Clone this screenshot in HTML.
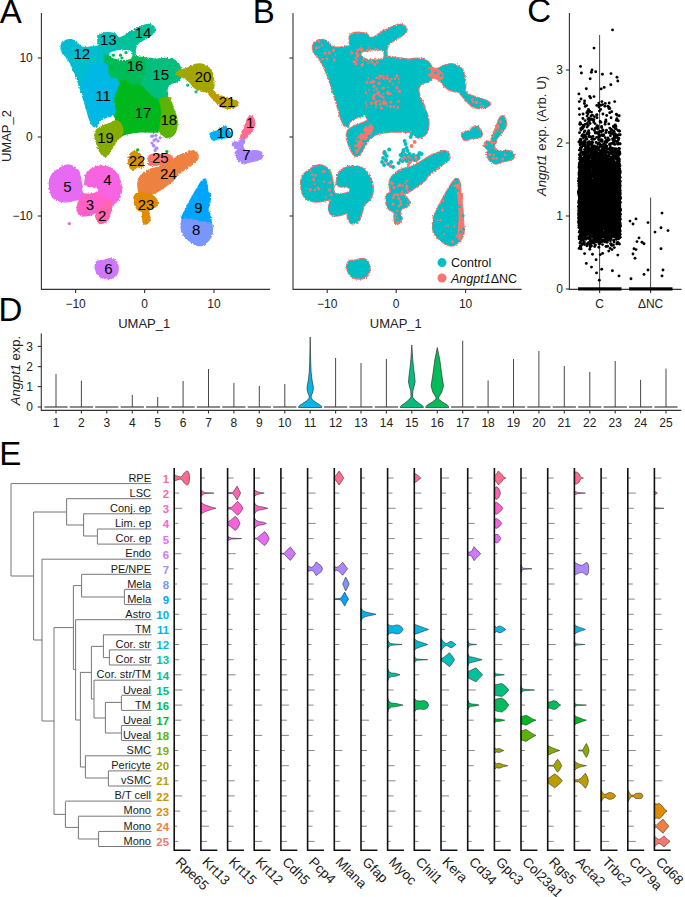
<!DOCTYPE html>
<html><head><meta charset="utf-8"><style>
html,body{margin:0;padding:0;background:#fff;}
svg{display:block;}
text{font-family:"Liberation Sans", sans-serif;}
</style></head><body>
<svg width="685" height="897" viewBox="0 0 685 897">
<rect width="685" height="897" fill="#fff"/>
<text x="-0.3" y="22.7" font-size="33" fill="#000">A</text>
<text x="252.8" y="22.7" font-size="33" fill="#000">B</text>
<text x="527.2" y="22.3" font-size="33" fill="#000">C</text>
<text x="-1.5" y="320.7" font-size="33" fill="#000">D</text>
<text x="-0.7" y="464.9" font-size="33" fill="#000">E</text>
<defs><filter id="rough" x="-5%" y="-5%" width="110%" height="110%"><feTurbulence type="fractalNoise" baseFrequency="0.6" numOctaves="2" seed="3" result="n"/><feDisplacementMap in="SourceGraphic" in2="n" scale="2.8" xChannelSelector="R" yChannelSelector="G"/></filter></defs>
<g filter="url(#rough)">
<path d="M61.2,45.5 C61.8,43.6 63.6,41.8 65.3,40.8 C67.0,39.9 69.6,39.6 71.5,39.8 C73.3,40.1 75.0,41.4 76.6,42.5 C78.1,43.6 79.0,45.7 80.7,46.6 C82.4,47.4 84.6,47.6 86.8,47.6 C89.0,47.6 91.7,46.8 93.9,46.6 C96.2,46.3 98.0,45.8 100.1,46.2 C102.1,46.5 104.7,47.0 106.2,48.6 C107.7,50.2 108.8,52.7 109.3,55.8 C109.8,58.8 111.0,64.6 109.3,67.0 C107.6,69.4 102.1,69.0 99.0,70.1 C96.0,71.1 92.9,70.2 90.9,73.1 C88.8,76.0 87.1,82.0 86.8,87.4 C86.4,92.9 88.0,100.0 88.8,105.8 C89.7,111.6 90.6,118.7 91.9,122.2 C93.2,125.7 96.4,126.1 96.6,126.7 C96.8,127.3 94.5,127.0 93.3,125.9 C92.2,124.8 90.9,122.8 89.9,120.1 C88.8,117.5 87.8,113.3 86.8,109.9 C85.8,106.5 84.7,103.1 83.7,99.7 C82.7,96.3 81.7,92.7 80.7,89.5 C79.6,86.3 78.7,83.4 77.6,80.3 C76.5,77.2 75.3,74.0 74.1,71.1 C72.9,68.2 71.7,65.3 70.4,62.9 C69.1,60.5 67.7,58.6 66.3,56.8 C65.0,55.0 63.1,54.2 62.3,52.3 C61.4,50.4 60.7,47.5 61.2,45.5Z" fill="#00BDD0" stroke="#00BDD0" stroke-width="1.4" stroke-linejoin="round"/>
<path d="M98.0,36.3 C98.5,34.8 99.2,33.9 101.1,33.3 C103.0,32.7 106.9,32.5 109.3,32.7 C111.7,32.8 113.9,33.4 115.4,34.3 C116.9,35.3 117.6,37.4 118.5,38.4 C119.3,39.4 119.7,39.8 120.5,40.4 C121.4,41.1 123.6,41.1 123.6,42.5 C123.6,43.8 121.5,47.2 120.5,48.6 C119.5,50.0 119.0,50.5 117.4,51.1 C115.9,51.7 112.8,51.8 111.3,52.3 C109.8,52.7 109.3,53.1 108.2,53.7 C107.2,54.3 106.1,55.9 105.2,55.8 C104.3,55.6 103.7,53.9 102.7,52.7 C101.8,51.5 100.2,50.3 99.5,48.6 C98.7,46.9 98.3,44.5 98.0,42.5 C97.8,40.4 97.5,37.9 98.0,36.3Z" fill="#00C0B8" stroke="#00C0B8" stroke-width="1.4" stroke-linejoin="round"/>
<path d="M117.4,39.4 C118.5,37.9 121.2,37.7 123.6,36.3 C126.0,35.0 129.0,32.8 131.7,31.2 C134.5,29.7 137.2,28.3 139.9,27.2 C142.6,26.0 145.9,24.7 148.1,24.5 C150.3,24.3 152.0,25.2 153.2,26.1 C154.4,27.1 155.4,28.9 155.3,30.2 C155.1,31.6 154.1,32.8 152.2,34.3 C150.3,35.8 146.4,37.9 144.0,39.4 C141.6,40.9 139.3,42.0 137.9,43.5 C136.5,45.0 135.9,46.6 135.4,48.6 C134.9,50.7 135.4,54.2 134.8,55.8 C134.2,57.3 132.8,58.7 131.7,57.8 C130.7,57.0 130.4,52.2 128.7,50.7 C127.0,49.1 123.4,49.5 121.5,48.6 C119.7,47.8 118.1,47.1 117.4,45.5 C116.8,44.0 116.4,40.9 117.4,39.4Z" fill="#00C19C" stroke="#00C19C" stroke-width="1.4" stroke-linejoin="round"/>
<path d="M104.8,55.2 C105.9,54.1 108.9,56.0 111.3,56.8 C113.8,57.6 116.4,59.6 119.5,60.1 C122.6,60.5 127.0,60.2 129.7,59.6 C132.4,59.1 133.8,57.2 135.8,56.8 C137.9,56.4 139.9,57.1 142.0,57.4 C144.0,57.7 146.2,57.8 148.1,58.4 C150.0,59.0 152.5,59.1 153.2,60.9 C153.9,62.6 153.0,66.3 152.2,69.0 C151.3,71.8 149.6,74.8 148.1,77.2 C146.6,79.6 145.0,81.9 143.0,83.4 C140.9,84.8 138.4,85.4 135.8,85.8 C133.3,86.2 130.4,86.1 127.7,85.8 C124.9,85.5 122.2,84.8 119.5,83.8 C116.8,82.7 113.4,81.8 111.3,79.7 C109.3,77.6 108.3,73.9 107.2,71.1 C106.1,68.3 105.2,65.6 104.8,62.9 C104.4,60.3 103.7,56.2 104.8,55.2Z" fill="#00BC59" stroke="#00BC59" stroke-width="1.4" stroke-linejoin="round"/>
<path d="M147.7,58.4 C149.3,57.5 153.5,59.4 156.3,59.4 C159.1,59.4 161.7,58.4 164.4,58.4 C167.2,58.4 170.3,58.6 172.6,59.4 C174.9,60.3 176.9,61.6 178.3,63.5 C179.8,65.5 180.8,68.7 181.2,71.1 C181.6,73.4 181.5,75.9 180.8,77.6 C180.0,79.4 178.4,80.7 176.7,81.7 C175.0,82.7 172.2,82.5 170.6,83.8 C168.9,85.1 167.3,87.3 166.9,89.5 C166.5,91.6 168.3,94.5 167.9,96.6 C167.6,98.8 166.5,100.9 164.9,102.2 C163.3,103.4 160.4,104.5 158.3,104.2 C156.2,103.9 154.3,101.5 152.2,100.1 C150.1,98.8 147.7,97.7 145.6,96.0 C143.6,94.3 140.6,92.3 139.9,89.9 C139.2,87.4 140.6,84.1 141.6,81.3 C142.5,78.5 144.8,75.9 145.6,73.1 C146.5,70.4 146.5,67.4 146.9,65.0 C147.2,62.5 146.1,59.3 147.7,58.4Z" fill="#00BF7D" stroke="#00BF7D" stroke-width="1.4" stroke-linejoin="round"/>
<path d="M115.0,82.9 C116.4,81.5 120.8,80.6 123.6,80.9 C126.4,81.2 129.0,84.3 131.7,85.0 C134.5,85.7 137.5,84.0 139.9,85.0 C142.3,86.0 144.0,89.1 146.1,91.1 C148.1,93.2 149.8,95.6 152.2,97.3 C154.6,99.0 158.2,99.9 160.4,101.3 C162.5,102.8 164.3,103.4 164.9,105.8 C165.4,108.3 164.3,112.6 163.8,116.1 C163.3,119.5 162.6,123.7 161.8,126.3 C160.9,128.9 161.0,130.9 158.7,131.8 C156.4,132.7 151.2,131.8 148.1,131.8 C145.0,131.8 142.6,131.6 139.9,131.8 C137.2,132.0 134.5,132.3 131.7,132.8 C129.0,133.3 126.0,134.0 123.6,134.9 C121.2,135.7 118.9,138.9 117.4,138.1 C116.0,137.4 115.1,133.0 115.0,130.4 C114.9,127.7 117.2,124.9 117.0,122.2 C116.8,119.5 114.0,116.7 113.8,114.0 C113.6,111.3 115.9,108.6 115.8,105.8 C115.7,103.1 113.1,100.4 112.9,97.7 C112.8,94.9 114.7,91.9 115.0,89.5 C115.3,87.0 113.6,84.4 115.0,82.9Z" fill="#00B81F" stroke="#00B81F" stroke-width="1.4" stroke-linejoin="round"/>
<path d="M160.0,100.3 C160.7,97.9 164.7,97.0 166.5,97.3 C168.3,97.5 169.9,100.0 171.0,101.7 C172.1,103.5 172.2,105.5 173.0,107.9 C173.9,110.3 175.4,113.3 176.1,116.1 C176.8,118.8 177.3,121.4 177.1,124.2 C177.0,127.0 176.2,130.7 175.1,132.8 C174.0,134.9 172.4,136.2 170.6,136.9 C168.7,137.6 165.8,137.9 164.0,136.9 C162.3,135.9 160.5,133.2 160.0,130.8 C159.4,128.3 160.6,125.3 161.0,122.2 C161.3,119.1 162.2,115.6 162.0,112.0 C161.8,108.3 159.2,102.8 160.0,100.3Z" fill="#5BB300" stroke="#5BB300" stroke-width="1.4" stroke-linejoin="round"/>
<path d="M96.6,130.0 C98.0,128.4 100.7,127.1 103.1,125.9 C105.6,124.7 109.1,123.7 111.3,122.8 C113.5,121.9 114.8,120.5 116.4,120.8 C118.0,121.0 119.8,122.5 120.9,124.2 C122.0,126.0 123.1,129.3 123.0,131.4 C122.8,133.5 121.1,135.1 119.9,136.9 C118.7,138.7 117.2,140.0 115.8,142.0 C114.4,144.0 113.1,146.6 111.7,148.8 C110.4,150.9 109.0,153.7 107.6,154.9 C106.3,156.1 104.9,156.6 103.5,155.9 C102.2,155.2 100.7,153.0 99.5,150.8 C98.3,148.6 97.1,145.2 96.4,142.6 C95.6,140.1 94.9,137.6 95.0,135.5 C95.0,133.4 95.2,131.6 96.6,130.0Z" fill="#85AD00" stroke="#85AD00" stroke-width="1.4" stroke-linejoin="round"/>
<path d="M90.9,66.0 C92.7,64.8 96.4,64.1 99.0,63.9 C101.7,63.8 105.4,63.4 106.8,65.0 C108.3,66.5 107.2,71.0 107.8,73.1 C108.5,75.3 109.5,76.9 110.9,77.8 C112.3,78.8 115.1,78.0 116.4,78.9 C117.8,79.7 119.0,81.2 119.1,82.9 C119.2,84.7 117.9,87.0 117.0,89.1 C116.2,91.2 114.8,93.5 114.2,95.6 C113.6,97.7 113.2,99.7 113.4,101.7 C113.5,103.8 114.9,105.8 115.0,107.9 C115.1,110.0 115.8,112.8 114.2,114.4 C112.5,116.1 107.9,116.4 105.2,117.7 C102.5,119.0 99.5,120.7 98.0,122.2 C96.6,123.7 97.4,126.3 96.6,126.7 C95.8,127.1 94.3,126.1 93.3,124.6 C92.3,123.2 91.4,120.9 90.5,118.1 C89.5,115.3 88.6,111.3 87.6,107.9 C86.6,104.5 85.2,101.1 84.3,97.7 C83.4,94.3 82.3,90.5 82.3,87.4 C82.3,84.4 83.4,82.0 84.3,79.3 C85.3,76.5 86.7,73.3 87.8,71.1 C88.9,68.9 89.0,67.2 90.9,66.0Z" fill="#00B8E5" stroke="#00B8E5" stroke-width="1.4" stroke-linejoin="round"/>
<path d="M176.0,74.3 C176.0,73.3 178.3,71.1 180.1,70.1 C181.9,69.1 184.6,69.3 186.8,68.4 C189.1,67.6 191.0,65.8 193.5,65.1 C196.0,64.4 199.4,63.8 201.9,64.2 C204.4,64.7 206.9,66.3 208.6,67.6 C210.2,68.8 211.1,69.7 211.9,71.8 C212.7,73.9 213.3,77.3 213.6,80.1 C213.9,82.9 213.9,86.5 213.6,88.5 C213.3,90.4 213.0,91.3 211.9,91.8 C210.8,92.4 209.1,92.1 206.9,91.8 C204.7,91.6 200.8,91.0 198.5,90.2 C196.3,89.3 194.9,88.1 193.5,86.8 C192.1,85.6 191.6,84.0 190.2,82.6 C188.8,81.2 186.8,79.6 185.2,78.5 C183.5,77.3 181.7,76.6 180.1,76.0 C178.6,75.3 176.0,75.3 176.0,74.3Z" fill="#A3A500" stroke="#A3A500" stroke-width="1.4" stroke-linejoin="round"/>
<path d="M211.1,90.2 C212.7,90.4 215.7,93.8 218.6,95.2 C221.5,96.6 225.8,97.6 228.6,98.5 C231.4,99.5 233.6,100.2 235.3,101.0 C237.0,101.9 238.7,102.6 238.7,103.5 C238.7,104.5 237.0,106.1 235.3,106.9 C233.6,107.7 231.1,108.7 228.6,108.6 C226.1,108.4 222.5,107.3 220.3,106.1 C218.0,104.8 217.2,103.1 215.3,101.0 C213.3,98.9 209.3,95.3 208.6,93.5 C207.9,91.7 209.4,89.9 211.1,90.2Z" fill="#BB9D00" stroke="#BB9D00" stroke-width="1.4" stroke-linejoin="round"/>
<path d="M210.2,133.6 C210.7,132.7 212.2,132.5 213.6,132.0 C215.0,131.4 217.2,131.1 218.6,130.3 C220.0,129.5 220.8,127.7 221.9,127.0 C223.1,126.3 224.3,125.8 225.3,126.1 C226.3,126.4 227.0,127.4 227.8,128.6 C228.6,129.9 230.2,132.3 230.3,133.6 C230.4,135.0 230.6,136.2 228.6,137.0 C226.7,137.8 221.1,138.1 218.6,138.7 C216.1,139.2 214.8,140.5 213.6,140.3 C212.3,140.2 211.6,138.9 211.1,137.8 C210.5,136.7 209.8,134.6 210.2,133.6Z" fill="#00B0F6" stroke="#00B0F6" stroke-width="1.4" stroke-linejoin="round"/>
<path d="M240.9,139.1 C240.5,138.2 241.0,135.4 241.5,133.6 C242.0,131.9 243.3,130.3 244.0,128.7 C244.7,127.1 245.2,125.4 245.8,123.8 C246.4,122.2 247.0,120.2 247.7,118.9 C248.4,117.6 249.3,116.5 250.1,116.2 C250.9,115.9 251.8,116.1 252.6,117.1 C253.4,118.0 254.6,120.2 254.8,122.0 C255.0,123.7 254.5,125.7 253.8,127.5 C253.1,129.2 251.9,131.0 250.7,132.4 C249.6,133.8 248.2,134.9 247.1,136.1 C245.9,137.3 245.0,139.0 244.0,139.5 C243.0,140.0 241.3,140.1 240.9,139.1Z" fill="#FF6C90" stroke="#FF6C90" stroke-width="1.4" stroke-linejoin="round"/>
<path d="M232.3,144.7 C232.4,143.8 233.8,142.3 234.8,142.0 C235.8,141.6 237.5,142.7 238.5,142.5 C239.4,142.2 239.4,140.9 240.3,140.4 C241.2,139.9 243.3,139.3 244.0,139.5 C244.7,139.7 244.8,140.7 244.6,141.6 C244.4,142.5 243.0,143.5 242.8,144.7 C242.6,145.8 242.6,147.2 243.4,148.3 C244.2,149.5 245.9,151.0 247.7,151.4 C249.4,151.8 251.8,150.8 253.8,150.8 C255.8,150.8 258.5,150.7 259.9,151.4 C261.4,152.1 262.2,153.9 262.4,155.1 C262.6,156.3 262.2,157.9 261.2,158.8 C260.1,159.7 258.1,160.1 256.3,160.6 C254.4,161.1 252.2,161.3 250.1,161.8 C248.1,162.4 245.7,163.7 244.0,163.7 C242.2,163.7 240.9,162.8 239.7,161.8 C238.5,160.9 237.3,159.6 236.6,158.2 C235.9,156.7 235.3,154.7 235.4,153.3 C235.5,151.8 237.4,150.6 237.2,149.6 C237.0,148.5 235.0,147.9 234.2,147.1 C233.4,146.3 232.2,145.5 232.3,144.7Z" fill="#AC88FF" stroke="#AC88FF" stroke-width="1.4" stroke-linejoin="round"/>
<path d="M129.3,155.9 C129.8,154.4 130.7,153.2 131.8,152.5 C132.9,151.8 134.6,151.4 136.0,151.7 C137.3,152.0 139.2,153.1 140.1,154.2 C141.1,155.3 141.2,156.9 141.8,158.4 C142.4,159.9 143.5,161.9 143.5,163.4 C143.5,164.9 142.8,167.0 141.8,167.6 C140.8,168.1 139.0,166.5 137.6,166.8 C136.2,167.0 134.7,169.1 133.4,169.3 C132.2,169.4 130.9,168.8 130.1,167.6 C129.3,166.3 128.6,163.7 128.4,161.7 C128.3,159.8 128.7,157.4 129.3,155.9Z" fill="#CF9400" stroke="#CF9400" stroke-width="1.4" stroke-linejoin="round"/>
<path d="M148.5,157.6 C148.8,156.4 148.8,155.6 150.2,155.1 C151.6,154.5 154.1,154.4 156.9,154.2 C159.6,154.1 164.4,153.8 166.9,154.2 C169.4,154.6 170.8,155.5 171.9,156.7 C173.0,158.0 173.9,160.3 173.6,161.7 C173.3,163.1 171.9,164.7 170.2,165.1 C168.6,165.5 165.8,164.2 163.5,164.2 C161.3,164.2 159.2,164.9 156.9,165.1 C154.5,165.2 150.7,165.6 149.3,165.1 C147.9,164.5 148.6,163.0 148.5,161.7 C148.4,160.5 148.2,158.7 148.5,157.6Z" fill="#F8766D" stroke="#F8766D" stroke-width="1.4" stroke-linejoin="round"/>
<path d="M138.5,179.3 C139.3,176.5 141.5,175.1 143.5,173.4 C145.4,171.8 147.9,170.2 150.2,169.3 C152.4,168.3 154.6,168.3 156.9,167.6 C159.1,166.9 161.0,166.3 163.5,165.1 C166.1,163.8 169.4,161.6 171.9,160.1 C174.4,158.5 176.1,157.1 178.6,155.9 C181.1,154.6 184.4,153.4 187.0,152.5 C189.5,151.7 191.8,150.5 193.6,150.9 C195.5,151.3 197.3,153.5 197.8,155.1 C198.4,156.6 198.2,158.4 197.0,160.1 C195.7,161.7 192.5,163.4 190.3,165.1 C188.1,166.8 185.8,168.4 183.6,170.1 C181.4,171.8 178.6,173.4 176.9,175.1 C175.3,176.8 175.3,178.5 173.6,180.1 C171.9,181.8 169.7,183.2 166.9,185.2 C164.1,187.1 159.9,190.2 156.9,191.8 C153.8,193.5 151.0,194.3 148.5,195.2 C146.0,196.0 143.5,197.7 141.8,196.9 C140.1,196.0 139.0,193.1 138.5,190.2 C137.9,187.2 137.6,182.1 138.5,179.3Z" fill="#ED8141" stroke="#ED8141" stroke-width="1.4" stroke-linejoin="round"/>
<path d="M134.3,196.0 C135.0,194.8 136.9,193.1 138.5,192.7 C140.0,192.3 141.5,193.2 143.5,193.5 C145.4,193.8 148.2,193.7 150.2,194.3 C152.1,195.0 153.9,196.3 155.2,197.7 C156.4,199.1 157.7,201.2 157.7,202.7 C157.7,204.2 156.4,205.9 155.2,206.9 C153.9,207.9 151.3,207.4 150.2,208.6 C149.1,209.7 148.5,211.9 148.5,213.6 C148.5,215.3 150.4,216.9 150.2,218.6 C149.9,220.3 147.9,222.9 146.8,223.6 C145.7,224.3 144.2,223.9 143.5,222.8 C142.8,221.7 142.8,218.7 142.6,216.9 C142.5,215.1 143.3,213.0 142.6,211.9 C141.9,210.8 139.7,211.3 138.5,210.2 C137.2,209.1 135.8,206.9 135.1,205.2 C134.4,203.5 134.4,201.7 134.3,200.2 C134.1,198.7 133.6,197.3 134.3,196.0Z" fill="#E08B00" stroke="#E08B00" stroke-width="1.4" stroke-linejoin="round"/>
<path d="M181.9,218.6 C181.1,216.6 183.9,213.3 185.3,210.2 C186.7,207.2 188.4,203.8 190.3,200.2 C192.3,196.6 195.0,191.7 197.0,188.5 C198.9,185.3 200.6,182.5 202.0,181.0 C203.4,179.4 204.5,178.6 205.4,179.3 C206.2,180.0 206.6,183.1 207.0,185.2 C207.4,187.2 207.3,190.2 207.9,191.8 C208.4,193.5 210.1,193.2 210.4,195.2 C210.6,197.1 209.9,201.3 209.5,203.5 C209.1,205.8 207.9,206.9 207.9,208.6 C207.9,210.2 209.0,211.3 209.5,213.6 C210.1,215.8 211.0,219.7 211.2,221.9 C211.4,224.2 212.5,226.7 210.7,227.0 C208.9,227.2 203.7,224.4 200.3,223.6 C196.9,222.8 193.4,222.8 190.3,221.9 C187.2,221.1 182.8,220.5 181.9,218.6Z" fill="#00A5FF" stroke="#00A5FF" stroke-width="1.4" stroke-linejoin="round"/>
<path d="M181.1,227.0 C181.0,224.7 180.7,221.5 182.3,220.3 C183.8,219.0 187.3,219.2 190.3,219.4 C193.3,219.7 196.9,221.2 200.3,221.9 C203.7,222.6 208.8,221.7 210.7,223.6 C212.7,225.6 212.4,230.9 212.0,233.6 C211.7,236.4 210.4,238.4 208.7,240.3 C207.0,242.3 204.2,244.7 202.0,245.4 C199.8,246.0 197.5,245.4 195.3,244.5 C193.1,243.7 190.7,242.1 188.6,240.3 C186.5,238.5 184.0,235.9 182.8,233.6 C181.5,231.4 181.2,229.2 181.1,227.0Z" fill="#7997FF" stroke="#7997FF" stroke-width="1.4" stroke-linejoin="round"/>
<path d="M49.2,183.4 C49.2,180.1 50.2,177.5 51.7,175.1 C53.2,172.7 55.9,170.9 58.4,169.2 C60.9,167.6 64.2,165.5 66.8,165.1 C69.3,164.6 71.4,165.6 73.4,166.7 C75.5,167.8 77.6,169.6 78.8,171.7 C80.0,173.8 80.1,177.0 80.6,179.3 C81.1,181.5 81.3,183.3 81.8,185.1 C82.3,186.9 83.0,188.7 83.5,190.1 C84.0,191.6 85.1,192.5 84.8,193.8 C84.5,195.2 83.7,197.0 81.8,198.2 C79.9,199.3 76.2,199.9 73.4,200.5 C70.7,201.1 67.9,201.9 65.1,201.8 C62.3,201.8 59.0,201.3 56.7,200.2 C54.5,199.1 53.0,197.9 51.7,195.2 C50.5,192.4 49.2,186.8 49.2,183.4Z" fill="#E76BF3" stroke="#E76BF3" stroke-width="1.4" stroke-linejoin="round"/>
<path d="M84.8,183.4 C85.4,181.1 84.8,176.1 86.5,173.4 C88.2,170.7 92.3,168.5 95.2,167.2 C98.0,166.0 100.7,165.8 103.5,166.1 C106.4,166.3 109.8,167.2 112.2,168.9 C114.7,170.6 116.6,173.4 118.1,176.4 C119.6,179.4 121.1,183.3 121.4,186.8 C121.7,190.2 121.1,194.4 119.9,197.2 C118.8,199.9 116.0,201.7 114.4,203.2 C112.8,204.7 111.5,206.2 110.2,206.0 C109.0,205.8 108.1,203.2 106.9,201.8 C105.6,200.4 104.2,199.0 102.7,197.7 C101.2,196.3 99.8,194.6 97.7,193.8 C95.6,193.0 92.4,193.0 90.2,192.6 C87.9,192.3 85.5,192.6 84.3,191.8 C83.1,191.0 83.1,189.0 83.1,187.6 C83.2,186.2 84.3,185.8 84.8,183.4Z" fill="#F763E0" stroke="#F763E0" stroke-width="1.4" stroke-linejoin="round"/>
<path d="M77.6,205.2 C77.9,203.2 78.5,201.7 79.3,200.2 C80.1,198.6 81.5,197.2 82.6,196.0 C83.8,194.8 84.7,193.7 86.0,193.1 C87.2,192.6 88.4,192.5 90.2,192.6 C92.0,192.8 94.8,193.3 96.9,193.8 C98.9,194.4 101.0,194.9 102.7,196.0 C104.4,197.0 105.9,198.6 106.9,200.2 C107.9,201.7 109.1,203.7 108.6,205.2 C108.0,206.7 105.5,208.2 103.5,209.4 C101.6,210.5 98.8,211.0 96.9,211.9 C94.9,212.7 93.5,213.8 91.8,214.4 C90.2,215.0 88.5,215.4 86.8,215.6 C85.2,215.7 83.3,216.1 81.8,215.6 C80.3,215.0 78.3,213.9 77.6,212.2 C76.9,210.5 77.3,207.2 77.6,205.2Z" fill="#FF61C9" stroke="#FF61C9" stroke-width="1.4" stroke-linejoin="round"/>
<path d="M96.0,214.4 C96.4,212.8 97.0,211.2 98.5,209.4 C100.1,207.6 103.3,205.0 105.2,203.5 C107.2,202.0 109.1,199.9 110.2,200.2 C111.3,200.4 111.9,203.0 111.9,205.2 C111.9,207.4 110.9,211.0 110.2,213.5 C109.5,216.1 108.7,218.7 107.7,220.2 C106.8,221.8 105.8,222.2 104.4,222.7 C103.0,223.2 100.7,223.9 99.4,223.2 C98.1,222.6 97.1,220.4 96.5,218.9 C96.0,217.4 95.7,216.0 96.0,214.4Z" fill="#FF65AE" stroke="#FF65AE" stroke-width="1.4" stroke-linejoin="round"/>
<path d="M95.2,265.4 C95.3,263.4 96.3,262.0 97.7,261.2 C99.1,260.4 101.5,260.8 103.5,260.4 C105.6,259.9 108.3,258.7 110.2,258.7 C112.2,258.7 114.0,259.3 115.3,260.4 C116.5,261.5 117.3,263.4 117.8,265.4 C118.2,267.3 118.3,270.1 117.8,272.1 C117.2,274.0 116.2,276.0 114.4,277.1 C112.6,278.2 109.1,278.8 106.9,278.8 C104.7,278.8 102.7,278.1 101.0,277.1 C99.4,276.1 97.8,274.9 96.9,272.9 C95.9,271.0 95.0,267.3 95.2,265.4Z" fill="#CF78FF" stroke="#CF78FF" stroke-width="1.4" stroke-linejoin="round"/>
<path d="M109.7,53.1 C110.3,52.0 113.1,51.2 115.4,50.7 C117.7,50.1 121.0,50.0 123.6,50.0 C126.1,50.1 129.3,50.1 130.7,51.1 C132.2,52.0 132.6,54.4 132.4,55.8 C132.1,57.1 131.4,58.6 129.3,59.2 C127.2,59.9 122.4,59.9 119.5,59.6 C116.6,59.4 113.4,58.7 111.7,57.6 C110.1,56.5 109.1,54.3 109.7,53.1Z" fill="#fff"/>
<path d="M82.8,186.5 C83.1,185.6 83.4,185.0 84.3,185.1 C85.3,185.2 86.7,186.8 88.5,187.1 C90.3,187.5 93.6,186.7 95.2,187.1 C96.8,187.6 98.3,188.9 98.2,189.8 C98.1,190.7 96.0,192.2 94.3,192.8 C92.7,193.4 90.3,193.4 88.5,193.5 C86.7,193.5 84.8,193.7 83.8,193.1 C82.8,192.6 82.5,191.2 82.3,190.1 C82.1,189.0 82.5,187.3 82.8,186.5Z" fill="#fff"/>
</g>
<circle cx="151.7" cy="136.2" r="1.6" fill="#AC88FF"/>
<circle cx="155.9" cy="135.3" r="1.6" fill="#AC88FF"/>
<circle cx="160.1" cy="137.8" r="1.6" fill="#AC88FF"/>
<circle cx="154.2" cy="140.3" r="1.6" fill="#AC88FF"/>
<circle cx="153.4" cy="145.4" r="1.6" fill="#AC88FF"/>
<circle cx="155.9" cy="148.7" r="1.6" fill="#AC88FF"/>
<circle cx="155.1" cy="150.4" r="1.6" fill="#AC88FF"/>
<circle cx="69.3" cy="223.6" r="1.6" fill="#FF61C9"/>
<circle cx="113.4" cy="55.2" r="1.6" fill="#00BC59"/>
<circle cx="120.5" cy="55.2" r="1.6" fill="#00BC59"/>
<circle cx="121.9" cy="58.0" r="1.6" fill="#00BC59"/>
<circle cx="126.0" cy="52.7" r="1.6" fill="#00BC59"/>
<circle cx="187.7" cy="85.2" r="1.6" fill="#00C19C"/>
<circle cx="196.0" cy="91.8" r="1.6" fill="#00C19C"/>
<circle cx="170.0" cy="98.5" r="1.6" fill="#BB9D00"/>
<circle cx="137.6" cy="149.8" r="1.6" fill="#00B81F"/>
<circle cx="166.9" cy="151.5" r="1.6" fill="#00B81F"/>
<circle cx="112.0" cy="68.0" r="1.6" fill="#00B81F"/>
<circle cx="128.0" cy="72.0" r="1.6" fill="#00B81F"/>
<circle cx="153.0" cy="136.0" r="1.6" fill="#AC88FF"/>
<circle cx="156.0" cy="139.0" r="1.6" fill="#AC88FF"/>
<circle cx="158.0" cy="141.0" r="1.6" fill="#AC88FF"/>
<circle cx="154.0" cy="146.0" r="1.6" fill="#AC88FF"/>
<circle cx="157.0" cy="148.0" r="1.6" fill="#AC88FF"/>
<circle cx="152.0" cy="143.0" r="1.6" fill="#AC88FF"/>
<text x="108.3" y="45.1" font-size="15" text-anchor="middle" fill="#000">13</text>
<text x="143.0" y="38.1" font-size="15" text-anchor="middle" fill="#000">14</text>
<text x="81.8" y="59.4" font-size="15" text-anchor="middle" fill="#000">12</text>
<text x="135.0" y="70.8" font-size="15" text-anchor="middle" fill="#000">16</text>
<text x="160.7" y="80.2" font-size="15" text-anchor="middle" fill="#000">15</text>
<text x="203.0" y="82.3" font-size="15" text-anchor="middle" fill="#000">20</text>
<text x="103.0" y="101.4" font-size="15" text-anchor="middle" fill="#000">11</text>
<text x="227.0" y="107.4" font-size="15" text-anchor="middle" fill="#000">21</text>
<text x="143.0" y="118.4" font-size="15" text-anchor="middle" fill="#000">17</text>
<text x="168.8" y="124.8" font-size="15" text-anchor="middle" fill="#000">18</text>
<text x="105.5" y="143.2" font-size="15" text-anchor="middle" fill="#000">19</text>
<text x="224.9" y="138.3" font-size="15" text-anchor="middle" fill="#000">10</text>
<text x="250.2" y="128.0" font-size="15" text-anchor="middle" fill="#000">1</text>
<text x="246.5" y="159.9" font-size="15" text-anchor="middle" fill="#000">7</text>
<text x="137.0" y="166.1" font-size="15" text-anchor="middle" fill="#000">22</text>
<text x="160.3" y="162.8" font-size="15" text-anchor="middle" fill="#000">25</text>
<text x="168.4" y="179.2" font-size="15" text-anchor="middle" fill="#000">24</text>
<text x="67.5" y="192.2" font-size="15" text-anchor="middle" fill="#000">5</text>
<text x="107.5" y="185.4" font-size="15" text-anchor="middle" fill="#000">4</text>
<text x="90.0" y="209.8" font-size="15" text-anchor="middle" fill="#000">3</text>
<text x="102.2" y="220.9" font-size="15" text-anchor="middle" fill="#000">2</text>
<text x="146.0" y="209.8" font-size="15" text-anchor="middle" fill="#000">23</text>
<text x="198.3" y="213.1" font-size="15" text-anchor="middle" fill="#000">9</text>
<text x="196.2" y="235.2" font-size="15" text-anchor="middle" fill="#000">8</text>
<text x="108.3" y="274.0" font-size="15" text-anchor="middle" fill="#000">6</text>
<g transform="translate(251.6,0)">
<g filter="url(#rough)">
<path d="M61.2,45.5 C61.8,43.6 63.6,41.8 65.3,40.8 C67.0,39.9 69.6,39.6 71.5,39.8 C73.3,40.1 75.0,41.4 76.6,42.5 C78.1,43.6 79.0,45.7 80.7,46.6 C82.4,47.4 84.6,47.6 86.8,47.6 C89.0,47.6 91.7,46.8 93.9,46.6 C96.2,46.3 98.0,45.8 100.1,46.2 C102.1,46.5 104.7,47.0 106.2,48.6 C107.7,50.2 108.8,52.7 109.3,55.8 C109.8,58.8 111.0,64.6 109.3,67.0 C107.6,69.4 102.1,69.0 99.0,70.1 C96.0,71.1 92.9,70.2 90.9,73.1 C88.8,76.0 87.1,82.0 86.8,87.4 C86.4,92.9 88.0,100.0 88.8,105.8 C89.7,111.6 90.6,118.7 91.9,122.2 C93.2,125.7 96.4,126.1 96.6,126.7 C96.8,127.3 94.5,127.0 93.3,125.9 C92.2,124.8 90.9,122.8 89.9,120.1 C88.8,117.5 87.8,113.3 86.8,109.9 C85.8,106.5 84.7,103.1 83.7,99.7 C82.7,96.3 81.7,92.7 80.7,89.5 C79.6,86.3 78.7,83.4 77.6,80.3 C76.5,77.2 75.3,74.0 74.1,71.1 C72.9,68.2 71.7,65.3 70.4,62.9 C69.1,60.5 67.7,58.6 66.3,56.8 C65.0,55.0 63.1,54.2 62.3,52.3 C61.4,50.4 60.7,47.5 61.2,45.5Z" fill="#00BFC4" stroke="#F8766D" stroke-width="2"/>
<path d="M98.0,36.3 C98.5,34.8 99.2,33.9 101.1,33.3 C103.0,32.7 106.9,32.5 109.3,32.7 C111.7,32.8 113.9,33.4 115.4,34.3 C116.9,35.3 117.6,37.4 118.5,38.4 C119.3,39.4 119.7,39.8 120.5,40.4 C121.4,41.1 123.6,41.1 123.6,42.5 C123.6,43.8 121.5,47.2 120.5,48.6 C119.5,50.0 119.0,50.5 117.4,51.1 C115.9,51.7 112.8,51.8 111.3,52.3 C109.8,52.7 109.3,53.1 108.2,53.7 C107.2,54.3 106.1,55.9 105.2,55.8 C104.3,55.6 103.7,53.9 102.7,52.7 C101.8,51.5 100.2,50.3 99.5,48.6 C98.7,46.9 98.3,44.5 98.0,42.5 C97.8,40.4 97.5,37.9 98.0,36.3Z" fill="#00BFC4" stroke="#F8766D" stroke-width="2"/>
<path d="M117.4,39.4 C118.5,37.9 121.2,37.7 123.6,36.3 C126.0,35.0 129.0,32.8 131.7,31.2 C134.5,29.7 137.2,28.3 139.9,27.2 C142.6,26.0 145.9,24.7 148.1,24.5 C150.3,24.3 152.0,25.2 153.2,26.1 C154.4,27.1 155.4,28.9 155.3,30.2 C155.1,31.6 154.1,32.8 152.2,34.3 C150.3,35.8 146.4,37.9 144.0,39.4 C141.6,40.9 139.3,42.0 137.9,43.5 C136.5,45.0 135.9,46.6 135.4,48.6 C134.9,50.7 135.4,54.2 134.8,55.8 C134.2,57.3 132.8,58.7 131.7,57.8 C130.7,57.0 130.4,52.2 128.7,50.7 C127.0,49.1 123.4,49.5 121.5,48.6 C119.7,47.8 118.1,47.1 117.4,45.5 C116.8,44.0 116.4,40.9 117.4,39.4Z" fill="#00BFC4" stroke="#F8766D" stroke-width="2"/>
<path d="M104.8,55.2 C105.9,54.1 108.9,56.0 111.3,56.8 C113.8,57.6 116.4,59.6 119.5,60.1 C122.6,60.5 127.0,60.2 129.7,59.6 C132.4,59.1 133.8,57.2 135.8,56.8 C137.9,56.4 139.9,57.1 142.0,57.4 C144.0,57.7 146.2,57.8 148.1,58.4 C150.0,59.0 152.5,59.1 153.2,60.9 C153.9,62.6 153.0,66.3 152.2,69.0 C151.3,71.8 149.6,74.8 148.1,77.2 C146.6,79.6 145.0,81.9 143.0,83.4 C140.9,84.8 138.4,85.4 135.8,85.8 C133.3,86.2 130.4,86.1 127.7,85.8 C124.9,85.5 122.2,84.8 119.5,83.8 C116.8,82.7 113.4,81.8 111.3,79.7 C109.3,77.6 108.3,73.9 107.2,71.1 C106.1,68.3 105.2,65.6 104.8,62.9 C104.4,60.3 103.7,56.2 104.8,55.2Z" fill="#00BFC4" stroke="#F8766D" stroke-width="2"/>
<path d="M147.7,58.4 C149.3,57.5 153.5,59.4 156.3,59.4 C159.1,59.4 161.7,58.4 164.4,58.4 C167.2,58.4 170.3,58.6 172.6,59.4 C174.9,60.3 176.9,61.6 178.3,63.5 C179.8,65.5 180.8,68.7 181.2,71.1 C181.6,73.4 181.5,75.9 180.8,77.6 C180.0,79.4 178.4,80.7 176.7,81.7 C175.0,82.7 172.2,82.5 170.6,83.8 C168.9,85.1 167.3,87.3 166.9,89.5 C166.5,91.6 168.3,94.5 167.9,96.6 C167.6,98.8 166.5,100.9 164.9,102.2 C163.3,103.4 160.4,104.5 158.3,104.2 C156.2,103.9 154.3,101.5 152.2,100.1 C150.1,98.8 147.7,97.7 145.6,96.0 C143.6,94.3 140.6,92.3 139.9,89.9 C139.2,87.4 140.6,84.1 141.6,81.3 C142.5,78.5 144.8,75.9 145.6,73.1 C146.5,70.4 146.5,67.4 146.9,65.0 C147.2,62.5 146.1,59.3 147.7,58.4Z" fill="#00BFC4" stroke="#F8766D" stroke-width="2"/>
<path d="M115.0,82.9 C116.4,81.5 120.8,80.6 123.6,80.9 C126.4,81.2 129.0,84.3 131.7,85.0 C134.5,85.7 137.5,84.0 139.9,85.0 C142.3,86.0 144.0,89.1 146.1,91.1 C148.1,93.2 149.8,95.6 152.2,97.3 C154.6,99.0 158.2,99.9 160.4,101.3 C162.5,102.8 164.3,103.4 164.9,105.8 C165.4,108.3 164.3,112.6 163.8,116.1 C163.3,119.5 162.6,123.7 161.8,126.3 C160.9,128.9 161.0,130.9 158.7,131.8 C156.4,132.7 151.2,131.8 148.1,131.8 C145.0,131.8 142.6,131.6 139.9,131.8 C137.2,132.0 134.5,132.3 131.7,132.8 C129.0,133.3 126.0,134.0 123.6,134.9 C121.2,135.7 118.9,138.9 117.4,138.1 C116.0,137.4 115.1,133.0 115.0,130.4 C114.9,127.7 117.2,124.9 117.0,122.2 C116.8,119.5 114.0,116.7 113.8,114.0 C113.6,111.3 115.9,108.6 115.8,105.8 C115.7,103.1 113.1,100.4 112.9,97.7 C112.8,94.9 114.7,91.9 115.0,89.5 C115.3,87.0 113.6,84.4 115.0,82.9Z" fill="#00BFC4" stroke="#F8766D" stroke-width="2"/>
<path d="M160.0,100.3 C160.7,97.9 164.7,97.0 166.5,97.3 C168.3,97.5 169.9,100.0 171.0,101.7 C172.1,103.5 172.2,105.5 173.0,107.9 C173.9,110.3 175.4,113.3 176.1,116.1 C176.8,118.8 177.3,121.4 177.1,124.2 C177.0,127.0 176.2,130.7 175.1,132.8 C174.0,134.9 172.4,136.2 170.6,136.9 C168.7,137.6 165.8,137.9 164.0,136.9 C162.3,135.9 160.5,133.2 160.0,130.8 C159.4,128.3 160.6,125.3 161.0,122.2 C161.3,119.1 162.2,115.6 162.0,112.0 C161.8,108.3 159.2,102.8 160.0,100.3Z" fill="#00BFC4" stroke="#F8766D" stroke-width="2"/>
<path d="M96.6,130.0 C98.0,128.4 100.7,127.1 103.1,125.9 C105.6,124.7 109.1,123.7 111.3,122.8 C113.5,121.9 114.8,120.5 116.4,120.8 C118.0,121.0 119.8,122.5 120.9,124.2 C122.0,126.0 123.1,129.3 123.0,131.4 C122.8,133.5 121.1,135.1 119.9,136.9 C118.7,138.7 117.2,140.0 115.8,142.0 C114.4,144.0 113.1,146.6 111.7,148.8 C110.4,150.9 109.0,153.7 107.6,154.9 C106.3,156.1 104.9,156.6 103.5,155.9 C102.2,155.2 100.7,153.0 99.5,150.8 C98.3,148.6 97.1,145.2 96.4,142.6 C95.6,140.1 94.9,137.6 95.0,135.5 C95.0,133.4 95.2,131.6 96.6,130.0Z" fill="#00BFC4" stroke="#F8766D" stroke-width="2"/>
<path d="M90.9,66.0 C92.7,64.8 96.4,64.1 99.0,63.9 C101.7,63.8 105.4,63.4 106.8,65.0 C108.3,66.5 107.2,71.0 107.8,73.1 C108.5,75.3 109.5,76.9 110.9,77.8 C112.3,78.8 115.1,78.0 116.4,78.9 C117.8,79.7 119.0,81.2 119.1,82.9 C119.2,84.7 117.9,87.0 117.0,89.1 C116.2,91.2 114.8,93.5 114.2,95.6 C113.6,97.7 113.2,99.7 113.4,101.7 C113.5,103.8 114.9,105.8 115.0,107.9 C115.1,110.0 115.8,112.8 114.2,114.4 C112.5,116.1 107.9,116.4 105.2,117.7 C102.5,119.0 99.5,120.7 98.0,122.2 C96.6,123.7 97.4,126.3 96.6,126.7 C95.8,127.1 94.3,126.1 93.3,124.6 C92.3,123.2 91.4,120.9 90.5,118.1 C89.5,115.3 88.6,111.3 87.6,107.9 C86.6,104.5 85.2,101.1 84.3,97.7 C83.4,94.3 82.3,90.5 82.3,87.4 C82.3,84.4 83.4,82.0 84.3,79.3 C85.3,76.5 86.7,73.3 87.8,71.1 C88.9,68.9 89.0,67.2 90.9,66.0Z" fill="#00BFC4" stroke="#F8766D" stroke-width="2"/>
<path d="M176.0,74.3 C176.0,73.3 178.3,71.1 180.1,70.1 C181.9,69.1 184.6,69.3 186.8,68.4 C189.1,67.6 191.0,65.8 193.5,65.1 C196.0,64.4 199.4,63.8 201.9,64.2 C204.4,64.7 206.9,66.3 208.6,67.6 C210.2,68.8 211.1,69.7 211.9,71.8 C212.7,73.9 213.3,77.3 213.6,80.1 C213.9,82.9 213.9,86.5 213.6,88.5 C213.3,90.4 213.0,91.3 211.9,91.8 C210.8,92.4 209.1,92.1 206.9,91.8 C204.7,91.6 200.8,91.0 198.5,90.2 C196.3,89.3 194.9,88.1 193.5,86.8 C192.1,85.6 191.6,84.0 190.2,82.6 C188.8,81.2 186.8,79.6 185.2,78.5 C183.5,77.3 181.7,76.6 180.1,76.0 C178.6,75.3 176.0,75.3 176.0,74.3Z" fill="#00BFC4" stroke="#F8766D" stroke-width="2"/>
<path d="M211.1,90.2 C212.7,90.4 215.7,93.8 218.6,95.2 C221.5,96.6 225.8,97.6 228.6,98.5 C231.4,99.5 233.6,100.2 235.3,101.0 C237.0,101.9 238.7,102.6 238.7,103.5 C238.7,104.5 237.0,106.1 235.3,106.9 C233.6,107.7 231.1,108.7 228.6,108.6 C226.1,108.4 222.5,107.3 220.3,106.1 C218.0,104.8 217.2,103.1 215.3,101.0 C213.3,98.9 209.3,95.3 208.6,93.5 C207.9,91.7 209.4,89.9 211.1,90.2Z" fill="#00BFC4" stroke="#F8766D" stroke-width="2"/>
<path d="M210.2,133.6 C210.7,132.7 212.2,132.5 213.6,132.0 C215.0,131.4 217.2,131.1 218.6,130.3 C220.0,129.5 220.8,127.7 221.9,127.0 C223.1,126.3 224.3,125.8 225.3,126.1 C226.3,126.4 227.0,127.4 227.8,128.6 C228.6,129.9 230.2,132.3 230.3,133.6 C230.4,135.0 230.6,136.2 228.6,137.0 C226.7,137.8 221.1,138.1 218.6,138.7 C216.1,139.2 214.8,140.5 213.6,140.3 C212.3,140.2 211.6,138.9 211.1,137.8 C210.5,136.7 209.8,134.6 210.2,133.6Z" fill="#00BFC4" stroke="#F8766D" stroke-width="2"/>
<path d="M240.9,139.1 C240.5,138.2 241.0,135.4 241.5,133.6 C242.0,131.9 243.3,130.3 244.0,128.7 C244.7,127.1 245.2,125.4 245.8,123.8 C246.4,122.2 247.0,120.2 247.7,118.9 C248.4,117.6 249.3,116.5 250.1,116.2 C250.9,115.9 251.8,116.1 252.6,117.1 C253.4,118.0 254.6,120.2 254.8,122.0 C255.0,123.7 254.5,125.7 253.8,127.5 C253.1,129.2 251.9,131.0 250.7,132.4 C249.6,133.8 248.2,134.9 247.1,136.1 C245.9,137.3 245.0,139.0 244.0,139.5 C243.0,140.0 241.3,140.1 240.9,139.1Z" fill="#00BFC4" stroke="#F8766D" stroke-width="2"/>
<path d="M232.3,144.7 C232.4,143.8 233.8,142.3 234.8,142.0 C235.8,141.6 237.5,142.7 238.5,142.5 C239.4,142.2 239.4,140.9 240.3,140.4 C241.2,139.9 243.3,139.3 244.0,139.5 C244.7,139.7 244.8,140.7 244.6,141.6 C244.4,142.5 243.0,143.5 242.8,144.7 C242.6,145.8 242.6,147.2 243.4,148.3 C244.2,149.5 245.9,151.0 247.7,151.4 C249.4,151.8 251.8,150.8 253.8,150.8 C255.8,150.8 258.5,150.7 259.9,151.4 C261.4,152.1 262.2,153.9 262.4,155.1 C262.6,156.3 262.2,157.9 261.2,158.8 C260.1,159.7 258.1,160.1 256.3,160.6 C254.4,161.1 252.2,161.3 250.1,161.8 C248.1,162.4 245.7,163.7 244.0,163.7 C242.2,163.7 240.9,162.8 239.7,161.8 C238.5,160.9 237.3,159.6 236.6,158.2 C235.9,156.7 235.3,154.7 235.4,153.3 C235.5,151.8 237.4,150.6 237.2,149.6 C237.0,148.5 235.0,147.9 234.2,147.1 C233.4,146.3 232.2,145.5 232.3,144.7Z" fill="#00BFC4" stroke="#F8766D" stroke-width="2"/>
<path d="M138.5,179.3 C139.3,176.5 141.5,175.1 143.5,173.4 C145.4,171.8 147.9,170.2 150.2,169.3 C152.4,168.3 154.6,168.3 156.9,167.6 C159.1,166.9 161.0,166.3 163.5,165.1 C166.1,163.8 169.4,161.6 171.9,160.1 C174.4,158.5 176.1,157.1 178.6,155.9 C181.1,154.6 184.4,153.4 187.0,152.5 C189.5,151.7 191.8,150.5 193.6,150.9 C195.5,151.3 197.3,153.5 197.8,155.1 C198.4,156.6 198.2,158.4 197.0,160.1 C195.7,161.7 192.5,163.4 190.3,165.1 C188.1,166.8 185.8,168.4 183.6,170.1 C181.4,171.8 178.6,173.4 176.9,175.1 C175.3,176.8 175.3,178.5 173.6,180.1 C171.9,181.8 169.7,183.2 166.9,185.2 C164.1,187.1 159.9,190.2 156.9,191.8 C153.8,193.5 151.0,194.3 148.5,195.2 C146.0,196.0 143.5,197.7 141.8,196.9 C140.1,196.0 139.0,193.1 138.5,190.2 C137.9,187.2 137.6,182.1 138.5,179.3Z" fill="#00BFC4" stroke="#F8766D" stroke-width="2"/>
<path d="M134.3,196.0 C135.0,194.8 136.9,193.1 138.5,192.7 C140.0,192.3 141.5,193.2 143.5,193.5 C145.4,193.8 148.2,193.7 150.2,194.3 C152.1,195.0 153.9,196.3 155.2,197.7 C156.4,199.1 157.7,201.2 157.7,202.7 C157.7,204.2 156.4,205.9 155.2,206.9 C153.9,207.9 151.3,207.4 150.2,208.6 C149.1,209.7 148.5,211.9 148.5,213.6 C148.5,215.3 150.4,216.9 150.2,218.6 C149.9,220.3 147.9,222.9 146.8,223.6 C145.7,224.3 144.2,223.9 143.5,222.8 C142.8,221.7 142.8,218.7 142.6,216.9 C142.5,215.1 143.3,213.0 142.6,211.9 C141.9,210.8 139.7,211.3 138.5,210.2 C137.2,209.1 135.8,206.9 135.1,205.2 C134.4,203.5 134.4,201.7 134.3,200.2 C134.1,198.7 133.6,197.3 134.3,196.0Z" fill="#00BFC4" stroke="#F8766D" stroke-width="2"/>
<path d="M181.9,218.6 C181.1,216.6 183.9,213.3 185.3,210.2 C186.7,207.2 188.4,203.8 190.3,200.2 C192.3,196.6 195.0,191.7 197.0,188.5 C198.9,185.3 200.6,182.5 202.0,181.0 C203.4,179.4 204.5,178.6 205.4,179.3 C206.2,180.0 206.6,183.1 207.0,185.2 C207.4,187.2 207.3,190.2 207.9,191.8 C208.4,193.5 210.1,193.2 210.4,195.2 C210.6,197.1 209.9,201.3 209.5,203.5 C209.1,205.8 207.9,206.9 207.9,208.6 C207.9,210.2 209.0,211.3 209.5,213.6 C210.1,215.8 211.0,219.7 211.2,221.9 C211.4,224.2 212.5,226.7 210.7,227.0 C208.9,227.2 203.7,224.4 200.3,223.6 C196.9,222.8 193.4,222.8 190.3,221.9 C187.2,221.1 182.8,220.5 181.9,218.6Z" fill="#00BFC4" stroke="#F8766D" stroke-width="2"/>
<path d="M181.1,227.0 C181.0,224.7 180.7,221.5 182.3,220.3 C183.8,219.0 187.3,219.2 190.3,219.4 C193.3,219.7 196.9,221.2 200.3,221.9 C203.7,222.6 208.8,221.7 210.7,223.6 C212.7,225.6 212.4,230.9 212.0,233.6 C211.7,236.4 210.4,238.4 208.7,240.3 C207.0,242.3 204.2,244.7 202.0,245.4 C199.8,246.0 197.5,245.4 195.3,244.5 C193.1,243.7 190.7,242.1 188.6,240.3 C186.5,238.5 184.0,235.9 182.8,233.6 C181.5,231.4 181.2,229.2 181.1,227.0Z" fill="#00BFC4" stroke="#F8766D" stroke-width="2"/>
<path d="M49.2,183.4 C49.2,180.1 50.2,177.5 51.7,175.1 C53.2,172.7 55.9,170.9 58.4,169.2 C60.9,167.6 64.2,165.5 66.8,165.1 C69.3,164.6 71.4,165.6 73.4,166.7 C75.5,167.8 77.6,169.6 78.8,171.7 C80.0,173.8 80.1,177.0 80.6,179.3 C81.1,181.5 81.3,183.3 81.8,185.1 C82.3,186.9 83.0,188.7 83.5,190.1 C84.0,191.6 85.1,192.5 84.8,193.8 C84.5,195.2 83.7,197.0 81.8,198.2 C79.9,199.3 76.2,199.9 73.4,200.5 C70.7,201.1 67.9,201.9 65.1,201.8 C62.3,201.8 59.0,201.3 56.7,200.2 C54.5,199.1 53.0,197.9 51.7,195.2 C50.5,192.4 49.2,186.8 49.2,183.4Z" fill="#00BFC4" stroke="#F8766D" stroke-width="2"/>
<path d="M84.8,183.4 C85.4,181.1 84.8,176.1 86.5,173.4 C88.2,170.7 92.3,168.5 95.2,167.2 C98.0,166.0 100.7,165.8 103.5,166.1 C106.4,166.3 109.8,167.2 112.2,168.9 C114.7,170.6 116.6,173.4 118.1,176.4 C119.6,179.4 121.1,183.3 121.4,186.8 C121.7,190.2 121.1,194.4 119.9,197.2 C118.8,199.9 116.0,201.7 114.4,203.2 C112.8,204.7 111.5,206.2 110.2,206.0 C109.0,205.8 108.1,203.2 106.9,201.8 C105.6,200.4 104.2,199.0 102.7,197.7 C101.2,196.3 99.8,194.6 97.7,193.8 C95.6,193.0 92.4,193.0 90.2,192.6 C87.9,192.3 85.5,192.6 84.3,191.8 C83.1,191.0 83.1,189.0 83.1,187.6 C83.2,186.2 84.3,185.8 84.8,183.4Z" fill="#00BFC4" stroke="#F8766D" stroke-width="2"/>
<path d="M77.6,205.2 C77.9,203.2 78.5,201.7 79.3,200.2 C80.1,198.6 81.5,197.2 82.6,196.0 C83.8,194.8 84.7,193.7 86.0,193.1 C87.2,192.6 88.4,192.5 90.2,192.6 C92.0,192.8 94.8,193.3 96.9,193.8 C98.9,194.4 101.0,194.9 102.7,196.0 C104.4,197.0 105.9,198.6 106.9,200.2 C107.9,201.7 109.1,203.7 108.6,205.2 C108.0,206.7 105.5,208.2 103.5,209.4 C101.6,210.5 98.8,211.0 96.9,211.9 C94.9,212.7 93.5,213.8 91.8,214.4 C90.2,215.0 88.5,215.4 86.8,215.6 C85.2,215.7 83.3,216.1 81.8,215.6 C80.3,215.0 78.3,213.9 77.6,212.2 C76.9,210.5 77.3,207.2 77.6,205.2Z" fill="#00BFC4" stroke="#F8766D" stroke-width="2"/>
<path d="M96.0,214.4 C96.4,212.8 97.0,211.2 98.5,209.4 C100.1,207.6 103.3,205.0 105.2,203.5 C107.2,202.0 109.1,199.9 110.2,200.2 C111.3,200.4 111.9,203.0 111.9,205.2 C111.9,207.4 110.9,211.0 110.2,213.5 C109.5,216.1 108.7,218.7 107.7,220.2 C106.8,221.8 105.8,222.2 104.4,222.7 C103.0,223.2 100.7,223.9 99.4,223.2 C98.1,222.6 97.1,220.4 96.5,218.9 C96.0,217.4 95.7,216.0 96.0,214.4Z" fill="#00BFC4" stroke="#F8766D" stroke-width="2"/>
<path d="M95.2,265.4 C95.3,263.4 96.3,262.0 97.7,261.2 C99.1,260.4 101.5,260.8 103.5,260.4 C105.6,259.9 108.3,258.7 110.2,258.7 C112.2,258.7 114.0,259.3 115.3,260.4 C116.5,261.5 117.3,263.4 117.8,265.4 C118.2,267.3 118.3,270.1 117.8,272.1 C117.2,274.0 116.2,276.0 114.4,277.1 C112.6,278.2 109.1,278.8 106.9,278.8 C104.7,278.8 102.7,278.1 101.0,277.1 C99.4,276.1 97.8,274.9 96.9,272.9 C95.9,271.0 95.0,267.3 95.2,265.4Z" fill="#00BFC4" stroke="#F8766D" stroke-width="2"/>
<path d="M61.2,45.5 C61.8,43.6 63.6,41.8 65.3,40.8 C67.0,39.9 69.6,39.6 71.5,39.8 C73.3,40.1 75.0,41.4 76.6,42.5 C78.1,43.6 79.0,45.7 80.7,46.6 C82.4,47.4 84.6,47.6 86.8,47.6 C89.0,47.6 91.7,46.8 93.9,46.6 C96.2,46.3 98.0,45.8 100.1,46.2 C102.1,46.5 104.7,47.0 106.2,48.6 C107.7,50.2 108.8,52.7 109.3,55.8 C109.8,58.8 111.0,64.6 109.3,67.0 C107.6,69.4 102.1,69.0 99.0,70.1 C96.0,71.1 92.9,70.2 90.9,73.1 C88.8,76.0 87.1,82.0 86.8,87.4 C86.4,92.9 88.0,100.0 88.8,105.8 C89.7,111.6 90.6,118.7 91.9,122.2 C93.2,125.7 96.4,126.1 96.6,126.7 C96.8,127.3 94.5,127.0 93.3,125.9 C92.2,124.8 90.9,122.8 89.9,120.1 C88.8,117.5 87.8,113.3 86.8,109.9 C85.8,106.5 84.7,103.1 83.7,99.7 C82.7,96.3 81.7,92.7 80.7,89.5 C79.6,86.3 78.7,83.4 77.6,80.3 C76.5,77.2 75.3,74.0 74.1,71.1 C72.9,68.2 71.7,65.3 70.4,62.9 C69.1,60.5 67.7,58.6 66.3,56.8 C65.0,55.0 63.1,54.2 62.3,52.3 C61.4,50.4 60.7,47.5 61.2,45.5Z" fill="#00BFC4"/>
<path d="M98.0,36.3 C98.5,34.8 99.2,33.9 101.1,33.3 C103.0,32.7 106.9,32.5 109.3,32.7 C111.7,32.8 113.9,33.4 115.4,34.3 C116.9,35.3 117.6,37.4 118.5,38.4 C119.3,39.4 119.7,39.8 120.5,40.4 C121.4,41.1 123.6,41.1 123.6,42.5 C123.6,43.8 121.5,47.2 120.5,48.6 C119.5,50.0 119.0,50.5 117.4,51.1 C115.9,51.7 112.8,51.8 111.3,52.3 C109.8,52.7 109.3,53.1 108.2,53.7 C107.2,54.3 106.1,55.9 105.2,55.8 C104.3,55.6 103.7,53.9 102.7,52.7 C101.8,51.5 100.2,50.3 99.5,48.6 C98.7,46.9 98.3,44.5 98.0,42.5 C97.8,40.4 97.5,37.9 98.0,36.3Z" fill="#00BFC4"/>
<path d="M117.4,39.4 C118.5,37.9 121.2,37.7 123.6,36.3 C126.0,35.0 129.0,32.8 131.7,31.2 C134.5,29.7 137.2,28.3 139.9,27.2 C142.6,26.0 145.9,24.7 148.1,24.5 C150.3,24.3 152.0,25.2 153.2,26.1 C154.4,27.1 155.4,28.9 155.3,30.2 C155.1,31.6 154.1,32.8 152.2,34.3 C150.3,35.8 146.4,37.9 144.0,39.4 C141.6,40.9 139.3,42.0 137.9,43.5 C136.5,45.0 135.9,46.6 135.4,48.6 C134.9,50.7 135.4,54.2 134.8,55.8 C134.2,57.3 132.8,58.7 131.7,57.8 C130.7,57.0 130.4,52.2 128.7,50.7 C127.0,49.1 123.4,49.5 121.5,48.6 C119.7,47.8 118.1,47.1 117.4,45.5 C116.8,44.0 116.4,40.9 117.4,39.4Z" fill="#00BFC4"/>
<path d="M104.8,55.2 C105.9,54.1 108.9,56.0 111.3,56.8 C113.8,57.6 116.4,59.6 119.5,60.1 C122.6,60.5 127.0,60.2 129.7,59.6 C132.4,59.1 133.8,57.2 135.8,56.8 C137.9,56.4 139.9,57.1 142.0,57.4 C144.0,57.7 146.2,57.8 148.1,58.4 C150.0,59.0 152.5,59.1 153.2,60.9 C153.9,62.6 153.0,66.3 152.2,69.0 C151.3,71.8 149.6,74.8 148.1,77.2 C146.6,79.6 145.0,81.9 143.0,83.4 C140.9,84.8 138.4,85.4 135.8,85.8 C133.3,86.2 130.4,86.1 127.7,85.8 C124.9,85.5 122.2,84.8 119.5,83.8 C116.8,82.7 113.4,81.8 111.3,79.7 C109.3,77.6 108.3,73.9 107.2,71.1 C106.1,68.3 105.2,65.6 104.8,62.9 C104.4,60.3 103.7,56.2 104.8,55.2Z" fill="#00BFC4"/>
<path d="M147.7,58.4 C149.3,57.5 153.5,59.4 156.3,59.4 C159.1,59.4 161.7,58.4 164.4,58.4 C167.2,58.4 170.3,58.6 172.6,59.4 C174.9,60.3 176.9,61.6 178.3,63.5 C179.8,65.5 180.8,68.7 181.2,71.1 C181.6,73.4 181.5,75.9 180.8,77.6 C180.0,79.4 178.4,80.7 176.7,81.7 C175.0,82.7 172.2,82.5 170.6,83.8 C168.9,85.1 167.3,87.3 166.9,89.5 C166.5,91.6 168.3,94.5 167.9,96.6 C167.6,98.8 166.5,100.9 164.9,102.2 C163.3,103.4 160.4,104.5 158.3,104.2 C156.2,103.9 154.3,101.5 152.2,100.1 C150.1,98.8 147.7,97.7 145.6,96.0 C143.6,94.3 140.6,92.3 139.9,89.9 C139.2,87.4 140.6,84.1 141.6,81.3 C142.5,78.5 144.8,75.9 145.6,73.1 C146.5,70.4 146.5,67.4 146.9,65.0 C147.2,62.5 146.1,59.3 147.7,58.4Z" fill="#00BFC4"/>
<path d="M115.0,82.9 C116.4,81.5 120.8,80.6 123.6,80.9 C126.4,81.2 129.0,84.3 131.7,85.0 C134.5,85.7 137.5,84.0 139.9,85.0 C142.3,86.0 144.0,89.1 146.1,91.1 C148.1,93.2 149.8,95.6 152.2,97.3 C154.6,99.0 158.2,99.9 160.4,101.3 C162.5,102.8 164.3,103.4 164.9,105.8 C165.4,108.3 164.3,112.6 163.8,116.1 C163.3,119.5 162.6,123.7 161.8,126.3 C160.9,128.9 161.0,130.9 158.7,131.8 C156.4,132.7 151.2,131.8 148.1,131.8 C145.0,131.8 142.6,131.6 139.9,131.8 C137.2,132.0 134.5,132.3 131.7,132.8 C129.0,133.3 126.0,134.0 123.6,134.9 C121.2,135.7 118.9,138.9 117.4,138.1 C116.0,137.4 115.1,133.0 115.0,130.4 C114.9,127.7 117.2,124.9 117.0,122.2 C116.8,119.5 114.0,116.7 113.8,114.0 C113.6,111.3 115.9,108.6 115.8,105.8 C115.7,103.1 113.1,100.4 112.9,97.7 C112.8,94.9 114.7,91.9 115.0,89.5 C115.3,87.0 113.6,84.4 115.0,82.9Z" fill="#00BFC4"/>
<path d="M160.0,100.3 C160.7,97.9 164.7,97.0 166.5,97.3 C168.3,97.5 169.9,100.0 171.0,101.7 C172.1,103.5 172.2,105.5 173.0,107.9 C173.9,110.3 175.4,113.3 176.1,116.1 C176.8,118.8 177.3,121.4 177.1,124.2 C177.0,127.0 176.2,130.7 175.1,132.8 C174.0,134.9 172.4,136.2 170.6,136.9 C168.7,137.6 165.8,137.9 164.0,136.9 C162.3,135.9 160.5,133.2 160.0,130.8 C159.4,128.3 160.6,125.3 161.0,122.2 C161.3,119.1 162.2,115.6 162.0,112.0 C161.8,108.3 159.2,102.8 160.0,100.3Z" fill="#00BFC4"/>
<path d="M96.6,130.0 C98.0,128.4 100.7,127.1 103.1,125.9 C105.6,124.7 109.1,123.7 111.3,122.8 C113.5,121.9 114.8,120.5 116.4,120.8 C118.0,121.0 119.8,122.5 120.9,124.2 C122.0,126.0 123.1,129.3 123.0,131.4 C122.8,133.5 121.1,135.1 119.9,136.9 C118.7,138.7 117.2,140.0 115.8,142.0 C114.4,144.0 113.1,146.6 111.7,148.8 C110.4,150.9 109.0,153.7 107.6,154.9 C106.3,156.1 104.9,156.6 103.5,155.9 C102.2,155.2 100.7,153.0 99.5,150.8 C98.3,148.6 97.1,145.2 96.4,142.6 C95.6,140.1 94.9,137.6 95.0,135.5 C95.0,133.4 95.2,131.6 96.6,130.0Z" fill="#00BFC4"/>
<path d="M90.9,66.0 C92.7,64.8 96.4,64.1 99.0,63.9 C101.7,63.8 105.4,63.4 106.8,65.0 C108.3,66.5 107.2,71.0 107.8,73.1 C108.5,75.3 109.5,76.9 110.9,77.8 C112.3,78.8 115.1,78.0 116.4,78.9 C117.8,79.7 119.0,81.2 119.1,82.9 C119.2,84.7 117.9,87.0 117.0,89.1 C116.2,91.2 114.8,93.5 114.2,95.6 C113.6,97.7 113.2,99.7 113.4,101.7 C113.5,103.8 114.9,105.8 115.0,107.9 C115.1,110.0 115.8,112.8 114.2,114.4 C112.5,116.1 107.9,116.4 105.2,117.7 C102.5,119.0 99.5,120.7 98.0,122.2 C96.6,123.7 97.4,126.3 96.6,126.7 C95.8,127.1 94.3,126.1 93.3,124.6 C92.3,123.2 91.4,120.9 90.5,118.1 C89.5,115.3 88.6,111.3 87.6,107.9 C86.6,104.5 85.2,101.1 84.3,97.7 C83.4,94.3 82.3,90.5 82.3,87.4 C82.3,84.4 83.4,82.0 84.3,79.3 C85.3,76.5 86.7,73.3 87.8,71.1 C88.9,68.9 89.0,67.2 90.9,66.0Z" fill="#00BFC4"/>
<path d="M176.0,74.3 C176.0,73.3 178.3,71.1 180.1,70.1 C181.9,69.1 184.6,69.3 186.8,68.4 C189.1,67.6 191.0,65.8 193.5,65.1 C196.0,64.4 199.4,63.8 201.9,64.2 C204.4,64.7 206.9,66.3 208.6,67.6 C210.2,68.8 211.1,69.7 211.9,71.8 C212.7,73.9 213.3,77.3 213.6,80.1 C213.9,82.9 213.9,86.5 213.6,88.5 C213.3,90.4 213.0,91.3 211.9,91.8 C210.8,92.4 209.1,92.1 206.9,91.8 C204.7,91.6 200.8,91.0 198.5,90.2 C196.3,89.3 194.9,88.1 193.5,86.8 C192.1,85.6 191.6,84.0 190.2,82.6 C188.8,81.2 186.8,79.6 185.2,78.5 C183.5,77.3 181.7,76.6 180.1,76.0 C178.6,75.3 176.0,75.3 176.0,74.3Z" fill="#00BFC4"/>
<path d="M211.1,90.2 C212.7,90.4 215.7,93.8 218.6,95.2 C221.5,96.6 225.8,97.6 228.6,98.5 C231.4,99.5 233.6,100.2 235.3,101.0 C237.0,101.9 238.7,102.6 238.7,103.5 C238.7,104.5 237.0,106.1 235.3,106.9 C233.6,107.7 231.1,108.7 228.6,108.6 C226.1,108.4 222.5,107.3 220.3,106.1 C218.0,104.8 217.2,103.1 215.3,101.0 C213.3,98.9 209.3,95.3 208.6,93.5 C207.9,91.7 209.4,89.9 211.1,90.2Z" fill="#00BFC4"/>
<path d="M210.2,133.6 C210.7,132.7 212.2,132.5 213.6,132.0 C215.0,131.4 217.2,131.1 218.6,130.3 C220.0,129.5 220.8,127.7 221.9,127.0 C223.1,126.3 224.3,125.8 225.3,126.1 C226.3,126.4 227.0,127.4 227.8,128.6 C228.6,129.9 230.2,132.3 230.3,133.6 C230.4,135.0 230.6,136.2 228.6,137.0 C226.7,137.8 221.1,138.1 218.6,138.7 C216.1,139.2 214.8,140.5 213.6,140.3 C212.3,140.2 211.6,138.9 211.1,137.8 C210.5,136.7 209.8,134.6 210.2,133.6Z" fill="#00BFC4"/>
<path d="M240.9,139.1 C240.5,138.2 241.0,135.4 241.5,133.6 C242.0,131.9 243.3,130.3 244.0,128.7 C244.7,127.1 245.2,125.4 245.8,123.8 C246.4,122.2 247.0,120.2 247.7,118.9 C248.4,117.6 249.3,116.5 250.1,116.2 C250.9,115.9 251.8,116.1 252.6,117.1 C253.4,118.0 254.6,120.2 254.8,122.0 C255.0,123.7 254.5,125.7 253.8,127.5 C253.1,129.2 251.9,131.0 250.7,132.4 C249.6,133.8 248.2,134.9 247.1,136.1 C245.9,137.3 245.0,139.0 244.0,139.5 C243.0,140.0 241.3,140.1 240.9,139.1Z" fill="#00BFC4"/>
<path d="M232.3,144.7 C232.4,143.8 233.8,142.3 234.8,142.0 C235.8,141.6 237.5,142.7 238.5,142.5 C239.4,142.2 239.4,140.9 240.3,140.4 C241.2,139.9 243.3,139.3 244.0,139.5 C244.7,139.7 244.8,140.7 244.6,141.6 C244.4,142.5 243.0,143.5 242.8,144.7 C242.6,145.8 242.6,147.2 243.4,148.3 C244.2,149.5 245.9,151.0 247.7,151.4 C249.4,151.8 251.8,150.8 253.8,150.8 C255.8,150.8 258.5,150.7 259.9,151.4 C261.4,152.1 262.2,153.9 262.4,155.1 C262.6,156.3 262.2,157.9 261.2,158.8 C260.1,159.7 258.1,160.1 256.3,160.6 C254.4,161.1 252.2,161.3 250.1,161.8 C248.1,162.4 245.7,163.7 244.0,163.7 C242.2,163.7 240.9,162.8 239.7,161.8 C238.5,160.9 237.3,159.6 236.6,158.2 C235.9,156.7 235.3,154.7 235.4,153.3 C235.5,151.8 237.4,150.6 237.2,149.6 C237.0,148.5 235.0,147.9 234.2,147.1 C233.4,146.3 232.2,145.5 232.3,144.7Z" fill="#00BFC4"/>
<path d="M138.5,179.3 C139.3,176.5 141.5,175.1 143.5,173.4 C145.4,171.8 147.9,170.2 150.2,169.3 C152.4,168.3 154.6,168.3 156.9,167.6 C159.1,166.9 161.0,166.3 163.5,165.1 C166.1,163.8 169.4,161.6 171.9,160.1 C174.4,158.5 176.1,157.1 178.6,155.9 C181.1,154.6 184.4,153.4 187.0,152.5 C189.5,151.7 191.8,150.5 193.6,150.9 C195.5,151.3 197.3,153.5 197.8,155.1 C198.4,156.6 198.2,158.4 197.0,160.1 C195.7,161.7 192.5,163.4 190.3,165.1 C188.1,166.8 185.8,168.4 183.6,170.1 C181.4,171.8 178.6,173.4 176.9,175.1 C175.3,176.8 175.3,178.5 173.6,180.1 C171.9,181.8 169.7,183.2 166.9,185.2 C164.1,187.1 159.9,190.2 156.9,191.8 C153.8,193.5 151.0,194.3 148.5,195.2 C146.0,196.0 143.5,197.7 141.8,196.9 C140.1,196.0 139.0,193.1 138.5,190.2 C137.9,187.2 137.6,182.1 138.5,179.3Z" fill="#00BFC4"/>
<path d="M134.3,196.0 C135.0,194.8 136.9,193.1 138.5,192.7 C140.0,192.3 141.5,193.2 143.5,193.5 C145.4,193.8 148.2,193.7 150.2,194.3 C152.1,195.0 153.9,196.3 155.2,197.7 C156.4,199.1 157.7,201.2 157.7,202.7 C157.7,204.2 156.4,205.9 155.2,206.9 C153.9,207.9 151.3,207.4 150.2,208.6 C149.1,209.7 148.5,211.9 148.5,213.6 C148.5,215.3 150.4,216.9 150.2,218.6 C149.9,220.3 147.9,222.9 146.8,223.6 C145.7,224.3 144.2,223.9 143.5,222.8 C142.8,221.7 142.8,218.7 142.6,216.9 C142.5,215.1 143.3,213.0 142.6,211.9 C141.9,210.8 139.7,211.3 138.5,210.2 C137.2,209.1 135.8,206.9 135.1,205.2 C134.4,203.5 134.4,201.7 134.3,200.2 C134.1,198.7 133.6,197.3 134.3,196.0Z" fill="#00BFC4"/>
<path d="M181.9,218.6 C181.1,216.6 183.9,213.3 185.3,210.2 C186.7,207.2 188.4,203.8 190.3,200.2 C192.3,196.6 195.0,191.7 197.0,188.5 C198.9,185.3 200.6,182.5 202.0,181.0 C203.4,179.4 204.5,178.6 205.4,179.3 C206.2,180.0 206.6,183.1 207.0,185.2 C207.4,187.2 207.3,190.2 207.9,191.8 C208.4,193.5 210.1,193.2 210.4,195.2 C210.6,197.1 209.9,201.3 209.5,203.5 C209.1,205.8 207.9,206.9 207.9,208.6 C207.9,210.2 209.0,211.3 209.5,213.6 C210.1,215.8 211.0,219.7 211.2,221.9 C211.4,224.2 212.5,226.7 210.7,227.0 C208.9,227.2 203.7,224.4 200.3,223.6 C196.9,222.8 193.4,222.8 190.3,221.9 C187.2,221.1 182.8,220.5 181.9,218.6Z" fill="#00BFC4"/>
<path d="M181.1,227.0 C181.0,224.7 180.7,221.5 182.3,220.3 C183.8,219.0 187.3,219.2 190.3,219.4 C193.3,219.7 196.9,221.2 200.3,221.9 C203.7,222.6 208.8,221.7 210.7,223.6 C212.7,225.6 212.4,230.9 212.0,233.6 C211.7,236.4 210.4,238.4 208.7,240.3 C207.0,242.3 204.2,244.7 202.0,245.4 C199.8,246.0 197.5,245.4 195.3,244.5 C193.1,243.7 190.7,242.1 188.6,240.3 C186.5,238.5 184.0,235.9 182.8,233.6 C181.5,231.4 181.2,229.2 181.1,227.0Z" fill="#00BFC4"/>
<path d="M49.2,183.4 C49.2,180.1 50.2,177.5 51.7,175.1 C53.2,172.7 55.9,170.9 58.4,169.2 C60.9,167.6 64.2,165.5 66.8,165.1 C69.3,164.6 71.4,165.6 73.4,166.7 C75.5,167.8 77.6,169.6 78.8,171.7 C80.0,173.8 80.1,177.0 80.6,179.3 C81.1,181.5 81.3,183.3 81.8,185.1 C82.3,186.9 83.0,188.7 83.5,190.1 C84.0,191.6 85.1,192.5 84.8,193.8 C84.5,195.2 83.7,197.0 81.8,198.2 C79.9,199.3 76.2,199.9 73.4,200.5 C70.7,201.1 67.9,201.9 65.1,201.8 C62.3,201.8 59.0,201.3 56.7,200.2 C54.5,199.1 53.0,197.9 51.7,195.2 C50.5,192.4 49.2,186.8 49.2,183.4Z" fill="#00BFC4"/>
<path d="M84.8,183.4 C85.4,181.1 84.8,176.1 86.5,173.4 C88.2,170.7 92.3,168.5 95.2,167.2 C98.0,166.0 100.7,165.8 103.5,166.1 C106.4,166.3 109.8,167.2 112.2,168.9 C114.7,170.6 116.6,173.4 118.1,176.4 C119.6,179.4 121.1,183.3 121.4,186.8 C121.7,190.2 121.1,194.4 119.9,197.2 C118.8,199.9 116.0,201.7 114.4,203.2 C112.8,204.7 111.5,206.2 110.2,206.0 C109.0,205.8 108.1,203.2 106.9,201.8 C105.6,200.4 104.2,199.0 102.7,197.7 C101.2,196.3 99.8,194.6 97.7,193.8 C95.6,193.0 92.4,193.0 90.2,192.6 C87.9,192.3 85.5,192.6 84.3,191.8 C83.1,191.0 83.1,189.0 83.1,187.6 C83.2,186.2 84.3,185.8 84.8,183.4Z" fill="#00BFC4"/>
<path d="M77.6,205.2 C77.9,203.2 78.5,201.7 79.3,200.2 C80.1,198.6 81.5,197.2 82.6,196.0 C83.8,194.8 84.7,193.7 86.0,193.1 C87.2,192.6 88.4,192.5 90.2,192.6 C92.0,192.8 94.8,193.3 96.9,193.8 C98.9,194.4 101.0,194.9 102.7,196.0 C104.4,197.0 105.9,198.6 106.9,200.2 C107.9,201.7 109.1,203.7 108.6,205.2 C108.0,206.7 105.5,208.2 103.5,209.4 C101.6,210.5 98.8,211.0 96.9,211.9 C94.9,212.7 93.5,213.8 91.8,214.4 C90.2,215.0 88.5,215.4 86.8,215.6 C85.2,215.7 83.3,216.1 81.8,215.6 C80.3,215.0 78.3,213.9 77.6,212.2 C76.9,210.5 77.3,207.2 77.6,205.2Z" fill="#00BFC4"/>
<path d="M96.0,214.4 C96.4,212.8 97.0,211.2 98.5,209.4 C100.1,207.6 103.3,205.0 105.2,203.5 C107.2,202.0 109.1,199.9 110.2,200.2 C111.3,200.4 111.9,203.0 111.9,205.2 C111.9,207.4 110.9,211.0 110.2,213.5 C109.5,216.1 108.7,218.7 107.7,220.2 C106.8,221.8 105.8,222.2 104.4,222.7 C103.0,223.2 100.7,223.9 99.4,223.2 C98.1,222.6 97.1,220.4 96.5,218.9 C96.0,217.4 95.7,216.0 96.0,214.4Z" fill="#00BFC4"/>
<path d="M95.2,265.4 C95.3,263.4 96.3,262.0 97.7,261.2 C99.1,260.4 101.5,260.8 103.5,260.4 C105.6,259.9 108.3,258.7 110.2,258.7 C112.2,258.7 114.0,259.3 115.3,260.4 C116.5,261.5 117.3,263.4 117.8,265.4 C118.2,267.3 118.3,270.1 117.8,272.1 C117.2,274.0 116.2,276.0 114.4,277.1 C112.6,278.2 109.1,278.8 106.9,278.8 C104.7,278.8 102.7,278.1 101.0,277.1 C99.4,276.1 97.8,274.9 96.9,272.9 C95.9,271.0 95.0,267.3 95.2,265.4Z" fill="#00BFC4"/>
<path d="M109.7,53.1 C110.3,52.0 113.1,51.2 115.4,50.7 C117.7,50.1 121.0,50.0 123.6,50.0 C126.1,50.1 129.3,50.1 130.7,51.1 C132.2,52.0 132.6,54.4 132.4,55.8 C132.1,57.1 131.4,58.6 129.3,59.2 C127.2,59.9 122.4,59.9 119.5,59.6 C116.6,59.4 113.4,58.7 111.7,57.6 C110.1,56.5 109.1,54.3 109.7,53.1Z" fill="#fff" stroke="#F8766D" stroke-width="1"/>
<path d="M82.8,186.5 C83.1,185.6 83.4,185.0 84.3,185.1 C85.3,185.2 86.7,186.8 88.5,187.1 C90.3,187.5 93.6,186.7 95.2,187.1 C96.8,187.6 98.3,188.9 98.2,189.8 C98.1,190.7 96.0,192.2 94.3,192.8 C92.7,193.4 90.3,193.4 88.5,193.5 C86.7,193.5 84.8,193.7 83.8,193.1 C82.8,192.6 82.5,191.2 82.3,190.1 C82.1,189.0 82.5,187.3 82.8,186.5Z" fill="#fff" stroke="#F8766D" stroke-width="1"/>
</g>
<circle cx="132.5" cy="153.0" r="2" fill="#F8766D"/>
<circle cx="134.0" cy="161.0" r="2" fill="#F8766D"/>
<circle cx="139.0" cy="166.0" r="2" fill="#F8766D"/>
<circle cx="152.0" cy="152.0" r="2" fill="#F8766D"/>
<circle cx="155.0" cy="158.0" r="2" fill="#F8766D"/>
<circle cx="160.0" cy="146.0" r="2" fill="#F8766D"/>
<circle cx="163.0" cy="142.0" r="2" fill="#F8766D"/>
<circle cx="165.0" cy="160.0" r="2" fill="#F8766D"/>
<circle cx="158.0" cy="162.0" r="2" fill="#F8766D"/>
<circle cx="137.5" cy="149.5" r="2" fill="#00BFC4"/>
<circle cx="133.5" cy="154.0" r="2" fill="#00BFC4"/>
<circle cx="131.5" cy="158.0" r="2" fill="#00BFC4"/>
<circle cx="130.5" cy="162.0" r="2" fill="#00BFC4"/>
<circle cx="132.5" cy="165.0" r="2" fill="#00BFC4"/>
<circle cx="136.5" cy="164.0" r="2" fill="#00BFC4"/>
<circle cx="139.5" cy="162.0" r="2" fill="#00BFC4"/>
<circle cx="141.5" cy="167.0" r="2" fill="#00BFC4"/>
<circle cx="134.5" cy="160.0" r="2" fill="#00BFC4"/>
<circle cx="133.0" cy="152.0" r="2" fill="#00BFC4"/>
<circle cx="135.0" cy="156.0" r="2" fill="#00BFC4"/>
<circle cx="150.0" cy="156.0" r="2" fill="#00BFC4"/>
<circle cx="154.0" cy="155.0" r="2" fill="#00BFC4"/>
<circle cx="158.0" cy="154.0" r="2" fill="#00BFC4"/>
<circle cx="162.0" cy="155.0" r="2" fill="#00BFC4"/>
<circle cx="166.0" cy="156.0" r="2" fill="#00BFC4"/>
<circle cx="153.0" cy="159.0" r="2" fill="#00BFC4"/>
<circle cx="157.0" cy="158.0" r="2" fill="#00BFC4"/>
<circle cx="161.0" cy="158.5" r="2" fill="#00BFC4"/>
<circle cx="165.0" cy="159.0" r="2" fill="#00BFC4"/>
<circle cx="151.0" cy="153.0" r="2" fill="#00BFC4"/>
<circle cx="168.0" cy="153.0" r="2" fill="#00BFC4"/>
<circle cx="149.0" cy="155.0" r="2" fill="#00BFC4"/>
<circle cx="152.0" cy="157.0" r="2" fill="#00BFC4"/>
<circle cx="156.0" cy="156.0" r="2" fill="#00BFC4"/>
<circle cx="160.0" cy="156.0" r="2" fill="#00BFC4"/>
<circle cx="164.0" cy="157.0" r="2" fill="#00BFC4"/>
<circle cx="167.0" cy="155.0" r="2" fill="#00BFC4"/>
<circle cx="170.0" cy="154.0" r="2" fill="#00BFC4"/>
<circle cx="155.0" cy="161.0" r="2" fill="#00BFC4"/>
<circle cx="159.0" cy="160.0" r="2" fill="#00BFC4"/>
<circle cx="163.0" cy="160.0" r="2" fill="#00BFC4"/>
<circle cx="167.0" cy="158.0" r="2" fill="#00BFC4"/>
<circle cx="151.0" cy="161.0" r="2" fill="#00BFC4"/>
<circle cx="153.0" cy="141.0" r="2" fill="#00BFC4"/>
<circle cx="154.0" cy="144.0" r="2" fill="#00BFC4"/>
<circle cx="155.0" cy="148.0" r="2" fill="#00BFC4"/>
<circle cx="152.0" cy="150.0" r="2" fill="#00BFC4"/>
<circle cx="156.0" cy="151.0" r="2" fill="#00BFC4"/>
<circle cx="159.0" cy="137.0" r="2" fill="#00BFC4"/>
<circle cx="160.0" cy="134.0" r="2" fill="#00BFC4"/>
<circle cx="149.0" cy="160.0" r="2" fill="#00BFC4"/>
<circle cx="147.0" cy="163.0" r="2" fill="#00BFC4"/>
<path d="M116.0,124.0 C118.0,123.2 121.3,125.5 122.0,127.0 C122.7,128.5 121.5,130.5 120.0,133.0 C118.5,135.5 115.0,139.2 113.0,142.0 C111.0,144.8 109.3,148.0 108.0,150.0 C106.7,152.0 105.8,154.2 105.0,154.0 C104.2,153.8 103.2,151.3 103.0,149.0 C102.8,146.7 102.8,142.8 104.0,140.0 C105.2,137.2 108.0,134.7 110.0,132.0 C112.0,129.3 114.0,124.8 116.0,124.0Z" fill="#F8766D"/>
<circle cx="111.6" cy="140.8" r="1.5" fill="#00BFC4"/>
<circle cx="112.6" cy="141.6" r="1.5" fill="#00BFC4"/>
<circle cx="106.5" cy="139.4" r="1.5" fill="#00BFC4"/>
<circle cx="104.7" cy="148.3" r="1.5" fill="#00BFC4"/>
<circle cx="116.2" cy="125.3" r="1.5" fill="#00BFC4"/>
<circle cx="111.7" cy="132.3" r="1.5" fill="#00BFC4"/>
<circle cx="117.6" cy="136.0" r="1.5" fill="#00BFC4"/>
<circle cx="104.4" cy="142.9" r="1.5" fill="#00BFC4"/>
<path d="M174.0,70.0 C174.5,68.5 178.0,67.2 180.0,67.0 C182.0,66.8 184.0,67.8 186.0,69.0 C188.0,70.2 191.3,72.2 192.0,74.0 C192.7,75.8 191.5,79.2 190.0,80.0 C188.5,80.8 185.2,79.7 183.0,79.0 C180.8,78.3 178.5,77.5 177.0,76.0 C175.5,74.5 173.5,71.5 174.0,70.0Z" fill="#F8766D"/>
<circle cx="175.6" cy="71.3" r="1.5" fill="#00BFC4"/>
<circle cx="176.1" cy="70.2" r="1.5" fill="#00BFC4"/>
<circle cx="184.1" cy="72.8" r="1.5" fill="#00BFC4"/>
<circle cx="176.1" cy="72.5" r="1.5" fill="#00BFC4"/>
<circle cx="177.8" cy="70.5" r="1.5" fill="#00BFC4"/>
<circle cx="177.8" cy="72.1" r="1.5" fill="#00BFC4"/>
<circle cx="189.4" cy="75.3" r="1.5" fill="#00BFC4"/>
<circle cx="177.8" cy="70.4" r="1.5" fill="#00BFC4"/>
<path d="M206.0,179.0 C206.7,178.0 208.3,179.3 209.0,182.0 C209.7,184.7 209.5,190.3 210.0,195.0 C210.5,199.7 211.6,204.5 212.0,210.0 C212.4,215.5 213.0,223.0 212.5,228.0 C212.0,233.0 210.1,238.7 209.0,240.0 C207.9,241.3 206.3,240.2 206.0,236.0 C205.7,231.8 207.0,221.0 207.0,215.0 C207.0,209.0 206.3,204.5 206.0,200.0 C205.7,195.5 205.0,191.5 205.0,188.0 C205.0,184.5 205.3,180.0 206.0,179.0Z" fill="#F8766D"/>
<circle cx="207.2" cy="183.5" r="1.5" fill="#00BFC4"/>
<circle cx="207.8" cy="206.6" r="1.5" fill="#00BFC4"/>
<circle cx="209.3" cy="231.9" r="1.5" fill="#00BFC4"/>
<circle cx="206.4" cy="188.4" r="1.5" fill="#00BFC4"/>
<circle cx="211.8" cy="228.9" r="1.5" fill="#00BFC4"/>
<circle cx="206.9" cy="190.6" r="1.5" fill="#00BFC4"/>
<circle cx="211.6" cy="215.8" r="1.5" fill="#00BFC4"/>
<circle cx="208.2" cy="185.3" r="1.5" fill="#00BFC4"/>
<path d="M201.0,183.0 C201.2,181.2 202.9,179.2 204.0,178.5 C205.1,177.8 206.8,177.8 207.5,179.0 C208.2,180.2 208.8,183.8 208.5,186.0 C208.2,188.2 207.0,191.5 206.0,192.0 C205.0,192.5 203.3,190.5 202.5,189.0 C201.7,187.5 200.8,184.8 201.0,183.0Z" fill="#F8766D"/>
<circle cx="202.8" cy="188.0" r="1.5" fill="#00BFC4"/>
<circle cx="205.5" cy="182.5" r="1.5" fill="#00BFC4"/>
<circle cx="202.3" cy="188.2" r="1.5" fill="#00BFC4"/>
<circle cx="205.2" cy="190.0" r="1.5" fill="#00BFC4"/>
<circle cx="205.6" cy="182.3" r="1.5" fill="#00BFC4"/>
<circle cx="204.3" cy="179.3" r="1.5" fill="#00BFC4"/>
<circle cx="202.3" cy="183.5" r="1.5" fill="#00BFC4"/>
<circle cx="205.3" cy="180.3" r="1.5" fill="#00BFC4"/>
<path d="M241.0,139.0 C240.9,137.5 241.8,133.5 242.5,131.0 C243.2,128.5 244.6,124.7 245.5,124.0 C246.4,123.3 248.0,125.2 248.0,127.0 C248.0,128.8 246.3,132.8 245.5,135.0 C244.7,137.2 243.8,139.3 243.0,140.0 C242.2,140.7 241.1,140.5 241.0,139.0Z" fill="#F8766D"/>
<circle cx="243.5" cy="138.3" r="1.5" fill="#00BFC4"/>
<circle cx="245.8" cy="133.4" r="1.5" fill="#00BFC4"/>
<circle cx="241.1" cy="138.6" r="1.5" fill="#00BFC4"/>
<circle cx="244.4" cy="135.7" r="1.5" fill="#00BFC4"/>
<circle cx="243.5" cy="135.0" r="1.5" fill="#00BFC4"/>
<circle cx="243.9" cy="136.6" r="1.5" fill="#00BFC4"/>
<circle cx="245.4" cy="130.1" r="1.5" fill="#00BFC4"/>
<circle cx="245.1" cy="133.7" r="1.5" fill="#00BFC4"/>
<path d="M232.0,144.0 C232.1,142.5 234.2,140.8 235.5,140.5 C236.8,140.2 239.3,140.8 240.0,142.0 C240.7,143.2 240.3,146.8 239.5,148.0 C238.7,149.2 236.2,150.2 235.0,149.5 C233.8,148.8 231.9,145.5 232.0,144.0Z" fill="#F8766D"/>
<circle cx="237.8" cy="144.0" r="1.5" fill="#00BFC4"/>
<circle cx="237.9" cy="145.7" r="1.5" fill="#00BFC4"/>
<circle cx="235.5" cy="148.0" r="1.5" fill="#00BFC4"/>
<circle cx="235.8" cy="142.6" r="1.5" fill="#00BFC4"/>
<circle cx="237.6" cy="145.0" r="1.5" fill="#00BFC4"/>
<circle cx="236.9" cy="148.8" r="1.5" fill="#00BFC4"/>
<circle cx="234.4" cy="146.6" r="1.5" fill="#00BFC4"/>
<circle cx="239.2" cy="146.4" r="1.5" fill="#00BFC4"/>
<circle cx="128.8" cy="104.4" r="1.3" fill="#F8766D"/>
<circle cx="127.4" cy="83.3" r="1.6" fill="#F8766D"/>
<circle cx="128.4" cy="101.6" r="1.0" fill="#F8766D"/>
<circle cx="145.5" cy="87.7" r="1.6" fill="#F8766D"/>
<circle cx="147.0" cy="81.9" r="1.0" fill="#F8766D"/>
<circle cx="130.9" cy="102.6" r="1.0" fill="#F8766D"/>
<circle cx="139.0" cy="106.4" r="1.3" fill="#F8766D"/>
<circle cx="143.2" cy="78.7" r="1.3" fill="#F8766D"/>
<circle cx="122.5" cy="82.1" r="1.3" fill="#F8766D"/>
<circle cx="126.5" cy="92.2" r="1.6" fill="#F8766D"/>
<circle cx="124.0" cy="102.7" r="1.6" fill="#F8766D"/>
<circle cx="129.2" cy="77.5" r="1.0" fill="#F8766D"/>
<circle cx="122.6" cy="95.0" r="1.6" fill="#F8766D"/>
<circle cx="138.9" cy="93.8" r="1.3" fill="#F8766D"/>
<circle cx="136.7" cy="93.6" r="1.6" fill="#F8766D"/>
<circle cx="117.2" cy="90.0" r="1.0" fill="#F8766D"/>
<circle cx="141.2" cy="83.8" r="1.0" fill="#F8766D"/>
<circle cx="142.3" cy="107.5" r="1.0" fill="#F8766D"/>
<circle cx="129.0" cy="95.8" r="1.6" fill="#F8766D"/>
<circle cx="136.3" cy="87.2" r="1.0" fill="#F8766D"/>
<circle cx="138.0" cy="81.6" r="1.3" fill="#F8766D"/>
<circle cx="121.7" cy="98.6" r="1.3" fill="#F8766D"/>
<circle cx="132.3" cy="76.2" r="1.0" fill="#F8766D"/>
<circle cx="122.3" cy="86.4" r="1.6" fill="#F8766D"/>
<circle cx="148.0" cy="91.5" r="1.0" fill="#F8766D"/>
<circle cx="127.0" cy="101.1" r="1.0" fill="#F8766D"/>
<circle cx="139.5" cy="79.3" r="1.3" fill="#F8766D"/>
<circle cx="119.5" cy="104.3" r="1.0" fill="#F8766D"/>
<circle cx="126.3" cy="93.8" r="1.6" fill="#F8766D"/>
<circle cx="142.3" cy="106.2" r="1.3" fill="#F8766D"/>
<circle cx="124.4" cy="107.4" r="1.0" fill="#F8766D"/>
<circle cx="139.4" cy="102.0" r="1.6" fill="#F8766D"/>
<circle cx="147.1" cy="79.1" r="1.0" fill="#F8766D"/>
<circle cx="146.2" cy="107.4" r="1.3" fill="#F8766D"/>
<circle cx="132.4" cy="101.1" r="1.3" fill="#F8766D"/>
<circle cx="122.0" cy="98.7" r="1.0" fill="#F8766D"/>
<circle cx="125.2" cy="77.7" r="1.3" fill="#F8766D"/>
<circle cx="125.0" cy="88.9" r="1.3" fill="#F8766D"/>
<circle cx="130.5" cy="75.9" r="1.0" fill="#F8766D"/>
<circle cx="128.3" cy="76.2" r="1.6" fill="#F8766D"/>
<circle cx="124.7" cy="101.0" r="1.0" fill="#F8766D"/>
<circle cx="129.9" cy="108.0" r="1.6" fill="#F8766D"/>
<circle cx="131.7" cy="97.4" r="1.3" fill="#F8766D"/>
<circle cx="147.9" cy="91.3" r="1.6" fill="#F8766D"/>
<circle cx="115.3" cy="82.3" r="1.6" fill="#F8766D"/>
<circle cx="133.2" cy="102.4" r="1.6" fill="#F8766D"/>
<circle cx="136.3" cy="92.3" r="1.6" fill="#F8766D"/>
<circle cx="121.7" cy="97.2" r="1.6" fill="#F8766D"/>
<circle cx="119.9" cy="103.1" r="1.6" fill="#F8766D"/>
<circle cx="131.9" cy="93.9" r="1.0" fill="#F8766D"/>
<circle cx="127.6" cy="78.8" r="1.0" fill="#F8766D"/>
<circle cx="135.0" cy="75.9" r="1.0" fill="#F8766D"/>
<circle cx="131.6" cy="88.2" r="1.6" fill="#F8766D"/>
<circle cx="116.6" cy="78.1" r="1.0" fill="#F8766D"/>
<circle cx="114.5" cy="92.8" r="1.3" fill="#F8766D"/>
<circle cx="147.0" cy="101.4" r="1.3" fill="#F8766D"/>
<circle cx="122.2" cy="90.6" r="1.0" fill="#F8766D"/>
<circle cx="124.9" cy="104.7" r="1.3" fill="#F8766D"/>
<circle cx="131.9" cy="78.6" r="1.3" fill="#F8766D"/>
<circle cx="135.5" cy="105.5" r="1.0" fill="#F8766D"/>
<circle cx="138.7" cy="107.3" r="1.0" fill="#F8766D"/>
<circle cx="119.4" cy="82.5" r="1.6" fill="#F8766D"/>
<circle cx="122.8" cy="98.9" r="1.0" fill="#F8766D"/>
<circle cx="135.6" cy="78.5" r="1.6" fill="#F8766D"/>
<circle cx="134.1" cy="103.1" r="1.6" fill="#F8766D"/>
<circle cx="121.5" cy="81.5" r="1.6" fill="#F8766D"/>
<circle cx="145.4" cy="75.8" r="1.6" fill="#F8766D"/>
<circle cx="127.7" cy="92.5" r="1.0" fill="#F8766D"/>
<circle cx="132.5" cy="103.5" r="1.6" fill="#F8766D"/>
<circle cx="136.3" cy="92.5" r="1.6" fill="#F8766D"/>
<circle cx="116.7" cy="63.3" r="1.0" fill="#F8766D"/>
<circle cx="110.3" cy="50.4" r="1.6" fill="#F8766D"/>
<circle cx="109.6" cy="64.5" r="1.0" fill="#F8766D"/>
<circle cx="104.3" cy="63.9" r="1.0" fill="#F8766D"/>
<circle cx="104.3" cy="62.8" r="1.3" fill="#F8766D"/>
<circle cx="115.0" cy="60.4" r="1.0" fill="#F8766D"/>
<circle cx="111.7" cy="60.0" r="1.0" fill="#F8766D"/>
<circle cx="104.3" cy="57.8" r="1.3" fill="#F8766D"/>
<circle cx="123.9" cy="65.4" r="1.0" fill="#F8766D"/>
<circle cx="110.2" cy="66.0" r="1.0" fill="#F8766D"/>
<circle cx="102.6" cy="61.5" r="1.6" fill="#F8766D"/>
<circle cx="105.5" cy="50.5" r="1.0" fill="#F8766D"/>
<circle cx="106.1" cy="50.0" r="1.3" fill="#F8766D"/>
<circle cx="124.2" cy="48.8" r="1.0" fill="#F8766D"/>
<circle cx="105.2" cy="59.9" r="1.0" fill="#F8766D"/>
<circle cx="112.3" cy="58.4" r="1.0" fill="#F8766D"/>
<circle cx="117.2" cy="47.8" r="1.0" fill="#F8766D"/>
<circle cx="106.4" cy="55.6" r="1.6" fill="#F8766D"/>
<circle cx="110.9" cy="64.5" r="1.6" fill="#F8766D"/>
<circle cx="106.0" cy="56.7" r="1.0" fill="#F8766D"/>
<circle cx="109.8" cy="48.6" r="1.6" fill="#F8766D"/>
<circle cx="123.0" cy="64.3" r="1.3" fill="#F8766D"/>
<circle cx="115.7" cy="50.6" r="1.6" fill="#F8766D"/>
<circle cx="125.6" cy="62.3" r="1.3" fill="#F8766D"/>
<circle cx="108.7" cy="49.2" r="1.6" fill="#F8766D"/>
<circle cx="120.7" cy="62.5" r="1.3" fill="#F8766D"/>
<circle cx="105.2" cy="53.3" r="1.6" fill="#F8766D"/>
<circle cx="118.7" cy="61.6" r="1.0" fill="#F8766D"/>
<circle cx="111.7" cy="60.7" r="1.0" fill="#F8766D"/>
<circle cx="104.4" cy="63.9" r="1.6" fill="#F8766D"/>
<circle cx="70.9" cy="59.2" r="1.3" fill="#F8766D"/>
<circle cx="73.5" cy="53.2" r="1.6" fill="#F8766D"/>
<circle cx="67.3" cy="41.5" r="1.6" fill="#F8766D"/>
<circle cx="100.0" cy="52.8" r="1.6" fill="#F8766D"/>
<circle cx="64.8" cy="47.9" r="1.6" fill="#F8766D"/>
<circle cx="67.8" cy="47.5" r="1.0" fill="#F8766D"/>
<circle cx="70.3" cy="45.5" r="1.3" fill="#F8766D"/>
<circle cx="82.0" cy="50.2" r="1.6" fill="#F8766D"/>
<circle cx="82.7" cy="59.9" r="1.6" fill="#F8766D"/>
<circle cx="77.8" cy="52.9" r="1.6" fill="#F8766D"/>
<circle cx="83.9" cy="55.2" r="1.0" fill="#F8766D"/>
<circle cx="75.5" cy="58.8" r="1.3" fill="#F8766D"/>
<circle cx="64.2" cy="175.1" r="1.3" fill="#F8766D"/>
<circle cx="66.3" cy="187.9" r="1.3" fill="#F8766D"/>
<circle cx="78.4" cy="182.6" r="1.6" fill="#F8766D"/>
<circle cx="62.0" cy="179.4" r="1.6" fill="#F8766D"/>
<circle cx="58.6" cy="189.7" r="1.6" fill="#F8766D"/>
<circle cx="77.9" cy="189.9" r="1.6" fill="#F8766D"/>
<circle cx="58.9" cy="170.4" r="1.0" fill="#F8766D"/>
<circle cx="67.6" cy="189.0" r="1.3" fill="#F8766D"/>
<circle cx="72.6" cy="181.7" r="1.3" fill="#F8766D"/>
<circle cx="72.5" cy="171.5" r="1.6" fill="#F8766D"/>
<circle cx="78.3" cy="172.2" r="1.0" fill="#F8766D"/>
<circle cx="62.9" cy="184.3" r="1.0" fill="#F8766D"/>
<circle cx="74.3" cy="197.3" r="1.0" fill="#F8766D"/>
<circle cx="79.4" cy="194.5" r="1.6" fill="#F8766D"/>
<circle cx="71.2" cy="171.5" r="1.3" fill="#F8766D"/>
<circle cx="63.7" cy="176.1" r="1.0" fill="#F8766D"/>
<circle cx="60.7" cy="174.6" r="1.3" fill="#F8766D"/>
<circle cx="63.3" cy="190.0" r="1.3" fill="#F8766D"/>
<circle cx="150.4" cy="192.1" r="1.6" fill="#F8766D"/>
<circle cx="146.1" cy="195.1" r="1.6" fill="#F8766D"/>
<circle cx="155.6" cy="181.0" r="1.3" fill="#F8766D"/>
<circle cx="153.6" cy="183.2" r="1.0" fill="#F8766D"/>
<circle cx="148.1" cy="184.8" r="1.6" fill="#F8766D"/>
<circle cx="151.0" cy="185.9" r="1.3" fill="#F8766D"/>
<circle cx="150.6" cy="194.0" r="1.6" fill="#F8766D"/>
<circle cx="150.2" cy="191.9" r="1.0" fill="#F8766D"/>
<circle cx="140.6" cy="183.5" r="1.6" fill="#F8766D"/>
<circle cx="142.5" cy="187.4" r="1.6" fill="#F8766D"/>
<circle cx="142.7" cy="194.6" r="1.6" fill="#F8766D"/>
<circle cx="139.9" cy="183.2" r="1.3" fill="#F8766D"/>
<circle cx="147.6" cy="185.8" r="1.3" fill="#F8766D"/>
<circle cx="144.2" cy="194.4" r="1.0" fill="#F8766D"/>
<circle cx="155.3" cy="187.8" r="1.6" fill="#F8766D"/>
<circle cx="146.7" cy="194.4" r="1.3" fill="#F8766D"/>
<circle cx="155.4" cy="186.1" r="1.6" fill="#F8766D"/>
<circle cx="156.1" cy="191.1" r="1.3" fill="#F8766D"/>
<circle cx="149.2" cy="194.4" r="1.0" fill="#F8766D"/>
<circle cx="146.3" cy="186.1" r="1.0" fill="#F8766D"/>
<circle cx="149.2" cy="204.7" r="1.6" fill="#F8766D"/>
<circle cx="146.0" cy="218.3" r="1.0" fill="#F8766D"/>
<circle cx="146.2" cy="222.3" r="1.6" fill="#F8766D"/>
<circle cx="141.6" cy="204.1" r="1.6" fill="#F8766D"/>
<circle cx="155.3" cy="204.8" r="1.0" fill="#F8766D"/>
<circle cx="144.4" cy="214.7" r="1.3" fill="#F8766D"/>
<circle cx="147.3" cy="198.5" r="1.6" fill="#F8766D"/>
<circle cx="145.6" cy="210.9" r="1.3" fill="#F8766D"/>
<circle cx="149.2" cy="201.6" r="1.6" fill="#F8766D"/>
<circle cx="147.2" cy="206.0" r="1.3" fill="#F8766D"/>
<circle cx="147.4" cy="206.7" r="1.0" fill="#F8766D"/>
<circle cx="143.5" cy="217.8" r="1.3" fill="#F8766D"/>
<circle cx="156.2" cy="201.6" r="1.0" fill="#F8766D"/>
<circle cx="141.7" cy="197.5" r="1.6" fill="#F8766D"/>
<circle cx="150.5" cy="159.8" r="1.0" fill="#F8766D"/>
<circle cx="164.9" cy="159.7" r="1.0" fill="#F8766D"/>
<circle cx="164.2" cy="157.3" r="1.6" fill="#F8766D"/>
<circle cx="156.8" cy="156.9" r="1.3" fill="#F8766D"/>
<circle cx="156.8" cy="164.5" r="1.6" fill="#F8766D"/>
<circle cx="152.7" cy="157.3" r="1.6" fill="#F8766D"/>
<circle cx="151.4" cy="159.3" r="1.0" fill="#F8766D"/>
<circle cx="158.2" cy="162.4" r="1.6" fill="#F8766D"/>
<circle cx="159.3" cy="158.1" r="1.0" fill="#F8766D"/>
<circle cx="160.5" cy="160.7" r="1.0" fill="#F8766D"/>
<circle cx="242.1" cy="135.7" r="1.0" fill="#F8766D"/>
<circle cx="244.7" cy="129.5" r="1.0" fill="#F8766D"/>
<circle cx="243.3" cy="148.7" r="1.3" fill="#F8766D"/>
<circle cx="243.0" cy="142.5" r="1.0" fill="#F8766D"/>
<circle cx="240.6" cy="142.7" r="1.6" fill="#F8766D"/>
<circle cx="250.2" cy="131.1" r="1.6" fill="#F8766D"/>
<circle cx="241.7" cy="158.1" r="1.6" fill="#F8766D"/>
<circle cx="245.1" cy="158.2" r="1.3" fill="#F8766D"/>
<circle cx="251.2" cy="159.0" r="1.6" fill="#F8766D"/>
<circle cx="253.4" cy="154.7" r="1.3" fill="#F8766D"/>
<circle cx="242.1" cy="154.7" r="1.3" fill="#F8766D"/>
<circle cx="238.2" cy="154.5" r="1.6" fill="#F8766D"/>
<circle cx="254.0" cy="124.3" r="1.0" fill="#F8766D"/>
<circle cx="249.2" cy="122.1" r="1.3" fill="#F8766D"/>
<circle cx="248.6" cy="121.5" r="1.6" fill="#F8766D"/>
<circle cx="229.4" cy="106.6" r="1.3" fill="#F8766D"/>
<circle cx="220.3" cy="99.9" r="1.0" fill="#F8766D"/>
<circle cx="228.7" cy="103.3" r="1.0" fill="#F8766D"/>
<circle cx="225.1" cy="102.1" r="1.6" fill="#F8766D"/>
<circle cx="224.9" cy="102.7" r="1.6" fill="#F8766D"/>
<circle cx="221.1" cy="98.7" r="1.0" fill="#F8766D"/>
<circle cx="221.7" cy="101.9" r="1.3" fill="#F8766D"/>
<circle cx="231.9" cy="105.8" r="1.0" fill="#F8766D"/>
<circle cx="193.9" cy="226.3" r="1.0" fill="#F8766D"/>
<circle cx="205.4" cy="236.2" r="1.6" fill="#F8766D"/>
<circle cx="189.0" cy="219.9" r="1.3" fill="#F8766D"/>
<circle cx="201.2" cy="241.7" r="1.6" fill="#F8766D"/>
<circle cx="191.6" cy="200.9" r="1.3" fill="#F8766D"/>
<circle cx="190.9" cy="209.9" r="1.6" fill="#F8766D"/>
<circle cx="192.6" cy="234.2" r="1.0" fill="#F8766D"/>
<circle cx="186.0" cy="220.3" r="1.0" fill="#F8766D"/>
<circle cx="202.7" cy="226.2" r="1.0" fill="#F8766D"/>
<circle cx="196.4" cy="225.9" r="1.0" fill="#F8766D"/>
</g>
<circle cx="442" cy="262.6" r="4.5" fill="#00BFC4"/>
<circle cx="442" cy="278" r="4.5" fill="#F8766D"/>
<text x="451" y="267" font-size="12.5" fill="#111">Control</text>
<text x="451" y="282.5" font-size="12.5" fill="#111"><tspan font-style="italic">Angpt1</tspan>ΔNC</text>
<g stroke="#333" stroke-width="1.1" fill="none">
<path d="M41.4,13 V289.4 H270.0"/>
<path d="M37.8,58.0 H41.4"/>
<path d="M37.8,137.0 H41.4"/>
<path d="M37.8,216.0 H41.4"/>
<path d="M75.6,289.4 V293"/>
<path d="M144.6,289.4 V293"/>
<path d="M214.0,289.4 V293"/>
</g>
<text x="32.8" y="62.3" font-size="12" text-anchor="end" fill="#222">10</text>
<text x="32.8" y="141.3" font-size="12" text-anchor="end" fill="#222">0</text>
<text x="32.8" y="220.3" font-size="12" text-anchor="end" fill="#222">−10</text>
<text x="75.6" y="307.6" font-size="12" text-anchor="middle" fill="#222">−10</text>
<text x="144.6" y="307.6" font-size="12" text-anchor="middle" fill="#222">0</text>
<text x="214.0" y="307.6" font-size="12" text-anchor="middle" fill="#222">10</text>
<text x="144.2" y="328" font-size="13" text-anchor="middle" fill="#222">UMAP_1</text>
<g stroke="#333" stroke-width="1.1" fill="none">
<path d="M293.0,13 V289.4 H521.6"/>
<path d="M289.4,58.0 H293.0"/>
<path d="M289.4,137.0 H293.0"/>
<path d="M289.4,216.0 H293.0"/>
<path d="M327.2,289.4 V293"/>
<path d="M396.2,289.4 V293"/>
<path d="M465.6,289.4 V293"/>
</g>
<text x="327.2" y="307.6" font-size="12" text-anchor="middle" fill="#222">−10</text>
<text x="396.2" y="307.6" font-size="12" text-anchor="middle" fill="#222">0</text>
<text x="465.6" y="307.6" font-size="12" text-anchor="middle" fill="#222">10</text>
<text x="395.8" y="328" font-size="13" text-anchor="middle" fill="#222">UMAP_1</text>
<text transform="translate(11,136) rotate(-90)" font-size="13" text-anchor="middle" fill="#222">UMAP_2</text>
<g stroke="#333" stroke-width="1.1" fill="none">
<path d="M569.4,13 V289.4 H681.6"/>
<path d="M565.8,289.0 H569.4"/>
<path d="M565.8,216.0 H569.4"/>
<path d="M565.8,143.0 H569.4"/>
<path d="M565.8,70.0 H569.4"/>
<path d="M599.6,289.4 V293"/>
<path d="M650.6,289.4 V293"/>
</g>
<text x="563" y="293.3" font-size="12" text-anchor="end" fill="#222">0</text>
<text x="563" y="220.3" font-size="12" text-anchor="end" fill="#222">1</text>
<text x="563" y="147.3" font-size="12" text-anchor="end" fill="#222">2</text>
<text x="563" y="74.3" font-size="12" text-anchor="end" fill="#222">3</text>
<text x="599.6" y="307.6" font-size="12" text-anchor="middle" fill="#222">C</text>
<text x="650.6" y="307.6" font-size="12" text-anchor="middle" fill="#222">ΔNC</text>
<text transform="translate(546,136) rotate(-90)" font-size="13.2" text-anchor="middle" fill="#222"><tspan font-style="italic">Angpt1</tspan> exp. (Arb. U)</text>
<path d="M599.6,35 V289 M650.6,197.6 V289" stroke="#333" stroke-width="0.9"/>
<g fill="#000">
<circle cx="605.8" cy="204.3" r="1.45"/><circle cx="581.8" cy="184.0" r="1.45"/><circle cx="581.2" cy="218.9" r="1.45"/><circle cx="599.9" cy="203.3" r="1.45"/><circle cx="581.7" cy="167.4" r="1.45"/><circle cx="582.6" cy="191.5" r="1.45"/><circle cx="583.9" cy="231.9" r="1.45"/><circle cx="588.1" cy="173.4" r="1.45"/><circle cx="602.7" cy="232.4" r="1.45"/><circle cx="595.3" cy="233.2" r="1.45"/><circle cx="614.4" cy="189.9" r="1.45"/><circle cx="590.8" cy="199.2" r="1.45"/><circle cx="591.6" cy="189.8" r="1.45"/><circle cx="612.7" cy="187.4" r="1.45"/><circle cx="605.3" cy="182.7" r="1.45"/><circle cx="594.3" cy="161.8" r="1.45"/><circle cx="581.3" cy="206.4" r="1.45"/><circle cx="587.3" cy="200.7" r="1.45"/><circle cx="591.8" cy="208.7" r="1.45"/><circle cx="603.1" cy="219.4" r="1.45"/><circle cx="611.8" cy="216.5" r="1.45"/><circle cx="607.8" cy="191.6" r="1.45"/><circle cx="600.6" cy="196.8" r="1.45"/><circle cx="615.1" cy="157.9" r="1.45"/><circle cx="619.5" cy="200.7" r="1.45"/><circle cx="583.7" cy="216.6" r="1.45"/><circle cx="585.1" cy="228.6" r="1.45"/><circle cx="599.1" cy="174.3" r="1.45"/><circle cx="610.5" cy="152.8" r="1.45"/><circle cx="602.6" cy="188.3" r="1.45"/><circle cx="607.7" cy="180.9" r="1.45"/><circle cx="603.5" cy="212.4" r="1.45"/><circle cx="613.7" cy="219.6" r="1.45"/><circle cx="618.0" cy="210.6" r="1.45"/><circle cx="581.3" cy="228.5" r="1.45"/><circle cx="607.9" cy="191.7" r="1.45"/><circle cx="612.9" cy="235.6" r="1.45"/><circle cx="590.6" cy="244.1" r="1.45"/><circle cx="579.7" cy="222.5" r="1.45"/><circle cx="598.0" cy="169.4" r="1.45"/><circle cx="581.2" cy="191.6" r="1.45"/><circle cx="610.7" cy="186.3" r="1.45"/><circle cx="595.0" cy="183.8" r="1.45"/><circle cx="615.0" cy="183.0" r="1.45"/><circle cx="601.6" cy="170.1" r="1.45"/><circle cx="615.5" cy="183.5" r="1.45"/><circle cx="590.4" cy="173.8" r="1.45"/><circle cx="596.0" cy="234.2" r="1.45"/><circle cx="618.5" cy="226.0" r="1.45"/><circle cx="585.1" cy="146.2" r="1.45"/><circle cx="588.5" cy="189.4" r="1.45"/><circle cx="598.9" cy="179.9" r="1.45"/><circle cx="579.0" cy="213.4" r="1.45"/><circle cx="596.2" cy="208.0" r="1.45"/><circle cx="618.4" cy="217.9" r="1.45"/><circle cx="607.5" cy="170.4" r="1.45"/><circle cx="606.9" cy="227.2" r="1.45"/><circle cx="581.0" cy="201.4" r="1.45"/><circle cx="615.1" cy="154.2" r="1.45"/><circle cx="611.9" cy="220.8" r="1.45"/><circle cx="583.1" cy="216.0" r="1.45"/><circle cx="605.1" cy="180.4" r="1.45"/><circle cx="587.5" cy="188.8" r="1.45"/><circle cx="585.5" cy="194.3" r="1.45"/><circle cx="578.8" cy="202.4" r="1.45"/><circle cx="585.1" cy="190.7" r="1.45"/><circle cx="579.9" cy="176.3" r="1.45"/><circle cx="615.1" cy="182.4" r="1.45"/><circle cx="589.3" cy="208.3" r="1.45"/><circle cx="593.2" cy="207.0" r="1.45"/><circle cx="614.0" cy="206.2" r="1.45"/><circle cx="620.0" cy="187.7" r="1.45"/><circle cx="582.4" cy="222.6" r="1.45"/><circle cx="583.0" cy="191.6" r="1.45"/><circle cx="613.2" cy="208.4" r="1.45"/><circle cx="585.5" cy="179.7" r="1.45"/><circle cx="600.7" cy="109.4" r="1.45"/><circle cx="584.9" cy="188.5" r="1.45"/><circle cx="600.7" cy="203.6" r="1.45"/><circle cx="619.4" cy="199.6" r="1.45"/><circle cx="589.6" cy="168.4" r="1.45"/><circle cx="594.0" cy="223.4" r="1.45"/><circle cx="600.9" cy="173.4" r="1.45"/><circle cx="611.1" cy="150.9" r="1.45"/><circle cx="612.5" cy="206.3" r="1.45"/><circle cx="619.7" cy="180.7" r="1.45"/><circle cx="612.8" cy="165.6" r="1.45"/><circle cx="609.5" cy="228.3" r="1.45"/><circle cx="593.6" cy="193.4" r="1.45"/><circle cx="580.0" cy="161.9" r="1.45"/><circle cx="589.6" cy="175.3" r="1.45"/><circle cx="607.5" cy="194.4" r="1.45"/><circle cx="617.7" cy="167.0" r="1.45"/><circle cx="619.8" cy="205.2" r="1.45"/><circle cx="587.9" cy="171.5" r="1.45"/><circle cx="588.2" cy="204.6" r="1.45"/><circle cx="604.7" cy="192.2" r="1.45"/><circle cx="616.2" cy="180.2" r="1.45"/><circle cx="605.9" cy="180.9" r="1.45"/><circle cx="612.0" cy="219.5" r="1.45"/><circle cx="616.6" cy="159.3" r="1.45"/><circle cx="611.3" cy="176.9" r="1.45"/><circle cx="586.2" cy="198.0" r="1.45"/><circle cx="611.5" cy="222.9" r="1.45"/><circle cx="619.1" cy="218.1" r="1.45"/><circle cx="595.2" cy="148.2" r="1.45"/><circle cx="608.9" cy="236.6" r="1.45"/><circle cx="585.9" cy="154.1" r="1.45"/><circle cx="616.4" cy="187.3" r="1.45"/><circle cx="612.3" cy="187.0" r="1.45"/><circle cx="619.5" cy="164.0" r="1.45"/><circle cx="606.1" cy="151.0" r="1.45"/><circle cx="584.2" cy="215.1" r="1.45"/><circle cx="579.4" cy="168.0" r="1.45"/><circle cx="600.7" cy="153.5" r="1.45"/><circle cx="617.5" cy="204.5" r="1.45"/><circle cx="613.1" cy="234.9" r="1.45"/><circle cx="587.6" cy="174.6" r="1.45"/><circle cx="588.8" cy="198.3" r="1.45"/><circle cx="603.1" cy="174.2" r="1.45"/><circle cx="584.2" cy="199.6" r="1.45"/><circle cx="616.6" cy="167.3" r="1.45"/><circle cx="603.0" cy="213.6" r="1.45"/><circle cx="616.3" cy="172.6" r="1.45"/><circle cx="599.6" cy="236.5" r="1.45"/><circle cx="600.9" cy="166.3" r="1.45"/><circle cx="597.1" cy="202.8" r="1.45"/><circle cx="586.4" cy="198.8" r="1.45"/><circle cx="586.0" cy="138.8" r="1.45"/><circle cx="598.4" cy="196.9" r="1.45"/><circle cx="592.3" cy="202.9" r="1.45"/><circle cx="600.3" cy="225.1" r="1.45"/><circle cx="583.2" cy="231.6" r="1.45"/><circle cx="602.1" cy="212.1" r="1.45"/><circle cx="610.8" cy="197.8" r="1.45"/><circle cx="599.9" cy="175.0" r="1.45"/><circle cx="616.7" cy="230.3" r="1.45"/><circle cx="597.2" cy="212.9" r="1.45"/><circle cx="600.1" cy="218.3" r="1.45"/><circle cx="607.5" cy="215.7" r="1.45"/><circle cx="598.6" cy="223.6" r="1.45"/><circle cx="617.9" cy="188.3" r="1.45"/><circle cx="617.9" cy="213.0" r="1.45"/><circle cx="589.6" cy="236.2" r="1.45"/><circle cx="613.7" cy="240.3" r="1.45"/><circle cx="584.5" cy="217.8" r="1.45"/><circle cx="581.8" cy="175.8" r="1.45"/><circle cx="588.8" cy="176.9" r="1.45"/><circle cx="611.3" cy="156.9" r="1.45"/><circle cx="616.0" cy="179.6" r="1.45"/><circle cx="606.2" cy="172.1" r="1.45"/><circle cx="584.7" cy="157.8" r="1.45"/><circle cx="587.9" cy="132.4" r="1.45"/><circle cx="618.3" cy="233.4" r="1.45"/><circle cx="619.9" cy="218.8" r="1.45"/><circle cx="613.3" cy="178.7" r="1.45"/><circle cx="600.2" cy="182.6" r="1.45"/><circle cx="592.9" cy="171.9" r="1.45"/><circle cx="608.8" cy="190.3" r="1.45"/><circle cx="579.6" cy="174.4" r="1.45"/><circle cx="579.6" cy="220.6" r="1.45"/><circle cx="592.6" cy="206.7" r="1.45"/><circle cx="581.5" cy="217.4" r="1.45"/><circle cx="619.7" cy="217.1" r="1.45"/><circle cx="583.1" cy="180.3" r="1.45"/><circle cx="589.8" cy="245.0" r="1.45"/><circle cx="590.0" cy="143.2" r="1.45"/><circle cx="584.2" cy="186.5" r="1.45"/><circle cx="612.8" cy="236.2" r="1.45"/><circle cx="589.5" cy="167.5" r="1.45"/><circle cx="602.5" cy="157.2" r="1.45"/><circle cx="607.9" cy="138.0" r="1.45"/><circle cx="607.4" cy="190.3" r="1.45"/><circle cx="596.5" cy="193.2" r="1.45"/><circle cx="605.1" cy="124.3" r="1.45"/><circle cx="612.1" cy="167.4" r="1.45"/><circle cx="581.6" cy="142.5" r="1.45"/><circle cx="614.6" cy="169.0" r="1.45"/><circle cx="601.8" cy="217.7" r="1.45"/><circle cx="617.3" cy="191.1" r="1.45"/><circle cx="600.7" cy="199.5" r="1.45"/><circle cx="588.7" cy="183.7" r="1.45"/><circle cx="580.9" cy="185.6" r="1.45"/><circle cx="587.2" cy="187.9" r="1.45"/><circle cx="610.3" cy="205.9" r="1.45"/><circle cx="590.8" cy="175.5" r="1.45"/><circle cx="593.2" cy="212.7" r="1.45"/><circle cx="579.6" cy="198.0" r="1.45"/><circle cx="609.2" cy="198.0" r="1.45"/><circle cx="601.7" cy="193.4" r="1.45"/><circle cx="617.6" cy="186.6" r="1.45"/><circle cx="583.2" cy="166.8" r="1.45"/><circle cx="599.3" cy="185.9" r="1.45"/><circle cx="613.4" cy="219.6" r="1.45"/><circle cx="607.3" cy="218.9" r="1.45"/><circle cx="619.6" cy="177.1" r="1.45"/><circle cx="608.1" cy="221.0" r="1.45"/><circle cx="605.2" cy="147.5" r="1.45"/><circle cx="581.1" cy="215.5" r="1.45"/><circle cx="584.2" cy="183.8" r="1.45"/><circle cx="589.4" cy="151.2" r="1.45"/><circle cx="585.6" cy="178.1" r="1.45"/><circle cx="614.9" cy="144.4" r="1.45"/><circle cx="606.6" cy="169.6" r="1.45"/><circle cx="591.0" cy="201.7" r="1.45"/><circle cx="597.9" cy="177.4" r="1.45"/><circle cx="589.7" cy="181.5" r="1.45"/><circle cx="618.7" cy="171.7" r="1.45"/><circle cx="588.9" cy="160.3" r="1.45"/><circle cx="618.9" cy="203.4" r="1.45"/><circle cx="578.8" cy="206.4" r="1.45"/><circle cx="594.6" cy="172.8" r="1.45"/><circle cx="587.1" cy="223.4" r="1.45"/><circle cx="599.7" cy="193.1" r="1.45"/><circle cx="582.5" cy="175.7" r="1.45"/><circle cx="595.4" cy="197.4" r="1.45"/><circle cx="591.4" cy="192.6" r="1.45"/><circle cx="588.5" cy="196.6" r="1.45"/><circle cx="609.9" cy="221.3" r="1.45"/><circle cx="606.1" cy="212.7" r="1.45"/><circle cx="595.0" cy="208.5" r="1.45"/><circle cx="592.3" cy="237.2" r="1.45"/><circle cx="608.9" cy="182.4" r="1.45"/><circle cx="605.5" cy="199.4" r="1.45"/><circle cx="615.8" cy="137.2" r="1.45"/><circle cx="604.8" cy="183.9" r="1.45"/><circle cx="584.6" cy="202.6" r="1.45"/><circle cx="600.5" cy="234.3" r="1.45"/><circle cx="612.2" cy="235.5" r="1.45"/><circle cx="613.1" cy="199.4" r="1.45"/><circle cx="607.1" cy="234.4" r="1.45"/><circle cx="607.6" cy="221.5" r="1.45"/><circle cx="584.3" cy="197.2" r="1.45"/><circle cx="593.8" cy="191.5" r="1.45"/><circle cx="602.0" cy="150.5" r="1.45"/><circle cx="604.9" cy="163.0" r="1.45"/><circle cx="599.1" cy="221.4" r="1.45"/><circle cx="578.9" cy="221.7" r="1.45"/><circle cx="599.7" cy="184.6" r="1.45"/><circle cx="601.0" cy="230.7" r="1.45"/><circle cx="609.4" cy="203.0" r="1.45"/><circle cx="589.3" cy="205.6" r="1.45"/><circle cx="609.1" cy="178.3" r="1.45"/><circle cx="587.3" cy="188.6" r="1.45"/><circle cx="599.3" cy="202.4" r="1.45"/><circle cx="594.7" cy="246.5" r="1.45"/><circle cx="610.6" cy="229.3" r="1.45"/><circle cx="604.4" cy="192.8" r="1.45"/><circle cx="584.9" cy="204.2" r="1.45"/><circle cx="589.3" cy="205.7" r="1.45"/><circle cx="602.4" cy="199.0" r="1.45"/><circle cx="579.3" cy="217.3" r="1.45"/><circle cx="606.7" cy="177.3" r="1.45"/><circle cx="607.5" cy="190.2" r="1.45"/><circle cx="600.2" cy="207.1" r="1.45"/><circle cx="598.1" cy="215.1" r="1.45"/><circle cx="615.9" cy="209.7" r="1.45"/><circle cx="587.1" cy="195.3" r="1.45"/><circle cx="579.5" cy="114.6" r="1.45"/><circle cx="597.8" cy="205.9" r="1.45"/><circle cx="597.5" cy="164.7" r="1.45"/><circle cx="589.9" cy="242.2" r="1.45"/><circle cx="587.5" cy="181.3" r="1.45"/><circle cx="602.9" cy="114.0" r="1.45"/><circle cx="618.3" cy="176.3" r="1.45"/><circle cx="584.3" cy="170.4" r="1.45"/><circle cx="615.6" cy="184.1" r="1.45"/><circle cx="608.0" cy="221.7" r="1.45"/><circle cx="599.0" cy="191.5" r="1.45"/><circle cx="579.8" cy="124.3" r="1.45"/><circle cx="597.5" cy="163.0" r="1.45"/><circle cx="591.3" cy="197.4" r="1.45"/><circle cx="591.9" cy="181.9" r="1.45"/><circle cx="613.7" cy="178.0" r="1.45"/><circle cx="613.6" cy="143.9" r="1.45"/><circle cx="583.8" cy="197.6" r="1.45"/><circle cx="616.2" cy="153.8" r="1.45"/><circle cx="590.8" cy="214.3" r="1.45"/><circle cx="620.2" cy="214.1" r="1.45"/><circle cx="603.3" cy="177.8" r="1.45"/><circle cx="590.2" cy="213.8" r="1.45"/><circle cx="580.8" cy="174.8" r="1.45"/><circle cx="590.7" cy="149.7" r="1.45"/><circle cx="617.6" cy="164.1" r="1.45"/><circle cx="600.0" cy="198.0" r="1.45"/><circle cx="586.7" cy="175.6" r="1.45"/><circle cx="615.5" cy="233.3" r="1.45"/><circle cx="612.5" cy="139.0" r="1.45"/><circle cx="617.8" cy="229.3" r="1.45"/><circle cx="601.6" cy="231.2" r="1.45"/><circle cx="609.2" cy="199.6" r="1.45"/><circle cx="597.5" cy="205.7" r="1.45"/><circle cx="590.7" cy="197.4" r="1.45"/><circle cx="580.8" cy="228.2" r="1.45"/><circle cx="598.4" cy="185.3" r="1.45"/><circle cx="593.1" cy="203.8" r="1.45"/><circle cx="619.3" cy="209.6" r="1.45"/><circle cx="589.6" cy="148.0" r="1.45"/><circle cx="601.9" cy="209.3" r="1.45"/><circle cx="595.2" cy="214.3" r="1.45"/><circle cx="587.4" cy="190.2" r="1.45"/><circle cx="616.4" cy="183.9" r="1.45"/><circle cx="616.4" cy="214.3" r="1.45"/><circle cx="620.2" cy="197.7" r="1.45"/><circle cx="586.8" cy="210.4" r="1.45"/><circle cx="582.6" cy="193.6" r="1.45"/><circle cx="588.7" cy="203.9" r="1.45"/><circle cx="589.5" cy="188.2" r="1.45"/><circle cx="609.9" cy="235.5" r="1.45"/><circle cx="595.9" cy="218.0" r="1.45"/><circle cx="594.4" cy="221.1" r="1.45"/><circle cx="592.8" cy="180.6" r="1.45"/><circle cx="619.0" cy="176.9" r="1.45"/><circle cx="584.0" cy="189.9" r="1.45"/><circle cx="614.6" cy="227.7" r="1.45"/><circle cx="587.8" cy="198.8" r="1.45"/><circle cx="595.4" cy="200.5" r="1.45"/><circle cx="597.3" cy="176.8" r="1.45"/><circle cx="615.0" cy="135.8" r="1.45"/><circle cx="579.7" cy="211.1" r="1.45"/><circle cx="616.0" cy="149.0" r="1.45"/><circle cx="598.4" cy="189.6" r="1.45"/><circle cx="595.0" cy="198.4" r="1.45"/><circle cx="617.3" cy="198.3" r="1.45"/><circle cx="619.1" cy="172.0" r="1.45"/><circle cx="589.1" cy="233.3" r="1.45"/><circle cx="600.5" cy="185.9" r="1.45"/><circle cx="607.1" cy="188.2" r="1.45"/><circle cx="605.7" cy="150.8" r="1.45"/><circle cx="610.5" cy="211.6" r="1.45"/><circle cx="580.4" cy="224.4" r="1.45"/><circle cx="611.3" cy="189.1" r="1.45"/><circle cx="605.6" cy="191.6" r="1.45"/><circle cx="591.4" cy="119.0" r="1.45"/><circle cx="605.2" cy="183.5" r="1.45"/><circle cx="607.8" cy="182.9" r="1.45"/><circle cx="600.6" cy="190.3" r="1.45"/><circle cx="603.0" cy="191.5" r="1.45"/><circle cx="603.7" cy="210.9" r="1.45"/><circle cx="579.2" cy="185.5" r="1.45"/><circle cx="618.6" cy="206.6" r="1.45"/><circle cx="605.5" cy="166.8" r="1.45"/><circle cx="588.5" cy="173.7" r="1.45"/><circle cx="589.1" cy="215.4" r="1.45"/><circle cx="591.6" cy="150.0" r="1.45"/><circle cx="579.7" cy="207.3" r="1.45"/><circle cx="596.2" cy="229.2" r="1.45"/><circle cx="589.5" cy="197.6" r="1.45"/><circle cx="588.2" cy="222.7" r="1.45"/><circle cx="580.2" cy="236.7" r="1.45"/><circle cx="607.1" cy="211.0" r="1.45"/><circle cx="587.0" cy="172.3" r="1.45"/><circle cx="599.8" cy="185.0" r="1.45"/><circle cx="587.3" cy="230.4" r="1.45"/><circle cx="612.8" cy="173.6" r="1.45"/><circle cx="588.4" cy="202.1" r="1.45"/><circle cx="591.0" cy="190.0" r="1.45"/><circle cx="618.3" cy="144.1" r="1.45"/><circle cx="588.1" cy="213.0" r="1.45"/><circle cx="596.1" cy="197.6" r="1.45"/><circle cx="584.9" cy="224.7" r="1.45"/><circle cx="595.1" cy="238.5" r="1.45"/><circle cx="584.7" cy="180.7" r="1.45"/><circle cx="581.0" cy="99.0" r="1.45"/><circle cx="616.1" cy="171.0" r="1.45"/><circle cx="615.5" cy="188.1" r="1.45"/><circle cx="617.5" cy="207.1" r="1.45"/><circle cx="592.5" cy="254.3" r="1.45"/><circle cx="609.8" cy="171.2" r="1.45"/><circle cx="580.1" cy="122.7" r="1.45"/><circle cx="594.3" cy="209.9" r="1.45"/><circle cx="592.6" cy="217.1" r="1.45"/><circle cx="590.4" cy="197.1" r="1.45"/><circle cx="593.4" cy="196.3" r="1.45"/><circle cx="618.8" cy="184.5" r="1.45"/><circle cx="587.4" cy="201.6" r="1.45"/><circle cx="612.9" cy="223.1" r="1.45"/><circle cx="596.7" cy="152.3" r="1.45"/><circle cx="594.3" cy="166.0" r="1.45"/><circle cx="617.0" cy="188.8" r="1.45"/><circle cx="616.0" cy="189.1" r="1.45"/><circle cx="580.1" cy="172.2" r="1.45"/><circle cx="610.6" cy="230.0" r="1.45"/><circle cx="580.5" cy="169.6" r="1.45"/><circle cx="617.0" cy="188.6" r="1.45"/><circle cx="589.5" cy="196.0" r="1.45"/><circle cx="592.9" cy="199.0" r="1.45"/><circle cx="590.1" cy="239.0" r="1.45"/><circle cx="589.7" cy="156.7" r="1.45"/><circle cx="608.5" cy="206.9" r="1.45"/><circle cx="579.0" cy="206.0" r="1.45"/><circle cx="610.2" cy="177.3" r="1.45"/><circle cx="617.9" cy="160.7" r="1.45"/><circle cx="579.8" cy="214.4" r="1.45"/><circle cx="618.5" cy="195.1" r="1.45"/><circle cx="618.4" cy="164.2" r="1.45"/><circle cx="596.6" cy="211.6" r="1.45"/><circle cx="599.3" cy="184.4" r="1.45"/><circle cx="612.1" cy="182.2" r="1.45"/><circle cx="609.4" cy="204.8" r="1.45"/><circle cx="604.0" cy="176.5" r="1.45"/><circle cx="592.4" cy="230.0" r="1.45"/><circle cx="611.3" cy="207.7" r="1.45"/><circle cx="582.1" cy="173.3" r="1.45"/><circle cx="589.1" cy="183.1" r="1.45"/><circle cx="581.5" cy="147.4" r="1.45"/><circle cx="592.3" cy="160.3" r="1.45"/><circle cx="619.5" cy="191.0" r="1.45"/><circle cx="589.8" cy="120.2" r="1.45"/><circle cx="582.3" cy="236.8" r="1.45"/><circle cx="608.3" cy="169.8" r="1.45"/><circle cx="597.3" cy="179.3" r="1.45"/><circle cx="604.5" cy="195.4" r="1.45"/><circle cx="606.8" cy="167.5" r="1.45"/><circle cx="606.4" cy="198.7" r="1.45"/><circle cx="583.8" cy="236.1" r="1.45"/><circle cx="602.3" cy="185.8" r="1.45"/><circle cx="594.3" cy="214.3" r="1.45"/><circle cx="589.1" cy="199.3" r="1.45"/><circle cx="589.0" cy="213.5" r="1.45"/><circle cx="602.8" cy="162.2" r="1.45"/><circle cx="592.3" cy="142.4" r="1.45"/><circle cx="599.9" cy="243.6" r="1.45"/><circle cx="588.4" cy="134.2" r="1.45"/><circle cx="619.9" cy="183.7" r="1.45"/><circle cx="583.0" cy="226.8" r="1.45"/><circle cx="613.7" cy="234.4" r="1.45"/><circle cx="616.7" cy="190.3" r="1.45"/><circle cx="583.7" cy="175.0" r="1.45"/><circle cx="586.7" cy="192.5" r="1.45"/><circle cx="617.4" cy="158.0" r="1.45"/><circle cx="594.2" cy="203.6" r="1.45"/><circle cx="589.6" cy="177.5" r="1.45"/><circle cx="611.1" cy="216.6" r="1.45"/><circle cx="603.5" cy="185.9" r="1.45"/><circle cx="604.5" cy="202.0" r="1.45"/><circle cx="584.7" cy="193.0" r="1.45"/><circle cx="587.3" cy="170.7" r="1.45"/><circle cx="605.8" cy="199.1" r="1.45"/><circle cx="587.2" cy="156.2" r="1.45"/><circle cx="607.0" cy="172.4" r="1.45"/><circle cx="586.5" cy="196.4" r="1.45"/><circle cx="611.8" cy="204.3" r="1.45"/><circle cx="601.5" cy="180.7" r="1.45"/><circle cx="595.2" cy="186.5" r="1.45"/><circle cx="601.6" cy="193.4" r="1.45"/><circle cx="585.6" cy="204.9" r="1.45"/><circle cx="607.7" cy="206.2" r="1.45"/><circle cx="591.6" cy="214.0" r="1.45"/><circle cx="618.4" cy="186.2" r="1.45"/><circle cx="593.6" cy="209.8" r="1.45"/><circle cx="596.1" cy="161.9" r="1.45"/><circle cx="593.9" cy="119.7" r="1.45"/><circle cx="587.0" cy="244.3" r="1.45"/><circle cx="579.0" cy="200.4" r="1.45"/><circle cx="616.2" cy="213.6" r="1.45"/><circle cx="595.7" cy="231.6" r="1.45"/><circle cx="615.4" cy="173.5" r="1.45"/><circle cx="579.4" cy="211.6" r="1.45"/><circle cx="601.7" cy="194.3" r="1.45"/><circle cx="582.5" cy="227.4" r="1.45"/><circle cx="604.6" cy="232.4" r="1.45"/><circle cx="584.9" cy="216.6" r="1.45"/><circle cx="590.6" cy="173.3" r="1.45"/><circle cx="583.3" cy="240.7" r="1.45"/><circle cx="599.2" cy="205.4" r="1.45"/><circle cx="587.0" cy="172.6" r="1.45"/><circle cx="584.1" cy="243.3" r="1.45"/><circle cx="598.8" cy="103.1" r="1.45"/><circle cx="581.0" cy="219.4" r="1.45"/><circle cx="616.3" cy="172.4" r="1.45"/><circle cx="604.5" cy="208.7" r="1.45"/><circle cx="611.4" cy="191.0" r="1.45"/><circle cx="588.0" cy="210.5" r="1.45"/><circle cx="613.2" cy="230.8" r="1.45"/><circle cx="586.4" cy="165.5" r="1.45"/><circle cx="600.3" cy="192.8" r="1.45"/><circle cx="594.7" cy="169.0" r="1.45"/><circle cx="608.9" cy="183.2" r="1.45"/><circle cx="616.0" cy="183.6" r="1.45"/><circle cx="610.2" cy="160.2" r="1.45"/><circle cx="580.4" cy="189.3" r="1.45"/><circle cx="603.7" cy="191.1" r="1.45"/><circle cx="601.6" cy="208.3" r="1.45"/><circle cx="596.2" cy="212.0" r="1.45"/><circle cx="603.0" cy="212.4" r="1.45"/><circle cx="597.3" cy="226.0" r="1.45"/><circle cx="597.0" cy="179.6" r="1.45"/><circle cx="599.1" cy="155.4" r="1.45"/><circle cx="588.6" cy="192.7" r="1.45"/><circle cx="597.8" cy="194.2" r="1.45"/><circle cx="586.3" cy="233.0" r="1.45"/><circle cx="584.1" cy="209.2" r="1.45"/><circle cx="596.7" cy="196.0" r="1.45"/><circle cx="600.0" cy="171.8" r="1.45"/><circle cx="580.5" cy="181.7" r="1.45"/><circle cx="609.2" cy="204.7" r="1.45"/><circle cx="611.1" cy="205.7" r="1.45"/><circle cx="599.7" cy="206.1" r="1.45"/><circle cx="594.5" cy="198.6" r="1.45"/><circle cx="614.4" cy="183.9" r="1.45"/><circle cx="620.1" cy="202.1" r="1.45"/><circle cx="586.8" cy="203.1" r="1.45"/><circle cx="619.5" cy="234.4" r="1.45"/><circle cx="616.8" cy="243.9" r="1.45"/><circle cx="585.7" cy="194.7" r="1.45"/><circle cx="581.5" cy="182.8" r="1.45"/><circle cx="593.4" cy="240.5" r="1.45"/><circle cx="616.0" cy="197.5" r="1.45"/><circle cx="590.2" cy="211.8" r="1.45"/><circle cx="599.6" cy="192.2" r="1.45"/><circle cx="617.0" cy="210.1" r="1.45"/><circle cx="599.8" cy="192.7" r="1.45"/><circle cx="592.0" cy="176.6" r="1.45"/><circle cx="585.5" cy="180.9" r="1.45"/><circle cx="617.7" cy="194.3" r="1.45"/><circle cx="585.8" cy="218.5" r="1.45"/><circle cx="611.4" cy="235.9" r="1.45"/><circle cx="605.2" cy="171.2" r="1.45"/><circle cx="593.7" cy="174.8" r="1.45"/><circle cx="602.9" cy="172.3" r="1.45"/><circle cx="615.4" cy="218.5" r="1.45"/><circle cx="604.9" cy="106.2" r="1.45"/><circle cx="595.2" cy="133.1" r="1.45"/><circle cx="619.9" cy="191.9" r="1.45"/><circle cx="602.8" cy="215.3" r="1.45"/><circle cx="597.2" cy="221.9" r="1.45"/><circle cx="586.1" cy="157.8" r="1.45"/><circle cx="612.8" cy="198.4" r="1.45"/><circle cx="589.3" cy="205.7" r="1.45"/><circle cx="603.1" cy="234.7" r="1.45"/><circle cx="606.3" cy="240.0" r="1.45"/><circle cx="580.2" cy="198.6" r="1.45"/><circle cx="585.0" cy="196.6" r="1.45"/><circle cx="600.1" cy="216.2" r="1.45"/><circle cx="616.0" cy="214.4" r="1.45"/><circle cx="605.9" cy="184.8" r="1.45"/><circle cx="579.7" cy="183.5" r="1.45"/><circle cx="583.2" cy="170.8" r="1.45"/><circle cx="593.6" cy="197.6" r="1.45"/><circle cx="603.2" cy="192.4" r="1.45"/><circle cx="587.3" cy="157.9" r="1.45"/><circle cx="584.4" cy="216.5" r="1.45"/><circle cx="617.7" cy="216.2" r="1.45"/><circle cx="582.8" cy="197.5" r="1.45"/><circle cx="605.3" cy="182.3" r="1.45"/><circle cx="595.5" cy="161.5" r="1.45"/><circle cx="589.8" cy="225.1" r="1.45"/><circle cx="602.1" cy="153.0" r="1.45"/><circle cx="593.3" cy="195.4" r="1.45"/><circle cx="617.7" cy="213.4" r="1.45"/><circle cx="609.2" cy="217.5" r="1.45"/><circle cx="580.6" cy="197.5" r="1.45"/><circle cx="600.9" cy="122.3" r="1.45"/><circle cx="581.2" cy="212.4" r="1.45"/><circle cx="611.1" cy="187.0" r="1.45"/><circle cx="617.8" cy="159.5" r="1.45"/><circle cx="584.7" cy="195.5" r="1.45"/><circle cx="599.8" cy="186.5" r="1.45"/><circle cx="605.4" cy="158.1" r="1.45"/><circle cx="591.6" cy="191.7" r="1.45"/><circle cx="591.3" cy="211.5" r="1.45"/><circle cx="611.3" cy="129.7" r="1.45"/><circle cx="608.5" cy="180.5" r="1.45"/><circle cx="609.7" cy="133.0" r="1.45"/><circle cx="598.1" cy="196.1" r="1.45"/><circle cx="588.2" cy="199.5" r="1.45"/><circle cx="583.2" cy="222.1" r="1.45"/><circle cx="592.7" cy="197.2" r="1.45"/><circle cx="609.9" cy="190.6" r="1.45"/><circle cx="608.3" cy="213.2" r="1.45"/><circle cx="589.8" cy="234.3" r="1.45"/><circle cx="611.5" cy="220.4" r="1.45"/><circle cx="600.5" cy="206.6" r="1.45"/><circle cx="618.9" cy="201.5" r="1.45"/><circle cx="587.8" cy="153.4" r="1.45"/><circle cx="589.6" cy="194.7" r="1.45"/><circle cx="588.6" cy="201.0" r="1.45"/><circle cx="609.8" cy="200.4" r="1.45"/><circle cx="592.4" cy="242.6" r="1.45"/><circle cx="588.7" cy="179.8" r="1.45"/><circle cx="616.5" cy="212.3" r="1.45"/><circle cx="606.4" cy="221.1" r="1.45"/><circle cx="619.4" cy="222.6" r="1.45"/><circle cx="607.8" cy="235.2" r="1.45"/><circle cx="614.4" cy="188.3" r="1.45"/><circle cx="602.5" cy="228.9" r="1.45"/><circle cx="591.6" cy="180.9" r="1.45"/><circle cx="582.0" cy="189.2" r="1.45"/><circle cx="616.6" cy="156.0" r="1.45"/><circle cx="583.2" cy="194.3" r="1.45"/><circle cx="617.4" cy="193.2" r="1.45"/><circle cx="580.0" cy="205.6" r="1.45"/><circle cx="580.5" cy="185.6" r="1.45"/><circle cx="607.7" cy="209.9" r="1.45"/><circle cx="609.4" cy="226.3" r="1.45"/><circle cx="593.9" cy="160.9" r="1.45"/><circle cx="612.7" cy="183.3" r="1.45"/><circle cx="581.5" cy="172.2" r="1.45"/><circle cx="614.8" cy="235.7" r="1.45"/><circle cx="583.2" cy="126.9" r="1.45"/><circle cx="587.3" cy="224.6" r="1.45"/><circle cx="614.0" cy="192.7" r="1.45"/><circle cx="612.5" cy="193.6" r="1.45"/><circle cx="605.0" cy="224.8" r="1.45"/><circle cx="590.7" cy="227.4" r="1.45"/><circle cx="610.2" cy="188.2" r="1.45"/><circle cx="587.3" cy="191.0" r="1.45"/><circle cx="579.7" cy="208.6" r="1.45"/><circle cx="589.5" cy="170.2" r="1.45"/><circle cx="594.1" cy="205.9" r="1.45"/><circle cx="592.1" cy="148.5" r="1.45"/><circle cx="614.1" cy="163.4" r="1.45"/><circle cx="604.5" cy="204.6" r="1.45"/><circle cx="596.9" cy="168.2" r="1.45"/><circle cx="610.9" cy="192.8" r="1.45"/><circle cx="601.1" cy="218.1" r="1.45"/><circle cx="587.8" cy="158.8" r="1.45"/><circle cx="612.8" cy="190.5" r="1.45"/><circle cx="585.9" cy="206.1" r="1.45"/><circle cx="610.4" cy="179.2" r="1.45"/><circle cx="619.4" cy="197.9" r="1.45"/><circle cx="599.2" cy="163.1" r="1.45"/><circle cx="611.9" cy="197.2" r="1.45"/><circle cx="593.2" cy="185.3" r="1.45"/><circle cx="613.3" cy="166.2" r="1.45"/><circle cx="590.6" cy="202.0" r="1.45"/><circle cx="587.7" cy="111.1" r="1.45"/><circle cx="583.4" cy="206.9" r="1.45"/><circle cx="605.2" cy="222.4" r="1.45"/><circle cx="607.7" cy="149.1" r="1.45"/><circle cx="611.5" cy="173.4" r="1.45"/><circle cx="595.5" cy="213.2" r="1.45"/><circle cx="595.2" cy="213.7" r="1.45"/><circle cx="615.7" cy="189.3" r="1.45"/><circle cx="579.8" cy="204.7" r="1.45"/><circle cx="616.2" cy="192.5" r="1.45"/><circle cx="599.6" cy="176.7" r="1.45"/><circle cx="588.5" cy="229.3" r="1.45"/><circle cx="597.9" cy="153.3" r="1.45"/><circle cx="610.0" cy="231.6" r="1.45"/><circle cx="605.6" cy="206.1" r="1.45"/><circle cx="585.2" cy="210.3" r="1.45"/><circle cx="613.8" cy="177.6" r="1.45"/><circle cx="585.8" cy="217.6" r="1.45"/><circle cx="597.0" cy="227.6" r="1.45"/><circle cx="584.0" cy="193.0" r="1.45"/><circle cx="598.0" cy="225.8" r="1.45"/><circle cx="586.8" cy="182.8" r="1.45"/><circle cx="591.3" cy="209.6" r="1.45"/><circle cx="585.2" cy="211.2" r="1.45"/><circle cx="585.3" cy="234.7" r="1.45"/><circle cx="600.5" cy="197.7" r="1.45"/><circle cx="585.5" cy="172.3" r="1.45"/><circle cx="619.3" cy="205.5" r="1.45"/><circle cx="609.0" cy="182.3" r="1.45"/><circle cx="583.0" cy="127.3" r="1.45"/><circle cx="594.7" cy="149.4" r="1.45"/><circle cx="609.2" cy="139.7" r="1.45"/><circle cx="596.8" cy="202.5" r="1.45"/><circle cx="583.2" cy="185.2" r="1.45"/><circle cx="587.4" cy="156.4" r="1.45"/><circle cx="595.4" cy="203.0" r="1.45"/><circle cx="611.6" cy="193.6" r="1.45"/><circle cx="605.0" cy="207.9" r="1.45"/><circle cx="598.0" cy="222.2" r="1.45"/><circle cx="595.6" cy="173.4" r="1.45"/><circle cx="609.5" cy="166.7" r="1.45"/><circle cx="602.6" cy="172.4" r="1.45"/><circle cx="609.9" cy="211.7" r="1.45"/><circle cx="608.8" cy="212.8" r="1.45"/><circle cx="615.3" cy="188.9" r="1.45"/><circle cx="614.2" cy="191.9" r="1.45"/><circle cx="607.0" cy="229.8" r="1.45"/><circle cx="591.8" cy="214.1" r="1.45"/><circle cx="604.9" cy="217.4" r="1.45"/><circle cx="611.3" cy="173.5" r="1.45"/><circle cx="608.4" cy="181.3" r="1.45"/><circle cx="596.4" cy="210.4" r="1.45"/><circle cx="597.7" cy="211.1" r="1.45"/><circle cx="606.8" cy="215.1" r="1.45"/><circle cx="617.4" cy="214.4" r="1.45"/><circle cx="611.1" cy="181.5" r="1.45"/><circle cx="594.9" cy="157.0" r="1.45"/><circle cx="580.4" cy="246.4" r="1.45"/><circle cx="601.3" cy="193.5" r="1.45"/><circle cx="617.8" cy="171.1" r="1.45"/><circle cx="600.3" cy="151.4" r="1.45"/><circle cx="601.3" cy="166.9" r="1.45"/><circle cx="608.6" cy="176.0" r="1.45"/><circle cx="613.2" cy="227.9" r="1.45"/><circle cx="600.5" cy="200.8" r="1.45"/><circle cx="587.5" cy="237.8" r="1.45"/><circle cx="607.2" cy="158.2" r="1.45"/><circle cx="583.9" cy="226.2" r="1.45"/><circle cx="619.7" cy="166.6" r="1.45"/><circle cx="590.2" cy="203.2" r="1.45"/><circle cx="595.4" cy="190.9" r="1.45"/><circle cx="596.3" cy="167.4" r="1.45"/><circle cx="607.8" cy="195.8" r="1.45"/><circle cx="588.1" cy="209.2" r="1.45"/><circle cx="609.6" cy="180.5" r="1.45"/><circle cx="587.9" cy="163.9" r="1.45"/><circle cx="612.1" cy="208.8" r="1.45"/><circle cx="584.2" cy="210.7" r="1.45"/><circle cx="611.0" cy="186.3" r="1.45"/><circle cx="598.3" cy="183.8" r="1.45"/><circle cx="602.1" cy="226.1" r="1.45"/><circle cx="593.5" cy="187.6" r="1.45"/><circle cx="605.3" cy="103.4" r="1.45"/><circle cx="598.2" cy="176.1" r="1.45"/><circle cx="591.0" cy="232.0" r="1.45"/><circle cx="613.4" cy="209.8" r="1.45"/><circle cx="593.5" cy="201.9" r="1.45"/><circle cx="594.4" cy="185.3" r="1.45"/><circle cx="589.3" cy="212.9" r="1.45"/><circle cx="578.9" cy="211.5" r="1.45"/><circle cx="608.8" cy="190.4" r="1.45"/><circle cx="591.3" cy="201.7" r="1.45"/><circle cx="598.7" cy="177.2" r="1.45"/><circle cx="606.2" cy="225.5" r="1.45"/><circle cx="593.8" cy="180.8" r="1.45"/><circle cx="581.2" cy="139.7" r="1.45"/><circle cx="613.2" cy="217.3" r="1.45"/><circle cx="584.6" cy="152.4" r="1.45"/><circle cx="613.3" cy="219.8" r="1.45"/><circle cx="579.3" cy="201.0" r="1.45"/><circle cx="618.3" cy="201.3" r="1.45"/><circle cx="583.0" cy="208.2" r="1.45"/><circle cx="584.7" cy="212.7" r="1.45"/><circle cx="593.2" cy="193.4" r="1.45"/><circle cx="585.1" cy="141.7" r="1.45"/><circle cx="585.8" cy="152.1" r="1.45"/><circle cx="615.8" cy="220.3" r="1.45"/><circle cx="606.5" cy="226.8" r="1.45"/><circle cx="615.9" cy="222.1" r="1.45"/><circle cx="587.0" cy="185.7" r="1.45"/><circle cx="607.6" cy="234.9" r="1.45"/><circle cx="597.0" cy="231.1" r="1.45"/><circle cx="615.4" cy="205.8" r="1.45"/><circle cx="588.5" cy="215.0" r="1.45"/><circle cx="584.6" cy="204.6" r="1.45"/><circle cx="598.2" cy="206.5" r="1.45"/><circle cx="584.8" cy="197.7" r="1.45"/><circle cx="601.2" cy="223.5" r="1.45"/><circle cx="614.6" cy="196.4" r="1.45"/><circle cx="598.2" cy="133.5" r="1.45"/><circle cx="602.1" cy="196.0" r="1.45"/><circle cx="594.4" cy="219.7" r="1.45"/><circle cx="596.2" cy="231.7" r="1.45"/><circle cx="605.2" cy="187.7" r="1.45"/><circle cx="605.2" cy="200.5" r="1.45"/><circle cx="607.1" cy="156.3" r="1.45"/><circle cx="617.5" cy="191.6" r="1.45"/><circle cx="600.0" cy="227.0" r="1.45"/><circle cx="598.9" cy="107.1" r="1.45"/><circle cx="608.6" cy="192.5" r="1.45"/><circle cx="604.7" cy="202.0" r="1.45"/><circle cx="594.0" cy="221.2" r="1.45"/><circle cx="598.5" cy="143.0" r="1.45"/><circle cx="587.5" cy="232.4" r="1.45"/><circle cx="596.9" cy="204.8" r="1.45"/><circle cx="613.1" cy="222.6" r="1.45"/><circle cx="591.0" cy="181.5" r="1.45"/><circle cx="599.7" cy="185.0" r="1.45"/><circle cx="590.1" cy="218.3" r="1.45"/><circle cx="606.0" cy="246.5" r="1.45"/><circle cx="611.7" cy="200.8" r="1.45"/><circle cx="591.2" cy="208.2" r="1.45"/><circle cx="603.1" cy="176.4" r="1.45"/><circle cx="580.5" cy="223.3" r="1.45"/><circle cx="608.8" cy="226.0" r="1.45"/><circle cx="580.9" cy="170.5" r="1.45"/><circle cx="591.3" cy="216.8" r="1.45"/><circle cx="617.0" cy="179.9" r="1.45"/><circle cx="604.1" cy="197.4" r="1.45"/><circle cx="616.6" cy="219.5" r="1.45"/><circle cx="604.2" cy="228.9" r="1.45"/><circle cx="607.7" cy="221.1" r="1.45"/><circle cx="603.5" cy="219.1" r="1.45"/><circle cx="606.5" cy="205.1" r="1.45"/><circle cx="597.8" cy="212.7" r="1.45"/><circle cx="586.3" cy="197.1" r="1.45"/><circle cx="580.3" cy="209.0" r="1.45"/><circle cx="606.0" cy="188.9" r="1.45"/><circle cx="594.1" cy="239.7" r="1.45"/><circle cx="602.1" cy="176.0" r="1.45"/><circle cx="589.5" cy="230.5" r="1.45"/><circle cx="592.0" cy="206.2" r="1.45"/><circle cx="596.7" cy="168.9" r="1.45"/><circle cx="581.1" cy="228.7" r="1.45"/><circle cx="602.4" cy="234.2" r="1.45"/><circle cx="612.4" cy="184.7" r="1.45"/><circle cx="602.7" cy="194.8" r="1.45"/><circle cx="579.4" cy="170.4" r="1.45"/><circle cx="594.9" cy="210.6" r="1.45"/><circle cx="619.5" cy="236.7" r="1.45"/><circle cx="598.5" cy="225.6" r="1.45"/><circle cx="605.5" cy="207.6" r="1.45"/><circle cx="587.6" cy="191.6" r="1.45"/><circle cx="579.0" cy="195.4" r="1.45"/><circle cx="607.2" cy="194.3" r="1.45"/><circle cx="582.5" cy="135.0" r="1.45"/><circle cx="614.9" cy="138.3" r="1.45"/><circle cx="608.7" cy="194.6" r="1.45"/><circle cx="588.9" cy="194.5" r="1.45"/><circle cx="580.9" cy="199.7" r="1.45"/><circle cx="610.9" cy="213.0" r="1.45"/><circle cx="609.1" cy="208.7" r="1.45"/><circle cx="582.3" cy="235.8" r="1.45"/><circle cx="597.9" cy="221.9" r="1.45"/><circle cx="617.5" cy="222.8" r="1.45"/><circle cx="608.6" cy="199.7" r="1.45"/><circle cx="579.3" cy="101.6" r="1.45"/><circle cx="612.7" cy="152.7" r="1.45"/><circle cx="582.1" cy="194.6" r="1.45"/><circle cx="585.7" cy="212.2" r="1.45"/><circle cx="614.5" cy="150.6" r="1.45"/><circle cx="594.1" cy="206.5" r="1.45"/><circle cx="602.7" cy="197.3" r="1.45"/><circle cx="584.8" cy="227.4" r="1.45"/><circle cx="611.9" cy="182.5" r="1.45"/><circle cx="604.9" cy="219.1" r="1.45"/><circle cx="596.1" cy="165.6" r="1.45"/><circle cx="618.0" cy="226.2" r="1.45"/><circle cx="611.4" cy="163.3" r="1.45"/><circle cx="581.3" cy="215.5" r="1.45"/><circle cx="619.2" cy="206.3" r="1.45"/><circle cx="592.6" cy="210.9" r="1.45"/><circle cx="603.9" cy="234.0" r="1.45"/><circle cx="603.7" cy="135.5" r="1.45"/><circle cx="591.6" cy="204.6" r="1.45"/><circle cx="594.4" cy="235.4" r="1.45"/><circle cx="607.2" cy="171.7" r="1.45"/><circle cx="612.3" cy="232.6" r="1.45"/><circle cx="590.6" cy="225.3" r="1.45"/><circle cx="596.3" cy="175.8" r="1.45"/><circle cx="603.1" cy="197.8" r="1.45"/><circle cx="580.6" cy="173.9" r="1.45"/><circle cx="613.4" cy="235.8" r="1.45"/><circle cx="602.5" cy="176.5" r="1.45"/><circle cx="590.2" cy="235.0" r="1.45"/><circle cx="607.2" cy="166.0" r="1.45"/><circle cx="616.7" cy="228.6" r="1.45"/><circle cx="601.8" cy="204.0" r="1.45"/><circle cx="611.9" cy="188.8" r="1.45"/><circle cx="617.5" cy="184.1" r="1.45"/><circle cx="588.5" cy="147.2" r="1.45"/><circle cx="598.1" cy="223.6" r="1.45"/><circle cx="587.4" cy="219.0" r="1.45"/><circle cx="611.7" cy="199.3" r="1.45"/><circle cx="597.9" cy="143.9" r="1.45"/><circle cx="610.8" cy="148.8" r="1.45"/><circle cx="588.5" cy="170.3" r="1.45"/><circle cx="615.5" cy="235.1" r="1.45"/><circle cx="600.5" cy="220.7" r="1.45"/><circle cx="586.6" cy="226.1" r="1.45"/><circle cx="586.8" cy="192.9" r="1.45"/><circle cx="593.9" cy="179.7" r="1.45"/><circle cx="602.2" cy="154.0" r="1.45"/><circle cx="585.0" cy="220.0" r="1.45"/><circle cx="580.7" cy="178.5" r="1.45"/><circle cx="583.2" cy="169.7" r="1.45"/><circle cx="605.1" cy="198.5" r="1.45"/><circle cx="603.6" cy="194.5" r="1.45"/><circle cx="593.1" cy="211.4" r="1.45"/><circle cx="580.2" cy="203.0" r="1.45"/><circle cx="619.9" cy="198.7" r="1.45"/><circle cx="602.3" cy="176.2" r="1.45"/><circle cx="589.7" cy="217.5" r="1.45"/><circle cx="618.1" cy="193.0" r="1.45"/><circle cx="610.6" cy="220.9" r="1.45"/><circle cx="589.3" cy="166.0" r="1.45"/><circle cx="580.4" cy="241.7" r="1.45"/><circle cx="582.3" cy="193.0" r="1.45"/><circle cx="580.9" cy="181.3" r="1.45"/><circle cx="597.8" cy="235.5" r="1.45"/><circle cx="618.1" cy="214.5" r="1.45"/><circle cx="603.6" cy="189.9" r="1.45"/><circle cx="595.3" cy="202.9" r="1.45"/><circle cx="589.5" cy="136.5" r="1.45"/><circle cx="602.2" cy="141.3" r="1.45"/><circle cx="606.6" cy="230.7" r="1.45"/><circle cx="595.1" cy="236.1" r="1.45"/><circle cx="618.9" cy="211.2" r="1.45"/><circle cx="620.0" cy="193.1" r="1.45"/><circle cx="589.4" cy="196.8" r="1.45"/><circle cx="593.4" cy="190.7" r="1.45"/><circle cx="613.5" cy="139.5" r="1.45"/><circle cx="580.8" cy="224.8" r="1.45"/><circle cx="605.6" cy="188.5" r="1.45"/><circle cx="619.7" cy="229.8" r="1.45"/><circle cx="610.1" cy="183.6" r="1.45"/><circle cx="617.8" cy="193.0" r="1.45"/><circle cx="603.3" cy="207.1" r="1.45"/><circle cx="610.3" cy="215.4" r="1.45"/><circle cx="589.5" cy="178.4" r="1.45"/><circle cx="584.0" cy="183.1" r="1.45"/><circle cx="588.7" cy="212.2" r="1.45"/><circle cx="584.7" cy="196.2" r="1.45"/><circle cx="608.6" cy="199.8" r="1.45"/><circle cx="586.9" cy="201.6" r="1.45"/><circle cx="588.0" cy="119.0" r="1.45"/><circle cx="617.6" cy="183.9" r="1.45"/><circle cx="584.6" cy="154.3" r="1.45"/><circle cx="597.4" cy="230.2" r="1.45"/><circle cx="613.8" cy="134.8" r="1.45"/><circle cx="604.9" cy="157.5" r="1.45"/><circle cx="613.0" cy="217.7" r="1.45"/><circle cx="598.6" cy="190.9" r="1.45"/><circle cx="588.0" cy="207.3" r="1.45"/><circle cx="581.2" cy="207.7" r="1.45"/><circle cx="584.8" cy="205.1" r="1.45"/><circle cx="614.9" cy="224.7" r="1.45"/><circle cx="585.3" cy="200.7" r="1.45"/><circle cx="590.1" cy="167.8" r="1.45"/><circle cx="585.8" cy="184.9" r="1.45"/><circle cx="599.2" cy="215.5" r="1.45"/><circle cx="583.5" cy="218.2" r="1.45"/><circle cx="619.4" cy="131.2" r="1.45"/><circle cx="606.5" cy="130.2" r="1.45"/><circle cx="587.6" cy="177.0" r="1.45"/><circle cx="589.5" cy="216.6" r="1.45"/><circle cx="587.2" cy="195.0" r="1.45"/><circle cx="620.2" cy="237.3" r="1.45"/><circle cx="617.2" cy="115.2" r="1.45"/><circle cx="616.0" cy="179.1" r="1.45"/><circle cx="581.2" cy="185.1" r="1.45"/><circle cx="619.4" cy="201.1" r="1.45"/><circle cx="579.5" cy="216.8" r="1.45"/><circle cx="584.6" cy="189.5" r="1.45"/><circle cx="578.9" cy="217.4" r="1.45"/><circle cx="586.5" cy="181.3" r="1.45"/><circle cx="596.9" cy="221.5" r="1.45"/><circle cx="602.5" cy="181.5" r="1.45"/><circle cx="584.5" cy="207.0" r="1.45"/><circle cx="608.3" cy="177.4" r="1.45"/><circle cx="587.0" cy="148.5" r="1.45"/><circle cx="604.1" cy="187.9" r="1.45"/><circle cx="599.4" cy="192.7" r="1.45"/><circle cx="604.2" cy="200.6" r="1.45"/><circle cx="608.2" cy="179.2" r="1.45"/><circle cx="587.2" cy="184.4" r="1.45"/><circle cx="581.5" cy="224.4" r="1.45"/><circle cx="608.7" cy="200.8" r="1.45"/><circle cx="581.1" cy="220.6" r="1.45"/><circle cx="613.7" cy="189.1" r="1.45"/><circle cx="614.7" cy="217.1" r="1.45"/><circle cx="616.6" cy="202.4" r="1.45"/><circle cx="598.6" cy="197.8" r="1.45"/><circle cx="586.5" cy="183.0" r="1.45"/><circle cx="613.3" cy="211.4" r="1.45"/><circle cx="594.2" cy="207.7" r="1.45"/><circle cx="603.5" cy="186.0" r="1.45"/><circle cx="597.3" cy="161.3" r="1.45"/><circle cx="600.2" cy="197.1" r="1.45"/><circle cx="612.7" cy="163.5" r="1.45"/><circle cx="614.7" cy="165.6" r="1.45"/><circle cx="594.6" cy="213.8" r="1.45"/><circle cx="610.0" cy="153.6" r="1.45"/><circle cx="618.4" cy="134.9" r="1.45"/><circle cx="599.3" cy="176.4" r="1.45"/><circle cx="601.1" cy="224.5" r="1.45"/><circle cx="579.7" cy="200.6" r="1.45"/><circle cx="586.4" cy="178.4" r="1.45"/><circle cx="583.1" cy="201.6" r="1.45"/><circle cx="580.0" cy="198.2" r="1.45"/><circle cx="582.8" cy="136.6" r="1.45"/><circle cx="579.5" cy="203.2" r="1.45"/><circle cx="603.7" cy="212.6" r="1.45"/><circle cx="608.0" cy="221.8" r="1.45"/><circle cx="583.1" cy="211.3" r="1.45"/><circle cx="580.7" cy="165.8" r="1.45"/><circle cx="583.9" cy="223.3" r="1.45"/><circle cx="590.4" cy="223.6" r="1.45"/><circle cx="583.9" cy="196.8" r="1.45"/><circle cx="603.4" cy="208.8" r="1.45"/><circle cx="614.5" cy="190.0" r="1.45"/><circle cx="609.8" cy="175.7" r="1.45"/><circle cx="585.6" cy="167.2" r="1.45"/><circle cx="594.9" cy="165.8" r="1.45"/><circle cx="596.3" cy="238.4" r="1.45"/><circle cx="595.2" cy="179.8" r="1.45"/><circle cx="617.9" cy="220.9" r="1.45"/><circle cx="588.8" cy="194.1" r="1.45"/><circle cx="592.7" cy="218.2" r="1.45"/><circle cx="612.2" cy="245.0" r="1.45"/><circle cx="616.7" cy="164.9" r="1.45"/><circle cx="581.0" cy="176.1" r="1.45"/><circle cx="600.3" cy="233.7" r="1.45"/><circle cx="589.1" cy="118.1" r="1.45"/><circle cx="596.3" cy="212.3" r="1.45"/><circle cx="600.8" cy="213.0" r="1.45"/><circle cx="581.7" cy="214.3" r="1.45"/><circle cx="579.7" cy="221.8" r="1.45"/><circle cx="584.6" cy="184.8" r="1.45"/><circle cx="617.7" cy="142.6" r="1.45"/><circle cx="605.1" cy="206.0" r="1.45"/><circle cx="615.5" cy="176.6" r="1.45"/><circle cx="580.2" cy="236.1" r="1.45"/><circle cx="607.0" cy="209.8" r="1.45"/><circle cx="590.1" cy="212.3" r="1.45"/><circle cx="604.6" cy="239.8" r="1.45"/><circle cx="589.2" cy="212.0" r="1.45"/><circle cx="618.3" cy="221.4" r="1.45"/><circle cx="590.7" cy="201.4" r="1.45"/><circle cx="583.8" cy="209.8" r="1.45"/><circle cx="603.5" cy="156.0" r="1.45"/><circle cx="589.9" cy="163.3" r="1.45"/><circle cx="598.2" cy="206.0" r="1.45"/><circle cx="583.9" cy="211.1" r="1.45"/><circle cx="584.3" cy="201.0" r="1.45"/><circle cx="590.8" cy="204.8" r="1.45"/><circle cx="588.9" cy="169.2" r="1.45"/><circle cx="613.6" cy="166.2" r="1.45"/><circle cx="604.1" cy="179.6" r="1.45"/><circle cx="587.1" cy="226.0" r="1.45"/><circle cx="608.3" cy="212.5" r="1.45"/><circle cx="604.2" cy="224.4" r="1.45"/><circle cx="598.3" cy="189.9" r="1.45"/><circle cx="588.0" cy="204.8" r="1.45"/><circle cx="600.1" cy="178.6" r="1.45"/><circle cx="579.3" cy="220.0" r="1.45"/><circle cx="593.4" cy="172.3" r="1.45"/><circle cx="601.9" cy="185.0" r="1.45"/><circle cx="599.2" cy="211.3" r="1.45"/><circle cx="591.1" cy="213.0" r="1.45"/><circle cx="610.8" cy="84.7" r="1.45"/><circle cx="615.0" cy="192.7" r="1.45"/><circle cx="597.1" cy="189.7" r="1.45"/><circle cx="597.1" cy="171.4" r="1.45"/><circle cx="609.3" cy="187.9" r="1.45"/><circle cx="618.6" cy="182.8" r="1.45"/><circle cx="609.5" cy="185.7" r="1.45"/><circle cx="593.4" cy="184.0" r="1.45"/><circle cx="606.8" cy="176.8" r="1.45"/><circle cx="612.9" cy="228.4" r="1.45"/><circle cx="600.3" cy="225.8" r="1.45"/><circle cx="610.3" cy="201.0" r="1.45"/><circle cx="598.5" cy="231.6" r="1.45"/><circle cx="616.8" cy="188.9" r="1.45"/><circle cx="584.1" cy="229.8" r="1.45"/><circle cx="610.6" cy="196.4" r="1.45"/><circle cx="603.1" cy="199.7" r="1.45"/><circle cx="602.5" cy="244.6" r="1.45"/><circle cx="596.1" cy="197.2" r="1.45"/><circle cx="604.0" cy="186.5" r="1.45"/><circle cx="594.6" cy="236.8" r="1.45"/><circle cx="608.8" cy="221.3" r="1.45"/><circle cx="591.0" cy="189.3" r="1.45"/><circle cx="594.8" cy="220.0" r="1.45"/><circle cx="592.2" cy="175.0" r="1.45"/><circle cx="599.5" cy="185.8" r="1.45"/><circle cx="597.2" cy="235.5" r="1.45"/><circle cx="584.8" cy="188.9" r="1.45"/><circle cx="602.7" cy="175.8" r="1.45"/><circle cx="617.0" cy="207.1" r="1.45"/><circle cx="592.2" cy="203.2" r="1.45"/><circle cx="618.6" cy="166.7" r="1.45"/><circle cx="587.3" cy="230.7" r="1.45"/><circle cx="579.2" cy="236.6" r="1.45"/><circle cx="580.8" cy="169.3" r="1.45"/><circle cx="617.0" cy="221.7" r="1.45"/><circle cx="610.9" cy="209.1" r="1.45"/><circle cx="600.3" cy="254.6" r="1.45"/><circle cx="600.3" cy="217.4" r="1.45"/><circle cx="593.6" cy="207.5" r="1.45"/><circle cx="603.5" cy="218.5" r="1.45"/><circle cx="606.9" cy="228.3" r="1.45"/><circle cx="600.6" cy="131.7" r="1.45"/><circle cx="595.4" cy="175.6" r="1.45"/><circle cx="602.1" cy="182.5" r="1.45"/><circle cx="618.8" cy="234.7" r="1.45"/><circle cx="599.0" cy="218.8" r="1.45"/><circle cx="620.1" cy="225.8" r="1.45"/><circle cx="593.0" cy="184.0" r="1.45"/><circle cx="585.9" cy="234.2" r="1.45"/><circle cx="592.0" cy="206.4" r="1.45"/><circle cx="600.1" cy="136.2" r="1.45"/><circle cx="583.4" cy="204.3" r="1.45"/><circle cx="612.9" cy="161.5" r="1.45"/><circle cx="619.9" cy="219.1" r="1.45"/><circle cx="585.3" cy="175.3" r="1.45"/><circle cx="590.8" cy="213.7" r="1.45"/><circle cx="586.6" cy="223.7" r="1.45"/><circle cx="586.4" cy="200.2" r="1.45"/><circle cx="593.5" cy="218.9" r="1.45"/><circle cx="620.0" cy="220.1" r="1.45"/><circle cx="595.9" cy="202.8" r="1.45"/><circle cx="611.5" cy="203.5" r="1.45"/><circle cx="579.0" cy="210.7" r="1.45"/><circle cx="591.4" cy="153.0" r="1.45"/><circle cx="606.5" cy="177.5" r="1.45"/><circle cx="587.0" cy="222.4" r="1.45"/><circle cx="589.8" cy="225.2" r="1.45"/><circle cx="605.6" cy="197.6" r="1.45"/><circle cx="602.6" cy="253.4" r="1.45"/><circle cx="595.9" cy="213.6" r="1.45"/><circle cx="610.3" cy="186.6" r="1.45"/><circle cx="583.2" cy="187.1" r="1.45"/><circle cx="600.5" cy="184.5" r="1.45"/><circle cx="613.0" cy="188.4" r="1.45"/><circle cx="581.4" cy="227.1" r="1.45"/><circle cx="579.3" cy="223.7" r="1.45"/><circle cx="608.5" cy="195.1" r="1.45"/><circle cx="593.5" cy="217.8" r="1.45"/><circle cx="582.9" cy="187.8" r="1.45"/><circle cx="616.3" cy="178.7" r="1.45"/><circle cx="597.5" cy="216.4" r="1.45"/><circle cx="594.8" cy="209.0" r="1.45"/><circle cx="603.0" cy="130.6" r="1.45"/><circle cx="618.6" cy="178.1" r="1.45"/><circle cx="589.1" cy="225.7" r="1.45"/><circle cx="580.6" cy="183.9" r="1.45"/><circle cx="591.9" cy="139.2" r="1.45"/><circle cx="616.1" cy="216.8" r="1.45"/><circle cx="603.8" cy="188.9" r="1.45"/><circle cx="618.6" cy="215.9" r="1.45"/><circle cx="588.9" cy="243.1" r="1.45"/><circle cx="595.0" cy="196.3" r="1.45"/><circle cx="591.6" cy="201.5" r="1.45"/><circle cx="615.1" cy="214.1" r="1.45"/><circle cx="588.9" cy="233.5" r="1.45"/><circle cx="586.0" cy="193.5" r="1.45"/><circle cx="619.1" cy="207.8" r="1.45"/><circle cx="590.9" cy="184.4" r="1.45"/><circle cx="601.0" cy="209.0" r="1.45"/><circle cx="594.8" cy="202.7" r="1.45"/><circle cx="583.9" cy="205.4" r="1.45"/><circle cx="613.1" cy="192.5" r="1.45"/><circle cx="586.7" cy="208.7" r="1.45"/><circle cx="590.6" cy="181.3" r="1.45"/><circle cx="606.4" cy="197.5" r="1.45"/><circle cx="593.0" cy="191.0" r="1.45"/><circle cx="582.6" cy="172.9" r="1.45"/><circle cx="590.0" cy="158.1" r="1.45"/><circle cx="597.2" cy="191.0" r="1.45"/><circle cx="613.5" cy="208.8" r="1.45"/><circle cx="593.4" cy="192.8" r="1.45"/><circle cx="608.8" cy="211.1" r="1.45"/><circle cx="587.4" cy="234.1" r="1.45"/><circle cx="618.3" cy="140.0" r="1.45"/><circle cx="597.6" cy="214.6" r="1.45"/><circle cx="584.2" cy="198.6" r="1.45"/><circle cx="616.1" cy="203.2" r="1.45"/><circle cx="603.2" cy="215.2" r="1.45"/><circle cx="604.0" cy="210.1" r="1.45"/><circle cx="587.6" cy="182.8" r="1.45"/><circle cx="600.1" cy="188.5" r="1.45"/><circle cx="601.3" cy="206.9" r="1.45"/><circle cx="594.8" cy="203.5" r="1.45"/><circle cx="606.1" cy="142.4" r="1.45"/><circle cx="595.0" cy="216.0" r="1.45"/><circle cx="582.4" cy="206.7" r="1.45"/><circle cx="592.1" cy="173.2" r="1.45"/><circle cx="606.3" cy="140.5" r="1.45"/><circle cx="593.8" cy="168.8" r="1.45"/><circle cx="599.6" cy="174.8" r="1.45"/><circle cx="591.7" cy="200.7" r="1.45"/><circle cx="588.2" cy="188.6" r="1.45"/><circle cx="590.5" cy="164.7" r="1.45"/><circle cx="595.5" cy="164.1" r="1.45"/><circle cx="615.4" cy="152.4" r="1.45"/><circle cx="614.5" cy="219.0" r="1.45"/><circle cx="580.0" cy="183.1" r="1.45"/><circle cx="607.0" cy="181.6" r="1.45"/><circle cx="595.9" cy="209.5" r="1.45"/><circle cx="606.2" cy="216.2" r="1.45"/><circle cx="613.9" cy="203.9" r="1.45"/><circle cx="593.4" cy="214.6" r="1.45"/><circle cx="583.6" cy="208.5" r="1.45"/><circle cx="616.7" cy="209.0" r="1.45"/><circle cx="580.5" cy="202.0" r="1.45"/><circle cx="580.5" cy="230.4" r="1.45"/><circle cx="591.4" cy="188.7" r="1.45"/><circle cx="594.6" cy="182.4" r="1.45"/><circle cx="605.3" cy="174.0" r="1.45"/><circle cx="586.3" cy="192.5" r="1.45"/><circle cx="608.5" cy="178.6" r="1.45"/><circle cx="589.4" cy="222.1" r="1.45"/><circle cx="593.3" cy="227.4" r="1.45"/><circle cx="578.8" cy="181.3" r="1.45"/><circle cx="590.7" cy="172.8" r="1.45"/><circle cx="580.6" cy="229.1" r="1.45"/><circle cx="580.8" cy="174.2" r="1.45"/><circle cx="588.9" cy="221.9" r="1.45"/><circle cx="587.5" cy="156.0" r="1.45"/><circle cx="616.8" cy="163.9" r="1.45"/><circle cx="607.6" cy="198.1" r="1.45"/><circle cx="595.1" cy="208.2" r="1.45"/><circle cx="590.5" cy="198.8" r="1.45"/><circle cx="582.5" cy="235.2" r="1.45"/><circle cx="617.4" cy="168.9" r="1.45"/><circle cx="607.5" cy="206.5" r="1.45"/><circle cx="604.9" cy="201.4" r="1.45"/><circle cx="597.6" cy="235.2" r="1.45"/><circle cx="596.6" cy="152.1" r="1.45"/><circle cx="600.0" cy="183.8" r="1.45"/><circle cx="610.4" cy="185.2" r="1.45"/><circle cx="580.6" cy="203.7" r="1.45"/><circle cx="589.6" cy="210.6" r="1.45"/><circle cx="601.5" cy="233.0" r="1.45"/><circle cx="601.4" cy="154.4" r="1.45"/><circle cx="589.2" cy="204.7" r="1.45"/><circle cx="595.9" cy="172.7" r="1.45"/><circle cx="587.2" cy="188.9" r="1.45"/><circle cx="608.1" cy="203.0" r="1.45"/><circle cx="606.6" cy="184.3" r="1.45"/><circle cx="600.2" cy="196.6" r="1.45"/><circle cx="597.3" cy="177.0" r="1.45"/><circle cx="591.2" cy="173.4" r="1.45"/><circle cx="615.5" cy="206.9" r="1.45"/><circle cx="592.6" cy="174.9" r="1.45"/><circle cx="612.6" cy="168.6" r="1.45"/><circle cx="585.8" cy="231.1" r="1.45"/><circle cx="606.5" cy="210.0" r="1.45"/><circle cx="610.6" cy="218.4" r="1.45"/><circle cx="613.3" cy="213.1" r="1.45"/><circle cx="593.8" cy="180.7" r="1.45"/><circle cx="587.4" cy="183.1" r="1.45"/><circle cx="587.0" cy="176.6" r="1.45"/><circle cx="607.9" cy="190.1" r="1.45"/><circle cx="592.3" cy="209.1" r="1.45"/><circle cx="598.2" cy="193.9" r="1.45"/><circle cx="581.8" cy="207.6" r="1.45"/><circle cx="579.2" cy="185.5" r="1.45"/><circle cx="582.3" cy="144.0" r="1.45"/><circle cx="608.6" cy="200.1" r="1.45"/><circle cx="583.3" cy="158.9" r="1.45"/><circle cx="599.1" cy="202.0" r="1.45"/><circle cx="601.3" cy="212.0" r="1.45"/><circle cx="579.1" cy="191.2" r="1.45"/><circle cx="604.9" cy="159.6" r="1.45"/><circle cx="617.6" cy="214.2" r="1.45"/><circle cx="589.0" cy="208.5" r="1.45"/><circle cx="584.6" cy="212.6" r="1.45"/><circle cx="613.6" cy="142.6" r="1.45"/><circle cx="591.1" cy="190.1" r="1.45"/><circle cx="613.9" cy="182.6" r="1.45"/><circle cx="617.3" cy="157.7" r="1.45"/><circle cx="613.3" cy="173.3" r="1.45"/><circle cx="609.6" cy="149.5" r="1.45"/><circle cx="613.1" cy="205.3" r="1.45"/><circle cx="592.1" cy="182.4" r="1.45"/><circle cx="594.1" cy="217.5" r="1.45"/><circle cx="613.3" cy="171.0" r="1.45"/><circle cx="602.3" cy="197.5" r="1.45"/><circle cx="604.9" cy="190.4" r="1.45"/><circle cx="616.4" cy="179.5" r="1.45"/><circle cx="618.0" cy="227.8" r="1.45"/><circle cx="585.3" cy="223.6" r="1.45"/><circle cx="591.2" cy="197.0" r="1.45"/><circle cx="607.4" cy="206.7" r="1.45"/><circle cx="585.6" cy="203.0" r="1.45"/><circle cx="582.5" cy="243.6" r="1.45"/><circle cx="580.5" cy="171.2" r="1.45"/><circle cx="608.8" cy="212.2" r="1.45"/><circle cx="578.9" cy="191.7" r="1.45"/><circle cx="611.5" cy="166.5" r="1.45"/><circle cx="596.5" cy="231.8" r="1.45"/><circle cx="600.2" cy="205.5" r="1.45"/><circle cx="596.3" cy="152.9" r="1.45"/><circle cx="606.4" cy="211.4" r="1.45"/><circle cx="613.1" cy="171.6" r="1.45"/><circle cx="591.1" cy="184.6" r="1.45"/><circle cx="597.2" cy="206.3" r="1.45"/><circle cx="586.9" cy="217.4" r="1.45"/><circle cx="582.3" cy="206.7" r="1.45"/><circle cx="619.1" cy="209.8" r="1.45"/><circle cx="616.5" cy="168.8" r="1.45"/><circle cx="618.7" cy="138.6" r="1.45"/><circle cx="604.5" cy="237.4" r="1.45"/><circle cx="606.9" cy="194.6" r="1.45"/><circle cx="604.1" cy="206.0" r="1.45"/><circle cx="618.3" cy="207.2" r="1.45"/><circle cx="598.8" cy="160.1" r="1.45"/><circle cx="593.1" cy="210.1" r="1.45"/><circle cx="615.5" cy="213.7" r="1.45"/><circle cx="607.0" cy="180.3" r="1.45"/><circle cx="597.4" cy="195.1" r="1.45"/><circle cx="594.2" cy="159.4" r="1.45"/><circle cx="602.9" cy="176.8" r="1.45"/><circle cx="602.2" cy="221.5" r="1.45"/><circle cx="595.2" cy="180.9" r="1.45"/><circle cx="615.7" cy="185.1" r="1.45"/><circle cx="601.5" cy="186.8" r="1.45"/><circle cx="589.3" cy="149.9" r="1.45"/><circle cx="582.7" cy="158.4" r="1.45"/><circle cx="599.1" cy="215.2" r="1.45"/><circle cx="601.8" cy="201.7" r="1.45"/><circle cx="583.5" cy="193.0" r="1.45"/><circle cx="600.1" cy="158.5" r="1.45"/><circle cx="595.7" cy="206.5" r="1.45"/><circle cx="581.8" cy="203.4" r="1.45"/><circle cx="601.6" cy="234.9" r="1.45"/><circle cx="608.5" cy="177.1" r="1.45"/><circle cx="619.9" cy="197.5" r="1.45"/><circle cx="608.7" cy="209.8" r="1.45"/><circle cx="595.1" cy="150.2" r="1.45"/><circle cx="585.9" cy="164.3" r="1.45"/><circle cx="611.0" cy="160.0" r="1.45"/><circle cx="584.5" cy="205.8" r="1.45"/><circle cx="588.6" cy="196.6" r="1.45"/><circle cx="594.3" cy="206.3" r="1.45"/><circle cx="587.6" cy="156.7" r="1.45"/><circle cx="591.2" cy="194.7" r="1.45"/><circle cx="615.7" cy="204.9" r="1.45"/><circle cx="604.6" cy="220.6" r="1.45"/><circle cx="616.9" cy="172.2" r="1.45"/><circle cx="614.9" cy="218.8" r="1.45"/><circle cx="593.0" cy="174.7" r="1.45"/><circle cx="610.5" cy="152.9" r="1.45"/><circle cx="583.9" cy="216.1" r="1.45"/><circle cx="594.3" cy="232.4" r="1.45"/><circle cx="608.8" cy="202.9" r="1.45"/><circle cx="580.6" cy="242.9" r="1.45"/><circle cx="601.6" cy="206.9" r="1.45"/><circle cx="612.1" cy="204.9" r="1.45"/><circle cx="606.8" cy="141.4" r="1.45"/><circle cx="589.4" cy="151.2" r="1.45"/><circle cx="613.6" cy="187.8" r="1.45"/><circle cx="602.9" cy="168.0" r="1.45"/><circle cx="583.4" cy="194.0" r="1.45"/><circle cx="612.0" cy="194.5" r="1.45"/><circle cx="590.8" cy="184.3" r="1.45"/><circle cx="607.3" cy="162.9" r="1.45"/><circle cx="615.1" cy="207.9" r="1.45"/><circle cx="601.1" cy="187.8" r="1.45"/><circle cx="618.2" cy="213.7" r="1.45"/><circle cx="579.4" cy="232.3" r="1.45"/><circle cx="599.6" cy="205.7" r="1.45"/><circle cx="615.0" cy="185.0" r="1.45"/><circle cx="586.4" cy="195.9" r="1.45"/><circle cx="612.8" cy="204.3" r="1.45"/><circle cx="598.5" cy="208.3" r="1.45"/><circle cx="585.4" cy="218.3" r="1.45"/><circle cx="615.0" cy="182.5" r="1.45"/><circle cx="604.2" cy="216.8" r="1.45"/><circle cx="587.8" cy="175.4" r="1.45"/><circle cx="615.9" cy="187.0" r="1.45"/><circle cx="585.8" cy="204.3" r="1.45"/><circle cx="593.8" cy="202.0" r="1.45"/><circle cx="594.9" cy="225.5" r="1.45"/><circle cx="593.5" cy="191.1" r="1.45"/><circle cx="592.7" cy="157.6" r="1.45"/><circle cx="579.7" cy="196.8" r="1.45"/><circle cx="580.7" cy="247.9" r="1.45"/><circle cx="584.9" cy="177.1" r="1.45"/><circle cx="590.1" cy="207.2" r="1.45"/><circle cx="599.6" cy="214.3" r="1.45"/><circle cx="600.7" cy="200.5" r="1.45"/><circle cx="618.5" cy="158.3" r="1.45"/><circle cx="602.1" cy="191.1" r="1.45"/><circle cx="610.8" cy="198.4" r="1.45"/><circle cx="605.1" cy="161.7" r="1.45"/><circle cx="605.1" cy="224.7" r="1.45"/><circle cx="611.8" cy="210.6" r="1.45"/><circle cx="615.0" cy="180.9" r="1.45"/><circle cx="591.4" cy="154.3" r="1.45"/><circle cx="610.5" cy="211.4" r="1.45"/><circle cx="605.2" cy="200.0" r="1.45"/><circle cx="593.3" cy="223.8" r="1.45"/><circle cx="581.3" cy="219.7" r="1.45"/><circle cx="592.8" cy="205.8" r="1.45"/><circle cx="598.8" cy="226.2" r="1.45"/><circle cx="594.0" cy="96.6" r="1.45"/><circle cx="593.3" cy="197.3" r="1.45"/><circle cx="584.4" cy="177.4" r="1.45"/><circle cx="597.6" cy="128.8" r="1.45"/><circle cx="597.3" cy="195.7" r="1.45"/><circle cx="585.8" cy="215.7" r="1.45"/><circle cx="581.6" cy="206.6" r="1.45"/><circle cx="609.0" cy="204.7" r="1.45"/><circle cx="601.7" cy="174.7" r="1.45"/><circle cx="617.0" cy="173.8" r="1.45"/><circle cx="603.0" cy="206.5" r="1.45"/><circle cx="602.9" cy="182.9" r="1.45"/><circle cx="619.8" cy="190.0" r="1.45"/><circle cx="596.6" cy="221.7" r="1.45"/><circle cx="614.8" cy="156.2" r="1.45"/><circle cx="616.1" cy="167.0" r="1.45"/><circle cx="590.2" cy="185.1" r="1.45"/><circle cx="585.6" cy="198.3" r="1.45"/><circle cx="589.9" cy="192.4" r="1.45"/><circle cx="595.4" cy="203.0" r="1.45"/><circle cx="587.1" cy="213.7" r="1.45"/><circle cx="605.7" cy="230.8" r="1.45"/><circle cx="587.0" cy="224.1" r="1.45"/><circle cx="603.7" cy="204.4" r="1.45"/><circle cx="582.1" cy="244.5" r="1.45"/><circle cx="593.0" cy="176.9" r="1.45"/><circle cx="584.5" cy="235.6" r="1.45"/><circle cx="615.1" cy="185.2" r="1.45"/><circle cx="605.4" cy="163.5" r="1.45"/><circle cx="592.4" cy="181.1" r="1.45"/><circle cx="609.9" cy="205.9" r="1.45"/><circle cx="607.0" cy="212.2" r="1.45"/><circle cx="592.8" cy="216.7" r="1.45"/><circle cx="580.7" cy="169.7" r="1.45"/><circle cx="604.8" cy="188.2" r="1.45"/><circle cx="603.6" cy="211.9" r="1.45"/><circle cx="589.5" cy="168.4" r="1.45"/><circle cx="617.2" cy="202.0" r="1.45"/><circle cx="602.2" cy="197.1" r="1.45"/><circle cx="604.3" cy="189.0" r="1.45"/><circle cx="608.9" cy="198.7" r="1.45"/><circle cx="585.3" cy="203.3" r="1.45"/><circle cx="584.7" cy="187.6" r="1.45"/><circle cx="612.6" cy="196.8" r="1.45"/><circle cx="596.4" cy="208.4" r="1.45"/><circle cx="601.8" cy="225.7" r="1.45"/><circle cx="606.1" cy="205.8" r="1.45"/><circle cx="609.6" cy="214.6" r="1.45"/><circle cx="589.5" cy="210.7" r="1.45"/><circle cx="611.0" cy="207.8" r="1.45"/><circle cx="591.6" cy="231.7" r="1.45"/><circle cx="597.6" cy="187.5" r="1.45"/><circle cx="590.3" cy="246.6" r="1.45"/><circle cx="584.3" cy="241.9" r="1.45"/><circle cx="579.2" cy="206.5" r="1.45"/><circle cx="610.9" cy="228.3" r="1.45"/><circle cx="593.8" cy="192.2" r="1.45"/><circle cx="610.2" cy="177.8" r="1.45"/><circle cx="582.5" cy="199.2" r="1.45"/><circle cx="581.3" cy="183.5" r="1.45"/><circle cx="599.6" cy="195.6" r="1.45"/><circle cx="617.8" cy="212.0" r="1.45"/><circle cx="594.0" cy="203.4" r="1.45"/><circle cx="609.4" cy="188.1" r="1.45"/><circle cx="617.0" cy="184.2" r="1.45"/><circle cx="611.1" cy="194.7" r="1.45"/><circle cx="588.9" cy="192.6" r="1.45"/><circle cx="605.2" cy="162.8" r="1.45"/><circle cx="593.1" cy="201.3" r="1.45"/><circle cx="592.2" cy="188.8" r="1.45"/><circle cx="616.3" cy="221.3" r="1.45"/><circle cx="581.5" cy="159.3" r="1.45"/><circle cx="605.6" cy="168.0" r="1.45"/><circle cx="581.3" cy="231.4" r="1.45"/><circle cx="602.2" cy="163.3" r="1.45"/><circle cx="618.0" cy="235.5" r="1.45"/><circle cx="604.8" cy="161.6" r="1.45"/><circle cx="589.7" cy="194.8" r="1.45"/><circle cx="596.8" cy="176.7" r="1.45"/><circle cx="610.3" cy="196.0" r="1.45"/><circle cx="605.5" cy="179.3" r="1.45"/><circle cx="587.8" cy="219.6" r="1.45"/><circle cx="602.4" cy="74.3" r="1.45"/><circle cx="614.9" cy="165.1" r="1.45"/><circle cx="589.9" cy="144.2" r="1.45"/><circle cx="590.5" cy="197.6" r="1.45"/><circle cx="592.6" cy="235.0" r="1.45"/><circle cx="585.5" cy="238.4" r="1.45"/><circle cx="607.1" cy="193.0" r="1.45"/><circle cx="602.8" cy="218.3" r="1.45"/><circle cx="615.4" cy="212.8" r="1.45"/><circle cx="593.8" cy="183.8" r="1.45"/><circle cx="611.2" cy="129.4" r="1.45"/><circle cx="614.7" cy="186.8" r="1.45"/><circle cx="620.1" cy="209.5" r="1.45"/><circle cx="583.4" cy="199.7" r="1.45"/><circle cx="619.2" cy="192.5" r="1.45"/><circle cx="585.1" cy="120.6" r="1.45"/><circle cx="609.3" cy="194.7" r="1.45"/><circle cx="607.1" cy="184.4" r="1.45"/><circle cx="582.5" cy="188.7" r="1.45"/><circle cx="608.5" cy="223.9" r="1.45"/><circle cx="615.4" cy="134.4" r="1.45"/><circle cx="588.5" cy="191.3" r="1.45"/><circle cx="611.7" cy="198.9" r="1.45"/><circle cx="599.7" cy="200.6" r="1.45"/><circle cx="588.4" cy="204.4" r="1.45"/><circle cx="579.6" cy="208.3" r="1.45"/><circle cx="619.9" cy="192.8" r="1.45"/><circle cx="583.8" cy="217.0" r="1.45"/><circle cx="599.0" cy="135.1" r="1.45"/><circle cx="586.2" cy="178.5" r="1.45"/><circle cx="607.2" cy="175.3" r="1.45"/><circle cx="599.6" cy="169.3" r="1.45"/><circle cx="583.5" cy="157.7" r="1.45"/><circle cx="616.9" cy="214.4" r="1.45"/><circle cx="593.3" cy="170.9" r="1.45"/><circle cx="615.5" cy="182.3" r="1.45"/><circle cx="609.2" cy="103.0" r="1.45"/><circle cx="589.8" cy="200.3" r="1.45"/><circle cx="581.7" cy="180.8" r="1.45"/><circle cx="595.7" cy="163.5" r="1.45"/><circle cx="601.9" cy="189.5" r="1.45"/><circle cx="607.4" cy="200.4" r="1.45"/><circle cx="605.9" cy="195.2" r="1.45"/><circle cx="607.4" cy="224.2" r="1.45"/><circle cx="619.6" cy="206.4" r="1.45"/><circle cx="595.4" cy="164.6" r="1.45"/><circle cx="592.0" cy="222.7" r="1.45"/><circle cx="594.9" cy="241.9" r="1.45"/><circle cx="594.8" cy="157.8" r="1.45"/><circle cx="620.2" cy="209.2" r="1.45"/><circle cx="579.0" cy="190.1" r="1.45"/><circle cx="589.4" cy="233.7" r="1.45"/><circle cx="604.2" cy="228.1" r="1.45"/><circle cx="587.0" cy="210.6" r="1.45"/><circle cx="583.6" cy="183.8" r="1.45"/><circle cx="616.5" cy="169.8" r="1.45"/><circle cx="580.9" cy="228.6" r="1.45"/><circle cx="605.6" cy="205.5" r="1.45"/><circle cx="601.6" cy="216.9" r="1.45"/><circle cx="578.8" cy="221.6" r="1.45"/><circle cx="609.8" cy="108.6" r="1.45"/><circle cx="603.4" cy="177.6" r="1.45"/><circle cx="620.1" cy="219.3" r="1.45"/><circle cx="609.6" cy="194.5" r="1.45"/><circle cx="594.5" cy="154.3" r="1.45"/><circle cx="600.6" cy="203.8" r="1.45"/><circle cx="604.2" cy="219.7" r="1.45"/><circle cx="604.9" cy="207.4" r="1.45"/><circle cx="601.3" cy="216.1" r="1.45"/><circle cx="589.8" cy="192.0" r="1.45"/><circle cx="616.5" cy="156.0" r="1.45"/><circle cx="600.5" cy="230.5" r="1.45"/><circle cx="598.6" cy="191.0" r="1.45"/><circle cx="617.3" cy="195.5" r="1.45"/><circle cx="600.7" cy="183.1" r="1.45"/><circle cx="612.6" cy="224.2" r="1.45"/><circle cx="588.7" cy="202.6" r="1.45"/><circle cx="597.9" cy="172.9" r="1.45"/><circle cx="605.4" cy="145.0" r="1.45"/><circle cx="614.8" cy="169.0" r="1.45"/><circle cx="580.6" cy="235.2" r="1.45"/><circle cx="612.7" cy="227.3" r="1.45"/><circle cx="583.9" cy="158.7" r="1.45"/><circle cx="583.1" cy="186.3" r="1.45"/><circle cx="593.6" cy="180.6" r="1.45"/><circle cx="597.6" cy="187.3" r="1.45"/><circle cx="582.5" cy="223.0" r="1.45"/><circle cx="607.6" cy="246.3" r="1.45"/><circle cx="597.4" cy="126.3" r="1.45"/><circle cx="610.3" cy="233.6" r="1.45"/><circle cx="585.0" cy="191.6" r="1.45"/><circle cx="600.4" cy="207.8" r="1.45"/><circle cx="588.7" cy="217.6" r="1.45"/><circle cx="594.6" cy="212.7" r="1.45"/><circle cx="579.5" cy="179.5" r="1.45"/><circle cx="581.2" cy="187.4" r="1.45"/><circle cx="586.2" cy="160.3" r="1.45"/><circle cx="592.2" cy="202.0" r="1.45"/><circle cx="588.8" cy="216.0" r="1.45"/><circle cx="605.2" cy="192.2" r="1.45"/><circle cx="614.4" cy="207.2" r="1.45"/><circle cx="611.7" cy="189.7" r="1.45"/><circle cx="604.4" cy="168.6" r="1.45"/><circle cx="597.2" cy="203.2" r="1.45"/><circle cx="594.0" cy="192.4" r="1.45"/><circle cx="595.7" cy="202.9" r="1.45"/><circle cx="605.7" cy="216.6" r="1.45"/><circle cx="594.8" cy="188.7" r="1.45"/><circle cx="602.8" cy="217.6" r="1.45"/><circle cx="619.1" cy="182.0" r="1.45"/><circle cx="608.3" cy="205.3" r="1.45"/><circle cx="592.5" cy="220.8" r="1.45"/><circle cx="581.7" cy="166.5" r="1.45"/><circle cx="600.6" cy="197.1" r="1.45"/><circle cx="599.4" cy="219.8" r="1.45"/><circle cx="579.9" cy="155.5" r="1.45"/><circle cx="603.4" cy="219.8" r="1.45"/><circle cx="613.6" cy="221.8" r="1.45"/><circle cx="596.0" cy="191.2" r="1.45"/><circle cx="597.1" cy="238.1" r="1.45"/><circle cx="599.2" cy="188.8" r="1.45"/><circle cx="606.6" cy="235.0" r="1.45"/><circle cx="609.5" cy="201.5" r="1.45"/><circle cx="607.0" cy="203.8" r="1.45"/><circle cx="601.8" cy="193.7" r="1.45"/><circle cx="583.7" cy="192.6" r="1.45"/><circle cx="588.0" cy="232.5" r="1.45"/><circle cx="583.0" cy="145.3" r="1.45"/><circle cx="582.5" cy="173.3" r="1.45"/><circle cx="581.1" cy="197.4" r="1.45"/><circle cx="607.1" cy="225.6" r="1.45"/><circle cx="581.1" cy="204.9" r="1.45"/><circle cx="607.5" cy="222.4" r="1.45"/><circle cx="620.2" cy="223.1" r="1.45"/><circle cx="612.7" cy="179.8" r="1.45"/><circle cx="592.7" cy="187.6" r="1.45"/><circle cx="600.3" cy="207.8" r="1.45"/><circle cx="590.2" cy="78.8" r="1.45"/><circle cx="589.7" cy="195.1" r="1.45"/><circle cx="614.4" cy="205.3" r="1.45"/><circle cx="601.9" cy="178.1" r="1.45"/><circle cx="580.9" cy="221.0" r="1.45"/><circle cx="591.4" cy="199.9" r="1.45"/><circle cx="614.4" cy="161.5" r="1.45"/><circle cx="589.5" cy="226.4" r="1.45"/><circle cx="601.1" cy="195.5" r="1.45"/><circle cx="594.3" cy="189.7" r="1.45"/><circle cx="603.0" cy="222.7" r="1.45"/><circle cx="594.0" cy="191.2" r="1.45"/><circle cx="617.0" cy="192.5" r="1.45"/><circle cx="601.9" cy="212.8" r="1.45"/><circle cx="600.9" cy="174.4" r="1.45"/><circle cx="595.8" cy="190.8" r="1.45"/><circle cx="590.2" cy="216.5" r="1.45"/><circle cx="611.8" cy="206.5" r="1.45"/><circle cx="612.1" cy="207.8" r="1.45"/><circle cx="603.4" cy="149.7" r="1.45"/><circle cx="597.3" cy="240.5" r="1.45"/><circle cx="615.2" cy="179.7" r="1.45"/><circle cx="605.3" cy="168.7" r="1.45"/><circle cx="580.8" cy="187.9" r="1.45"/><circle cx="603.5" cy="191.4" r="1.45"/><circle cx="586.3" cy="205.2" r="1.45"/><circle cx="612.0" cy="164.1" r="1.45"/><circle cx="599.5" cy="212.1" r="1.45"/><circle cx="591.0" cy="214.0" r="1.45"/><circle cx="587.6" cy="226.3" r="1.45"/><circle cx="616.9" cy="190.2" r="1.45"/><circle cx="587.4" cy="209.4" r="1.45"/><circle cx="611.3" cy="188.4" r="1.45"/><circle cx="618.3" cy="191.0" r="1.45"/><circle cx="589.5" cy="225.1" r="1.45"/><circle cx="616.4" cy="176.8" r="1.45"/><circle cx="581.2" cy="203.6" r="1.45"/><circle cx="607.7" cy="210.7" r="1.45"/><circle cx="591.0" cy="136.9" r="1.45"/><circle cx="588.5" cy="184.6" r="1.45"/><circle cx="602.1" cy="215.5" r="1.45"/><circle cx="585.2" cy="208.4" r="1.45"/><circle cx="613.7" cy="176.7" r="1.45"/><circle cx="585.1" cy="209.2" r="1.45"/><circle cx="595.0" cy="173.5" r="1.45"/><circle cx="580.2" cy="245.9" r="1.45"/><circle cx="588.1" cy="221.1" r="1.45"/><circle cx="601.4" cy="169.3" r="1.45"/><circle cx="609.0" cy="171.0" r="1.45"/><circle cx="596.6" cy="180.8" r="1.45"/><circle cx="613.2" cy="203.3" r="1.45"/><circle cx="583.9" cy="208.7" r="1.45"/><circle cx="617.8" cy="81.0" r="1.45"/><circle cx="600.6" cy="230.0" r="1.45"/><circle cx="609.9" cy="203.8" r="1.45"/><circle cx="599.4" cy="172.1" r="1.45"/><circle cx="598.9" cy="187.3" r="1.45"/><circle cx="614.7" cy="202.7" r="1.45"/><circle cx="582.5" cy="220.6" r="1.45"/><circle cx="584.6" cy="214.6" r="1.45"/><circle cx="613.9" cy="204.9" r="1.45"/><circle cx="588.2" cy="125.4" r="1.45"/><circle cx="603.6" cy="192.0" r="1.45"/><circle cx="618.9" cy="201.0" r="1.45"/><circle cx="606.0" cy="226.5" r="1.45"/><circle cx="580.9" cy="130.0" r="1.45"/><circle cx="589.1" cy="210.9" r="1.45"/><circle cx="609.6" cy="170.4" r="1.45"/><circle cx="591.2" cy="176.4" r="1.45"/><circle cx="581.7" cy="147.1" r="1.45"/><circle cx="601.7" cy="208.1" r="1.45"/><circle cx="611.5" cy="202.1" r="1.45"/><circle cx="580.2" cy="218.6" r="1.45"/><circle cx="600.1" cy="212.7" r="1.45"/><circle cx="584.3" cy="162.4" r="1.45"/><circle cx="602.8" cy="174.3" r="1.45"/><circle cx="606.3" cy="211.8" r="1.45"/><circle cx="585.6" cy="176.0" r="1.45"/><circle cx="592.6" cy="163.4" r="1.45"/><circle cx="613.8" cy="125.9" r="1.45"/><circle cx="585.0" cy="175.2" r="1.45"/><circle cx="582.7" cy="216.6" r="1.45"/><circle cx="599.4" cy="188.3" r="1.45"/><circle cx="601.0" cy="206.4" r="1.45"/><circle cx="585.6" cy="174.2" r="1.45"/><circle cx="601.0" cy="176.6" r="1.45"/><circle cx="587.0" cy="219.4" r="1.45"/><circle cx="595.6" cy="199.1" r="1.45"/><circle cx="588.8" cy="194.1" r="1.45"/><circle cx="615.0" cy="184.4" r="1.45"/><circle cx="579.4" cy="238.5" r="1.45"/><circle cx="617.9" cy="198.6" r="1.45"/><circle cx="602.5" cy="233.5" r="1.45"/><circle cx="607.4" cy="194.7" r="1.45"/><circle cx="585.2" cy="192.4" r="1.45"/><circle cx="589.8" cy="144.6" r="1.45"/><circle cx="600.3" cy="169.3" r="1.45"/><circle cx="590.9" cy="193.0" r="1.45"/><circle cx="602.8" cy="189.4" r="1.45"/><circle cx="588.5" cy="204.6" r="1.45"/><circle cx="608.3" cy="228.3" r="1.45"/><circle cx="581.4" cy="220.0" r="1.45"/><circle cx="619.6" cy="197.1" r="1.45"/><circle cx="580.5" cy="156.2" r="1.45"/><circle cx="612.6" cy="222.7" r="1.45"/><circle cx="593.0" cy="221.0" r="1.45"/><circle cx="617.0" cy="186.9" r="1.45"/><circle cx="579.2" cy="220.9" r="1.45"/><circle cx="595.7" cy="170.0" r="1.45"/><circle cx="582.5" cy="207.2" r="1.45"/><circle cx="607.0" cy="196.7" r="1.45"/><circle cx="585.1" cy="145.6" r="1.45"/><circle cx="587.0" cy="205.5" r="1.45"/><circle cx="587.9" cy="185.6" r="1.45"/><circle cx="620.2" cy="226.3" r="1.45"/><circle cx="611.7" cy="111.7" r="1.45"/><circle cx="611.1" cy="223.3" r="1.45"/><circle cx="616.5" cy="194.2" r="1.45"/><circle cx="587.1" cy="197.7" r="1.45"/><circle cx="604.7" cy="227.9" r="1.45"/><circle cx="582.6" cy="168.8" r="1.45"/><circle cx="608.6" cy="228.4" r="1.45"/><circle cx="618.9" cy="206.5" r="1.45"/><circle cx="606.7" cy="184.9" r="1.45"/><circle cx="613.2" cy="198.4" r="1.45"/><circle cx="617.7" cy="210.8" r="1.45"/><circle cx="613.3" cy="155.7" r="1.45"/><circle cx="612.1" cy="218.9" r="1.45"/><circle cx="613.0" cy="218.3" r="1.45"/><circle cx="611.4" cy="211.6" r="1.45"/><circle cx="618.7" cy="182.0" r="1.45"/><circle cx="600.9" cy="212.3" r="1.45"/><circle cx="619.0" cy="185.3" r="1.45"/><circle cx="611.5" cy="202.2" r="1.45"/><circle cx="588.4" cy="198.6" r="1.45"/><circle cx="587.0" cy="133.8" r="1.45"/><circle cx="599.2" cy="214.4" r="1.45"/><circle cx="616.5" cy="193.0" r="1.45"/><circle cx="595.1" cy="212.6" r="1.45"/><circle cx="611.3" cy="228.3" r="1.45"/><circle cx="617.9" cy="187.0" r="1.45"/><circle cx="613.1" cy="228.5" r="1.45"/><circle cx="605.9" cy="206.6" r="1.45"/><circle cx="613.5" cy="191.8" r="1.45"/><circle cx="613.5" cy="214.6" r="1.45"/><circle cx="611.7" cy="163.9" r="1.45"/><circle cx="579.5" cy="163.2" r="1.45"/><circle cx="583.4" cy="197.2" r="1.45"/><circle cx="603.9" cy="187.3" r="1.45"/><circle cx="597.8" cy="219.5" r="1.45"/><circle cx="593.5" cy="206.6" r="1.45"/><circle cx="613.8" cy="181.5" r="1.45"/><circle cx="582.5" cy="212.3" r="1.45"/><circle cx="590.0" cy="211.4" r="1.45"/><circle cx="606.2" cy="206.0" r="1.45"/><circle cx="612.3" cy="220.8" r="1.45"/><circle cx="580.5" cy="165.2" r="1.45"/><circle cx="613.0" cy="167.2" r="1.45"/><circle cx="618.5" cy="189.5" r="1.45"/><circle cx="593.8" cy="177.4" r="1.45"/><circle cx="604.1" cy="189.0" r="1.45"/><circle cx="615.9" cy="126.5" r="1.45"/><circle cx="618.5" cy="218.8" r="1.45"/><circle cx="599.8" cy="177.6" r="1.45"/><circle cx="613.3" cy="180.0" r="1.45"/><circle cx="585.5" cy="199.2" r="1.45"/><circle cx="586.1" cy="198.7" r="1.45"/><circle cx="618.0" cy="198.2" r="1.45"/><circle cx="589.2" cy="233.2" r="1.45"/><circle cx="593.4" cy="184.0" r="1.45"/><circle cx="614.6" cy="167.9" r="1.45"/><circle cx="600.1" cy="176.7" r="1.45"/><circle cx="615.9" cy="231.6" r="1.45"/><circle cx="606.5" cy="146.3" r="1.45"/><circle cx="597.2" cy="160.2" r="1.45"/><circle cx="618.6" cy="180.1" r="1.45"/><circle cx="605.0" cy="219.3" r="1.45"/><circle cx="594.4" cy="164.4" r="1.45"/><circle cx="616.4" cy="229.0" r="1.45"/><circle cx="599.5" cy="203.2" r="1.45"/><circle cx="581.2" cy="233.9" r="1.45"/><circle cx="613.4" cy="126.8" r="1.45"/><circle cx="597.4" cy="210.3" r="1.45"/><circle cx="610.0" cy="223.4" r="1.45"/><circle cx="609.9" cy="159.8" r="1.45"/><circle cx="580.3" cy="220.7" r="1.45"/><circle cx="618.3" cy="204.1" r="1.45"/><circle cx="615.8" cy="184.9" r="1.45"/><circle cx="602.7" cy="174.6" r="1.45"/><circle cx="580.7" cy="167.0" r="1.45"/><circle cx="605.4" cy="225.7" r="1.45"/><circle cx="590.5" cy="167.3" r="1.45"/><circle cx="601.4" cy="196.4" r="1.45"/><circle cx="596.3" cy="216.8" r="1.45"/><circle cx="612.2" cy="153.1" r="1.45"/><circle cx="606.9" cy="202.9" r="1.45"/><circle cx="608.3" cy="235.2" r="1.45"/><circle cx="607.5" cy="140.4" r="1.45"/><circle cx="602.7" cy="200.6" r="1.45"/><circle cx="613.1" cy="181.8" r="1.45"/><circle cx="584.6" cy="191.4" r="1.45"/><circle cx="600.2" cy="218.1" r="1.45"/><circle cx="609.4" cy="186.5" r="1.45"/><circle cx="585.9" cy="208.0" r="1.45"/><circle cx="591.2" cy="201.2" r="1.45"/><circle cx="594.7" cy="189.9" r="1.45"/><circle cx="586.6" cy="105.6" r="1.45"/><circle cx="591.6" cy="210.5" r="1.45"/><circle cx="592.1" cy="180.7" r="1.45"/><circle cx="597.0" cy="203.7" r="1.45"/><circle cx="595.1" cy="181.3" r="1.45"/><circle cx="594.8" cy="184.7" r="1.45"/><circle cx="587.3" cy="176.2" r="1.45"/><circle cx="616.5" cy="202.5" r="1.45"/><circle cx="605.2" cy="234.2" r="1.45"/><circle cx="611.1" cy="181.8" r="1.45"/><circle cx="610.2" cy="203.6" r="1.45"/><circle cx="598.3" cy="183.6" r="1.45"/><circle cx="610.0" cy="227.4" r="1.45"/><circle cx="590.2" cy="210.7" r="1.45"/><circle cx="600.8" cy="228.4" r="1.45"/><circle cx="590.8" cy="142.7" r="1.45"/><circle cx="610.8" cy="210.6" r="1.45"/><circle cx="580.5" cy="211.4" r="1.45"/><circle cx="593.5" cy="181.4" r="1.45"/><circle cx="617.8" cy="223.0" r="1.45"/><circle cx="581.7" cy="199.9" r="1.45"/><circle cx="601.6" cy="177.0" r="1.45"/><circle cx="595.9" cy="197.1" r="1.45"/><circle cx="612.3" cy="229.3" r="1.45"/><circle cx="605.6" cy="179.7" r="1.45"/><circle cx="618.9" cy="182.9" r="1.45"/><circle cx="610.9" cy="220.7" r="1.45"/><circle cx="595.2" cy="223.0" r="1.45"/><circle cx="593.0" cy="149.3" r="1.45"/><circle cx="595.1" cy="212.2" r="1.45"/><circle cx="586.5" cy="189.6" r="1.45"/><circle cx="615.0" cy="217.7" r="1.45"/><circle cx="606.6" cy="223.8" r="1.45"/><circle cx="616.2" cy="204.0" r="1.45"/><circle cx="581.5" cy="181.2" r="1.45"/><circle cx="595.9" cy="179.1" r="1.45"/><circle cx="606.5" cy="236.4" r="1.45"/><circle cx="602.8" cy="198.7" r="1.45"/><circle cx="590.2" cy="221.7" r="1.45"/><circle cx="613.9" cy="177.0" r="1.45"/><circle cx="585.1" cy="185.6" r="1.45"/><circle cx="606.7" cy="234.9" r="1.45"/><circle cx="616.1" cy="197.3" r="1.45"/><circle cx="616.1" cy="223.6" r="1.45"/><circle cx="605.7" cy="200.1" r="1.45"/><circle cx="615.3" cy="234.9" r="1.45"/><circle cx="608.0" cy="166.6" r="1.45"/><circle cx="604.2" cy="163.6" r="1.45"/><circle cx="603.8" cy="199.5" r="1.45"/><circle cx="613.0" cy="188.1" r="1.45"/><circle cx="588.1" cy="200.5" r="1.45"/><circle cx="582.7" cy="178.8" r="1.45"/><circle cx="612.1" cy="224.3" r="1.45"/><circle cx="593.7" cy="242.9" r="1.45"/><circle cx="613.6" cy="201.1" r="1.45"/><circle cx="592.3" cy="206.9" r="1.45"/><circle cx="584.6" cy="154.1" r="1.45"/><circle cx="590.2" cy="197.3" r="1.45"/><circle cx="601.8" cy="168.2" r="1.45"/><circle cx="612.3" cy="187.4" r="1.45"/><circle cx="583.4" cy="137.7" r="1.45"/><circle cx="588.1" cy="185.5" r="1.45"/><circle cx="592.5" cy="212.7" r="1.45"/><circle cx="602.4" cy="213.4" r="1.45"/><circle cx="587.5" cy="188.5" r="1.45"/><circle cx="613.6" cy="140.9" r="1.45"/><circle cx="580.1" cy="185.9" r="1.45"/><circle cx="611.1" cy="223.2" r="1.45"/><circle cx="596.4" cy="162.9" r="1.45"/><circle cx="581.4" cy="192.5" r="1.45"/><circle cx="603.1" cy="222.1" r="1.45"/><circle cx="595.4" cy="223.5" r="1.45"/><circle cx="588.2" cy="226.3" r="1.45"/><circle cx="614.8" cy="200.6" r="1.45"/><circle cx="618.7" cy="138.2" r="1.45"/><circle cx="592.5" cy="199.3" r="1.45"/><circle cx="598.6" cy="187.7" r="1.45"/><circle cx="584.4" cy="198.9" r="1.45"/><circle cx="608.2" cy="228.4" r="1.45"/><circle cx="597.7" cy="186.3" r="1.45"/><circle cx="595.5" cy="206.6" r="1.45"/><circle cx="590.5" cy="183.1" r="1.45"/><circle cx="600.2" cy="182.6" r="1.45"/><circle cx="597.0" cy="149.3" r="1.45"/><circle cx="587.0" cy="184.3" r="1.45"/><circle cx="589.8" cy="151.5" r="1.45"/><circle cx="619.2" cy="228.3" r="1.45"/><circle cx="609.8" cy="211.6" r="1.45"/><circle cx="608.8" cy="123.9" r="1.45"/><circle cx="608.7" cy="214.6" r="1.45"/><circle cx="579.3" cy="180.6" r="1.45"/><circle cx="614.6" cy="191.2" r="1.45"/><circle cx="589.7" cy="204.1" r="1.45"/><circle cx="593.5" cy="227.3" r="1.45"/><circle cx="619.9" cy="177.4" r="1.45"/><circle cx="591.5" cy="161.3" r="1.45"/><circle cx="593.5" cy="181.5" r="1.45"/><circle cx="616.1" cy="193.6" r="1.45"/><circle cx="583.0" cy="188.1" r="1.45"/><circle cx="583.2" cy="221.0" r="1.45"/><circle cx="598.4" cy="169.2" r="1.45"/><circle cx="619.9" cy="153.4" r="1.45"/><circle cx="598.6" cy="150.1" r="1.45"/><circle cx="612.9" cy="219.0" r="1.45"/><circle cx="602.2" cy="189.2" r="1.45"/><circle cx="599.9" cy="188.8" r="1.45"/><circle cx="579.7" cy="193.0" r="1.45"/><circle cx="616.5" cy="177.2" r="1.45"/><circle cx="619.5" cy="212.0" r="1.45"/><circle cx="596.9" cy="241.7" r="1.45"/><circle cx="612.5" cy="200.8" r="1.45"/><circle cx="613.7" cy="219.8" r="1.45"/><circle cx="587.7" cy="195.3" r="1.45"/><circle cx="603.1" cy="194.9" r="1.45"/><circle cx="613.3" cy="200.5" r="1.45"/><circle cx="611.4" cy="195.6" r="1.45"/><circle cx="615.7" cy="205.1" r="1.45"/><circle cx="601.0" cy="196.3" r="1.45"/><circle cx="604.7" cy="175.3" r="1.45"/><circle cx="615.5" cy="187.8" r="1.45"/><circle cx="587.3" cy="227.9" r="1.45"/><circle cx="588.9" cy="194.4" r="1.45"/><circle cx="583.1" cy="174.7" r="1.45"/><circle cx="603.3" cy="211.0" r="1.45"/><circle cx="597.7" cy="185.3" r="1.45"/><circle cx="603.1" cy="185.1" r="1.45"/><circle cx="597.0" cy="220.7" r="1.45"/><circle cx="581.6" cy="223.7" r="1.45"/><circle cx="598.3" cy="199.4" r="1.45"/><circle cx="595.4" cy="206.0" r="1.45"/><circle cx="588.8" cy="215.0" r="1.45"/><circle cx="605.8" cy="227.5" r="1.45"/><circle cx="584.7" cy="207.7" r="1.45"/><circle cx="616.5" cy="221.3" r="1.45"/><circle cx="588.7" cy="205.2" r="1.45"/><circle cx="619.8" cy="203.2" r="1.45"/><circle cx="611.5" cy="194.6" r="1.45"/><circle cx="613.0" cy="169.0" r="1.45"/><circle cx="580.4" cy="222.1" r="1.45"/><circle cx="582.7" cy="224.5" r="1.45"/><circle cx="580.4" cy="139.2" r="1.45"/><circle cx="580.8" cy="204.6" r="1.45"/><circle cx="587.9" cy="194.4" r="1.45"/><circle cx="606.7" cy="115.5" r="1.45"/><circle cx="617.0" cy="158.4" r="1.45"/><circle cx="589.7" cy="212.2" r="1.45"/><circle cx="610.2" cy="195.2" r="1.45"/><circle cx="583.1" cy="193.9" r="1.45"/><circle cx="586.6" cy="148.6" r="1.45"/><circle cx="612.3" cy="204.5" r="1.45"/><circle cx="583.2" cy="180.7" r="1.45"/><circle cx="611.5" cy="167.9" r="1.45"/><circle cx="578.9" cy="142.0" r="1.45"/><circle cx="614.1" cy="227.9" r="1.45"/><circle cx="599.7" cy="233.2" r="1.45"/><circle cx="604.5" cy="212.9" r="1.45"/><circle cx="582.0" cy="229.0" r="1.45"/><circle cx="581.1" cy="220.3" r="1.45"/><circle cx="595.3" cy="216.2" r="1.45"/><circle cx="579.1" cy="203.8" r="1.45"/><circle cx="613.2" cy="198.2" r="1.45"/><circle cx="612.5" cy="203.5" r="1.45"/><circle cx="605.8" cy="209.8" r="1.45"/><circle cx="587.4" cy="194.6" r="1.45"/><circle cx="619.3" cy="208.5" r="1.45"/><circle cx="601.5" cy="192.6" r="1.45"/><circle cx="609.1" cy="204.6" r="1.45"/><circle cx="614.1" cy="188.5" r="1.45"/><circle cx="594.1" cy="191.0" r="1.45"/><circle cx="591.4" cy="207.1" r="1.45"/><circle cx="604.0" cy="196.9" r="1.45"/><circle cx="619.4" cy="211.3" r="1.45"/><circle cx="581.9" cy="197.7" r="1.45"/><circle cx="583.5" cy="201.0" r="1.45"/><circle cx="600.4" cy="209.4" r="1.45"/><circle cx="597.7" cy="225.2" r="1.45"/><circle cx="605.7" cy="223.0" r="1.45"/><circle cx="616.8" cy="176.6" r="1.45"/><circle cx="616.7" cy="202.8" r="1.45"/><circle cx="613.5" cy="233.6" r="1.45"/><circle cx="607.1" cy="199.3" r="1.45"/><circle cx="614.1" cy="204.0" r="1.45"/><circle cx="586.3" cy="235.0" r="1.45"/><circle cx="617.9" cy="173.1" r="1.45"/><circle cx="589.3" cy="228.6" r="1.45"/><circle cx="591.3" cy="182.6" r="1.45"/><circle cx="582.7" cy="210.2" r="1.45"/><circle cx="597.2" cy="177.7" r="1.45"/><circle cx="617.5" cy="152.6" r="1.45"/><circle cx="610.4" cy="202.4" r="1.45"/><circle cx="610.0" cy="143.9" r="1.45"/><circle cx="590.2" cy="246.8" r="1.45"/><circle cx="579.7" cy="198.0" r="1.45"/><circle cx="588.4" cy="167.6" r="1.45"/><circle cx="592.4" cy="142.5" r="1.45"/><circle cx="610.8" cy="228.8" r="1.45"/><circle cx="611.8" cy="189.3" r="1.45"/><circle cx="600.9" cy="238.1" r="1.45"/><circle cx="591.8" cy="151.4" r="1.45"/><circle cx="604.8" cy="163.7" r="1.45"/><circle cx="618.9" cy="217.0" r="1.45"/><circle cx="585.5" cy="171.3" r="1.45"/><circle cx="601.1" cy="227.9" r="1.45"/><circle cx="617.7" cy="204.9" r="1.45"/><circle cx="607.4" cy="234.8" r="1.45"/><circle cx="618.9" cy="161.2" r="1.45"/><circle cx="590.7" cy="181.9" r="1.45"/><circle cx="616.4" cy="188.1" r="1.45"/><circle cx="608.5" cy="176.0" r="1.45"/><circle cx="619.9" cy="196.3" r="1.45"/><circle cx="607.3" cy="185.0" r="1.45"/><circle cx="607.5" cy="170.0" r="1.45"/><circle cx="589.1" cy="199.1" r="1.45"/><circle cx="589.5" cy="232.0" r="1.45"/><circle cx="587.5" cy="150.2" r="1.45"/><circle cx="589.6" cy="191.0" r="1.45"/><circle cx="603.3" cy="154.4" r="1.45"/><circle cx="606.0" cy="205.8" r="1.45"/><circle cx="591.4" cy="225.1" r="1.45"/><circle cx="581.5" cy="218.1" r="1.45"/><circle cx="593.8" cy="194.0" r="1.45"/><circle cx="584.7" cy="196.2" r="1.45"/><circle cx="619.0" cy="172.4" r="1.45"/><circle cx="607.3" cy="176.5" r="1.45"/><circle cx="586.2" cy="204.2" r="1.45"/><circle cx="583.0" cy="142.8" r="1.45"/><circle cx="607.4" cy="206.2" r="1.45"/><circle cx="597.3" cy="169.7" r="1.45"/><circle cx="617.5" cy="199.6" r="1.45"/><circle cx="593.0" cy="208.6" r="1.45"/><circle cx="613.2" cy="194.8" r="1.45"/><circle cx="588.2" cy="203.4" r="1.45"/><circle cx="606.6" cy="165.1" r="1.45"/><circle cx="590.3" cy="227.9" r="1.45"/><circle cx="616.4" cy="179.9" r="1.45"/><circle cx="585.4" cy="197.0" r="1.45"/><circle cx="606.2" cy="214.6" r="1.45"/><circle cx="586.3" cy="222.5" r="1.45"/><circle cx="619.6" cy="190.6" r="1.45"/><circle cx="594.7" cy="188.5" r="1.45"/><circle cx="588.1" cy="215.2" r="1.45"/><circle cx="581.5" cy="221.4" r="1.45"/><circle cx="584.2" cy="132.0" r="1.45"/><circle cx="618.8" cy="193.3" r="1.45"/><circle cx="584.5" cy="221.2" r="1.45"/><circle cx="611.5" cy="161.3" r="1.45"/><circle cx="600.5" cy="198.3" r="1.45"/><circle cx="583.4" cy="170.2" r="1.45"/><circle cx="590.6" cy="197.5" r="1.45"/><circle cx="594.6" cy="139.1" r="1.45"/><circle cx="586.8" cy="196.3" r="1.45"/><circle cx="587.9" cy="214.4" r="1.45"/><circle cx="605.4" cy="214.5" r="1.45"/><circle cx="598.4" cy="180.4" r="1.45"/><circle cx="606.3" cy="192.3" r="1.45"/><circle cx="613.5" cy="203.8" r="1.45"/><circle cx="597.0" cy="197.4" r="1.45"/><circle cx="583.6" cy="191.6" r="1.45"/><circle cx="582.7" cy="229.7" r="1.45"/><circle cx="583.7" cy="187.5" r="1.45"/><circle cx="588.4" cy="212.4" r="1.45"/><circle cx="597.1" cy="196.0" r="1.45"/><circle cx="593.8" cy="190.7" r="1.45"/><circle cx="598.3" cy="191.3" r="1.45"/><circle cx="581.8" cy="162.7" r="1.45"/><circle cx="588.0" cy="209.8" r="1.45"/><circle cx="614.9" cy="199.2" r="1.45"/><circle cx="618.7" cy="225.5" r="1.45"/><circle cx="618.0" cy="190.0" r="1.45"/><circle cx="600.6" cy="207.1" r="1.45"/><circle cx="614.7" cy="197.0" r="1.45"/><circle cx="587.6" cy="181.1" r="1.45"/><circle cx="617.1" cy="178.9" r="1.45"/><circle cx="597.9" cy="187.5" r="1.45"/><circle cx="597.6" cy="199.2" r="1.45"/><circle cx="592.0" cy="207.5" r="1.45"/><circle cx="593.8" cy="187.0" r="1.45"/><circle cx="583.8" cy="153.7" r="1.45"/><circle cx="586.3" cy="163.8" r="1.45"/><circle cx="579.3" cy="200.9" r="1.45"/><circle cx="579.8" cy="214.0" r="1.45"/><circle cx="598.3" cy="220.0" r="1.45"/><circle cx="588.5" cy="199.9" r="1.45"/><circle cx="599.5" cy="224.7" r="1.45"/><circle cx="584.8" cy="223.0" r="1.45"/><circle cx="612.2" cy="218.1" r="1.45"/><circle cx="614.4" cy="148.7" r="1.45"/><circle cx="594.1" cy="211.0" r="1.45"/><circle cx="588.2" cy="183.8" r="1.45"/><circle cx="603.6" cy="206.8" r="1.45"/><circle cx="587.8" cy="189.0" r="1.45"/><circle cx="580.3" cy="203.9" r="1.45"/><circle cx="586.7" cy="210.1" r="1.45"/><circle cx="609.9" cy="192.6" r="1.45"/><circle cx="595.5" cy="237.8" r="1.45"/><circle cx="607.0" cy="223.7" r="1.45"/><circle cx="588.5" cy="109.5" r="1.45"/><circle cx="598.6" cy="193.0" r="1.45"/><circle cx="599.2" cy="242.9" r="1.45"/><circle cx="620.0" cy="202.5" r="1.45"/><circle cx="613.4" cy="210.0" r="1.45"/><circle cx="587.2" cy="209.5" r="1.45"/><circle cx="588.2" cy="165.1" r="1.45"/><circle cx="618.7" cy="198.1" r="1.45"/><circle cx="593.0" cy="208.7" r="1.45"/><circle cx="606.5" cy="171.3" r="1.45"/><circle cx="585.5" cy="170.1" r="1.45"/><circle cx="613.2" cy="194.4" r="1.45"/><circle cx="589.5" cy="155.6" r="1.45"/><circle cx="597.6" cy="198.0" r="1.45"/><circle cx="584.5" cy="228.6" r="1.45"/><circle cx="588.8" cy="212.1" r="1.45"/><circle cx="585.0" cy="136.5" r="1.45"/><circle cx="584.5" cy="140.7" r="1.45"/><circle cx="615.6" cy="225.9" r="1.45"/><circle cx="581.2" cy="202.6" r="1.45"/><circle cx="603.1" cy="196.5" r="1.45"/><circle cx="597.6" cy="181.3" r="1.45"/><circle cx="606.3" cy="233.4" r="1.45"/><circle cx="614.5" cy="164.0" r="1.45"/><circle cx="617.9" cy="176.4" r="1.45"/><circle cx="595.7" cy="203.3" r="1.45"/><circle cx="583.1" cy="125.1" r="1.45"/><circle cx="579.5" cy="178.1" r="1.45"/><circle cx="618.9" cy="203.1" r="1.45"/><circle cx="614.9" cy="175.2" r="1.45"/><circle cx="614.0" cy="221.7" r="1.45"/><circle cx="612.3" cy="181.7" r="1.45"/><circle cx="583.6" cy="213.9" r="1.45"/><circle cx="588.9" cy="220.0" r="1.45"/><circle cx="612.0" cy="214.8" r="1.45"/><circle cx="616.1" cy="222.4" r="1.45"/><circle cx="582.0" cy="180.3" r="1.45"/><circle cx="616.0" cy="201.9" r="1.45"/><circle cx="607.5" cy="211.5" r="1.45"/><circle cx="589.4" cy="204.7" r="1.45"/><circle cx="600.5" cy="196.0" r="1.45"/><circle cx="606.9" cy="170.3" r="1.45"/><circle cx="604.7" cy="151.6" r="1.45"/><circle cx="598.4" cy="177.3" r="1.45"/><circle cx="579.2" cy="217.2" r="1.45"/><circle cx="598.5" cy="230.6" r="1.45"/><circle cx="605.7" cy="214.0" r="1.45"/><circle cx="586.3" cy="227.8" r="1.45"/><circle cx="588.5" cy="142.8" r="1.45"/><circle cx="596.7" cy="208.9" r="1.45"/><circle cx="595.8" cy="179.6" r="1.45"/><circle cx="618.7" cy="202.5" r="1.45"/><circle cx="609.3" cy="181.7" r="1.45"/><circle cx="593.7" cy="208.3" r="1.45"/><circle cx="584.1" cy="218.0" r="1.45"/><circle cx="588.0" cy="228.6" r="1.45"/><circle cx="580.3" cy="193.6" r="1.45"/><circle cx="584.4" cy="176.2" r="1.45"/><circle cx="582.0" cy="217.7" r="1.45"/><circle cx="603.0" cy="182.0" r="1.45"/><circle cx="593.6" cy="160.8" r="1.45"/><circle cx="608.0" cy="209.1" r="1.45"/><circle cx="598.8" cy="211.5" r="1.45"/><circle cx="579.5" cy="191.7" r="1.45"/><circle cx="594.1" cy="204.6" r="1.45"/><circle cx="618.7" cy="210.6" r="1.45"/><circle cx="605.4" cy="192.8" r="1.45"/><circle cx="605.1" cy="235.4" r="1.45"/><circle cx="586.9" cy="214.8" r="1.45"/><circle cx="610.6" cy="243.8" r="1.45"/><circle cx="612.9" cy="204.0" r="1.45"/><circle cx="603.7" cy="177.4" r="1.45"/><circle cx="603.2" cy="161.9" r="1.45"/><circle cx="587.0" cy="231.7" r="1.45"/><circle cx="608.9" cy="160.6" r="1.45"/><circle cx="590.1" cy="195.0" r="1.45"/><circle cx="586.0" cy="195.8" r="1.45"/><circle cx="607.7" cy="197.0" r="1.45"/><circle cx="589.8" cy="177.6" r="1.45"/><circle cx="608.3" cy="197.6" r="1.45"/><circle cx="583.5" cy="192.9" r="1.45"/><circle cx="617.6" cy="198.4" r="1.45"/><circle cx="592.7" cy="182.7" r="1.45"/><circle cx="600.5" cy="200.7" r="1.45"/><circle cx="598.7" cy="208.7" r="1.45"/><circle cx="589.5" cy="170.6" r="1.45"/><circle cx="585.5" cy="187.4" r="1.45"/><circle cx="582.6" cy="194.4" r="1.45"/><circle cx="589.7" cy="222.1" r="1.45"/><circle cx="611.7" cy="221.9" r="1.45"/><circle cx="599.2" cy="201.1" r="1.45"/><circle cx="586.6" cy="218.4" r="1.45"/><circle cx="580.9" cy="163.3" r="1.45"/><circle cx="585.2" cy="211.1" r="1.45"/><circle cx="608.6" cy="206.5" r="1.45"/><circle cx="588.3" cy="218.8" r="1.45"/><circle cx="582.7" cy="183.6" r="1.45"/><circle cx="603.1" cy="232.8" r="1.45"/><circle cx="612.2" cy="182.4" r="1.45"/><circle cx="611.6" cy="152.0" r="1.45"/><circle cx="606.3" cy="196.7" r="1.45"/><circle cx="602.2" cy="186.1" r="1.45"/><circle cx="603.0" cy="186.6" r="1.45"/><circle cx="583.3" cy="184.4" r="1.45"/><circle cx="589.5" cy="209.8" r="1.45"/><circle cx="596.4" cy="211.1" r="1.45"/><circle cx="580.1" cy="230.4" r="1.45"/><circle cx="608.9" cy="206.1" r="1.45"/><circle cx="605.4" cy="194.1" r="1.45"/><circle cx="607.5" cy="174.7" r="1.45"/><circle cx="587.3" cy="231.2" r="1.45"/><circle cx="591.7" cy="227.9" r="1.45"/><circle cx="585.3" cy="207.8" r="1.45"/><circle cx="588.2" cy="213.4" r="1.45"/><circle cx="608.5" cy="191.4" r="1.45"/><circle cx="618.6" cy="234.9" r="1.45"/><circle cx="591.9" cy="191.8" r="1.45"/><circle cx="608.7" cy="216.9" r="1.45"/><circle cx="582.5" cy="158.5" r="1.45"/><circle cx="580.8" cy="185.3" r="1.45"/><circle cx="617.5" cy="211.5" r="1.45"/><circle cx="615.2" cy="199.3" r="1.45"/><circle cx="583.8" cy="213.1" r="1.45"/><circle cx="599.8" cy="193.9" r="1.45"/><circle cx="608.5" cy="219.1" r="1.45"/><circle cx="600.8" cy="201.2" r="1.45"/><circle cx="581.7" cy="196.1" r="1.45"/><circle cx="594.9" cy="209.2" r="1.45"/><circle cx="606.5" cy="215.5" r="1.45"/><circle cx="588.0" cy="196.0" r="1.45"/><circle cx="608.4" cy="209.3" r="1.45"/><circle cx="610.8" cy="167.4" r="1.45"/><circle cx="617.3" cy="215.3" r="1.45"/><circle cx="617.6" cy="175.7" r="1.45"/><circle cx="597.7" cy="206.4" r="1.45"/><circle cx="605.2" cy="205.8" r="1.45"/><circle cx="619.5" cy="199.3" r="1.45"/><circle cx="616.6" cy="190.8" r="1.45"/><circle cx="604.5" cy="176.1" r="1.45"/><circle cx="591.2" cy="174.8" r="1.45"/><circle cx="610.8" cy="150.0" r="1.45"/><circle cx="597.0" cy="178.5" r="1.45"/><circle cx="582.7" cy="173.3" r="1.45"/><circle cx="618.8" cy="184.0" r="1.45"/><circle cx="610.7" cy="175.8" r="1.45"/><circle cx="584.4" cy="191.1" r="1.45"/><circle cx="585.6" cy="190.1" r="1.45"/><circle cx="600.9" cy="191.8" r="1.45"/><circle cx="586.0" cy="190.0" r="1.45"/><circle cx="610.5" cy="210.5" r="1.45"/><circle cx="583.9" cy="216.5" r="1.45"/><circle cx="588.9" cy="187.0" r="1.45"/><circle cx="589.6" cy="184.6" r="1.45"/><circle cx="609.5" cy="200.3" r="1.45"/><circle cx="598.4" cy="143.2" r="1.45"/><circle cx="618.5" cy="226.9" r="1.45"/><circle cx="598.1" cy="213.3" r="1.45"/><circle cx="608.5" cy="210.0" r="1.45"/><circle cx="586.8" cy="199.4" r="1.45"/><circle cx="618.6" cy="210.5" r="1.45"/><circle cx="592.9" cy="153.1" r="1.45"/><circle cx="589.1" cy="163.8" r="1.45"/><circle cx="619.9" cy="199.0" r="1.45"/><circle cx="585.0" cy="164.4" r="1.45"/><circle cx="586.0" cy="183.3" r="1.45"/><circle cx="609.7" cy="214.2" r="1.45"/><circle cx="596.2" cy="206.5" r="1.45"/><circle cx="612.9" cy="183.2" r="1.45"/><circle cx="579.2" cy="173.5" r="1.45"/><circle cx="610.5" cy="220.1" r="1.45"/><circle cx="618.3" cy="232.2" r="1.45"/><circle cx="592.4" cy="226.3" r="1.45"/><circle cx="589.8" cy="166.2" r="1.45"/><circle cx="594.0" cy="229.3" r="1.45"/><circle cx="594.5" cy="213.3" r="1.45"/><circle cx="583.4" cy="179.5" r="1.45"/><circle cx="595.8" cy="189.7" r="1.45"/><circle cx="605.2" cy="122.0" r="1.45"/><circle cx="588.9" cy="159.0" r="1.45"/><circle cx="617.0" cy="222.0" r="1.45"/><circle cx="609.0" cy="168.0" r="1.45"/><circle cx="610.1" cy="248.4" r="1.45"/><circle cx="606.0" cy="190.2" r="1.45"/><circle cx="594.6" cy="214.3" r="1.45"/><circle cx="601.2" cy="190.4" r="1.45"/><circle cx="592.8" cy="208.9" r="1.45"/><circle cx="613.8" cy="187.4" r="1.45"/><circle cx="614.0" cy="216.9" r="1.45"/><circle cx="617.7" cy="187.4" r="1.45"/><circle cx="609.7" cy="207.2" r="1.45"/><circle cx="580.8" cy="213.1" r="1.45"/><circle cx="614.9" cy="225.8" r="1.45"/><circle cx="592.9" cy="221.3" r="1.45"/><circle cx="611.3" cy="206.0" r="1.45"/><circle cx="587.7" cy="187.1" r="1.45"/><circle cx="592.9" cy="236.7" r="1.45"/><circle cx="592.4" cy="198.0" r="1.45"/><circle cx="579.9" cy="185.5" r="1.45"/><circle cx="581.7" cy="192.6" r="1.45"/><circle cx="581.6" cy="214.0" r="1.45"/><circle cx="598.0" cy="199.0" r="1.45"/><circle cx="595.5" cy="213.5" r="1.45"/><circle cx="591.7" cy="175.1" r="1.45"/><circle cx="605.0" cy="241.9" r="1.45"/><circle cx="616.1" cy="172.3" r="1.45"/><circle cx="609.3" cy="214.1" r="1.45"/><circle cx="602.6" cy="215.6" r="1.45"/><circle cx="583.2" cy="134.8" r="1.45"/><circle cx="600.3" cy="230.9" r="1.45"/><circle cx="598.9" cy="219.9" r="1.45"/><circle cx="606.4" cy="233.8" r="1.45"/><circle cx="587.4" cy="167.5" r="1.45"/><circle cx="618.6" cy="212.5" r="1.45"/><circle cx="607.7" cy="177.6" r="1.45"/><circle cx="580.2" cy="147.9" r="1.45"/><circle cx="603.3" cy="148.0" r="1.45"/><circle cx="596.6" cy="228.4" r="1.45"/><circle cx="582.6" cy="179.7" r="1.45"/><circle cx="611.5" cy="234.5" r="1.45"/><circle cx="593.6" cy="204.8" r="1.45"/><circle cx="612.1" cy="190.5" r="1.45"/><circle cx="587.9" cy="145.5" r="1.45"/><circle cx="596.8" cy="114.8" r="1.45"/><circle cx="594.6" cy="238.4" r="1.45"/><circle cx="587.2" cy="211.6" r="1.45"/><circle cx="591.3" cy="240.3" r="1.45"/><circle cx="586.6" cy="215.7" r="1.45"/><circle cx="601.5" cy="153.4" r="1.45"/><circle cx="584.7" cy="229.0" r="1.45"/><circle cx="618.5" cy="198.1" r="1.45"/><circle cx="611.8" cy="158.7" r="1.45"/><circle cx="586.4" cy="198.0" r="1.45"/><circle cx="610.3" cy="166.3" r="1.45"/><circle cx="614.8" cy="213.7" r="1.45"/><circle cx="587.4" cy="228.7" r="1.45"/><circle cx="579.8" cy="141.2" r="1.45"/><circle cx="616.2" cy="239.0" r="1.45"/><circle cx="618.4" cy="198.9" r="1.45"/><circle cx="602.0" cy="241.5" r="1.45"/><circle cx="584.8" cy="202.0" r="1.45"/><circle cx="596.4" cy="224.5" r="1.45"/><circle cx="603.8" cy="226.2" r="1.45"/><circle cx="596.2" cy="199.2" r="1.45"/><circle cx="600.1" cy="175.1" r="1.45"/><circle cx="579.0" cy="208.4" r="1.45"/><circle cx="592.9" cy="195.8" r="1.45"/><circle cx="588.6" cy="206.4" r="1.45"/><circle cx="589.4" cy="231.3" r="1.45"/><circle cx="603.8" cy="212.5" r="1.45"/><circle cx="616.3" cy="199.7" r="1.45"/><circle cx="608.7" cy="187.4" r="1.45"/><circle cx="609.9" cy="159.3" r="1.45"/><circle cx="590.1" cy="207.0" r="1.45"/><circle cx="613.6" cy="229.7" r="1.45"/><circle cx="618.0" cy="190.3" r="1.45"/><circle cx="597.2" cy="201.8" r="1.45"/><circle cx="611.9" cy="189.4" r="1.45"/><circle cx="606.9" cy="192.9" r="1.45"/><circle cx="605.3" cy="178.5" r="1.45"/><circle cx="620.2" cy="173.1" r="1.45"/><circle cx="589.0" cy="217.9" r="1.45"/><circle cx="587.1" cy="152.0" r="1.45"/><circle cx="604.5" cy="183.1" r="1.45"/><circle cx="591.4" cy="172.9" r="1.45"/><circle cx="582.3" cy="188.1" r="1.45"/><circle cx="586.8" cy="181.5" r="1.45"/><circle cx="586.4" cy="209.4" r="1.45"/><circle cx="598.7" cy="165.7" r="1.45"/><circle cx="599.0" cy="243.8" r="1.45"/><circle cx="618.0" cy="168.9" r="1.45"/><circle cx="603.4" cy="213.2" r="1.45"/><circle cx="584.8" cy="195.0" r="1.45"/><circle cx="607.9" cy="193.1" r="1.45"/><circle cx="618.9" cy="188.9" r="1.45"/><circle cx="596.4" cy="215.6" r="1.45"/><circle cx="593.4" cy="183.4" r="1.45"/><circle cx="585.1" cy="206.8" r="1.45"/><circle cx="614.7" cy="218.9" r="1.45"/><circle cx="614.1" cy="200.6" r="1.45"/><circle cx="609.0" cy="199.3" r="1.45"/><circle cx="617.0" cy="217.5" r="1.45"/><circle cx="595.5" cy="164.6" r="1.45"/><circle cx="601.8" cy="215.6" r="1.45"/><circle cx="606.3" cy="188.8" r="1.45"/><circle cx="584.8" cy="203.7" r="1.45"/><circle cx="594.0" cy="243.0" r="1.45"/><circle cx="603.3" cy="166.8" r="1.45"/><circle cx="606.9" cy="227.9" r="1.45"/><circle cx="601.6" cy="225.6" r="1.45"/><circle cx="595.5" cy="128.3" r="1.45"/><circle cx="616.0" cy="192.7" r="1.45"/><circle cx="612.0" cy="185.8" r="1.45"/><circle cx="598.7" cy="172.9" r="1.45"/><circle cx="599.4" cy="194.2" r="1.45"/><circle cx="593.3" cy="227.3" r="1.45"/><circle cx="600.9" cy="146.4" r="1.45"/><circle cx="598.6" cy="158.5" r="1.45"/><circle cx="592.6" cy="212.4" r="1.45"/><circle cx="611.4" cy="221.0" r="1.45"/><circle cx="589.6" cy="172.2" r="1.45"/><circle cx="593.9" cy="213.8" r="1.45"/><circle cx="616.7" cy="177.7" r="1.45"/><circle cx="592.6" cy="215.9" r="1.45"/><circle cx="612.9" cy="202.9" r="1.45"/><circle cx="579.7" cy="174.6" r="1.45"/><circle cx="586.8" cy="158.3" r="1.45"/><circle cx="584.9" cy="143.2" r="1.45"/><circle cx="588.3" cy="179.6" r="1.45"/><circle cx="609.2" cy="177.3" r="1.45"/><circle cx="608.7" cy="190.7" r="1.45"/><circle cx="601.7" cy="127.6" r="1.45"/><circle cx="617.1" cy="225.7" r="1.45"/><circle cx="596.8" cy="133.0" r="1.45"/><circle cx="586.8" cy="161.2" r="1.45"/><circle cx="594.8" cy="198.7" r="1.45"/><circle cx="582.7" cy="236.7" r="1.45"/><circle cx="603.6" cy="162.8" r="1.45"/><circle cx="619.3" cy="224.0" r="1.45"/><circle cx="584.0" cy="189.2" r="1.45"/><circle cx="579.7" cy="196.0" r="1.45"/><circle cx="583.5" cy="206.9" r="1.45"/><circle cx="585.5" cy="226.9" r="1.45"/><circle cx="606.7" cy="182.1" r="1.45"/><circle cx="619.0" cy="160.1" r="1.45"/><circle cx="596.8" cy="233.7" r="1.45"/><circle cx="595.0" cy="123.6" r="1.45"/><circle cx="619.2" cy="198.4" r="1.45"/><circle cx="620.1" cy="177.5" r="1.45"/><circle cx="586.3" cy="202.3" r="1.45"/><circle cx="585.1" cy="212.0" r="1.45"/><circle cx="581.2" cy="219.7" r="1.45"/><circle cx="600.8" cy="157.5" r="1.45"/><circle cx="597.0" cy="200.8" r="1.45"/><circle cx="611.6" cy="203.9" r="1.45"/><circle cx="615.4" cy="219.8" r="1.45"/><circle cx="603.7" cy="210.0" r="1.45"/><circle cx="617.9" cy="210.4" r="1.45"/><circle cx="614.5" cy="173.3" r="1.45"/><circle cx="584.7" cy="165.1" r="1.45"/><circle cx="586.1" cy="213.3" r="1.45"/><circle cx="579.0" cy="222.9" r="1.45"/><circle cx="612.1" cy="167.8" r="1.45"/><circle cx="579.0" cy="190.9" r="1.45"/><circle cx="611.9" cy="223.5" r="1.45"/><circle cx="602.5" cy="225.4" r="1.45"/><circle cx="609.0" cy="176.3" r="1.45"/><circle cx="618.5" cy="238.9" r="1.45"/><circle cx="617.4" cy="155.3" r="1.45"/><circle cx="594.4" cy="213.2" r="1.45"/><circle cx="590.0" cy="211.6" r="1.45"/><circle cx="611.5" cy="152.2" r="1.45"/><circle cx="612.9" cy="220.4" r="1.45"/><circle cx="592.0" cy="149.6" r="1.45"/><circle cx="610.2" cy="200.3" r="1.45"/><circle cx="585.4" cy="200.7" r="1.45"/><circle cx="614.4" cy="155.5" r="1.45"/><circle cx="617.1" cy="216.3" r="1.45"/><circle cx="582.2" cy="196.6" r="1.45"/><circle cx="585.0" cy="149.7" r="1.45"/><circle cx="610.4" cy="214.5" r="1.45"/><circle cx="603.1" cy="236.4" r="1.45"/><circle cx="596.5" cy="219.7" r="1.45"/><circle cx="611.0" cy="187.5" r="1.45"/><circle cx="583.1" cy="202.4" r="1.45"/><circle cx="615.0" cy="200.1" r="1.45"/><circle cx="597.1" cy="184.8" r="1.45"/><circle cx="609.1" cy="200.9" r="1.45"/><circle cx="605.7" cy="215.5" r="1.45"/><circle cx="608.8" cy="170.2" r="1.45"/><circle cx="587.7" cy="179.2" r="1.45"/><circle cx="594.2" cy="208.9" r="1.45"/><circle cx="617.0" cy="213.5" r="1.45"/><circle cx="596.5" cy="224.5" r="1.45"/><circle cx="610.3" cy="231.5" r="1.45"/><circle cx="597.7" cy="216.1" r="1.45"/><circle cx="618.2" cy="179.5" r="1.45"/><circle cx="598.4" cy="215.6" r="1.45"/><circle cx="584.8" cy="160.9" r="1.45"/><circle cx="607.0" cy="164.3" r="1.45"/><circle cx="601.2" cy="88.9" r="1.45"/><circle cx="609.5" cy="169.2" r="1.45"/><circle cx="594.4" cy="169.8" r="1.45"/><circle cx="589.1" cy="167.1" r="1.45"/><circle cx="598.6" cy="195.4" r="1.45"/><circle cx="582.4" cy="203.9" r="1.45"/><circle cx="580.2" cy="159.6" r="1.45"/><circle cx="598.1" cy="232.5" r="1.45"/><circle cx="609.1" cy="230.3" r="1.45"/><circle cx="593.0" cy="189.8" r="1.45"/><circle cx="584.5" cy="181.9" r="1.45"/><circle cx="612.6" cy="204.5" r="1.45"/><circle cx="599.6" cy="185.3" r="1.45"/><circle cx="592.8" cy="186.1" r="1.45"/><circle cx="598.5" cy="162.1" r="1.45"/><circle cx="611.4" cy="130.8" r="1.45"/><circle cx="588.0" cy="198.1" r="1.45"/><circle cx="616.4" cy="120.2" r="1.45"/><circle cx="610.8" cy="237.3" r="1.45"/><circle cx="605.0" cy="233.0" r="1.45"/><circle cx="597.2" cy="235.9" r="1.45"/><circle cx="582.9" cy="207.8" r="1.45"/><circle cx="607.1" cy="148.6" r="1.45"/><circle cx="609.7" cy="219.0" r="1.45"/><circle cx="613.0" cy="194.8" r="1.45"/><circle cx="618.7" cy="164.9" r="1.45"/><circle cx="607.2" cy="183.7" r="1.45"/><circle cx="601.8" cy="204.8" r="1.45"/><circle cx="584.5" cy="210.0" r="1.45"/><circle cx="598.3" cy="188.9" r="1.45"/><circle cx="594.1" cy="216.1" r="1.45"/><circle cx="601.8" cy="197.2" r="1.45"/><circle cx="585.5" cy="195.5" r="1.45"/><circle cx="615.6" cy="226.3" r="1.45"/><circle cx="619.5" cy="232.6" r="1.45"/><circle cx="584.6" cy="135.3" r="1.45"/><circle cx="594.8" cy="240.8" r="1.45"/><circle cx="601.5" cy="225.6" r="1.45"/><circle cx="587.3" cy="200.4" r="1.45"/><circle cx="583.9" cy="192.2" r="1.45"/><circle cx="602.2" cy="205.4" r="1.45"/><circle cx="618.2" cy="155.3" r="1.45"/><circle cx="618.2" cy="207.1" r="1.45"/><circle cx="605.1" cy="217.7" r="1.45"/><circle cx="606.6" cy="235.9" r="1.45"/><circle cx="593.8" cy="210.7" r="1.45"/><circle cx="619.0" cy="213.6" r="1.45"/><circle cx="588.9" cy="210.3" r="1.45"/><circle cx="579.2" cy="188.4" r="1.45"/><circle cx="601.8" cy="199.6" r="1.45"/><circle cx="583.7" cy="189.3" r="1.45"/><circle cx="613.5" cy="163.7" r="1.45"/><circle cx="617.3" cy="215.0" r="1.45"/><circle cx="620.0" cy="226.3" r="1.45"/><circle cx="578.9" cy="214.0" r="1.45"/><circle cx="580.8" cy="227.9" r="1.45"/><circle cx="591.8" cy="242.0" r="1.45"/><circle cx="602.4" cy="162.6" r="1.45"/><circle cx="616.3" cy="167.5" r="1.45"/><circle cx="603.3" cy="196.6" r="1.45"/><circle cx="587.2" cy="196.2" r="1.45"/><circle cx="586.2" cy="201.7" r="1.45"/><circle cx="617.5" cy="192.0" r="1.45"/><circle cx="589.9" cy="207.7" r="1.45"/><circle cx="592.2" cy="172.6" r="1.45"/><circle cx="618.9" cy="216.7" r="1.45"/><circle cx="581.6" cy="225.4" r="1.45"/><circle cx="613.3" cy="173.0" r="1.45"/><circle cx="609.8" cy="184.9" r="1.45"/><circle cx="590.0" cy="199.5" r="1.45"/><circle cx="606.3" cy="182.3" r="1.45"/><circle cx="618.4" cy="176.4" r="1.45"/><circle cx="604.7" cy="201.1" r="1.45"/><circle cx="608.9" cy="206.3" r="1.45"/><circle cx="601.7" cy="209.6" r="1.45"/><circle cx="589.4" cy="226.8" r="1.45"/><circle cx="584.7" cy="144.1" r="1.45"/><circle cx="603.2" cy="189.8" r="1.45"/><circle cx="612.0" cy="185.0" r="1.45"/><circle cx="602.6" cy="180.4" r="1.45"/><circle cx="602.1" cy="168.7" r="1.45"/><circle cx="579.4" cy="221.6" r="1.45"/><circle cx="581.2" cy="179.8" r="1.45"/><circle cx="610.2" cy="213.2" r="1.45"/><circle cx="588.8" cy="188.9" r="1.45"/><circle cx="582.6" cy="189.1" r="1.45"/><circle cx="598.6" cy="213.5" r="1.45"/><circle cx="610.6" cy="214.0" r="1.45"/><circle cx="588.0" cy="181.8" r="1.45"/><circle cx="597.6" cy="218.6" r="1.45"/><circle cx="599.7" cy="231.9" r="1.45"/><circle cx="586.3" cy="161.4" r="1.45"/><circle cx="581.7" cy="212.7" r="1.45"/><circle cx="582.5" cy="175.8" r="1.45"/><circle cx="605.7" cy="186.0" r="1.45"/><circle cx="600.1" cy="215.5" r="1.45"/><circle cx="617.7" cy="187.3" r="1.45"/><circle cx="591.5" cy="197.5" r="1.45"/><circle cx="592.3" cy="182.0" r="1.45"/><circle cx="596.6" cy="157.3" r="1.45"/><circle cx="585.7" cy="217.1" r="1.45"/><circle cx="614.0" cy="184.6" r="1.45"/><circle cx="605.7" cy="194.3" r="1.45"/><circle cx="581.2" cy="176.0" r="1.45"/><circle cx="599.8" cy="162.9" r="1.45"/><circle cx="609.6" cy="203.9" r="1.45"/><circle cx="608.5" cy="187.3" r="1.45"/><circle cx="606.6" cy="212.2" r="1.45"/><circle cx="596.8" cy="199.1" r="1.45"/><circle cx="616.3" cy="203.8" r="1.45"/><circle cx="578.9" cy="207.0" r="1.45"/><circle cx="587.0" cy="193.6" r="1.45"/><circle cx="582.4" cy="168.9" r="1.45"/><circle cx="592.7" cy="224.4" r="1.45"/><circle cx="589.8" cy="249.2" r="1.45"/><circle cx="595.4" cy="206.3" r="1.45"/><circle cx="607.4" cy="212.6" r="1.45"/><circle cx="581.7" cy="210.5" r="1.45"/><circle cx="601.3" cy="191.6" r="1.45"/><circle cx="582.9" cy="118.5" r="1.45"/><circle cx="599.6" cy="201.4" r="1.45"/><circle cx="606.6" cy="213.3" r="1.45"/><circle cx="599.4" cy="196.8" r="1.45"/><circle cx="617.6" cy="190.1" r="1.45"/><circle cx="612.6" cy="215.8" r="1.45"/><circle cx="598.9" cy="210.9" r="1.45"/><circle cx="584.1" cy="195.7" r="1.45"/><circle cx="602.8" cy="212.3" r="1.45"/><circle cx="619.3" cy="227.9" r="1.45"/><circle cx="612.0" cy="149.7" r="1.45"/><circle cx="583.5" cy="186.0" r="1.45"/><circle cx="603.0" cy="201.7" r="1.45"/><circle cx="608.8" cy="190.1" r="1.45"/><circle cx="594.0" cy="218.1" r="1.45"/><circle cx="608.4" cy="159.6" r="1.45"/><circle cx="597.0" cy="209.2" r="1.45"/><circle cx="578.9" cy="93.9" r="1.45"/><circle cx="614.7" cy="156.2" r="1.45"/><circle cx="605.2" cy="172.8" r="1.45"/><circle cx="608.5" cy="164.0" r="1.45"/><circle cx="583.6" cy="143.4" r="1.45"/><circle cx="579.0" cy="222.0" r="1.45"/><circle cx="580.6" cy="168.1" r="1.45"/><circle cx="620.1" cy="224.6" r="1.45"/><circle cx="592.0" cy="145.8" r="1.45"/><circle cx="614.7" cy="151.5" r="1.45"/><circle cx="603.2" cy="219.3" r="1.45"/><circle cx="618.1" cy="154.0" r="1.45"/><circle cx="602.3" cy="204.8" r="1.45"/><circle cx="598.8" cy="187.3" r="1.45"/><circle cx="592.8" cy="163.8" r="1.45"/><circle cx="603.2" cy="217.1" r="1.45"/><circle cx="588.0" cy="173.5" r="1.45"/><circle cx="599.7" cy="203.1" r="1.45"/><circle cx="596.2" cy="163.0" r="1.45"/><circle cx="600.9" cy="206.0" r="1.45"/><circle cx="590.2" cy="211.0" r="1.45"/><circle cx="611.2" cy="192.9" r="1.45"/><circle cx="600.3" cy="230.0" r="1.45"/><circle cx="600.0" cy="197.7" r="1.45"/><circle cx="594.4" cy="116.8" r="1.45"/><circle cx="608.2" cy="204.3" r="1.45"/><circle cx="612.8" cy="169.3" r="1.45"/><circle cx="587.6" cy="231.1" r="1.45"/><circle cx="597.6" cy="193.4" r="1.45"/><circle cx="593.7" cy="210.7" r="1.45"/><circle cx="610.1" cy="179.4" r="1.45"/><circle cx="588.5" cy="199.8" r="1.45"/><circle cx="611.4" cy="213.8" r="1.45"/><circle cx="605.2" cy="217.2" r="1.45"/><circle cx="607.6" cy="224.7" r="1.45"/><circle cx="593.8" cy="199.3" r="1.45"/><circle cx="580.1" cy="188.6" r="1.45"/><circle cx="606.6" cy="162.2" r="1.45"/><circle cx="618.9" cy="205.1" r="1.45"/><circle cx="592.8" cy="191.7" r="1.45"/><circle cx="583.3" cy="213.8" r="1.45"/><circle cx="599.0" cy="185.5" r="1.45"/><circle cx="594.1" cy="230.4" r="1.45"/><circle cx="608.4" cy="201.6" r="1.45"/><circle cx="616.0" cy="163.6" r="1.45"/><circle cx="597.0" cy="162.8" r="1.45"/><circle cx="596.3" cy="231.5" r="1.45"/><circle cx="586.4" cy="221.4" r="1.45"/><circle cx="585.3" cy="106.4" r="1.45"/><circle cx="614.2" cy="208.5" r="1.45"/><circle cx="592.6" cy="119.8" r="1.45"/><circle cx="596.5" cy="159.7" r="1.45"/><circle cx="586.8" cy="232.3" r="1.45"/><circle cx="583.8" cy="194.5" r="1.45"/><circle cx="616.3" cy="219.5" r="1.45"/><circle cx="603.5" cy="219.0" r="1.45"/><circle cx="589.4" cy="188.0" r="1.45"/><circle cx="594.5" cy="169.1" r="1.45"/><circle cx="579.3" cy="194.8" r="1.45"/><circle cx="592.6" cy="223.5" r="1.45"/><circle cx="607.0" cy="161.0" r="1.45"/><circle cx="579.6" cy="209.0" r="1.45"/><circle cx="606.8" cy="208.9" r="1.45"/><circle cx="587.1" cy="212.9" r="1.45"/><circle cx="614.3" cy="210.7" r="1.45"/><circle cx="603.1" cy="181.0" r="1.45"/><circle cx="602.6" cy="207.5" r="1.45"/><circle cx="592.3" cy="201.0" r="1.45"/><circle cx="605.5" cy="191.6" r="1.45"/><circle cx="583.9" cy="219.4" r="1.45"/><circle cx="587.6" cy="214.5" r="1.45"/><circle cx="593.9" cy="207.4" r="1.45"/><circle cx="616.2" cy="169.9" r="1.45"/><circle cx="588.8" cy="121.2" r="1.45"/><circle cx="614.3" cy="131.9" r="1.45"/><circle cx="594.5" cy="196.7" r="1.45"/><circle cx="580.4" cy="157.0" r="1.45"/><circle cx="590.0" cy="183.7" r="1.45"/><circle cx="611.0" cy="233.2" r="1.45"/><circle cx="581.1" cy="248.9" r="1.45"/><circle cx="594.6" cy="187.7" r="1.45"/><circle cx="611.1" cy="192.9" r="1.45"/><circle cx="613.7" cy="154.9" r="1.45"/><circle cx="612.0" cy="219.2" r="1.45"/><circle cx="583.1" cy="205.3" r="1.45"/><circle cx="597.1" cy="200.7" r="1.45"/><circle cx="620.0" cy="143.9" r="1.45"/><circle cx="587.6" cy="170.8" r="1.45"/><circle cx="578.9" cy="181.3" r="1.45"/><circle cx="594.1" cy="188.3" r="1.45"/><circle cx="596.8" cy="191.7" r="1.45"/><circle cx="607.9" cy="216.8" r="1.45"/><circle cx="600.2" cy="199.1" r="1.45"/><circle cx="600.0" cy="181.2" r="1.45"/><circle cx="599.3" cy="199.8" r="1.45"/><circle cx="587.5" cy="227.1" r="1.45"/><circle cx="615.2" cy="153.1" r="1.45"/><circle cx="604.3" cy="211.4" r="1.45"/><circle cx="602.2" cy="178.2" r="1.45"/><circle cx="618.4" cy="200.3" r="1.45"/><circle cx="594.1" cy="187.0" r="1.45"/><circle cx="600.9" cy="165.2" r="1.45"/><circle cx="592.4" cy="169.9" r="1.45"/><circle cx="592.9" cy="218.6" r="1.45"/><circle cx="596.1" cy="142.5" r="1.45"/><circle cx="595.5" cy="171.6" r="1.45"/><circle cx="585.5" cy="204.3" r="1.45"/><circle cx="597.3" cy="215.7" r="1.45"/><circle cx="595.6" cy="225.1" r="1.45"/><circle cx="597.8" cy="193.0" r="1.45"/><circle cx="613.3" cy="140.3" r="1.45"/><circle cx="580.0" cy="223.1" r="1.45"/><circle cx="587.9" cy="163.5" r="1.45"/><circle cx="606.8" cy="151.8" r="1.45"/><circle cx="599.4" cy="207.0" r="1.45"/><circle cx="586.0" cy="213.2" r="1.45"/><circle cx="605.6" cy="195.1" r="1.45"/><circle cx="605.5" cy="204.6" r="1.45"/><circle cx="584.5" cy="214.8" r="1.45"/><circle cx="599.9" cy="209.1" r="1.45"/><circle cx="591.8" cy="207.7" r="1.45"/><circle cx="598.9" cy="210.1" r="1.45"/><circle cx="604.4" cy="202.2" r="1.45"/><circle cx="607.0" cy="182.3" r="1.45"/><circle cx="601.5" cy="180.1" r="1.45"/><circle cx="602.5" cy="225.7" r="1.45"/><circle cx="588.0" cy="223.3" r="1.45"/><circle cx="602.3" cy="233.5" r="1.45"/><circle cx="610.1" cy="179.4" r="1.45"/><circle cx="619.0" cy="214.6" r="1.45"/><circle cx="612.9" cy="174.5" r="1.45"/><circle cx="604.2" cy="204.7" r="1.45"/><circle cx="580.2" cy="207.4" r="1.45"/><circle cx="609.0" cy="108.5" r="1.45"/><circle cx="589.9" cy="221.8" r="1.45"/><circle cx="613.2" cy="188.6" r="1.45"/><circle cx="600.4" cy="210.2" r="1.45"/><circle cx="597.1" cy="125.6" r="1.45"/><circle cx="613.3" cy="192.6" r="1.45"/><circle cx="614.6" cy="209.1" r="1.45"/><circle cx="587.2" cy="222.9" r="1.45"/><circle cx="579.9" cy="177.4" r="1.45"/><circle cx="592.8" cy="210.8" r="1.45"/><circle cx="604.7" cy="188.6" r="1.45"/><circle cx="583.8" cy="194.0" r="1.45"/><circle cx="590.4" cy="185.9" r="1.45"/><circle cx="617.0" cy="178.3" r="1.45"/><circle cx="619.9" cy="143.7" r="1.45"/><circle cx="597.1" cy="222.7" r="1.45"/><circle cx="617.2" cy="192.0" r="1.45"/><circle cx="612.4" cy="215.9" r="1.45"/><circle cx="582.6" cy="200.1" r="1.45"/><circle cx="617.2" cy="214.5" r="1.45"/><circle cx="614.6" cy="225.9" r="1.45"/><circle cx="584.8" cy="208.7" r="1.45"/><circle cx="611.4" cy="206.5" r="1.45"/><circle cx="597.7" cy="221.4" r="1.45"/><circle cx="590.5" cy="174.5" r="1.45"/><circle cx="609.7" cy="112.7" r="1.45"/><circle cx="607.6" cy="188.1" r="1.45"/><circle cx="595.2" cy="213.4" r="1.45"/><circle cx="618.4" cy="195.1" r="1.45"/><circle cx="594.1" cy="178.6" r="1.45"/><circle cx="579.9" cy="223.6" r="1.45"/><circle cx="610.1" cy="199.9" r="1.45"/><circle cx="593.6" cy="199.6" r="1.45"/><circle cx="587.5" cy="237.6" r="1.45"/><circle cx="606.1" cy="218.9" r="1.45"/><circle cx="595.7" cy="157.0" r="1.45"/><circle cx="616.9" cy="211.5" r="1.45"/><circle cx="598.4" cy="200.3" r="1.45"/><circle cx="587.0" cy="233.4" r="1.45"/><circle cx="608.8" cy="199.9" r="1.45"/><circle cx="582.7" cy="222.3" r="1.45"/><circle cx="590.3" cy="152.2" r="1.45"/><circle cx="594.4" cy="215.4" r="1.45"/><circle cx="602.8" cy="217.6" r="1.45"/><circle cx="578.9" cy="192.4" r="1.45"/><circle cx="611.9" cy="166.9" r="1.45"/><circle cx="601.7" cy="199.2" r="1.45"/><circle cx="603.8" cy="134.8" r="1.45"/><circle cx="611.1" cy="206.8" r="1.45"/><circle cx="590.9" cy="207.0" r="1.45"/><circle cx="606.9" cy="163.7" r="1.45"/><circle cx="612.6" cy="226.4" r="1.45"/><circle cx="618.3" cy="227.2" r="1.45"/><circle cx="586.6" cy="182.0" r="1.45"/><circle cx="599.9" cy="174.2" r="1.45"/><circle cx="585.0" cy="181.1" r="1.45"/><circle cx="594.9" cy="188.4" r="1.45"/><circle cx="585.0" cy="130.9" r="1.45"/><circle cx="586.7" cy="183.3" r="1.45"/><circle cx="598.5" cy="161.8" r="1.45"/><circle cx="599.7" cy="221.1" r="1.45"/><circle cx="613.5" cy="204.3" r="1.45"/><circle cx="587.1" cy="116.1" r="1.45"/><circle cx="580.4" cy="191.7" r="1.45"/><circle cx="601.1" cy="194.3" r="1.45"/><circle cx="587.8" cy="225.6" r="1.45"/><circle cx="609.0" cy="193.7" r="1.45"/><circle cx="588.3" cy="217.1" r="1.45"/><circle cx="594.2" cy="225.7" r="1.45"/><circle cx="598.7" cy="212.9" r="1.45"/><circle cx="607.5" cy="157.5" r="1.45"/><circle cx="585.2" cy="182.2" r="1.45"/><circle cx="583.0" cy="230.0" r="1.45"/><circle cx="613.6" cy="210.1" r="1.45"/><circle cx="589.1" cy="192.2" r="1.45"/><circle cx="582.3" cy="203.8" r="1.45"/><circle cx="599.1" cy="198.2" r="1.45"/><circle cx="589.2" cy="186.5" r="1.45"/><circle cx="594.2" cy="206.4" r="1.45"/><circle cx="611.5" cy="166.7" r="1.45"/><circle cx="588.1" cy="200.1" r="1.45"/><circle cx="579.1" cy="209.6" r="1.45"/><circle cx="607.7" cy="203.7" r="1.45"/><circle cx="611.2" cy="186.7" r="1.45"/><circle cx="580.3" cy="178.8" r="1.45"/><circle cx="610.2" cy="198.5" r="1.45"/><circle cx="595.1" cy="236.5" r="1.45"/><circle cx="591.8" cy="161.1" r="1.45"/><circle cx="600.1" cy="121.4" r="1.45"/><circle cx="597.1" cy="166.2" r="1.45"/><circle cx="613.3" cy="230.5" r="1.45"/><circle cx="598.6" cy="179.6" r="1.45"/><circle cx="615.8" cy="186.0" r="1.45"/><circle cx="595.7" cy="171.3" r="1.45"/><circle cx="597.9" cy="213.8" r="1.45"/><circle cx="602.7" cy="221.9" r="1.45"/><circle cx="614.7" cy="197.0" r="1.45"/><circle cx="582.1" cy="159.0" r="1.45"/><circle cx="619.4" cy="227.6" r="1.45"/><circle cx="579.4" cy="150.1" r="1.45"/><circle cx="613.8" cy="220.0" r="1.45"/><circle cx="598.3" cy="220.5" r="1.45"/><circle cx="608.4" cy="182.2" r="1.45"/><circle cx="609.0" cy="180.8" r="1.45"/><circle cx="606.1" cy="187.1" r="1.45"/><circle cx="606.1" cy="155.3" r="1.45"/><circle cx="592.3" cy="166.3" r="1.45"/><circle cx="603.6" cy="194.2" r="1.45"/><circle cx="606.6" cy="204.7" r="1.45"/><circle cx="590.7" cy="185.9" r="1.45"/><circle cx="601.5" cy="192.4" r="1.45"/><circle cx="612.3" cy="216.8" r="1.45"/><circle cx="581.6" cy="161.3" r="1.45"/><circle cx="617.7" cy="166.0" r="1.45"/><circle cx="594.1" cy="147.2" r="1.45"/><circle cx="586.3" cy="191.4" r="1.45"/><circle cx="596.0" cy="218.9" r="1.45"/><circle cx="583.9" cy="177.6" r="1.45"/><circle cx="618.9" cy="217.0" r="1.45"/><circle cx="594.7" cy="201.1" r="1.45"/><circle cx="619.0" cy="213.4" r="1.45"/><circle cx="592.2" cy="190.5" r="1.45"/><circle cx="595.1" cy="223.0" r="1.45"/><circle cx="610.1" cy="229.3" r="1.45"/><circle cx="580.6" cy="200.2" r="1.45"/><circle cx="597.4" cy="185.1" r="1.45"/><circle cx="597.1" cy="185.1" r="1.45"/><circle cx="610.5" cy="209.5" r="1.45"/><circle cx="600.3" cy="200.4" r="1.45"/><circle cx="596.5" cy="182.4" r="1.45"/><circle cx="588.7" cy="130.8" r="1.45"/><circle cx="602.1" cy="216.4" r="1.45"/><circle cx="597.2" cy="203.6" r="1.45"/><circle cx="616.8" cy="194.6" r="1.45"/><circle cx="608.3" cy="208.4" r="1.45"/><circle cx="581.4" cy="159.7" r="1.45"/><circle cx="591.3" cy="186.5" r="1.45"/><circle cx="608.5" cy="203.5" r="1.45"/><circle cx="584.1" cy="169.9" r="1.45"/><circle cx="598.4" cy="195.0" r="1.45"/><circle cx="588.0" cy="182.3" r="1.45"/><circle cx="582.2" cy="196.6" r="1.45"/><circle cx="600.3" cy="182.8" r="1.45"/><circle cx="584.5" cy="188.6" r="1.45"/><circle cx="589.3" cy="185.9" r="1.45"/><circle cx="588.8" cy="219.0" r="1.45"/><circle cx="609.6" cy="193.7" r="1.45"/><circle cx="582.8" cy="204.5" r="1.45"/><circle cx="603.6" cy="169.9" r="1.45"/><circle cx="614.6" cy="206.5" r="1.45"/><circle cx="607.6" cy="190.2" r="1.45"/><circle cx="603.2" cy="192.4" r="1.45"/><circle cx="599.4" cy="201.7" r="1.45"/><circle cx="586.5" cy="216.2" r="1.45"/><circle cx="603.1" cy="215.3" r="1.45"/><circle cx="591.2" cy="189.7" r="1.45"/><circle cx="582.4" cy="203.5" r="1.45"/><circle cx="612.0" cy="153.7" r="1.45"/><circle cx="583.6" cy="214.7" r="1.45"/><circle cx="599.9" cy="197.5" r="1.45"/><circle cx="594.3" cy="230.8" r="1.45"/><circle cx="595.9" cy="199.0" r="1.45"/><circle cx="619.5" cy="180.7" r="1.45"/><circle cx="615.8" cy="209.9" r="1.45"/><circle cx="589.5" cy="111.3" r="1.45"/><circle cx="612.6" cy="201.7" r="1.45"/><circle cx="620.2" cy="210.3" r="1.45"/><circle cx="605.7" cy="208.5" r="1.45"/><circle cx="582.1" cy="185.3" r="1.45"/><circle cx="614.6" cy="223.8" r="1.45"/><circle cx="604.4" cy="188.7" r="1.45"/><circle cx="586.9" cy="178.6" r="1.45"/><circle cx="582.8" cy="229.9" r="1.45"/><circle cx="606.2" cy="188.1" r="1.45"/><circle cx="605.8" cy="172.0" r="1.45"/><circle cx="607.3" cy="178.5" r="1.45"/><circle cx="618.6" cy="180.6" r="1.45"/><circle cx="595.0" cy="193.5" r="1.45"/><circle cx="607.7" cy="217.6" r="1.45"/><circle cx="609.5" cy="186.1" r="1.45"/><circle cx="602.4" cy="212.0" r="1.45"/><circle cx="600.2" cy="216.7" r="1.45"/><circle cx="618.8" cy="171.0" r="1.45"/><circle cx="611.1" cy="117.7" r="1.45"/><circle cx="613.6" cy="164.6" r="1.45"/><circle cx="588.8" cy="199.4" r="1.45"/><circle cx="617.8" cy="199.9" r="1.45"/><circle cx="613.4" cy="230.6" r="1.45"/><circle cx="611.5" cy="182.2" r="1.45"/><circle cx="598.5" cy="210.9" r="1.45"/><circle cx="612.0" cy="206.9" r="1.45"/><circle cx="613.8" cy="172.4" r="1.45"/><circle cx="585.9" cy="174.1" r="1.45"/><circle cx="585.3" cy="224.6" r="1.45"/><circle cx="592.8" cy="212.7" r="1.45"/><circle cx="583.1" cy="205.0" r="1.45"/><circle cx="588.1" cy="172.1" r="1.45"/><circle cx="614.0" cy="157.6" r="1.45"/><circle cx="591.4" cy="218.8" r="1.45"/><circle cx="589.9" cy="142.2" r="1.45"/><circle cx="596.9" cy="201.1" r="1.45"/><circle cx="594.6" cy="195.6" r="1.45"/><circle cx="594.4" cy="130.5" r="1.45"/><circle cx="578.8" cy="193.9" r="1.45"/><circle cx="589.3" cy="178.4" r="1.45"/><circle cx="579.8" cy="202.4" r="1.45"/><circle cx="603.0" cy="159.0" r="1.45"/><circle cx="599.7" cy="171.3" r="1.45"/><circle cx="619.1" cy="197.5" r="1.45"/><circle cx="594.2" cy="174.5" r="1.45"/><circle cx="584.0" cy="126.0" r="1.45"/><circle cx="614.0" cy="201.5" r="1.45"/><circle cx="612.4" cy="148.1" r="1.45"/><circle cx="607.7" cy="192.6" r="1.45"/><circle cx="585.2" cy="233.1" r="1.45"/><circle cx="601.2" cy="211.3" r="1.45"/><circle cx="586.7" cy="200.6" r="1.45"/><circle cx="608.2" cy="168.5" r="1.45"/><circle cx="604.9" cy="230.2" r="1.45"/><circle cx="603.7" cy="215.7" r="1.45"/><circle cx="602.3" cy="146.1" r="1.45"/><circle cx="592.3" cy="217.5" r="1.45"/><circle cx="583.0" cy="173.1" r="1.45"/><circle cx="592.6" cy="208.2" r="1.45"/><circle cx="605.6" cy="212.7" r="1.45"/><circle cx="606.3" cy="240.3" r="1.45"/><circle cx="597.3" cy="146.6" r="1.45"/><circle cx="598.0" cy="213.5" r="1.45"/><circle cx="583.4" cy="196.7" r="1.45"/><circle cx="604.5" cy="217.8" r="1.45"/><circle cx="607.2" cy="190.8" r="1.45"/><circle cx="615.8" cy="214.3" r="1.45"/><circle cx="599.3" cy="188.0" r="1.45"/><circle cx="592.7" cy="187.6" r="1.45"/><circle cx="597.3" cy="221.3" r="1.45"/><circle cx="586.0" cy="187.9" r="1.45"/><circle cx="619.1" cy="226.9" r="1.45"/><circle cx="597.6" cy="193.3" r="1.45"/><circle cx="579.5" cy="188.6" r="1.45"/><circle cx="618.4" cy="220.7" r="1.45"/><circle cx="596.0" cy="194.8" r="1.45"/><circle cx="603.1" cy="168.0" r="1.45"/><circle cx="588.7" cy="227.7" r="1.45"/><circle cx="595.2" cy="207.5" r="1.45"/><circle cx="605.6" cy="165.4" r="1.45"/><circle cx="604.0" cy="218.0" r="1.45"/><circle cx="620.2" cy="198.8" r="1.45"/><circle cx="579.3" cy="191.0" r="1.45"/><circle cx="582.7" cy="173.1" r="1.45"/><circle cx="613.5" cy="169.1" r="1.45"/><circle cx="607.8" cy="188.4" r="1.45"/><circle cx="603.1" cy="135.8" r="1.45"/><circle cx="602.9" cy="207.7" r="1.45"/><circle cx="589.7" cy="169.3" r="1.45"/><circle cx="604.6" cy="196.0" r="1.45"/><circle cx="594.4" cy="163.6" r="1.45"/><circle cx="599.2" cy="184.4" r="1.45"/><circle cx="609.2" cy="207.3" r="1.45"/><circle cx="612.0" cy="191.1" r="1.45"/><circle cx="603.7" cy="207.8" r="1.45"/><circle cx="614.9" cy="205.1" r="1.45"/><circle cx="580.7" cy="143.4" r="1.45"/><circle cx="615.3" cy="201.6" r="1.45"/><circle cx="617.0" cy="207.9" r="1.45"/><circle cx="613.1" cy="214.1" r="1.45"/><circle cx="602.7" cy="181.5" r="1.45"/><circle cx="594.5" cy="209.1" r="1.45"/><circle cx="604.4" cy="209.5" r="1.45"/><circle cx="592.6" cy="145.7" r="1.45"/><circle cx="602.3" cy="240.0" r="1.45"/><circle cx="616.7" cy="212.4" r="1.45"/><circle cx="580.0" cy="248.1" r="1.45"/><circle cx="597.9" cy="225.0" r="1.45"/><circle cx="619.0" cy="229.6" r="1.45"/><circle cx="604.7" cy="210.4" r="1.45"/><circle cx="600.9" cy="227.6" r="1.45"/><circle cx="608.1" cy="192.9" r="1.45"/><circle cx="592.1" cy="193.9" r="1.45"/><circle cx="615.2" cy="199.4" r="1.45"/><circle cx="580.1" cy="144.8" r="1.45"/><circle cx="605.7" cy="180.0" r="1.45"/><circle cx="594.6" cy="192.0" r="1.45"/><circle cx="588.2" cy="214.2" r="1.45"/><circle cx="603.9" cy="206.4" r="1.45"/><circle cx="592.3" cy="223.6" r="1.45"/><circle cx="611.1" cy="238.8" r="1.45"/><circle cx="618.3" cy="225.6" r="1.45"/><circle cx="594.8" cy="197.5" r="1.45"/><circle cx="593.2" cy="161.5" r="1.45"/><circle cx="602.0" cy="192.7" r="1.45"/><circle cx="610.9" cy="211.8" r="1.45"/><circle cx="590.0" cy="193.4" r="1.45"/><circle cx="599.3" cy="200.0" r="1.45"/><circle cx="613.7" cy="182.9" r="1.45"/><circle cx="595.3" cy="203.8" r="1.45"/><circle cx="581.5" cy="239.7" r="1.45"/><circle cx="592.5" cy="213.8" r="1.45"/><circle cx="591.4" cy="190.1" r="1.45"/><circle cx="607.9" cy="186.0" r="1.45"/><circle cx="612.1" cy="208.7" r="1.45"/><circle cx="599.9" cy="204.1" r="1.45"/><circle cx="612.9" cy="163.4" r="1.45"/><circle cx="587.8" cy="152.4" r="1.45"/><circle cx="588.3" cy="142.8" r="1.45"/><circle cx="578.8" cy="213.7" r="1.45"/><circle cx="582.8" cy="159.7" r="1.45"/><circle cx="610.6" cy="227.3" r="1.45"/><circle cx="613.3" cy="192.6" r="1.45"/><circle cx="619.7" cy="227.6" r="1.45"/><circle cx="617.0" cy="218.1" r="1.45"/><circle cx="591.8" cy="143.7" r="1.45"/><circle cx="614.0" cy="212.5" r="1.45"/><circle cx="602.3" cy="227.3" r="1.45"/><circle cx="601.3" cy="201.1" r="1.45"/><circle cx="584.4" cy="176.7" r="1.45"/><circle cx="588.9" cy="156.9" r="1.45"/><circle cx="607.7" cy="231.2" r="1.45"/><circle cx="611.1" cy="203.9" r="1.45"/><circle cx="610.6" cy="208.8" r="1.45"/><circle cx="590.5" cy="202.0" r="1.45"/><circle cx="610.8" cy="186.5" r="1.45"/><circle cx="585.4" cy="234.0" r="1.45"/><circle cx="583.2" cy="187.8" r="1.45"/><circle cx="585.5" cy="224.0" r="1.45"/><circle cx="581.8" cy="143.7" r="1.45"/><circle cx="606.5" cy="197.8" r="1.45"/><circle cx="582.3" cy="208.5" r="1.45"/><circle cx="615.1" cy="197.3" r="1.45"/><circle cx="595.8" cy="151.5" r="1.45"/><circle cx="592.9" cy="203.9" r="1.45"/><circle cx="588.8" cy="196.0" r="1.45"/><circle cx="611.4" cy="187.8" r="1.45"/><circle cx="600.9" cy="229.8" r="1.45"/><circle cx="594.8" cy="202.1" r="1.45"/><circle cx="591.0" cy="209.8" r="1.45"/><circle cx="587.7" cy="206.1" r="1.45"/><circle cx="592.3" cy="146.4" r="1.45"/><circle cx="605.3" cy="207.8" r="1.45"/><circle cx="598.7" cy="131.7" r="1.45"/><circle cx="617.8" cy="231.6" r="1.45"/><circle cx="597.5" cy="148.7" r="1.45"/><circle cx="589.4" cy="234.3" r="1.45"/><circle cx="589.5" cy="216.5" r="1.45"/><circle cx="610.7" cy="170.6" r="1.45"/><circle cx="585.3" cy="177.9" r="1.45"/><circle cx="598.8" cy="247.3" r="1.45"/><circle cx="594.7" cy="159.6" r="1.45"/><circle cx="594.4" cy="164.4" r="1.45"/><circle cx="583.9" cy="233.8" r="1.45"/><circle cx="617.1" cy="221.7" r="1.45"/><circle cx="606.2" cy="224.8" r="1.45"/><circle cx="590.7" cy="208.3" r="1.45"/><circle cx="597.3" cy="164.4" r="1.45"/><circle cx="616.4" cy="239.3" r="1.45"/><circle cx="617.2" cy="186.1" r="1.45"/><circle cx="584.6" cy="244.6" r="1.45"/><circle cx="617.0" cy="188.5" r="1.45"/><circle cx="596.0" cy="225.6" r="1.45"/><circle cx="619.9" cy="230.3" r="1.45"/><circle cx="612.8" cy="133.4" r="1.45"/><circle cx="594.3" cy="190.0" r="1.45"/><circle cx="610.0" cy="189.3" r="1.45"/><circle cx="598.2" cy="212.3" r="1.45"/><circle cx="612.0" cy="211.3" r="1.45"/><circle cx="609.1" cy="188.7" r="1.45"/><circle cx="588.0" cy="113.7" r="1.45"/><circle cx="594.4" cy="151.9" r="1.45"/><circle cx="615.7" cy="222.7" r="1.45"/><circle cx="618.0" cy="179.3" r="1.45"/><circle cx="583.3" cy="212.9" r="1.45"/><circle cx="581.7" cy="214.4" r="1.45"/><circle cx="597.4" cy="226.0" r="1.45"/><circle cx="619.6" cy="201.9" r="1.45"/><circle cx="596.2" cy="216.2" r="1.45"/><circle cx="585.9" cy="184.9" r="1.45"/><circle cx="601.3" cy="160.3" r="1.45"/><circle cx="596.5" cy="209.9" r="1.45"/><circle cx="599.3" cy="198.0" r="1.45"/><circle cx="597.3" cy="172.9" r="1.45"/><circle cx="587.4" cy="159.0" r="1.45"/><circle cx="581.0" cy="202.2" r="1.45"/><circle cx="611.3" cy="184.4" r="1.45"/><circle cx="615.7" cy="176.0" r="1.45"/><circle cx="597.1" cy="194.2" r="1.45"/><circle cx="601.1" cy="141.2" r="1.45"/><circle cx="581.5" cy="205.1" r="1.45"/><circle cx="606.5" cy="199.6" r="1.45"/><circle cx="616.9" cy="206.9" r="1.45"/><circle cx="612.8" cy="218.4" r="1.45"/><circle cx="601.8" cy="201.0" r="1.45"/><circle cx="606.0" cy="188.6" r="1.45"/><circle cx="599.0" cy="196.8" r="1.45"/><circle cx="580.2" cy="190.2" r="1.45"/><circle cx="590.4" cy="201.0" r="1.45"/><circle cx="597.3" cy="227.5" r="1.45"/><circle cx="586.3" cy="196.3" r="1.45"/><circle cx="612.6" cy="180.3" r="1.45"/><circle cx="593.2" cy="229.5" r="1.45"/><circle cx="612.3" cy="185.6" r="1.45"/><circle cx="595.1" cy="224.0" r="1.45"/><circle cx="602.1" cy="216.8" r="1.45"/><circle cx="606.7" cy="169.2" r="1.45"/><circle cx="600.9" cy="105.2" r="1.45"/><circle cx="592.7" cy="205.3" r="1.45"/><circle cx="588.4" cy="206.6" r="1.45"/><circle cx="597.3" cy="195.7" r="1.45"/><circle cx="614.8" cy="201.4" r="1.45"/><circle cx="591.3" cy="189.4" r="1.45"/><circle cx="588.4" cy="230.2" r="1.45"/><circle cx="608.8" cy="203.9" r="1.45"/><circle cx="593.3" cy="216.5" r="1.45"/><circle cx="612.6" cy="195.8" r="1.45"/><circle cx="619.7" cy="225.8" r="1.45"/><circle cx="579.2" cy="238.8" r="1.45"/><circle cx="615.2" cy="128.5" r="1.45"/><circle cx="594.9" cy="160.5" r="1.45"/><circle cx="610.7" cy="191.9" r="1.45"/><circle cx="611.3" cy="204.7" r="1.45"/><circle cx="601.6" cy="180.6" r="1.45"/><circle cx="580.3" cy="197.0" r="1.45"/><circle cx="610.8" cy="223.2" r="1.45"/><circle cx="578.8" cy="192.1" r="1.45"/><circle cx="589.5" cy="165.0" r="1.45"/><circle cx="605.2" cy="217.5" r="1.45"/><circle cx="597.2" cy="228.7" r="1.45"/><circle cx="587.3" cy="202.0" r="1.45"/><circle cx="601.0" cy="228.9" r="1.45"/><circle cx="587.0" cy="226.1" r="1.45"/><circle cx="591.7" cy="218.9" r="1.45"/><circle cx="593.3" cy="204.1" r="1.45"/><circle cx="609.1" cy="188.0" r="1.45"/><circle cx="609.2" cy="210.9" r="1.45"/><circle cx="583.6" cy="205.1" r="1.45"/><circle cx="582.8" cy="197.9" r="1.45"/><circle cx="589.2" cy="211.4" r="1.45"/><circle cx="615.5" cy="216.1" r="1.45"/><circle cx="617.7" cy="199.9" r="1.45"/><circle cx="607.7" cy="206.4" r="1.45"/><circle cx="602.1" cy="145.5" r="1.45"/><circle cx="618.5" cy="199.9" r="1.45"/><circle cx="579.3" cy="108.7" r="1.45"/><circle cx="587.0" cy="208.2" r="1.45"/><circle cx="596.7" cy="176.1" r="1.45"/><circle cx="613.5" cy="193.4" r="1.45"/><circle cx="591.6" cy="201.3" r="1.45"/><circle cx="590.1" cy="123.5" r="1.45"/><circle cx="587.6" cy="193.3" r="1.45"/><circle cx="583.8" cy="178.0" r="1.45"/><circle cx="586.3" cy="180.2" r="1.45"/><circle cx="597.3" cy="198.1" r="1.45"/><circle cx="591.5" cy="157.6" r="1.45"/><circle cx="608.8" cy="232.5" r="1.45"/><circle cx="593.1" cy="204.9" r="1.45"/><circle cx="602.1" cy="149.0" r="1.45"/><circle cx="598.5" cy="217.7" r="1.45"/><circle cx="615.6" cy="204.4" r="1.45"/><circle cx="604.0" cy="185.2" r="1.45"/><circle cx="615.6" cy="136.1" r="1.45"/><circle cx="580.2" cy="157.2" r="1.45"/><circle cx="601.0" cy="203.6" r="1.45"/><circle cx="613.4" cy="214.3" r="1.45"/><circle cx="606.4" cy="214.1" r="1.45"/><circle cx="586.8" cy="170.4" r="1.45"/><circle cx="619.6" cy="215.0" r="1.45"/><circle cx="586.6" cy="215.3" r="1.45"/><circle cx="590.2" cy="199.8" r="1.45"/><circle cx="583.7" cy="204.9" r="1.45"/><circle cx="586.0" cy="177.5" r="1.45"/><circle cx="611.8" cy="169.1" r="1.45"/><circle cx="614.5" cy="163.5" r="1.45"/><circle cx="584.1" cy="175.4" r="1.45"/><circle cx="598.3" cy="188.8" r="1.45"/><circle cx="617.5" cy="144.0" r="1.45"/><circle cx="618.5" cy="210.6" r="1.45"/><circle cx="593.1" cy="173.4" r="1.45"/><circle cx="587.1" cy="127.1" r="1.45"/><circle cx="601.5" cy="208.6" r="1.45"/><circle cx="614.0" cy="185.4" r="1.45"/><circle cx="610.9" cy="202.5" r="1.45"/><circle cx="582.9" cy="198.2" r="1.45"/><circle cx="618.6" cy="226.8" r="1.45"/><circle cx="608.8" cy="154.4" r="1.45"/><circle cx="592.0" cy="167.0" r="1.45"/><circle cx="610.0" cy="207.9" r="1.45"/><circle cx="580.6" cy="219.1" r="1.45"/><circle cx="612.1" cy="172.0" r="1.45"/><circle cx="598.4" cy="207.7" r="1.45"/><circle cx="601.4" cy="189.4" r="1.45"/><circle cx="579.8" cy="215.9" r="1.45"/><circle cx="614.5" cy="207.8" r="1.45"/><circle cx="606.9" cy="197.3" r="1.45"/><circle cx="618.1" cy="242.7" r="1.45"/><circle cx="618.5" cy="160.7" r="1.45"/><circle cx="609.0" cy="156.0" r="1.45"/><circle cx="603.9" cy="176.1" r="1.45"/><circle cx="597.0" cy="117.8" r="1.45"/><circle cx="603.5" cy="192.1" r="1.45"/><circle cx="580.0" cy="189.6" r="1.45"/><circle cx="617.1" cy="215.0" r="1.45"/><circle cx="584.5" cy="199.0" r="1.45"/><circle cx="620.1" cy="190.4" r="1.45"/><circle cx="584.9" cy="199.2" r="1.45"/><circle cx="616.1" cy="213.9" r="1.45"/><circle cx="584.2" cy="213.7" r="1.45"/><circle cx="596.0" cy="222.9" r="1.45"/><circle cx="596.2" cy="196.1" r="1.45"/><circle cx="581.2" cy="198.7" r="1.45"/><circle cx="618.4" cy="185.3" r="1.45"/><circle cx="613.7" cy="198.2" r="1.45"/><circle cx="607.7" cy="198.9" r="1.45"/><circle cx="599.3" cy="205.2" r="1.45"/><circle cx="600.1" cy="211.2" r="1.45"/><circle cx="612.1" cy="197.2" r="1.45"/><circle cx="596.2" cy="154.9" r="1.45"/><circle cx="589.8" cy="150.5" r="1.45"/><circle cx="605.7" cy="196.1" r="1.45"/><circle cx="602.4" cy="165.0" r="1.45"/><circle cx="600.1" cy="171.2" r="1.45"/><circle cx="619.8" cy="215.5" r="1.45"/><circle cx="592.4" cy="197.0" r="1.45"/><circle cx="591.8" cy="193.4" r="1.45"/><circle cx="580.2" cy="177.1" r="1.45"/><circle cx="617.0" cy="177.4" r="1.45"/><circle cx="607.7" cy="237.7" r="1.45"/><circle cx="609.1" cy="192.8" r="1.45"/><circle cx="609.1" cy="196.9" r="1.45"/><circle cx="587.4" cy="217.2" r="1.45"/><circle cx="611.0" cy="225.2" r="1.45"/><circle cx="585.8" cy="208.9" r="1.45"/><circle cx="612.2" cy="221.0" r="1.45"/><circle cx="619.4" cy="148.7" r="1.45"/><circle cx="583.2" cy="184.2" r="1.45"/><circle cx="608.8" cy="185.4" r="1.45"/><circle cx="611.2" cy="199.1" r="1.45"/><circle cx="600.2" cy="228.3" r="1.45"/><circle cx="605.7" cy="238.2" r="1.45"/><circle cx="606.0" cy="217.5" r="1.45"/><circle cx="610.2" cy="220.1" r="1.45"/><circle cx="602.6" cy="212.5" r="1.45"/><circle cx="596.3" cy="177.5" r="1.45"/><circle cx="596.7" cy="176.4" r="1.45"/><circle cx="595.0" cy="217.9" r="1.45"/><circle cx="596.5" cy="206.6" r="1.45"/><circle cx="582.5" cy="234.8" r="1.45"/><circle cx="579.5" cy="132.8" r="1.45"/><circle cx="597.4" cy="202.5" r="1.45"/><circle cx="603.4" cy="220.0" r="1.45"/><circle cx="579.4" cy="209.8" r="1.45"/><circle cx="615.1" cy="182.9" r="1.45"/><circle cx="598.1" cy="176.4" r="1.45"/><circle cx="592.2" cy="205.5" r="1.45"/><circle cx="613.5" cy="131.0" r="1.45"/><circle cx="588.8" cy="176.6" r="1.45"/><circle cx="611.9" cy="199.2" r="1.45"/><circle cx="598.3" cy="148.7" r="1.45"/><circle cx="611.9" cy="211.1" r="1.45"/><circle cx="614.6" cy="185.1" r="1.45"/><circle cx="603.4" cy="189.8" r="1.45"/><circle cx="619.7" cy="207.3" r="1.45"/><circle cx="584.8" cy="204.0" r="1.45"/><circle cx="581.3" cy="221.8" r="1.45"/><circle cx="612.4" cy="199.1" r="1.45"/><circle cx="606.4" cy="207.1" r="1.45"/><circle cx="617.5" cy="238.2" r="1.45"/><circle cx="604.4" cy="188.7" r="1.45"/><circle cx="596.3" cy="165.9" r="1.45"/><circle cx="589.2" cy="175.8" r="1.45"/><circle cx="583.9" cy="152.1" r="1.45"/><circle cx="588.3" cy="214.3" r="1.45"/><circle cx="592.3" cy="214.6" r="1.45"/><circle cx="597.0" cy="165.6" r="1.45"/><circle cx="608.7" cy="191.6" r="1.45"/><circle cx="592.5" cy="211.8" r="1.45"/><circle cx="592.4" cy="115.1" r="1.45"/><circle cx="604.0" cy="217.1" r="1.45"/><circle cx="604.7" cy="175.6" r="1.45"/><circle cx="605.3" cy="179.6" r="1.45"/><circle cx="584.0" cy="201.6" r="1.45"/><circle cx="602.1" cy="192.3" r="1.45"/><circle cx="604.5" cy="187.1" r="1.45"/><circle cx="616.2" cy="176.7" r="1.45"/><circle cx="603.1" cy="215.5" r="1.45"/><circle cx="590.2" cy="199.9" r="1.45"/><circle cx="589.7" cy="195.0" r="1.45"/><circle cx="597.0" cy="211.5" r="1.45"/><circle cx="586.8" cy="184.3" r="1.45"/><circle cx="584.3" cy="206.0" r="1.45"/><circle cx="595.2" cy="192.7" r="1.45"/><circle cx="610.3" cy="172.8" r="1.45"/><circle cx="595.3" cy="219.0" r="1.45"/><circle cx="610.9" cy="180.0" r="1.45"/><circle cx="617.0" cy="173.1" r="1.45"/><circle cx="589.2" cy="212.1" r="1.45"/><circle cx="607.1" cy="161.4" r="1.45"/><circle cx="594.6" cy="202.3" r="1.45"/><circle cx="615.5" cy="199.9" r="1.45"/><circle cx="593.7" cy="183.4" r="1.45"/><circle cx="600.7" cy="206.6" r="1.45"/><circle cx="587.4" cy="221.3" r="1.45"/><circle cx="607.1" cy="187.2" r="1.45"/><circle cx="601.3" cy="174.8" r="1.45"/><circle cx="596.8" cy="147.6" r="1.45"/><circle cx="581.7" cy="197.4" r="1.45"/><circle cx="612.9" cy="199.1" r="1.45"/><circle cx="601.6" cy="178.7" r="1.45"/><circle cx="590.9" cy="206.5" r="1.45"/><circle cx="590.4" cy="179.3" r="1.45"/><circle cx="611.5" cy="220.4" r="1.45"/><circle cx="607.8" cy="152.3" r="1.45"/><circle cx="583.5" cy="165.5" r="1.45"/><circle cx="580.6" cy="219.6" r="1.45"/><circle cx="600.7" cy="187.4" r="1.45"/><circle cx="612.9" cy="179.5" r="1.45"/><circle cx="588.8" cy="218.5" r="1.45"/><circle cx="619.5" cy="210.9" r="1.45"/><circle cx="580.7" cy="197.5" r="1.45"/><circle cx="619.5" cy="218.6" r="1.45"/><circle cx="583.7" cy="199.9" r="1.45"/><circle cx="605.9" cy="132.5" r="1.45"/><circle cx="591.1" cy="225.8" r="1.45"/><circle cx="583.0" cy="144.8" r="1.45"/><circle cx="619.4" cy="182.2" r="1.45"/><circle cx="605.5" cy="141.9" r="1.45"/><circle cx="590.1" cy="206.3" r="1.45"/><circle cx="582.4" cy="215.1" r="1.45"/><circle cx="604.2" cy="190.2" r="1.45"/><circle cx="593.3" cy="198.8" r="1.45"/><circle cx="617.4" cy="186.8" r="1.45"/><circle cx="589.1" cy="169.1" r="1.45"/><circle cx="606.1" cy="177.7" r="1.45"/><circle cx="600.0" cy="161.3" r="1.45"/><circle cx="583.4" cy="172.9" r="1.45"/><circle cx="586.0" cy="136.7" r="1.45"/><circle cx="598.6" cy="196.4" r="1.45"/><circle cx="601.8" cy="161.7" r="1.45"/><circle cx="598.2" cy="205.5" r="1.45"/><circle cx="580.5" cy="238.4" r="1.45"/><circle cx="592.0" cy="195.6" r="1.45"/><circle cx="584.7" cy="202.2" r="1.45"/><circle cx="584.1" cy="227.5" r="1.45"/><circle cx="591.0" cy="221.1" r="1.45"/><circle cx="583.3" cy="171.7" r="1.45"/><circle cx="607.3" cy="224.5" r="1.45"/><circle cx="585.2" cy="190.6" r="1.45"/><circle cx="606.1" cy="220.0" r="1.45"/><circle cx="585.6" cy="203.6" r="1.45"/><circle cx="595.5" cy="184.8" r="1.45"/><circle cx="601.7" cy="178.7" r="1.45"/><circle cx="601.7" cy="178.2" r="1.45"/><circle cx="582.4" cy="228.8" r="1.45"/><circle cx="592.5" cy="168.0" r="1.45"/><circle cx="617.0" cy="137.3" r="1.45"/><circle cx="610.6" cy="216.6" r="1.45"/><circle cx="602.6" cy="232.7" r="1.45"/><circle cx="583.7" cy="207.5" r="1.45"/><circle cx="615.1" cy="198.4" r="1.45"/><circle cx="592.2" cy="185.7" r="1.45"/><circle cx="583.0" cy="221.0" r="1.45"/><circle cx="608.1" cy="178.9" r="1.45"/><circle cx="615.4" cy="184.3" r="1.45"/><circle cx="592.0" cy="232.7" r="1.45"/><circle cx="607.6" cy="167.5" r="1.45"/><circle cx="594.2" cy="156.6" r="1.45"/><circle cx="613.3" cy="205.8" r="1.45"/><circle cx="597.9" cy="184.9" r="1.45"/><circle cx="592.1" cy="188.8" r="1.45"/><circle cx="600.1" cy="217.2" r="1.45"/><circle cx="593.5" cy="199.5" r="1.45"/><circle cx="607.6" cy="238.0" r="1.45"/><circle cx="610.3" cy="231.5" r="1.45"/><circle cx="601.8" cy="164.1" r="1.45"/><circle cx="615.5" cy="210.4" r="1.45"/><circle cx="612.0" cy="181.1" r="1.45"/><circle cx="586.9" cy="201.6" r="1.45"/><circle cx="618.8" cy="187.4" r="1.45"/><circle cx="600.8" cy="139.8" r="1.45"/><circle cx="601.8" cy="186.0" r="1.45"/><circle cx="601.9" cy="220.2" r="1.45"/><circle cx="582.5" cy="204.2" r="1.45"/><circle cx="584.6" cy="187.0" r="1.45"/><circle cx="606.7" cy="203.6" r="1.45"/><circle cx="607.5" cy="223.1" r="1.45"/><circle cx="617.4" cy="227.6" r="1.45"/><circle cx="588.6" cy="194.4" r="1.45"/><circle cx="611.1" cy="196.8" r="1.45"/><circle cx="610.8" cy="178.1" r="1.45"/><circle cx="585.3" cy="168.4" r="1.45"/><circle cx="609.8" cy="238.7" r="1.45"/><circle cx="595.3" cy="207.0" r="1.45"/><circle cx="618.7" cy="216.3" r="1.45"/><circle cx="611.3" cy="195.3" r="1.45"/><circle cx="609.2" cy="206.8" r="1.45"/><circle cx="599.0" cy="215.7" r="1.45"/><circle cx="615.4" cy="190.5" r="1.45"/><circle cx="607.2" cy="218.5" r="1.45"/><circle cx="612.2" cy="224.4" r="1.45"/><circle cx="600.8" cy="187.5" r="1.45"/><circle cx="616.0" cy="195.0" r="1.45"/><circle cx="608.4" cy="198.8" r="1.45"/><circle cx="585.0" cy="236.2" r="1.45"/><circle cx="592.8" cy="194.7" r="1.45"/><circle cx="594.3" cy="208.1" r="1.45"/><circle cx="620.1" cy="234.3" r="1.45"/><circle cx="583.9" cy="202.5" r="1.45"/><circle cx="582.0" cy="204.1" r="1.45"/><circle cx="589.6" cy="216.2" r="1.45"/><circle cx="597.4" cy="207.1" r="1.45"/><circle cx="613.6" cy="132.8" r="1.45"/><circle cx="602.0" cy="167.5" r="1.45"/><circle cx="603.8" cy="216.4" r="1.45"/><circle cx="593.2" cy="190.2" r="1.45"/><circle cx="609.0" cy="107.3" r="1.45"/><circle cx="613.1" cy="207.3" r="1.45"/><circle cx="593.1" cy="185.6" r="1.45"/><circle cx="584.0" cy="191.9" r="1.45"/><circle cx="613.4" cy="244.9" r="1.45"/><circle cx="618.6" cy="155.6" r="1.45"/><circle cx="579.8" cy="194.8" r="1.45"/><circle cx="590.2" cy="178.4" r="1.45"/><circle cx="591.3" cy="163.5" r="1.45"/><circle cx="606.8" cy="186.5" r="1.45"/><circle cx="591.2" cy="224.9" r="1.45"/><circle cx="609.3" cy="210.0" r="1.45"/><circle cx="598.4" cy="211.9" r="1.45"/><circle cx="598.1" cy="228.7" r="1.45"/><circle cx="598.1" cy="199.7" r="1.45"/><circle cx="604.4" cy="190.7" r="1.45"/><circle cx="615.3" cy="176.0" r="1.45"/><circle cx="614.2" cy="137.3" r="1.45"/><circle cx="586.1" cy="185.3" r="1.45"/><circle cx="590.1" cy="221.4" r="1.45"/><circle cx="583.4" cy="203.6" r="1.45"/><circle cx="579.1" cy="248.4" r="1.45"/><circle cx="603.6" cy="211.2" r="1.45"/><circle cx="583.5" cy="177.1" r="1.45"/><circle cx="616.5" cy="184.2" r="1.45"/><circle cx="592.5" cy="215.4" r="1.45"/><circle cx="618.9" cy="203.3" r="1.45"/><circle cx="603.3" cy="181.9" r="1.45"/><circle cx="601.3" cy="193.7" r="1.45"/><circle cx="609.2" cy="205.9" r="1.45"/><circle cx="583.1" cy="114.0" r="1.45"/><circle cx="594.3" cy="203.9" r="1.45"/><circle cx="618.5" cy="160.4" r="1.45"/><circle cx="589.3" cy="198.3" r="1.45"/><circle cx="589.7" cy="111.6" r="1.45"/><circle cx="602.1" cy="187.6" r="1.45"/><circle cx="617.6" cy="217.1" r="1.45"/><circle cx="618.1" cy="168.4" r="1.45"/><circle cx="612.9" cy="182.8" r="1.45"/><circle cx="579.6" cy="210.7" r="1.45"/><circle cx="589.4" cy="238.2" r="1.45"/><circle cx="594.0" cy="161.5" r="1.45"/><circle cx="608.2" cy="213.0" r="1.45"/><circle cx="605.9" cy="206.8" r="1.45"/><circle cx="581.8" cy="135.9" r="1.45"/><circle cx="607.7" cy="159.4" r="1.45"/><circle cx="582.0" cy="205.9" r="1.45"/><circle cx="620.2" cy="185.7" r="1.45"/><circle cx="611.8" cy="188.9" r="1.45"/><circle cx="619.0" cy="221.3" r="1.45"/><circle cx="590.2" cy="165.1" r="1.45"/><circle cx="600.3" cy="211.0" r="1.45"/><circle cx="606.6" cy="146.3" r="1.45"/><circle cx="613.8" cy="202.7" r="1.45"/><circle cx="614.0" cy="221.7" r="1.45"/><circle cx="587.1" cy="178.6" r="1.45"/><circle cx="601.1" cy="194.4" r="1.45"/><circle cx="602.7" cy="202.3" r="1.45"/><circle cx="597.0" cy="155.5" r="1.45"/><circle cx="586.5" cy="138.6" r="1.45"/><circle cx="596.6" cy="222.8" r="1.45"/><circle cx="578.9" cy="178.2" r="1.45"/><circle cx="584.3" cy="157.3" r="1.45"/><circle cx="589.4" cy="173.1" r="1.45"/><circle cx="615.4" cy="178.2" r="1.45"/><circle cx="586.0" cy="235.0" r="1.45"/><circle cx="603.7" cy="143.6" r="1.45"/><circle cx="593.9" cy="196.6" r="1.45"/><circle cx="588.6" cy="166.8" r="1.45"/><circle cx="603.2" cy="194.8" r="1.45"/><circle cx="581.9" cy="178.9" r="1.45"/><circle cx="607.6" cy="200.1" r="1.45"/><circle cx="597.0" cy="182.8" r="1.45"/><circle cx="619.7" cy="186.0" r="1.45"/><circle cx="598.5" cy="207.5" r="1.45"/><circle cx="585.5" cy="175.9" r="1.45"/><circle cx="592.2" cy="225.2" r="1.45"/><circle cx="611.8" cy="172.2" r="1.45"/><circle cx="604.8" cy="193.2" r="1.45"/><circle cx="597.6" cy="186.6" r="1.45"/><circle cx="609.8" cy="187.0" r="1.45"/><circle cx="606.6" cy="203.8" r="1.45"/><circle cx="604.2" cy="206.7" r="1.45"/><circle cx="610.3" cy="187.8" r="1.45"/><circle cx="607.3" cy="222.4" r="1.45"/><circle cx="604.1" cy="193.0" r="1.45"/><circle cx="598.0" cy="211.4" r="1.45"/><circle cx="601.6" cy="190.1" r="1.45"/><circle cx="601.9" cy="101.6" r="1.45"/><circle cx="592.4" cy="236.5" r="1.45"/><circle cx="609.4" cy="191.7" r="1.45"/><circle cx="589.1" cy="154.7" r="1.45"/><circle cx="595.0" cy="227.3" r="1.45"/><circle cx="617.8" cy="255.1" r="1.45"/><circle cx="614.8" cy="226.5" r="1.45"/><circle cx="587.2" cy="182.5" r="1.45"/><circle cx="581.5" cy="231.3" r="1.45"/><circle cx="591.5" cy="112.1" r="1.45"/><circle cx="605.0" cy="231.4" r="1.45"/><circle cx="617.4" cy="191.6" r="1.45"/><circle cx="581.8" cy="198.7" r="1.45"/><circle cx="580.3" cy="199.3" r="1.45"/><circle cx="600.6" cy="203.3" r="1.45"/><circle cx="605.1" cy="195.5" r="1.45"/><circle cx="596.0" cy="181.9" r="1.45"/><circle cx="618.6" cy="135.0" r="1.45"/><circle cx="601.3" cy="217.7" r="1.45"/><circle cx="589.7" cy="165.8" r="1.45"/><circle cx="589.2" cy="197.6" r="1.45"/><circle cx="592.1" cy="200.3" r="1.45"/><circle cx="580.3" cy="173.0" r="1.45"/><circle cx="591.2" cy="216.2" r="1.45"/><circle cx="583.3" cy="227.6" r="1.45"/><circle cx="611.1" cy="223.2" r="1.45"/><circle cx="596.3" cy="219.1" r="1.45"/><circle cx="597.0" cy="176.0" r="1.45"/><circle cx="616.9" cy="118.8" r="1.45"/><circle cx="609.3" cy="201.4" r="1.45"/><circle cx="580.3" cy="202.3" r="1.45"/><circle cx="613.3" cy="210.5" r="1.45"/><circle cx="591.8" cy="213.3" r="1.45"/><circle cx="589.9" cy="224.9" r="1.45"/><circle cx="579.6" cy="165.8" r="1.45"/><circle cx="592.9" cy="211.8" r="1.45"/><circle cx="619.4" cy="203.4" r="1.45"/><circle cx="616.3" cy="189.9" r="1.45"/><circle cx="596.1" cy="197.1" r="1.45"/><circle cx="583.4" cy="200.2" r="1.45"/><circle cx="611.6" cy="204.8" r="1.45"/><circle cx="611.7" cy="234.0" r="1.45"/><circle cx="582.7" cy="195.0" r="1.45"/><circle cx="613.8" cy="195.1" r="1.45"/><circle cx="588.5" cy="182.1" r="1.45"/><circle cx="614.4" cy="221.4" r="1.45"/><circle cx="578.9" cy="180.0" r="1.45"/><circle cx="619.6" cy="181.1" r="1.45"/><circle cx="612.1" cy="228.9" r="1.45"/><circle cx="602.9" cy="172.8" r="1.45"/><circle cx="617.3" cy="141.8" r="1.45"/><circle cx="618.8" cy="201.6" r="1.45"/><circle cx="588.2" cy="152.5" r="1.45"/><circle cx="592.3" cy="174.5" r="1.45"/><circle cx="581.3" cy="231.3" r="1.45"/><circle cx="596.8" cy="105.4" r="1.45"/><circle cx="599.4" cy="111.1" r="1.45"/><circle cx="607.9" cy="106.3" r="1.45"/><circle cx="592.8" cy="232.4" r="1.45"/><circle cx="596.0" cy="203.4" r="1.45"/><circle cx="615.6" cy="199.4" r="1.45"/><circle cx="591.6" cy="230.2" r="1.45"/><circle cx="602.6" cy="170.4" r="1.45"/><circle cx="595.7" cy="226.4" r="1.45"/><circle cx="582.8" cy="206.9" r="1.45"/><circle cx="591.7" cy="202.1" r="1.45"/><circle cx="608.5" cy="192.1" r="1.45"/><circle cx="609.2" cy="192.2" r="1.45"/><circle cx="608.8" cy="210.1" r="1.45"/><circle cx="613.1" cy="208.8" r="1.45"/><circle cx="602.2" cy="210.5" r="1.45"/><circle cx="595.2" cy="209.7" r="1.45"/><circle cx="614.7" cy="199.7" r="1.45"/><circle cx="605.0" cy="182.5" r="1.45"/><circle cx="589.8" cy="182.6" r="1.45"/><circle cx="599.9" cy="204.2" r="1.45"/><circle cx="601.2" cy="175.5" r="1.45"/><circle cx="598.8" cy="189.8" r="1.45"/><circle cx="605.3" cy="165.0" r="1.45"/><circle cx="603.1" cy="214.4" r="1.45"/><circle cx="578.8" cy="192.5" r="1.45"/><circle cx="619.5" cy="218.9" r="1.45"/><circle cx="583.4" cy="194.5" r="1.45"/><circle cx="588.0" cy="210.0" r="1.45"/><circle cx="579.6" cy="205.1" r="1.45"/><circle cx="599.3" cy="208.7" r="1.45"/><circle cx="594.7" cy="176.0" r="1.45"/><circle cx="587.3" cy="197.3" r="1.45"/><circle cx="588.9" cy="176.0" r="1.45"/><circle cx="592.3" cy="197.7" r="1.45"/><circle cx="592.2" cy="216.5" r="1.45"/><circle cx="579.6" cy="184.9" r="1.45"/><circle cx="599.3" cy="173.5" r="1.45"/><circle cx="578.9" cy="227.5" r="1.45"/><circle cx="597.8" cy="192.1" r="1.45"/><circle cx="587.3" cy="123.5" r="1.45"/><circle cx="583.9" cy="172.1" r="1.45"/><circle cx="599.6" cy="235.7" r="1.45"/><circle cx="592.1" cy="209.1" r="1.45"/><circle cx="604.5" cy="202.7" r="1.45"/><circle cx="604.5" cy="213.2" r="1.45"/><circle cx="594.5" cy="224.9" r="1.45"/><circle cx="613.6" cy="193.8" r="1.45"/><circle cx="614.7" cy="196.1" r="1.45"/><circle cx="610.7" cy="189.3" r="1.45"/><circle cx="585.9" cy="203.6" r="1.45"/><circle cx="614.5" cy="207.2" r="1.45"/><circle cx="612.8" cy="182.9" r="1.45"/><circle cx="617.6" cy="184.8" r="1.45"/><circle cx="589.6" cy="217.3" r="1.45"/><circle cx="588.5" cy="226.4" r="1.45"/><circle cx="594.6" cy="213.6" r="1.45"/><circle cx="586.4" cy="152.8" r="1.45"/><circle cx="584.4" cy="166.9" r="1.45"/><circle cx="605.2" cy="204.2" r="1.45"/><circle cx="600.6" cy="154.1" r="1.45"/><circle cx="587.5" cy="168.2" r="1.45"/><circle cx="601.0" cy="226.3" r="1.45"/><circle cx="584.9" cy="188.4" r="1.45"/><circle cx="582.0" cy="179.9" r="1.45"/><circle cx="606.0" cy="224.5" r="1.45"/><circle cx="582.4" cy="143.2" r="1.45"/><circle cx="600.8" cy="191.2" r="1.45"/><circle cx="579.9" cy="157.6" r="1.45"/><circle cx="603.7" cy="166.1" r="1.45"/><circle cx="582.1" cy="177.7" r="1.45"/><circle cx="603.3" cy="195.3" r="1.45"/><circle cx="600.8" cy="214.9" r="1.45"/><circle cx="595.2" cy="225.7" r="1.45"/><circle cx="596.4" cy="127.9" r="1.45"/><circle cx="619.8" cy="234.8" r="1.45"/><circle cx="610.7" cy="209.4" r="1.45"/><circle cx="605.3" cy="229.9" r="1.45"/><circle cx="618.6" cy="207.3" r="1.45"/><circle cx="587.8" cy="144.2" r="1.45"/><circle cx="602.4" cy="205.6" r="1.45"/><circle cx="611.2" cy="213.7" r="1.45"/><circle cx="588.0" cy="190.9" r="1.45"/><circle cx="596.5" cy="205.1" r="1.45"/><circle cx="608.1" cy="222.6" r="1.45"/><circle cx="620.3" cy="209.4" r="1.45"/><circle cx="612.0" cy="249.6" r="1.45"/><circle cx="599.4" cy="201.3" r="1.45"/><circle cx="617.8" cy="151.3" r="1.45"/><circle cx="579.9" cy="218.1" r="1.45"/><circle cx="598.3" cy="189.9" r="1.45"/><circle cx="583.2" cy="217.1" r="1.45"/><circle cx="598.9" cy="202.4" r="1.45"/><circle cx="597.2" cy="182.8" r="1.45"/><circle cx="593.2" cy="191.1" r="1.45"/><circle cx="594.9" cy="224.5" r="1.45"/><circle cx="584.3" cy="198.1" r="1.45"/><circle cx="619.1" cy="159.1" r="1.45"/><circle cx="590.5" cy="194.2" r="1.45"/><circle cx="609.6" cy="210.4" r="1.45"/><circle cx="599.3" cy="178.2" r="1.45"/><circle cx="584.3" cy="197.3" r="1.45"/><circle cx="587.4" cy="200.5" r="1.45"/><circle cx="594.8" cy="213.9" r="1.45"/><circle cx="618.9" cy="177.1" r="1.45"/><circle cx="618.8" cy="224.3" r="1.45"/><circle cx="605.4" cy="184.7" r="1.45"/><circle cx="592.7" cy="230.1" r="1.45"/><circle cx="580.3" cy="221.2" r="1.45"/><circle cx="603.0" cy="162.0" r="1.45"/><circle cx="581.6" cy="206.0" r="1.45"/><circle cx="605.5" cy="198.8" r="1.45"/><circle cx="590.6" cy="219.6" r="1.45"/><circle cx="590.2" cy="174.1" r="1.45"/><circle cx="615.9" cy="209.3" r="1.45"/><circle cx="599.0" cy="194.5" r="1.45"/><circle cx="619.5" cy="175.7" r="1.45"/><circle cx="611.8" cy="184.0" r="1.45"/><circle cx="581.9" cy="185.6" r="1.45"/><circle cx="608.4" cy="229.3" r="1.45"/><circle cx="611.7" cy="172.1" r="1.45"/><circle cx="593.6" cy="148.4" r="1.45"/><circle cx="612.6" cy="154.0" r="1.45"/><circle cx="598.6" cy="238.1" r="1.45"/><circle cx="589.5" cy="188.0" r="1.45"/><circle cx="580.9" cy="178.8" r="1.45"/><circle cx="585.6" cy="170.3" r="1.45"/><circle cx="614.6" cy="171.3" r="1.45"/><circle cx="585.1" cy="218.8" r="1.45"/><circle cx="583.3" cy="222.4" r="1.45"/><circle cx="589.7" cy="194.4" r="1.45"/><circle cx="599.9" cy="153.8" r="1.45"/><circle cx="604.1" cy="215.4" r="1.45"/><circle cx="603.5" cy="147.0" r="1.45"/><circle cx="580.9" cy="235.6" r="1.45"/><circle cx="588.8" cy="186.8" r="1.45"/><circle cx="584.5" cy="208.4" r="1.45"/><circle cx="597.9" cy="226.1" r="1.45"/><circle cx="598.3" cy="200.6" r="1.45"/><circle cx="601.1" cy="168.4" r="1.45"/><circle cx="591.6" cy="160.6" r="1.45"/><circle cx="617.1" cy="162.2" r="1.45"/><circle cx="619.7" cy="237.7" r="1.45"/><circle cx="597.5" cy="172.0" r="1.45"/><circle cx="589.4" cy="186.8" r="1.45"/><circle cx="584.6" cy="200.2" r="1.45"/><circle cx="599.8" cy="239.4" r="1.45"/><circle cx="597.5" cy="127.4" r="1.45"/><circle cx="583.1" cy="208.2" r="1.45"/><circle cx="611.4" cy="223.3" r="1.45"/><circle cx="586.5" cy="189.3" r="1.45"/><circle cx="579.3" cy="210.6" r="1.45"/><circle cx="604.2" cy="87.4" r="1.45"/><circle cx="596.4" cy="155.2" r="1.45"/><circle cx="617.2" cy="170.8" r="1.45"/><circle cx="588.2" cy="188.9" r="1.45"/><circle cx="580.8" cy="128.8" r="1.45"/><circle cx="594.9" cy="188.9" r="1.45"/><circle cx="619.1" cy="192.7" r="1.45"/><circle cx="580.2" cy="219.7" r="1.45"/><circle cx="600.2" cy="159.7" r="1.45"/><circle cx="602.9" cy="208.6" r="1.45"/><circle cx="597.3" cy="200.8" r="1.45"/><circle cx="607.5" cy="217.9" r="1.45"/><circle cx="583.8" cy="144.0" r="1.45"/><circle cx="589.7" cy="191.2" r="1.45"/><circle cx="605.2" cy="192.7" r="1.45"/><circle cx="614.7" cy="101.6" r="1.45"/><circle cx="584.0" cy="210.3" r="1.45"/><circle cx="598.4" cy="186.1" r="1.45"/><circle cx="620.1" cy="231.5" r="1.45"/><circle cx="587.8" cy="207.9" r="1.45"/><circle cx="584.2" cy="205.2" r="1.45"/><circle cx="614.4" cy="221.7" r="1.45"/><circle cx="579.2" cy="218.2" r="1.45"/><circle cx="589.7" cy="96.4" r="1.45"/><circle cx="589.8" cy="193.7" r="1.45"/><circle cx="611.7" cy="189.4" r="1.45"/><circle cx="616.0" cy="206.8" r="1.45"/><circle cx="579.0" cy="225.2" r="1.45"/><circle cx="604.0" cy="210.4" r="1.45"/><circle cx="600.3" cy="225.7" r="1.45"/><circle cx="583.5" cy="222.6" r="1.45"/><circle cx="582.1" cy="191.5" r="1.45"/><circle cx="583.2" cy="153.1" r="1.45"/><circle cx="601.5" cy="198.3" r="1.45"/><circle cx="593.6" cy="139.1" r="1.45"/><circle cx="588.7" cy="158.6" r="1.45"/><circle cx="602.3" cy="205.3" r="1.45"/><circle cx="596.8" cy="181.7" r="1.45"/><circle cx="602.8" cy="215.4" r="1.45"/><circle cx="586.3" cy="153.5" r="1.45"/><circle cx="603.0" cy="200.9" r="1.45"/><circle cx="608.4" cy="209.7" r="1.45"/><circle cx="579.6" cy="167.9" r="1.45"/><circle cx="603.7" cy="217.7" r="1.45"/><circle cx="612.9" cy="199.1" r="1.45"/><circle cx="590.8" cy="227.2" r="1.45"/><circle cx="589.4" cy="190.4" r="1.45"/><circle cx="588.1" cy="224.6" r="1.45"/><circle cx="610.6" cy="200.0" r="1.45"/><circle cx="589.3" cy="219.0" r="1.45"/><circle cx="613.5" cy="198.0" r="1.45"/><circle cx="589.1" cy="133.0" r="1.45"/><circle cx="581.8" cy="226.9" r="1.45"/><circle cx="614.3" cy="201.8" r="1.45"/><circle cx="607.0" cy="202.1" r="1.45"/><circle cx="607.1" cy="211.2" r="1.45"/><circle cx="585.4" cy="171.2" r="1.45"/><circle cx="607.0" cy="223.3" r="1.45"/><circle cx="603.1" cy="157.4" r="1.45"/><circle cx="589.4" cy="182.7" r="1.45"/><circle cx="580.1" cy="186.6" r="1.45"/><circle cx="617.2" cy="216.9" r="1.45"/><circle cx="601.8" cy="220.3" r="1.45"/><circle cx="600.3" cy="169.3" r="1.45"/><circle cx="590.5" cy="211.1" r="1.45"/><circle cx="599.0" cy="241.1" r="1.45"/><circle cx="578.9" cy="183.7" r="1.45"/><circle cx="604.7" cy="207.7" r="1.45"/><circle cx="599.9" cy="183.5" r="1.45"/><circle cx="610.4" cy="240.7" r="1.45"/><circle cx="582.4" cy="188.7" r="1.45"/><circle cx="603.6" cy="149.6" r="1.45"/><circle cx="605.9" cy="190.1" r="1.45"/><circle cx="597.5" cy="204.7" r="1.45"/><circle cx="613.5" cy="198.1" r="1.45"/><circle cx="584.0" cy="204.0" r="1.45"/><circle cx="616.3" cy="202.5" r="1.45"/><circle cx="608.1" cy="211.6" r="1.45"/><circle cx="617.2" cy="202.2" r="1.45"/><circle cx="612.3" cy="170.2" r="1.45"/><circle cx="582.4" cy="221.8" r="1.45"/><circle cx="593.0" cy="233.7" r="1.45"/><circle cx="584.8" cy="186.8" r="1.45"/><circle cx="579.1" cy="167.4" r="1.45"/><circle cx="581.4" cy="223.4" r="1.45"/><circle cx="604.4" cy="241.5" r="1.45"/><circle cx="615.2" cy="217.8" r="1.45"/><circle cx="586.3" cy="167.5" r="1.45"/><circle cx="592.6" cy="175.1" r="1.45"/><circle cx="580.7" cy="179.6" r="1.45"/><circle cx="606.0" cy="172.0" r="1.45"/><circle cx="610.7" cy="226.0" r="1.45"/><circle cx="581.9" cy="232.9" r="1.45"/><circle cx="617.7" cy="173.6" r="1.45"/><circle cx="599.2" cy="218.7" r="1.45"/><circle cx="586.0" cy="155.8" r="1.45"/><circle cx="619.6" cy="176.4" r="1.45"/><circle cx="599.2" cy="238.4" r="1.45"/><circle cx="592.3" cy="210.5" r="1.45"/><circle cx="597.9" cy="216.8" r="1.45"/><circle cx="590.2" cy="226.5" r="1.45"/><circle cx="588.3" cy="227.4" r="1.45"/><circle cx="585.4" cy="176.5" r="1.45"/><circle cx="581.6" cy="228.5" r="1.45"/><circle cx="590.1" cy="194.2" r="1.45"/><circle cx="610.8" cy="176.0" r="1.45"/><circle cx="591.5" cy="201.5" r="1.45"/><circle cx="614.9" cy="169.0" r="1.45"/><circle cx="611.1" cy="181.6" r="1.45"/><circle cx="604.6" cy="151.0" r="1.45"/><circle cx="598.8" cy="185.4" r="1.45"/><circle cx="586.4" cy="212.5" r="1.45"/><circle cx="607.7" cy="221.1" r="1.45"/><circle cx="614.1" cy="181.6" r="1.45"/><circle cx="602.4" cy="180.7" r="1.45"/><circle cx="599.2" cy="230.4" r="1.45"/><circle cx="594.7" cy="200.8" r="1.45"/><circle cx="593.4" cy="203.0" r="1.45"/><circle cx="580.4" cy="199.8" r="1.45"/><circle cx="605.9" cy="121.4" r="1.45"/><circle cx="585.4" cy="199.5" r="1.45"/><circle cx="612.2" cy="184.4" r="1.45"/><circle cx="605.8" cy="213.0" r="1.45"/><circle cx="589.9" cy="225.8" r="1.45"/><circle cx="613.4" cy="220.4" r="1.45"/><circle cx="613.6" cy="231.2" r="1.45"/><circle cx="589.4" cy="208.7" r="1.45"/><circle cx="582.0" cy="216.3" r="1.45"/><circle cx="615.1" cy="184.2" r="1.45"/><circle cx="601.4" cy="209.0" r="1.45"/><circle cx="615.3" cy="221.5" r="1.45"/><circle cx="607.3" cy="173.5" r="1.45"/><circle cx="601.0" cy="187.3" r="1.45"/><circle cx="588.1" cy="215.8" r="1.45"/><circle cx="606.6" cy="197.7" r="1.45"/><circle cx="616.2" cy="225.3" r="1.45"/><circle cx="619.1" cy="130.6" r="1.45"/><circle cx="583.1" cy="203.0" r="1.45"/><circle cx="593.7" cy="162.2" r="1.45"/><circle cx="618.5" cy="166.8" r="1.45"/><circle cx="610.4" cy="183.4" r="1.45"/><circle cx="617.5" cy="210.5" r="1.45"/><circle cx="581.0" cy="181.2" r="1.45"/><circle cx="581.7" cy="165.0" r="1.45"/><circle cx="618.3" cy="231.3" r="1.45"/><circle cx="596.4" cy="212.2" r="1.45"/><circle cx="604.1" cy="216.1" r="1.45"/><circle cx="616.0" cy="236.8" r="1.45"/><circle cx="592.4" cy="206.3" r="1.45"/><circle cx="605.7" cy="141.2" r="1.45"/><circle cx="606.0" cy="195.6" r="1.45"/><circle cx="616.1" cy="188.5" r="1.45"/><circle cx="593.9" cy="193.4" r="1.45"/><circle cx="586.9" cy="245.7" r="1.45"/><circle cx="605.2" cy="185.6" r="1.45"/><circle cx="609.5" cy="162.1" r="1.45"/><circle cx="585.3" cy="184.8" r="1.45"/><circle cx="613.1" cy="193.8" r="1.45"/><circle cx="611.6" cy="245.4" r="1.45"/><circle cx="601.5" cy="150.5" r="1.45"/><circle cx="613.0" cy="210.3" r="1.45"/><circle cx="606.6" cy="184.7" r="1.45"/><circle cx="586.2" cy="226.2" r="1.45"/><circle cx="614.4" cy="209.2" r="1.45"/><circle cx="611.2" cy="176.7" r="1.45"/><circle cx="581.3" cy="216.4" r="1.45"/><circle cx="581.4" cy="73.0" r="1.45"/><circle cx="618.2" cy="202.7" r="1.45"/><circle cx="593.7" cy="188.6" r="1.45"/><circle cx="600.9" cy="229.2" r="1.45"/><circle cx="605.0" cy="159.2" r="1.45"/><circle cx="618.5" cy="220.9" r="1.45"/><circle cx="590.3" cy="187.0" r="1.45"/><circle cx="584.7" cy="222.6" r="1.45"/><circle cx="584.9" cy="202.5" r="1.45"/><circle cx="596.7" cy="233.9" r="1.45"/><circle cx="581.3" cy="199.9" r="1.45"/><circle cx="615.5" cy="184.4" r="1.45"/><circle cx="580.7" cy="203.4" r="1.45"/><circle cx="589.6" cy="206.1" r="1.45"/><circle cx="596.3" cy="208.9" r="1.45"/><circle cx="596.2" cy="197.1" r="1.45"/><circle cx="595.5" cy="221.6" r="1.45"/><circle cx="618.4" cy="216.4" r="1.45"/><circle cx="586.7" cy="200.7" r="1.45"/><circle cx="593.4" cy="173.6" r="1.45"/><circle cx="608.7" cy="170.9" r="1.45"/><circle cx="593.9" cy="152.2" r="1.45"/><circle cx="617.3" cy="188.1" r="1.45"/><circle cx="592.0" cy="206.1" r="1.45"/><circle cx="600.9" cy="168.2" r="1.45"/><circle cx="595.9" cy="205.1" r="1.45"/><circle cx="608.2" cy="152.1" r="1.45"/><circle cx="601.9" cy="205.0" r="1.45"/><circle cx="608.6" cy="166.4" r="1.45"/><circle cx="582.4" cy="212.3" r="1.45"/><circle cx="583.5" cy="217.6" r="1.45"/><circle cx="586.4" cy="187.7" r="1.45"/><circle cx="606.3" cy="184.1" r="1.45"/><circle cx="588.5" cy="223.6" r="1.45"/><circle cx="589.0" cy="136.8" r="1.45"/><circle cx="607.1" cy="192.0" r="1.45"/><circle cx="602.8" cy="184.1" r="1.45"/><circle cx="606.8" cy="198.4" r="1.45"/><circle cx="596.6" cy="137.4" r="1.45"/><circle cx="597.1" cy="222.9" r="1.45"/><circle cx="582.6" cy="218.6" r="1.45"/><circle cx="594.3" cy="230.8" r="1.45"/><circle cx="605.3" cy="137.7" r="1.45"/><circle cx="614.7" cy="151.9" r="1.45"/><circle cx="594.3" cy="171.7" r="1.45"/><circle cx="589.3" cy="216.9" r="1.45"/><circle cx="587.5" cy="173.1" r="1.45"/><circle cx="599.9" cy="166.8" r="1.45"/><circle cx="618.5" cy="165.2" r="1.45"/><circle cx="618.0" cy="130.6" r="1.45"/><circle cx="613.6" cy="209.4" r="1.45"/><circle cx="619.3" cy="183.8" r="1.45"/><circle cx="615.1" cy="196.0" r="1.45"/><circle cx="596.9" cy="221.0" r="1.45"/><circle cx="596.4" cy="218.8" r="1.45"/><circle cx="590.2" cy="176.2" r="1.45"/><circle cx="583.9" cy="168.7" r="1.45"/><circle cx="615.2" cy="172.1" r="1.45"/><circle cx="591.0" cy="219.3" r="1.45"/><circle cx="613.3" cy="214.5" r="1.45"/><circle cx="587.5" cy="207.1" r="1.45"/><circle cx="592.3" cy="215.5" r="1.45"/><circle cx="582.1" cy="220.6" r="1.45"/><circle cx="612.8" cy="224.2" r="1.45"/><circle cx="587.2" cy="195.4" r="1.45"/><circle cx="612.1" cy="189.0" r="1.45"/><circle cx="588.4" cy="175.7" r="1.45"/><circle cx="582.2" cy="202.3" r="1.45"/><circle cx="608.2" cy="202.8" r="1.45"/><circle cx="598.4" cy="209.7" r="1.45"/><circle cx="617.8" cy="197.8" r="1.45"/><circle cx="596.2" cy="220.0" r="1.45"/><circle cx="599.8" cy="175.0" r="1.45"/><circle cx="602.9" cy="130.0" r="1.45"/><circle cx="593.2" cy="182.7" r="1.45"/><circle cx="617.6" cy="201.5" r="1.45"/><circle cx="613.7" cy="180.5" r="1.45"/><circle cx="601.7" cy="219.9" r="1.45"/><circle cx="587.1" cy="170.6" r="1.45"/><circle cx="585.6" cy="146.8" r="1.45"/><circle cx="602.2" cy="189.0" r="1.45"/><circle cx="585.6" cy="192.6" r="1.45"/><circle cx="605.9" cy="197.5" r="1.45"/><circle cx="606.2" cy="241.7" r="1.45"/><circle cx="600.5" cy="237.0" r="1.45"/><circle cx="599.1" cy="105.3" r="1.45"/><circle cx="614.4" cy="192.6" r="1.45"/><circle cx="598.6" cy="137.0" r="1.45"/><circle cx="587.8" cy="184.5" r="1.45"/><circle cx="602.9" cy="206.0" r="1.45"/><circle cx="587.9" cy="192.3" r="1.45"/><circle cx="607.4" cy="202.6" r="1.45"/><circle cx="604.4" cy="211.9" r="1.45"/><circle cx="591.1" cy="211.7" r="1.45"/><circle cx="607.1" cy="242.3" r="1.45"/><circle cx="613.0" cy="232.4" r="1.45"/><circle cx="610.5" cy="159.0" r="1.45"/><circle cx="616.5" cy="212.7" r="1.45"/><circle cx="619.0" cy="209.0" r="1.45"/><circle cx="612.9" cy="173.1" r="1.45"/><circle cx="607.0" cy="204.9" r="1.45"/><circle cx="597.7" cy="169.9" r="1.45"/><circle cx="595.2" cy="229.6" r="1.45"/><circle cx="601.2" cy="186.9" r="1.45"/><circle cx="615.1" cy="227.5" r="1.45"/><circle cx="598.1" cy="193.8" r="1.45"/><circle cx="582.8" cy="197.2" r="1.45"/><circle cx="615.4" cy="191.8" r="1.45"/><circle cx="588.1" cy="206.7" r="1.45"/><circle cx="606.9" cy="164.7" r="1.45"/><circle cx="595.8" cy="160.0" r="1.45"/><circle cx="618.2" cy="221.1" r="1.45"/><circle cx="599.9" cy="214.7" r="1.45"/><circle cx="595.9" cy="221.8" r="1.45"/><circle cx="607.4" cy="204.8" r="1.45"/><circle cx="617.3" cy="162.7" r="1.45"/><circle cx="610.4" cy="169.0" r="1.45"/><circle cx="582.9" cy="218.3" r="1.45"/><circle cx="582.6" cy="204.2" r="1.45"/><circle cx="614.7" cy="237.0" r="1.45"/><circle cx="586.4" cy="210.0" r="1.45"/><circle cx="598.7" cy="198.3" r="1.45"/><circle cx="614.4" cy="234.3" r="1.45"/><circle cx="600.1" cy="188.7" r="1.45"/><circle cx="609.0" cy="174.1" r="1.45"/><circle cx="614.8" cy="216.4" r="1.45"/><circle cx="595.1" cy="190.9" r="1.45"/><circle cx="598.8" cy="212.6" r="1.45"/><circle cx="608.1" cy="188.8" r="1.45"/><circle cx="599.3" cy="219.3" r="1.45"/><circle cx="579.3" cy="164.4" r="1.45"/><circle cx="601.4" cy="175.2" r="1.45"/><circle cx="618.6" cy="202.8" r="1.45"/><circle cx="587.3" cy="195.5" r="1.45"/><circle cx="585.1" cy="188.7" r="1.45"/><circle cx="580.5" cy="177.8" r="1.45"/><circle cx="590.1" cy="219.7" r="1.45"/><circle cx="591.5" cy="212.5" r="1.45"/><circle cx="616.3" cy="199.1" r="1.45"/><circle cx="603.6" cy="213.9" r="1.45"/><circle cx="583.5" cy="191.5" r="1.45"/><circle cx="582.5" cy="228.1" r="1.45"/><circle cx="601.6" cy="202.5" r="1.45"/><circle cx="604.4" cy="212.2" r="1.45"/><circle cx="616.5" cy="149.1" r="1.45"/><circle cx="586.5" cy="209.9" r="1.45"/><circle cx="608.0" cy="207.6" r="1.45"/><circle cx="596.1" cy="194.6" r="1.45"/><circle cx="590.5" cy="206.2" r="1.45"/><circle cx="602.0" cy="236.9" r="1.45"/><circle cx="609.7" cy="186.9" r="1.45"/><circle cx="604.5" cy="196.1" r="1.45"/><circle cx="594.4" cy="216.4" r="1.45"/><circle cx="606.5" cy="224.2" r="1.45"/><circle cx="585.8" cy="192.8" r="1.45"/><circle cx="591.8" cy="189.7" r="1.45"/><circle cx="614.0" cy="210.0" r="1.45"/><circle cx="618.3" cy="170.3" r="1.45"/><circle cx="580.4" cy="200.3" r="1.45"/><circle cx="580.3" cy="180.1" r="1.45"/><circle cx="610.4" cy="202.6" r="1.45"/><circle cx="579.1" cy="172.5" r="1.45"/><circle cx="583.9" cy="153.7" r="1.45"/><circle cx="598.4" cy="204.5" r="1.45"/><circle cx="593.2" cy="189.3" r="1.45"/><circle cx="618.9" cy="200.1" r="1.45"/><circle cx="613.8" cy="223.3" r="1.45"/><circle cx="615.9" cy="166.6" r="1.45"/><circle cx="602.2" cy="131.3" r="1.45"/><circle cx="592.1" cy="212.1" r="1.45"/><circle cx="587.9" cy="200.6" r="1.45"/><circle cx="592.3" cy="185.6" r="1.45"/><circle cx="610.7" cy="158.0" r="1.45"/><circle cx="582.4" cy="232.2" r="1.45"/><circle cx="614.0" cy="216.9" r="1.45"/><circle cx="588.7" cy="227.8" r="1.45"/><circle cx="607.7" cy="199.8" r="1.45"/><circle cx="603.0" cy="226.3" r="1.45"/><circle cx="584.6" cy="172.3" r="1.45"/><circle cx="579.5" cy="210.4" r="1.45"/><circle cx="605.0" cy="147.2" r="1.45"/><circle cx="592.5" cy="229.6" r="1.45"/><circle cx="598.6" cy="208.7" r="1.45"/><circle cx="581.8" cy="231.6" r="1.45"/><circle cx="600.0" cy="191.7" r="1.45"/><circle cx="589.6" cy="200.1" r="1.45"/><circle cx="587.4" cy="156.9" r="1.45"/><circle cx="593.9" cy="191.6" r="1.45"/><circle cx="615.3" cy="124.9" r="1.45"/><circle cx="601.8" cy="199.9" r="1.45"/><circle cx="579.2" cy="216.0" r="1.45"/><circle cx="583.5" cy="158.5" r="1.45"/><circle cx="600.3" cy="211.6" r="1.45"/><circle cx="590.8" cy="229.1" r="1.45"/><circle cx="616.6" cy="196.9" r="1.45"/><circle cx="612.8" cy="204.9" r="1.45"/><circle cx="615.5" cy="204.7" r="1.45"/><circle cx="614.5" cy="210.5" r="1.45"/><circle cx="615.4" cy="151.1" r="1.45"/><circle cx="589.1" cy="141.7" r="1.45"/><circle cx="612.1" cy="174.7" r="1.45"/><circle cx="616.2" cy="208.5" r="1.45"/><circle cx="612.1" cy="220.9" r="1.45"/><circle cx="602.6" cy="104.6" r="1.45"/><circle cx="609.3" cy="200.3" r="1.45"/><circle cx="599.5" cy="209.6" r="1.45"/><circle cx="599.9" cy="218.1" r="1.45"/><circle cx="613.9" cy="193.7" r="1.45"/><circle cx="613.9" cy="176.5" r="1.45"/><circle cx="600.0" cy="209.8" r="1.45"/><circle cx="602.6" cy="228.3" r="1.45"/><circle cx="597.2" cy="199.6" r="1.45"/><circle cx="619.0" cy="200.7" r="1.45"/><circle cx="582.0" cy="189.8" r="1.45"/><circle cx="589.4" cy="165.9" r="1.45"/><circle cx="612.0" cy="195.0" r="1.45"/><circle cx="611.9" cy="203.7" r="1.45"/><circle cx="617.5" cy="183.7" r="1.45"/><circle cx="594.2" cy="211.4" r="1.45"/><circle cx="601.4" cy="241.7" r="1.45"/><circle cx="607.1" cy="176.7" r="1.45"/><circle cx="589.8" cy="196.1" r="1.45"/><circle cx="583.2" cy="196.4" r="1.45"/><circle cx="618.5" cy="189.0" r="1.45"/><circle cx="607.0" cy="213.8" r="1.45"/><circle cx="592.0" cy="182.5" r="1.45"/><circle cx="600.7" cy="151.7" r="1.45"/><circle cx="611.5" cy="143.4" r="1.45"/><circle cx="602.9" cy="173.0" r="1.45"/><circle cx="584.1" cy="206.1" r="1.45"/><circle cx="592.3" cy="217.3" r="1.45"/><circle cx="584.4" cy="200.1" r="1.45"/><circle cx="588.8" cy="225.5" r="1.45"/><circle cx="580.7" cy="202.2" r="1.45"/><circle cx="597.5" cy="197.4" r="1.45"/><circle cx="584.1" cy="154.5" r="1.45"/><circle cx="609.9" cy="148.1" r="1.45"/><circle cx="601.3" cy="191.7" r="1.45"/><circle cx="620.0" cy="217.0" r="1.45"/><circle cx="619.3" cy="214.9" r="1.45"/><circle cx="589.6" cy="213.5" r="1.45"/><circle cx="596.3" cy="174.3" r="1.45"/><circle cx="591.9" cy="203.9" r="1.45"/><circle cx="607.4" cy="223.9" r="1.45"/><circle cx="586.4" cy="232.3" r="1.45"/><circle cx="599.8" cy="146.7" r="1.45"/><circle cx="614.1" cy="200.5" r="1.45"/><circle cx="611.4" cy="166.8" r="1.45"/><circle cx="611.0" cy="173.8" r="1.45"/><circle cx="598.7" cy="202.2" r="1.45"/><circle cx="590.0" cy="205.8" r="1.45"/><circle cx="597.7" cy="215.9" r="1.45"/><circle cx="601.1" cy="212.8" r="1.45"/><circle cx="590.5" cy="233.8" r="1.45"/><circle cx="590.2" cy="222.3" r="1.45"/><circle cx="614.0" cy="192.9" r="1.45"/><circle cx="617.0" cy="185.9" r="1.45"/><circle cx="616.3" cy="179.4" r="1.45"/><circle cx="614.7" cy="179.2" r="1.45"/><circle cx="591.4" cy="72.3" r="1.45"/><circle cx="581.6" cy="208.2" r="1.45"/><circle cx="579.4" cy="198.0" r="1.45"/><circle cx="589.3" cy="162.4" r="1.45"/><circle cx="585.2" cy="229.1" r="1.45"/><circle cx="583.9" cy="191.3" r="1.45"/><circle cx="583.9" cy="203.3" r="1.45"/><circle cx="583.1" cy="187.8" r="1.45"/><circle cx="580.6" cy="180.4" r="1.45"/><circle cx="612.2" cy="236.4" r="1.45"/><circle cx="591.2" cy="175.1" r="1.45"/><circle cx="612.8" cy="224.1" r="1.45"/><circle cx="618.4" cy="190.9" r="1.45"/><circle cx="588.0" cy="194.1" r="1.45"/><circle cx="580.7" cy="152.7" r="1.45"/><circle cx="582.7" cy="217.3" r="1.45"/><circle cx="606.4" cy="206.3" r="1.45"/><circle cx="606.7" cy="208.7" r="1.45"/><circle cx="587.6" cy="194.6" r="1.45"/><circle cx="615.0" cy="164.2" r="1.45"/><circle cx="604.6" cy="221.1" r="1.45"/><circle cx="581.3" cy="222.5" r="1.45"/><circle cx="600.2" cy="157.7" r="1.45"/><circle cx="603.3" cy="222.9" r="1.45"/><circle cx="600.9" cy="232.1" r="1.45"/><circle cx="590.3" cy="195.9" r="1.45"/><circle cx="579.0" cy="214.0" r="1.45"/><circle cx="600.4" cy="199.8" r="1.45"/><circle cx="587.5" cy="165.4" r="1.45"/><circle cx="599.9" cy="223.2" r="1.45"/><circle cx="597.9" cy="222.9" r="1.45"/><circle cx="599.9" cy="213.4" r="1.45"/><circle cx="600.2" cy="215.9" r="1.45"/><circle cx="611.3" cy="235.7" r="1.45"/><circle cx="589.6" cy="203.3" r="1.45"/><circle cx="591.8" cy="209.0" r="1.45"/><circle cx="591.0" cy="214.4" r="1.45"/><circle cx="620.2" cy="171.2" r="1.45"/><circle cx="607.8" cy="200.5" r="1.45"/><circle cx="617.2" cy="219.4" r="1.45"/><circle cx="618.6" cy="176.5" r="1.45"/><circle cx="594.4" cy="162.2" r="1.45"/><circle cx="592.1" cy="158.3" r="1.45"/><circle cx="584.8" cy="225.0" r="1.45"/><circle cx="593.3" cy="188.4" r="1.45"/><circle cx="598.0" cy="219.7" r="1.45"/><circle cx="616.8" cy="205.1" r="1.45"/><circle cx="610.6" cy="238.5" r="1.45"/><circle cx="579.1" cy="186.4" r="1.45"/><circle cx="587.1" cy="173.3" r="1.45"/><circle cx="598.6" cy="206.2" r="1.45"/><circle cx="584.3" cy="183.6" r="1.45"/><circle cx="589.0" cy="211.9" r="1.45"/><circle cx="607.3" cy="217.2" r="1.45"/><circle cx="613.6" cy="200.6" r="1.45"/><circle cx="610.1" cy="193.0" r="1.45"/><circle cx="589.8" cy="181.3" r="1.45"/><circle cx="607.7" cy="211.6" r="1.45"/><circle cx="605.9" cy="147.4" r="1.45"/><circle cx="601.6" cy="126.4" r="1.45"/><circle cx="596.4" cy="176.0" r="1.45"/><circle cx="619.5" cy="191.2" r="1.45"/><circle cx="582.0" cy="174.5" r="1.45"/><circle cx="619.1" cy="166.7" r="1.45"/><circle cx="609.9" cy="198.9" r="1.45"/><circle cx="586.3" cy="234.5" r="1.45"/><circle cx="601.7" cy="197.6" r="1.45"/><circle cx="582.2" cy="190.5" r="1.45"/><circle cx="617.0" cy="191.9" r="1.45"/><circle cx="611.6" cy="182.2" r="1.45"/><circle cx="585.4" cy="211.9" r="1.45"/><circle cx="584.6" cy="101.0" r="1.45"/><circle cx="582.9" cy="226.3" r="1.45"/><circle cx="611.5" cy="160.7" r="1.45"/><circle cx="592.8" cy="232.8" r="1.45"/><circle cx="580.5" cy="209.7" r="1.45"/><circle cx="599.8" cy="158.0" r="1.45"/><circle cx="610.5" cy="170.9" r="1.45"/><circle cx="587.6" cy="191.3" r="1.45"/><circle cx="614.1" cy="176.2" r="1.45"/><circle cx="608.9" cy="202.2" r="1.45"/><circle cx="580.4" cy="211.1" r="1.45"/><circle cx="610.5" cy="215.3" r="1.45"/><circle cx="608.6" cy="193.8" r="1.45"/><circle cx="580.6" cy="204.6" r="1.45"/><circle cx="605.4" cy="212.2" r="1.45"/><circle cx="613.6" cy="199.2" r="1.45"/><circle cx="616.0" cy="201.2" r="1.45"/><circle cx="605.8" cy="215.9" r="1.45"/><circle cx="617.2" cy="171.1" r="1.45"/><circle cx="610.7" cy="214.4" r="1.45"/><circle cx="599.1" cy="219.7" r="1.45"/><circle cx="596.0" cy="160.6" r="1.45"/><circle cx="592.7" cy="191.2" r="1.45"/><circle cx="591.7" cy="211.2" r="1.45"/><circle cx="609.8" cy="186.2" r="1.45"/><circle cx="613.9" cy="174.2" r="1.45"/><circle cx="584.0" cy="214.8" r="1.45"/><circle cx="611.2" cy="231.6" r="1.45"/><circle cx="594.9" cy="202.1" r="1.45"/><circle cx="604.1" cy="159.7" r="1.45"/><circle cx="605.9" cy="119.9" r="1.45"/><circle cx="602.5" cy="204.8" r="1.45"/><circle cx="595.6" cy="187.2" r="1.45"/><circle cx="610.2" cy="163.9" r="1.45"/><circle cx="602.4" cy="219.1" r="1.45"/><circle cx="620.1" cy="197.8" r="1.45"/><circle cx="602.9" cy="210.7" r="1.45"/><circle cx="582.6" cy="210.6" r="1.45"/><circle cx="608.1" cy="207.1" r="1.45"/><circle cx="589.4" cy="203.5" r="1.45"/><circle cx="599.0" cy="228.7" r="1.45"/><circle cx="616.5" cy="193.8" r="1.45"/><circle cx="582.5" cy="227.9" r="1.45"/><circle cx="604.7" cy="197.4" r="1.45"/><circle cx="601.0" cy="202.1" r="1.45"/><circle cx="606.5" cy="170.9" r="1.45"/><circle cx="614.8" cy="185.3" r="1.45"/><circle cx="611.8" cy="166.7" r="1.45"/><circle cx="583.6" cy="182.7" r="1.45"/><circle cx="593.0" cy="136.5" r="1.45"/><circle cx="587.5" cy="228.8" r="1.45"/><circle cx="596.2" cy="186.4" r="1.45"/><circle cx="608.1" cy="182.7" r="1.45"/><circle cx="618.4" cy="162.4" r="1.45"/><circle cx="596.5" cy="209.8" r="1.45"/><circle cx="596.2" cy="198.3" r="1.45"/><circle cx="579.7" cy="198.4" r="1.45"/><circle cx="583.5" cy="160.7" r="1.45"/><circle cx="591.2" cy="156.5" r="1.45"/><circle cx="580.1" cy="224.1" r="1.45"/><circle cx="583.4" cy="203.0" r="1.45"/><circle cx="582.6" cy="208.9" r="1.45"/><circle cx="598.7" cy="218.5" r="1.45"/><circle cx="580.8" cy="246.6" r="1.45"/><circle cx="586.3" cy="88.8" r="1.45"/><circle cx="618.7" cy="164.2" r="1.45"/><circle cx="611.1" cy="182.2" r="1.45"/><circle cx="593.7" cy="170.3" r="1.45"/><circle cx="619.4" cy="175.0" r="1.45"/><circle cx="589.4" cy="206.8" r="1.45"/><circle cx="596.9" cy="226.0" r="1.45"/><circle cx="602.2" cy="219.5" r="1.45"/><circle cx="582.5" cy="202.1" r="1.45"/><circle cx="595.4" cy="244.9" r="1.45"/><circle cx="599.8" cy="154.1" r="1.45"/><circle cx="609.4" cy="197.0" r="1.45"/><circle cx="594.6" cy="234.5" r="1.45"/><circle cx="604.4" cy="202.0" r="1.45"/><circle cx="579.5" cy="213.1" r="1.45"/><circle cx="593.4" cy="192.3" r="1.45"/><circle cx="609.4" cy="182.0" r="1.45"/><circle cx="582.6" cy="128.5" r="1.45"/><circle cx="618.2" cy="191.0" r="1.45"/><circle cx="613.7" cy="157.7" r="1.45"/><circle cx="617.8" cy="208.5" r="1.45"/><circle cx="580.2" cy="235.0" r="1.45"/><circle cx="611.2" cy="180.4" r="1.45"/><circle cx="585.0" cy="220.9" r="1.45"/><circle cx="582.3" cy="227.3" r="1.45"/><circle cx="607.3" cy="226.7" r="1.45"/><circle cx="586.2" cy="202.9" r="1.45"/><circle cx="589.3" cy="242.5" r="1.45"/><circle cx="612.8" cy="221.9" r="1.45"/><circle cx="597.1" cy="152.5" r="1.45"/><circle cx="596.2" cy="206.9" r="1.45"/><circle cx="581.9" cy="210.0" r="1.45"/><circle cx="590.4" cy="195.3" r="1.45"/><circle cx="593.8" cy="169.0" r="1.45"/><circle cx="615.1" cy="134.1" r="1.45"/><circle cx="616.0" cy="236.6" r="1.45"/><circle cx="608.3" cy="216.8" r="1.45"/><circle cx="602.2" cy="214.4" r="1.45"/><circle cx="591.7" cy="191.8" r="1.45"/><circle cx="605.2" cy="194.4" r="1.45"/><circle cx="592.9" cy="204.4" r="1.45"/><circle cx="619.6" cy="222.1" r="1.45"/><circle cx="620.0" cy="181.3" r="1.45"/><circle cx="618.5" cy="230.3" r="1.45"/><circle cx="600.6" cy="131.4" r="1.45"/><circle cx="611.6" cy="212.3" r="1.45"/><circle cx="598.9" cy="204.4" r="1.45"/><circle cx="604.7" cy="193.6" r="1.45"/><circle cx="607.6" cy="240.6" r="1.45"/><circle cx="597.9" cy="210.0" r="1.45"/><circle cx="581.4" cy="202.0" r="1.45"/><circle cx="594.6" cy="162.2" r="1.45"/><circle cx="584.4" cy="103.5" r="1.45"/><circle cx="604.0" cy="205.9" r="1.45"/><circle cx="588.3" cy="194.4" r="1.45"/><circle cx="617.2" cy="190.4" r="1.45"/><circle cx="579.4" cy="154.6" r="1.45"/><circle cx="599.0" cy="205.1" r="1.45"/><circle cx="596.3" cy="225.6" r="1.45"/><circle cx="600.5" cy="171.0" r="1.45"/><circle cx="592.7" cy="196.4" r="1.45"/><circle cx="613.9" cy="171.6" r="1.45"/><circle cx="612.4" cy="198.9" r="1.45"/><circle cx="599.5" cy="189.5" r="1.45"/><circle cx="613.8" cy="222.5" r="1.45"/><circle cx="579.3" cy="183.6" r="1.45"/><circle cx="599.2" cy="184.9" r="1.45"/><circle cx="617.4" cy="242.4" r="1.45"/><circle cx="595.6" cy="177.7" r="1.45"/><circle cx="610.1" cy="209.3" r="1.45"/><circle cx="600.3" cy="197.7" r="1.45"/><circle cx="580.6" cy="168.3" r="1.45"/><circle cx="586.8" cy="139.3" r="1.45"/><circle cx="584.6" cy="253.6" r="1.45"/><circle cx="589.9" cy="184.8" r="1.45"/><circle cx="617.4" cy="192.0" r="1.45"/><circle cx="579.6" cy="217.8" r="1.45"/><circle cx="614.0" cy="196.4" r="1.45"/><circle cx="583.0" cy="173.3" r="1.45"/><circle cx="619.2" cy="219.5" r="1.45"/><circle cx="612.2" cy="234.9" r="1.45"/><circle cx="587.9" cy="165.5" r="1.45"/><circle cx="583.9" cy="188.4" r="1.45"/><circle cx="602.7" cy="196.2" r="1.45"/><circle cx="584.2" cy="145.5" r="1.45"/><circle cx="617.2" cy="200.1" r="1.45"/><circle cx="610.1" cy="188.4" r="1.45"/><circle cx="619.4" cy="244.0" r="1.45"/><circle cx="587.4" cy="186.1" r="1.45"/><circle cx="604.9" cy="198.5" r="1.45"/><circle cx="603.5" cy="179.8" r="1.45"/><circle cx="600.8" cy="232.7" r="1.45"/><circle cx="591.9" cy="202.9" r="1.45"/><circle cx="580.9" cy="223.9" r="1.45"/><circle cx="599.0" cy="238.9" r="1.45"/><circle cx="596.7" cy="166.6" r="1.45"/><circle cx="613.6" cy="159.0" r="1.45"/><circle cx="602.9" cy="224.4" r="1.45"/><circle cx="603.5" cy="240.1" r="1.45"/><circle cx="592.8" cy="139.3" r="1.45"/><circle cx="583.1" cy="205.1" r="1.45"/><circle cx="617.1" cy="189.5" r="1.45"/><circle cx="617.5" cy="202.3" r="1.45"/><circle cx="604.0" cy="225.6" r="1.45"/><circle cx="609.8" cy="238.1" r="1.45"/><circle cx="582.1" cy="211.8" r="1.45"/><circle cx="609.6" cy="207.7" r="1.45"/><circle cx="602.0" cy="209.7" r="1.45"/><circle cx="589.8" cy="194.0" r="1.45"/><circle cx="604.5" cy="202.0" r="1.45"/><circle cx="609.8" cy="128.1" r="1.45"/><circle cx="597.5" cy="186.2" r="1.45"/><circle cx="596.7" cy="219.8" r="1.45"/><circle cx="615.5" cy="221.9" r="1.45"/><circle cx="591.2" cy="156.0" r="1.45"/><circle cx="579.1" cy="202.2" r="1.45"/><circle cx="607.2" cy="213.7" r="1.45"/><circle cx="620.1" cy="194.2" r="1.45"/><circle cx="608.6" cy="218.0" r="1.45"/><circle cx="613.8" cy="214.8" r="1.45"/><circle cx="584.6" cy="149.6" r="1.45"/><circle cx="590.2" cy="171.7" r="1.45"/><circle cx="594.5" cy="211.3" r="1.45"/><circle cx="591.0" cy="224.1" r="1.45"/><circle cx="581.3" cy="203.4" r="1.45"/><circle cx="607.7" cy="221.8" r="1.45"/><circle cx="595.3" cy="223.4" r="1.45"/><circle cx="584.2" cy="195.0" r="1.45"/><circle cx="579.6" cy="201.7" r="1.45"/><circle cx="588.2" cy="223.0" r="1.45"/><circle cx="600.6" cy="207.9" r="1.45"/><circle cx="618.7" cy="190.9" r="1.45"/><circle cx="615.6" cy="197.9" r="1.45"/><circle cx="599.9" cy="157.2" r="1.45"/><circle cx="601.1" cy="180.9" r="1.45"/><circle cx="617.8" cy="176.1" r="1.45"/><circle cx="607.1" cy="224.1" r="1.45"/><circle cx="612.9" cy="186.4" r="1.45"/><circle cx="592.1" cy="204.3" r="1.45"/><circle cx="618.9" cy="148.4" r="1.45"/><circle cx="610.1" cy="217.2" r="1.45"/><circle cx="611.3" cy="219.1" r="1.45"/><circle cx="581.2" cy="176.1" r="1.45"/><circle cx="608.6" cy="225.0" r="1.45"/><circle cx="593.0" cy="205.7" r="1.45"/><circle cx="594.6" cy="225.5" r="1.45"/><circle cx="607.1" cy="220.4" r="1.45"/><circle cx="600.6" cy="175.5" r="1.45"/><circle cx="598.9" cy="211.0" r="1.45"/><circle cx="590.7" cy="186.7" r="1.45"/><circle cx="595.1" cy="213.7" r="1.45"/><circle cx="619.4" cy="206.1" r="1.45"/><circle cx="599.7" cy="209.3" r="1.45"/><circle cx="579.9" cy="201.2" r="1.45"/><circle cx="594.8" cy="220.7" r="1.45"/><circle cx="619.5" cy="207.5" r="1.45"/><circle cx="603.2" cy="202.7" r="1.45"/><circle cx="589.0" cy="203.8" r="1.45"/><circle cx="592.8" cy="196.5" r="1.45"/><circle cx="598.9" cy="206.9" r="1.45"/><circle cx="590.0" cy="209.9" r="1.45"/><circle cx="600.3" cy="227.6" r="1.45"/><circle cx="609.9" cy="212.2" r="1.45"/><circle cx="606.1" cy="205.4" r="1.45"/><circle cx="598.9" cy="205.2" r="1.45"/><circle cx="593.4" cy="194.6" r="1.45"/><circle cx="614.1" cy="241.9" r="1.45"/><circle cx="579.0" cy="193.3" r="1.45"/><circle cx="613.0" cy="152.9" r="1.45"/><circle cx="599.5" cy="221.0" r="1.45"/><circle cx="594.3" cy="188.2" r="1.45"/><circle cx="604.8" cy="193.0" r="1.45"/><circle cx="581.1" cy="149.7" r="1.45"/><circle cx="590.5" cy="205.3" r="1.45"/><circle cx="591.0" cy="115.9" r="1.45"/><circle cx="618.1" cy="217.3" r="1.45"/><circle cx="619.6" cy="208.9" r="1.45"/><circle cx="585.9" cy="184.6" r="1.45"/><circle cx="597.3" cy="183.8" r="1.45"/><circle cx="615.5" cy="205.8" r="1.45"/><circle cx="581.8" cy="151.9" r="1.45"/><circle cx="591.7" cy="184.9" r="1.45"/><circle cx="584.4" cy="196.0" r="1.45"/><circle cx="609.0" cy="217.6" r="1.45"/><circle cx="618.9" cy="187.4" r="1.45"/><circle cx="605.5" cy="167.5" r="1.45"/><circle cx="584.3" cy="201.7" r="1.45"/><circle cx="615.5" cy="230.8" r="1.45"/><circle cx="584.6" cy="226.3" r="1.45"/><circle cx="607.7" cy="165.8" r="1.45"/><circle cx="610.4" cy="135.8" r="1.45"/><circle cx="579.7" cy="159.3" r="1.45"/><circle cx="609.4" cy="182.3" r="1.45"/><circle cx="578.9" cy="191.6" r="1.45"/><circle cx="609.2" cy="217.2" r="1.45"/><circle cx="594.0" cy="154.7" r="1.45"/><circle cx="592.5" cy="198.4" r="1.45"/><circle cx="593.9" cy="168.7" r="1.45"/><circle cx="588.0" cy="243.0" r="1.45"/><circle cx="597.2" cy="166.7" r="1.45"/><circle cx="591.7" cy="198.6" r="1.45"/><circle cx="598.3" cy="208.8" r="1.45"/><circle cx="614.3" cy="247.6" r="1.45"/><circle cx="612.1" cy="217.3" r="1.45"/><circle cx="619.1" cy="181.0" r="1.45"/><circle cx="613.1" cy="196.7" r="1.45"/><circle cx="616.9" cy="230.2" r="1.45"/><circle cx="594.9" cy="162.5" r="1.45"/><circle cx="579.1" cy="206.7" r="1.45"/><circle cx="578.8" cy="218.8" r="1.45"/><circle cx="620.0" cy="202.0" r="1.45"/><circle cx="579.5" cy="216.7" r="1.45"/><circle cx="593.7" cy="122.0" r="1.45"/><circle cx="606.7" cy="189.7" r="1.45"/><circle cx="599.1" cy="228.6" r="1.45"/><circle cx="610.4" cy="147.2" r="1.45"/><circle cx="598.6" cy="167.8" r="1.45"/><circle cx="599.3" cy="232.0" r="1.45"/><circle cx="598.5" cy="213.9" r="1.45"/><circle cx="609.3" cy="231.3" r="1.45"/><circle cx="592.7" cy="193.9" r="1.45"/><circle cx="606.8" cy="193.9" r="1.45"/><circle cx="594.5" cy="219.4" r="1.45"/><circle cx="611.1" cy="133.6" r="1.45"/><circle cx="594.6" cy="227.6" r="1.45"/><circle cx="603.9" cy="212.8" r="1.45"/><circle cx="580.2" cy="173.4" r="1.45"/><circle cx="581.5" cy="239.9" r="1.45"/><circle cx="615.8" cy="213.1" r="1.45"/><circle cx="608.8" cy="251.1" r="1.45"/><circle cx="608.6" cy="229.7" r="1.45"/><circle cx="583.7" cy="197.5" r="1.45"/><circle cx="614.3" cy="221.1" r="1.45"/><circle cx="587.8" cy="163.6" r="1.45"/><circle cx="599.5" cy="222.4" r="1.45"/><circle cx="599.1" cy="219.2" r="1.45"/><circle cx="597.8" cy="200.2" r="1.45"/><circle cx="619.3" cy="154.6" r="1.45"/><circle cx="616.5" cy="202.3" r="1.45"/><circle cx="594.6" cy="176.6" r="1.45"/><circle cx="603.6" cy="148.9" r="1.45"/><circle cx="591.3" cy="229.5" r="1.45"/><circle cx="606.9" cy="212.8" r="1.45"/><circle cx="599.3" cy="223.9" r="1.45"/><circle cx="605.5" cy="159.0" r="1.45"/><circle cx="579.0" cy="174.9" r="1.45"/><circle cx="616.0" cy="198.5" r="1.45"/><circle cx="613.3" cy="227.9" r="1.45"/><circle cx="615.8" cy="203.6" r="1.45"/><circle cx="595.0" cy="240.2" r="1.45"/><circle cx="609.0" cy="132.4" r="1.45"/><circle cx="596.2" cy="185.3" r="1.45"/><circle cx="594.0" cy="216.8" r="1.45"/><circle cx="614.0" cy="211.3" r="1.45"/><circle cx="581.3" cy="173.2" r="1.45"/><circle cx="602.0" cy="139.9" r="1.45"/><circle cx="605.5" cy="201.0" r="1.45"/><circle cx="615.1" cy="210.4" r="1.45"/><circle cx="594.6" cy="145.9" r="1.45"/><circle cx="589.2" cy="214.3" r="1.45"/><circle cx="614.2" cy="198.0" r="1.45"/><circle cx="605.4" cy="213.9" r="1.45"/><circle cx="586.5" cy="217.3" r="1.45"/><circle cx="602.7" cy="170.7" r="1.45"/><circle cx="586.5" cy="197.5" r="1.45"/><circle cx="589.7" cy="217.4" r="1.45"/><circle cx="609.5" cy="203.7" r="1.45"/><circle cx="609.9" cy="221.3" r="1.45"/><circle cx="594.4" cy="159.4" r="1.45"/><circle cx="601.7" cy="134.8" r="1.45"/><circle cx="602.9" cy="187.8" r="1.45"/><circle cx="616.4" cy="209.9" r="1.45"/><circle cx="579.2" cy="223.2" r="1.45"/><circle cx="595.7" cy="156.0" r="1.45"/><circle cx="616.5" cy="204.7" r="1.45"/><circle cx="579.2" cy="166.4" r="1.45"/><circle cx="604.7" cy="216.8" r="1.45"/><circle cx="613.3" cy="222.4" r="1.45"/><circle cx="584.3" cy="178.8" r="1.45"/><circle cx="589.2" cy="184.9" r="1.45"/><circle cx="580.3" cy="214.5" r="1.45"/><circle cx="600.8" cy="180.8" r="1.45"/><circle cx="617.8" cy="184.7" r="1.45"/><circle cx="594.3" cy="187.6" r="1.45"/><circle cx="605.4" cy="177.5" r="1.45"/><circle cx="585.0" cy="218.4" r="1.45"/><circle cx="580.6" cy="162.3" r="1.45"/><circle cx="584.4" cy="227.7" r="1.45"/><circle cx="580.8" cy="215.7" r="1.45"/><circle cx="617.2" cy="202.5" r="1.45"/><circle cx="607.5" cy="205.9" r="1.45"/><circle cx="581.1" cy="183.0" r="1.45"/><circle cx="582.4" cy="173.0" r="1.45"/><circle cx="616.5" cy="224.4" r="1.45"/><circle cx="610.1" cy="144.9" r="1.45"/><circle cx="600.0" cy="217.5" r="1.45"/><circle cx="606.0" cy="220.4" r="1.45"/><circle cx="613.5" cy="220.4" r="1.45"/><circle cx="591.3" cy="197.5" r="1.45"/><circle cx="618.8" cy="224.9" r="1.45"/><circle cx="593.1" cy="173.9" r="1.45"/><circle cx="587.5" cy="218.8" r="1.45"/><circle cx="593.5" cy="186.9" r="1.45"/><circle cx="598.6" cy="193.9" r="1.45"/><circle cx="590.6" cy="212.6" r="1.45"/><circle cx="583.6" cy="229.6" r="1.45"/><circle cx="599.0" cy="216.6" r="1.45"/><circle cx="606.9" cy="182.8" r="1.45"/><circle cx="588.0" cy="156.9" r="1.45"/><circle cx="592.4" cy="195.4" r="1.45"/><circle cx="615.8" cy="173.8" r="1.45"/><circle cx="595.1" cy="160.1" r="1.45"/><circle cx="597.8" cy="225.1" r="1.45"/><circle cx="618.3" cy="189.1" r="1.45"/><circle cx="582.6" cy="166.6" r="1.45"/><circle cx="613.9" cy="210.3" r="1.45"/><circle cx="591.3" cy="187.1" r="1.45"/><circle cx="607.5" cy="206.0" r="1.45"/><circle cx="600.1" cy="197.4" r="1.45"/><circle cx="609.7" cy="184.3" r="1.45"/><circle cx="589.7" cy="229.5" r="1.45"/><circle cx="580.8" cy="198.2" r="1.45"/><circle cx="617.7" cy="156.3" r="1.45"/><circle cx="593.8" cy="203.3" r="1.45"/><circle cx="582.0" cy="223.0" r="1.45"/><circle cx="583.7" cy="231.2" r="1.45"/><circle cx="582.9" cy="211.6" r="1.45"/><circle cx="611.7" cy="208.7" r="1.45"/><circle cx="595.9" cy="220.9" r="1.45"/><circle cx="592.1" cy="129.0" r="1.45"/><circle cx="601.1" cy="203.6" r="1.45"/><circle cx="612.7" cy="219.0" r="1.45"/><circle cx="608.1" cy="211.4" r="1.45"/><circle cx="599.8" cy="189.5" r="1.45"/><circle cx="601.4" cy="214.1" r="1.45"/><circle cx="612.5" cy="201.9" r="1.45"/><circle cx="597.4" cy="200.3" r="1.45"/><circle cx="601.9" cy="166.5" r="1.45"/><circle cx="609.5" cy="144.5" r="1.45"/><circle cx="616.7" cy="200.3" r="1.45"/><circle cx="581.1" cy="227.4" r="1.45"/><circle cx="605.2" cy="205.3" r="1.45"/><circle cx="587.9" cy="183.8" r="1.45"/><circle cx="586.0" cy="183.4" r="1.45"/><circle cx="601.2" cy="195.6" r="1.45"/><circle cx="579.3" cy="221.7" r="1.45"/><circle cx="600.7" cy="189.8" r="1.45"/><circle cx="581.2" cy="198.3" r="1.45"/><circle cx="585.1" cy="186.2" r="1.45"/><circle cx="598.0" cy="209.7" r="1.45"/><circle cx="585.6" cy="188.6" r="1.45"/><circle cx="592.2" cy="202.8" r="1.45"/><circle cx="581.8" cy="237.5" r="1.45"/><circle cx="605.8" cy="187.0" r="1.45"/><circle cx="610.2" cy="200.3" r="1.45"/><circle cx="584.9" cy="238.4" r="1.45"/><circle cx="608.7" cy="192.1" r="1.45"/><circle cx="614.0" cy="139.3" r="1.45"/><circle cx="596.9" cy="223.5" r="1.45"/><circle cx="594.6" cy="236.1" r="1.45"/><circle cx="589.4" cy="201.6" r="1.45"/><circle cx="584.6" cy="179.5" r="1.45"/><circle cx="617.4" cy="194.6" r="1.45"/><circle cx="619.2" cy="206.3" r="1.45"/><circle cx="607.5" cy="173.0" r="1.45"/><circle cx="594.0" cy="208.4" r="1.45"/><circle cx="590.9" cy="193.1" r="1.45"/><circle cx="619.2" cy="169.0" r="1.45"/><circle cx="590.0" cy="206.1" r="1.45"/><circle cx="581.9" cy="127.6" r="1.45"/><circle cx="611.5" cy="180.5" r="1.45"/><circle cx="613.4" cy="213.7" r="1.45"/><circle cx="596.6" cy="209.0" r="1.45"/><circle cx="618.0" cy="159.2" r="1.45"/><circle cx="617.4" cy="201.3" r="1.45"/><circle cx="609.0" cy="222.0" r="1.45"/><circle cx="606.0" cy="166.0" r="1.45"/><circle cx="610.4" cy="150.2" r="1.45"/><circle cx="586.8" cy="192.2" r="1.45"/><circle cx="601.4" cy="189.8" r="1.45"/><circle cx="583.2" cy="192.5" r="1.45"/><circle cx="620.1" cy="181.5" r="1.45"/><circle cx="609.3" cy="217.2" r="1.45"/><circle cx="596.5" cy="211.5" r="1.45"/><circle cx="604.0" cy="190.7" r="1.45"/><circle cx="592.3" cy="155.9" r="1.45"/><circle cx="579.8" cy="231.1" r="1.45"/><circle cx="605.7" cy="215.9" r="1.45"/><circle cx="612.1" cy="226.0" r="1.45"/><circle cx="612.9" cy="183.4" r="1.45"/><circle cx="584.0" cy="225.7" r="1.45"/><circle cx="582.7" cy="154.5" r="1.45"/><circle cx="585.8" cy="209.8" r="1.45"/><circle cx="617.7" cy="210.8" r="1.45"/><circle cx="590.4" cy="213.5" r="1.45"/><circle cx="617.8" cy="223.6" r="1.45"/><circle cx="591.4" cy="195.3" r="1.45"/><circle cx="602.4" cy="160.0" r="1.45"/><circle cx="618.1" cy="220.4" r="1.45"/><circle cx="601.4" cy="160.3" r="1.45"/><circle cx="580.6" cy="222.4" r="1.45"/><circle cx="583.7" cy="191.0" r="1.45"/><circle cx="605.5" cy="153.4" r="1.45"/><circle cx="612.9" cy="211.4" r="1.45"/><circle cx="613.7" cy="174.8" r="1.45"/><circle cx="601.0" cy="198.5" r="1.45"/><circle cx="619.7" cy="221.9" r="1.45"/><circle cx="582.1" cy="160.9" r="1.45"/><circle cx="616.2" cy="212.4" r="1.45"/><circle cx="606.1" cy="185.0" r="1.45"/><circle cx="586.9" cy="194.4" r="1.45"/><circle cx="585.7" cy="197.2" r="1.45"/><circle cx="616.5" cy="229.6" r="1.45"/><circle cx="619.6" cy="152.0" r="1.45"/><circle cx="612.0" cy="198.4" r="1.45"/><circle cx="617.7" cy="234.6" r="1.45"/><circle cx="607.7" cy="189.7" r="1.45"/><circle cx="608.0" cy="174.1" r="1.45"/><circle cx="594.0" cy="184.8" r="1.45"/><circle cx="584.7" cy="182.8" r="1.45"/><circle cx="598.5" cy="170.1" r="1.45"/><circle cx="587.6" cy="157.8" r="1.45"/><circle cx="617.6" cy="170.7" r="1.45"/><circle cx="605.5" cy="165.1" r="1.45"/><circle cx="587.1" cy="172.6" r="1.45"/><circle cx="604.4" cy="217.9" r="1.45"/><circle cx="586.5" cy="218.4" r="1.45"/><circle cx="604.5" cy="235.3" r="1.45"/><circle cx="588.9" cy="190.7" r="1.45"/><circle cx="581.0" cy="221.0" r="1.45"/><circle cx="598.6" cy="139.5" r="1.45"/><circle cx="578.9" cy="221.3" r="1.45"/><circle cx="583.2" cy="200.3" r="1.45"/><circle cx="590.9" cy="181.3" r="1.45"/><circle cx="597.5" cy="218.7" r="1.45"/><circle cx="613.2" cy="187.6" r="1.45"/><circle cx="610.3" cy="194.6" r="1.45"/><circle cx="582.0" cy="190.5" r="1.45"/><circle cx="592.0" cy="174.4" r="1.45"/><circle cx="599.8" cy="231.8" r="1.45"/><circle cx="614.0" cy="203.5" r="1.45"/><circle cx="580.6" cy="158.3" r="1.45"/><circle cx="584.4" cy="198.4" r="1.45"/><circle cx="616.1" cy="204.1" r="1.45"/><circle cx="581.1" cy="209.2" r="1.45"/><circle cx="595.7" cy="71.7" r="1.45"/><circle cx="601.8" cy="164.2" r="1.45"/><circle cx="592.7" cy="208.0" r="1.45"/><circle cx="594.1" cy="205.0" r="1.45"/><circle cx="607.6" cy="201.4" r="1.45"/><circle cx="586.3" cy="233.1" r="1.45"/><circle cx="586.0" cy="239.3" r="1.45"/><circle cx="593.3" cy="183.4" r="1.45"/><circle cx="579.9" cy="243.1" r="1.45"/><circle cx="607.5" cy="239.5" r="1.45"/><circle cx="613.7" cy="223.8" r="1.45"/><circle cx="582.8" cy="190.2" r="1.45"/><circle cx="610.1" cy="214.5" r="1.45"/><circle cx="608.5" cy="210.0" r="1.45"/><circle cx="610.5" cy="209.8" r="1.45"/><circle cx="607.9" cy="190.3" r="1.45"/><circle cx="618.2" cy="229.6" r="1.45"/><circle cx="588.9" cy="213.0" r="1.45"/><circle cx="589.8" cy="213.6" r="1.45"/><circle cx="616.3" cy="232.2" r="1.45"/><circle cx="603.0" cy="219.7" r="1.45"/><circle cx="619.2" cy="115.7" r="1.45"/><circle cx="594.2" cy="157.9" r="1.45"/><circle cx="597.8" cy="223.2" r="1.45"/><circle cx="596.1" cy="230.0" r="1.45"/><circle cx="616.1" cy="219.1" r="1.45"/><circle cx="584.8" cy="191.4" r="1.45"/><circle cx="585.9" cy="162.2" r="1.45"/><circle cx="602.4" cy="200.0" r="1.45"/><circle cx="604.5" cy="190.0" r="1.45"/><circle cx="601.5" cy="227.8" r="1.45"/><circle cx="607.2" cy="165.6" r="1.45"/><circle cx="579.7" cy="176.2" r="1.45"/><circle cx="585.4" cy="185.6" r="1.45"/><circle cx="603.5" cy="189.6" r="1.45"/><circle cx="594.5" cy="208.5" r="1.45"/><circle cx="613.2" cy="219.2" r="1.45"/><circle cx="618.8" cy="233.9" r="1.45"/><circle cx="619.8" cy="169.1" r="1.45"/><circle cx="610.4" cy="203.3" r="1.45"/><circle cx="600.5" cy="201.9" r="1.45"/><circle cx="613.9" cy="172.7" r="1.45"/><circle cx="606.6" cy="142.1" r="1.45"/><circle cx="603.4" cy="160.7" r="1.45"/><circle cx="595.6" cy="216.6" r="1.45"/><circle cx="608.5" cy="183.2" r="1.45"/><circle cx="615.2" cy="228.9" r="1.45"/><circle cx="582.4" cy="182.7" r="1.45"/><circle cx="586.8" cy="112.7" r="1.45"/><circle cx="612.6" cy="190.6" r="1.45"/><circle cx="579.3" cy="211.9" r="1.45"/><circle cx="596.6" cy="187.2" r="1.45"/><circle cx="579.3" cy="204.7" r="1.45"/><circle cx="590.7" cy="202.9" r="1.45"/><circle cx="589.4" cy="161.0" r="1.45"/><circle cx="595.5" cy="222.7" r="1.45"/><circle cx="590.6" cy="226.8" r="1.45"/><circle cx="593.5" cy="175.6" r="1.45"/><circle cx="596.6" cy="215.0" r="1.45"/><circle cx="609.8" cy="198.5" r="1.45"/><circle cx="593.3" cy="206.3" r="1.45"/><circle cx="602.5" cy="198.3" r="1.45"/><circle cx="602.0" cy="195.1" r="1.45"/><circle cx="593.9" cy="169.2" r="1.45"/><circle cx="581.5" cy="174.1" r="1.45"/><circle cx="616.4" cy="135.9" r="1.45"/><circle cx="601.4" cy="166.9" r="1.45"/><circle cx="595.8" cy="177.9" r="1.45"/><circle cx="592.0" cy="228.5" r="1.45"/><circle cx="581.3" cy="228.8" r="1.45"/><circle cx="603.7" cy="180.3" r="1.45"/><circle cx="610.1" cy="131.9" r="1.45"/><circle cx="607.4" cy="213.8" r="1.45"/><circle cx="602.4" cy="182.4" r="1.45"/><circle cx="593.0" cy="184.2" r="1.45"/><circle cx="607.5" cy="205.5" r="1.45"/><circle cx="611.5" cy="170.8" r="1.45"/><circle cx="583.3" cy="212.5" r="1.45"/><circle cx="607.6" cy="211.5" r="1.45"/><circle cx="591.1" cy="214.0" r="1.45"/><circle cx="608.8" cy="189.9" r="1.45"/><circle cx="608.4" cy="177.4" r="1.45"/><circle cx="581.5" cy="172.5" r="1.45"/><circle cx="612.4" cy="210.8" r="1.45"/><circle cx="599.1" cy="199.6" r="1.45"/><circle cx="597.2" cy="147.0" r="1.45"/><circle cx="609.8" cy="178.2" r="1.45"/><circle cx="597.9" cy="194.5" r="1.45"/><circle cx="601.0" cy="156.8" r="1.45"/><circle cx="619.6" cy="224.5" r="1.45"/><circle cx="600.9" cy="168.2" r="1.45"/><circle cx="581.0" cy="197.6" r="1.45"/><circle cx="602.9" cy="187.5" r="1.45"/><circle cx="590.1" cy="208.0" r="1.45"/><circle cx="590.8" cy="216.8" r="1.45"/><circle cx="585.9" cy="176.6" r="1.45"/><circle cx="582.1" cy="214.2" r="1.45"/><circle cx="619.2" cy="224.3" r="1.45"/><circle cx="590.5" cy="182.7" r="1.45"/><circle cx="593.9" cy="186.1" r="1.45"/><circle cx="583.0" cy="239.3" r="1.45"/><circle cx="602.6" cy="194.6" r="1.45"/><circle cx="593.5" cy="211.0" r="1.45"/><circle cx="597.3" cy="210.9" r="1.45"/><circle cx="598.7" cy="157.6" r="1.45"/><circle cx="581.7" cy="222.7" r="1.45"/><circle cx="596.8" cy="223.2" r="1.45"/><circle cx="595.0" cy="153.0" r="1.45"/><circle cx="605.7" cy="202.6" r="1.45"/><circle cx="607.3" cy="203.5" r="1.45"/><circle cx="614.3" cy="175.5" r="1.45"/><circle cx="589.7" cy="179.1" r="1.45"/><circle cx="601.7" cy="218.4" r="1.45"/><circle cx="595.0" cy="202.3" r="1.45"/><circle cx="607.5" cy="225.2" r="1.45"/><circle cx="620.2" cy="134.7" r="1.45"/><circle cx="594.0" cy="211.4" r="1.45"/><circle cx="614.8" cy="169.8" r="1.45"/><circle cx="586.1" cy="220.5" r="1.45"/><circle cx="601.3" cy="164.6" r="1.45"/><circle cx="594.0" cy="204.7" r="1.45"/><circle cx="618.3" cy="120.7" r="1.45"/><circle cx="601.7" cy="217.0" r="1.45"/><circle cx="617.4" cy="207.0" r="1.45"/><circle cx="602.3" cy="213.1" r="1.45"/><circle cx="604.5" cy="233.3" r="1.45"/><circle cx="605.4" cy="161.6" r="1.45"/><circle cx="605.7" cy="152.3" r="1.45"/><circle cx="600.7" cy="211.3" r="1.45"/><circle cx="592.1" cy="146.6" r="1.45"/><circle cx="607.0" cy="141.8" r="1.45"/><circle cx="613.7" cy="200.3" r="1.45"/><circle cx="618.4" cy="206.0" r="1.45"/><circle cx="616.4" cy="218.9" r="1.45"/><circle cx="599.6" cy="210.1" r="1.45"/><circle cx="580.7" cy="219.1" r="1.45"/><circle cx="603.5" cy="152.6" r="1.45"/><circle cx="598.1" cy="224.2" r="1.45"/><circle cx="595.4" cy="196.3" r="1.45"/><circle cx="589.2" cy="202.9" r="1.45"/><circle cx="604.0" cy="214.8" r="1.45"/><circle cx="616.0" cy="211.8" r="1.45"/><circle cx="579.3" cy="208.1" r="1.45"/><circle cx="613.5" cy="191.1" r="1.45"/><circle cx="580.0" cy="221.4" r="1.45"/><circle cx="583.1" cy="192.5" r="1.45"/><circle cx="580.8" cy="124.0" r="1.45"/><circle cx="592.2" cy="197.8" r="1.45"/><circle cx="588.0" cy="225.6" r="1.45"/><circle cx="605.6" cy="192.3" r="1.45"/><circle cx="582.7" cy="234.9" r="1.45"/><circle cx="591.1" cy="240.2" r="1.45"/><circle cx="587.6" cy="179.6" r="1.45"/><circle cx="580.1" cy="184.4" r="1.45"/><circle cx="609.7" cy="190.6" r="1.45"/><circle cx="612.6" cy="215.3" r="1.45"/><circle cx="603.1" cy="196.4" r="1.45"/><circle cx="614.1" cy="203.4" r="1.45"/><circle cx="596.5" cy="218.6" r="1.45"/><circle cx="612.9" cy="220.4" r="1.45"/><circle cx="599.4" cy="218.5" r="1.45"/><circle cx="598.4" cy="202.9" r="1.45"/><circle cx="613.4" cy="182.2" r="1.45"/><circle cx="605.9" cy="155.1" r="1.45"/><circle cx="610.6" cy="168.1" r="1.45"/><circle cx="584.2" cy="196.3" r="1.45"/><circle cx="601.0" cy="229.5" r="1.45"/><circle cx="592.5" cy="199.3" r="1.45"/><circle cx="585.7" cy="148.5" r="1.45"/><circle cx="603.8" cy="193.7" r="1.45"/><circle cx="583.4" cy="230.6" r="1.45"/><circle cx="619.2" cy="204.1" r="1.45"/><circle cx="586.5" cy="198.7" r="1.45"/><circle cx="608.7" cy="237.5" r="1.45"/><circle cx="607.8" cy="222.5" r="1.45"/><circle cx="595.8" cy="166.1" r="1.45"/><circle cx="598.2" cy="168.1" r="1.45"/><circle cx="608.5" cy="206.5" r="1.45"/><circle cx="592.6" cy="160.5" r="1.45"/><circle cx="615.6" cy="141.3" r="1.45"/><circle cx="603.3" cy="189.6" r="1.45"/><circle cx="588.8" cy="187.1" r="1.45"/><circle cx="608.9" cy="212.6" r="1.45"/><circle cx="609.4" cy="191.5" r="1.45"/><circle cx="580.8" cy="203.2" r="1.45"/><circle cx="603.0" cy="209.8" r="1.45"/><circle cx="601.5" cy="155.0" r="1.45"/><circle cx="617.5" cy="175.9" r="1.45"/><circle cx="613.1" cy="181.2" r="1.45"/><circle cx="599.9" cy="226.3" r="1.45"/><circle cx="608.0" cy="200.3" r="1.45"/><circle cx="606.4" cy="188.8" r="1.45"/><circle cx="597.7" cy="216.4" r="1.45"/><circle cx="616.9" cy="218.0" r="1.45"/><circle cx="618.3" cy="207.5" r="1.45"/><circle cx="610.4" cy="187.7" r="1.45"/><circle cx="596.9" cy="115.1" r="1.45"/><circle cx="585.3" cy="233.5" r="1.45"/><circle cx="594.9" cy="223.3" r="1.45"/><circle cx="611.4" cy="196.7" r="1.45"/><circle cx="587.6" cy="198.0" r="1.45"/><circle cx="590.6" cy="97.9" r="1.45"/><circle cx="608.9" cy="188.6" r="1.45"/><circle cx="590.2" cy="213.0" r="1.45"/><circle cx="589.0" cy="219.2" r="1.45"/><circle cx="613.0" cy="181.1" r="1.45"/><circle cx="585.4" cy="124.3" r="1.45"/><circle cx="579.9" cy="216.8" r="1.45"/><circle cx="601.5" cy="229.7" r="1.45"/><circle cx="618.7" cy="181.3" r="1.45"/><circle cx="589.6" cy="150.1" r="1.45"/><circle cx="595.5" cy="201.0" r="1.45"/><circle cx="610.0" cy="171.4" r="1.45"/><circle cx="591.9" cy="187.3" r="1.45"/><circle cx="616.0" cy="184.6" r="1.45"/><circle cx="605.6" cy="163.8" r="1.45"/><circle cx="588.3" cy="174.6" r="1.45"/><circle cx="612.5" cy="179.0" r="1.45"/><circle cx="615.2" cy="219.2" r="1.45"/><circle cx="591.1" cy="183.4" r="1.45"/><circle cx="591.5" cy="245.8" r="1.45"/><circle cx="601.2" cy="172.3" r="1.45"/><circle cx="604.9" cy="210.8" r="1.45"/><circle cx="596.3" cy="214.8" r="1.45"/><circle cx="609.0" cy="180.7" r="1.45"/><circle cx="602.6" cy="222.4" r="1.45"/><circle cx="584.9" cy="205.9" r="1.45"/><circle cx="593.9" cy="219.1" r="1.45"/><circle cx="610.7" cy="200.0" r="1.45"/><circle cx="600.6" cy="194.1" r="1.45"/><circle cx="581.6" cy="230.1" r="1.45"/><circle cx="584.0" cy="192.9" r="1.45"/><circle cx="614.9" cy="199.5" r="1.45"/><circle cx="599.9" cy="204.9" r="1.45"/><circle cx="595.7" cy="132.5" r="1.45"/><circle cx="593.1" cy="207.9" r="1.45"/><circle cx="598.0" cy="230.4" r="1.45"/><circle cx="608.7" cy="178.6" r="1.45"/><circle cx="600.1" cy="144.2" r="1.45"/><circle cx="609.6" cy="200.4" r="1.45"/><circle cx="596.2" cy="226.1" r="1.45"/><circle cx="617.6" cy="196.8" r="1.45"/><circle cx="602.0" cy="158.4" r="1.45"/><circle cx="583.1" cy="200.7" r="1.45"/><circle cx="588.9" cy="238.6" r="1.45"/><circle cx="610.9" cy="218.7" r="1.45"/><circle cx="590.5" cy="199.2" r="1.45"/><circle cx="603.5" cy="147.4" r="1.45"/><circle cx="613.7" cy="197.0" r="1.45"/><circle cx="600.5" cy="204.3" r="1.45"/><circle cx="601.8" cy="197.2" r="1.45"/><circle cx="609.6" cy="173.4" r="1.45"/><circle cx="588.4" cy="193.7" r="1.45"/><circle cx="605.1" cy="188.9" r="1.45"/><circle cx="609.0" cy="227.4" r="1.45"/><circle cx="594.1" cy="169.6" r="1.45"/><circle cx="604.1" cy="209.4" r="1.45"/><circle cx="605.7" cy="205.4" r="1.45"/><circle cx="584.6" cy="194.8" r="1.45"/><circle cx="619.1" cy="151.5" r="1.45"/><circle cx="606.5" cy="239.3" r="1.45"/><circle cx="587.7" cy="213.6" r="1.45"/><circle cx="594.5" cy="201.9" r="1.45"/><circle cx="607.6" cy="227.1" r="1.45"/><circle cx="587.9" cy="195.5" r="1.45"/><circle cx="618.9" cy="229.3" r="1.45"/><circle cx="617.3" cy="172.0" r="1.45"/><circle cx="620.0" cy="211.5" r="1.45"/><circle cx="588.9" cy="206.9" r="1.45"/><circle cx="599.1" cy="183.2" r="1.45"/><circle cx="609.2" cy="185.7" r="1.45"/><circle cx="579.6" cy="182.0" r="1.45"/><circle cx="608.3" cy="215.9" r="1.45"/><circle cx="589.5" cy="213.4" r="1.45"/><circle cx="579.5" cy="213.9" r="1.45"/><circle cx="614.7" cy="195.6" r="1.45"/><circle cx="617.6" cy="211.2" r="1.45"/><circle cx="594.2" cy="180.7" r="1.45"/><circle cx="595.9" cy="210.6" r="1.45"/><circle cx="615.1" cy="201.5" r="1.45"/><circle cx="616.8" cy="174.2" r="1.45"/><circle cx="588.4" cy="231.7" r="1.45"/><circle cx="605.8" cy="184.4" r="1.45"/><circle cx="601.4" cy="193.6" r="1.45"/><circle cx="587.9" cy="221.7" r="1.45"/><circle cx="604.0" cy="163.3" r="1.45"/><circle cx="611.0" cy="209.4" r="1.45"/><circle cx="586.4" cy="190.8" r="1.45"/><circle cx="596.9" cy="183.6" r="1.45"/><circle cx="597.6" cy="231.0" r="1.45"/><circle cx="607.7" cy="194.1" r="1.45"/><circle cx="594.2" cy="183.6" r="1.45"/><circle cx="589.8" cy="218.0" r="1.45"/><circle cx="585.6" cy="206.9" r="1.45"/><circle cx="585.1" cy="195.9" r="1.45"/><circle cx="615.0" cy="221.4" r="1.45"/><circle cx="585.3" cy="187.0" r="1.45"/><circle cx="602.0" cy="181.6" r="1.45"/><circle cx="617.2" cy="196.9" r="1.45"/><circle cx="608.0" cy="204.1" r="1.45"/><circle cx="596.9" cy="184.1" r="1.45"/><circle cx="582.7" cy="218.6" r="1.45"/><circle cx="590.6" cy="202.0" r="1.45"/><circle cx="616.2" cy="129.0" r="1.45"/><circle cx="584.6" cy="164.3" r="1.45"/><circle cx="596.3" cy="236.3" r="1.45"/><circle cx="589.0" cy="186.3" r="1.45"/><circle cx="579.7" cy="215.2" r="1.45"/><circle cx="587.6" cy="224.6" r="1.45"/><circle cx="589.5" cy="204.5" r="1.45"/><circle cx="611.4" cy="208.0" r="1.45"/><circle cx="615.0" cy="209.0" r="1.45"/><circle cx="602.5" cy="209.1" r="1.45"/><circle cx="591.1" cy="191.3" r="1.45"/><circle cx="602.0" cy="160.2" r="1.45"/><circle cx="590.1" cy="169.9" r="1.45"/><circle cx="616.8" cy="197.3" r="1.45"/><circle cx="593.4" cy="146.5" r="1.45"/><circle cx="598.1" cy="212.3" r="1.45"/><circle cx="602.9" cy="206.8" r="1.45"/><circle cx="601.3" cy="209.1" r="1.45"/><circle cx="580.6" cy="158.8" r="1.45"/><circle cx="584.9" cy="176.5" r="1.45"/><circle cx="601.5" cy="178.3" r="1.45"/><circle cx="615.5" cy="223.4" r="1.45"/><circle cx="604.0" cy="215.8" r="1.45"/><circle cx="615.0" cy="196.3" r="1.45"/><circle cx="617.4" cy="209.7" r="1.45"/><circle cx="601.6" cy="230.5" r="1.45"/><circle cx="596.8" cy="220.6" r="1.45"/><circle cx="608.4" cy="181.1" r="1.45"/><circle cx="611.8" cy="169.7" r="1.45"/><circle cx="618.0" cy="170.3" r="1.45"/><circle cx="594.2" cy="215.2" r="1.45"/><circle cx="601.2" cy="167.1" r="1.45"/><circle cx="610.9" cy="194.8" r="1.45"/><circle cx="608.8" cy="197.4" r="1.45"/><circle cx="586.7" cy="192.1" r="1.45"/><circle cx="584.4" cy="176.1" r="1.45"/><circle cx="600.4" cy="221.0" r="1.45"/><circle cx="618.5" cy="195.5" r="1.45"/><circle cx="581.1" cy="214.3" r="1.45"/><circle cx="606.9" cy="175.2" r="1.45"/><circle cx="603.8" cy="165.9" r="1.45"/><circle cx="580.7" cy="181.6" r="1.45"/><circle cx="601.1" cy="205.6" r="1.45"/><circle cx="595.2" cy="212.1" r="1.45"/><circle cx="615.4" cy="175.0" r="1.45"/><circle cx="602.4" cy="206.2" r="1.45"/><circle cx="590.6" cy="150.7" r="1.45"/><circle cx="591.3" cy="179.8" r="1.45"/><circle cx="586.8" cy="207.8" r="1.45"/><circle cx="594.0" cy="209.2" r="1.45"/><circle cx="583.7" cy="228.6" r="1.45"/><circle cx="601.6" cy="215.2" r="1.45"/><circle cx="606.0" cy="210.2" r="1.45"/><circle cx="612.8" cy="189.9" r="1.45"/><circle cx="614.8" cy="198.0" r="1.45"/><circle cx="596.5" cy="181.2" r="1.45"/><circle cx="613.4" cy="188.1" r="1.45"/><circle cx="582.6" cy="218.4" r="1.45"/><circle cx="616.4" cy="114.2" r="1.45"/><circle cx="619.1" cy="159.1" r="1.45"/><circle cx="608.8" cy="185.1" r="1.45"/><circle cx="618.4" cy="175.3" r="1.45"/><circle cx="616.3" cy="209.5" r="1.45"/><circle cx="616.9" cy="204.5" r="1.45"/><circle cx="587.7" cy="142.6" r="1.45"/><circle cx="602.6" cy="226.4" r="1.45"/><circle cx="616.9" cy="165.9" r="1.45"/><circle cx="585.7" cy="220.2" r="1.45"/><circle cx="590.2" cy="186.0" r="1.45"/><circle cx="616.0" cy="182.9" r="1.45"/><circle cx="612.1" cy="211.0" r="1.45"/><circle cx="578.9" cy="215.6" r="1.45"/><circle cx="583.7" cy="206.8" r="1.45"/><circle cx="618.7" cy="162.1" r="1.45"/><circle cx="590.4" cy="240.2" r="1.45"/><circle cx="594.1" cy="168.9" r="1.45"/><circle cx="616.5" cy="208.1" r="1.45"/><circle cx="590.7" cy="180.2" r="1.45"/><circle cx="583.2" cy="226.9" r="1.45"/><circle cx="586.8" cy="189.5" r="1.45"/><circle cx="602.5" cy="177.9" r="1.45"/><circle cx="615.2" cy="204.8" r="1.45"/><circle cx="594.1" cy="180.2" r="1.45"/><circle cx="601.7" cy="194.5" r="1.45"/><circle cx="580.0" cy="198.0" r="1.45"/><circle cx="598.3" cy="203.3" r="1.45"/><circle cx="604.5" cy="200.1" r="1.45"/><circle cx="613.6" cy="213.7" r="1.45"/><circle cx="619.2" cy="202.3" r="1.45"/><circle cx="619.1" cy="171.8" r="1.45"/><circle cx="594.1" cy="239.0" r="1.45"/><circle cx="611.4" cy="220.2" r="1.45"/><circle cx="585.8" cy="204.9" r="1.45"/><circle cx="601.4" cy="193.8" r="1.45"/><circle cx="619.9" cy="165.8" r="1.45"/><circle cx="594.9" cy="199.2" r="1.45"/><circle cx="615.2" cy="196.1" r="1.45"/><circle cx="603.7" cy="168.8" r="1.45"/><circle cx="613.6" cy="178.8" r="1.45"/><circle cx="618.3" cy="212.9" r="1.45"/><circle cx="619.2" cy="161.4" r="1.45"/><circle cx="605.8" cy="217.0" r="1.45"/><circle cx="609.1" cy="206.8" r="1.45"/><circle cx="594.8" cy="212.9" r="1.45"/><circle cx="608.5" cy="226.8" r="1.45"/><circle cx="582.9" cy="208.4" r="1.45"/><circle cx="601.8" cy="181.9" r="1.45"/><circle cx="591.1" cy="187.5" r="1.45"/><circle cx="594.2" cy="177.9" r="1.45"/><circle cx="600.6" cy="241.9" r="1.45"/><circle cx="601.6" cy="155.9" r="1.45"/><circle cx="612.6" cy="220.7" r="1.45"/><circle cx="600.5" cy="177.2" r="1.45"/><circle cx="586.5" cy="218.8" r="1.45"/><circle cx="587.6" cy="199.9" r="1.45"/><circle cx="580.5" cy="178.6" r="1.45"/><circle cx="596.0" cy="186.2" r="1.45"/><circle cx="610.2" cy="208.6" r="1.45"/><circle cx="597.5" cy="203.4" r="1.45"/><circle cx="611.8" cy="215.4" r="1.45"/><circle cx="607.0" cy="215.1" r="1.45"/><circle cx="589.8" cy="171.5" r="1.45"/><circle cx="609.8" cy="173.0" r="1.45"/><circle cx="580.2" cy="209.7" r="1.45"/><circle cx="619.7" cy="183.9" r="1.45"/><circle cx="617.4" cy="182.7" r="1.45"/><circle cx="580.9" cy="183.8" r="1.45"/><circle cx="607.0" cy="218.3" r="1.45"/><circle cx="611.3" cy="182.4" r="1.45"/><circle cx="582.3" cy="173.1" r="1.45"/><circle cx="587.7" cy="201.5" r="1.45"/><circle cx="604.5" cy="175.5" r="1.45"/><circle cx="615.9" cy="197.4" r="1.45"/><circle cx="615.7" cy="180.1" r="1.45"/><circle cx="603.2" cy="185.5" r="1.45"/><circle cx="581.1" cy="205.7" r="1.45"/><circle cx="587.8" cy="192.0" r="1.45"/><circle cx="599.7" cy="204.4" r="1.45"/><circle cx="612.7" cy="203.7" r="1.45"/><circle cx="596.0" cy="174.5" r="1.45"/><circle cx="604.1" cy="197.7" r="1.45"/><circle cx="596.8" cy="201.4" r="1.45"/><circle cx="592.8" cy="229.2" r="1.45"/><circle cx="617.4" cy="215.8" r="1.45"/><circle cx="600.8" cy="216.1" r="1.45"/><circle cx="598.8" cy="225.3" r="1.45"/><circle cx="599.2" cy="215.4" r="1.45"/><circle cx="620.2" cy="214.2" r="1.45"/><circle cx="591.5" cy="223.2" r="1.45"/><circle cx="580.5" cy="66.4" r="1.45"/><circle cx="594.0" cy="48.1" r="1.45"/><circle cx="592.0" cy="70.0" r="1.45"/><circle cx="612.5" cy="29.9" r="1.45"/><circle cx="611.0" cy="73.6" r="1.45"/><circle cx="617.0" cy="77.3" r="1.45"/><circle cx="599.3" cy="280.2" r="1.45"/><circle cx="619.0" cy="275.9" r="1.45"/><circle cx="612.4" cy="270.8" r="1.45"/><circle cx="601.7" cy="269.3" r="1.45"/><circle cx="591.5" cy="267.1" r="1.45"/><circle cx="586.3" cy="263.4" r="1.45"/><circle cx="596.1" cy="259.8" r="1.45"/><circle cx="596.5" cy="272.9" r="1.45"/><circle cx="630.0" cy="221.1" r="1.45"/><circle cx="633.0" cy="224.0" r="1.45"/><circle cx="636.0" cy="218.9" r="1.45"/><circle cx="639.0" cy="237.9" r="1.45"/><circle cx="637.0" cy="241.6" r="1.45"/><circle cx="642.0" cy="242.3" r="1.45"/><circle cx="644.0" cy="243.7" r="1.45"/><circle cx="634.0" cy="248.8" r="1.45"/><circle cx="636.0" cy="249.6" r="1.45"/><circle cx="633.0" cy="254.0" r="1.45"/><circle cx="635.0" cy="258.3" r="1.45"/><circle cx="631.0" cy="278.8" r="1.45"/><circle cx="644.0" cy="274.4" r="1.45"/><circle cx="648.0" cy="270.0" r="1.45"/><circle cx="648.0" cy="222.6" r="1.45"/><circle cx="655.0" cy="232.1" r="1.45"/><circle cx="661.0" cy="227.7" r="1.45"/><circle cx="662.0" cy="213.1" r="1.45"/><circle cx="668.0" cy="230.6" r="1.45"/><circle cx="661.0" cy="248.8" r="1.45"/><circle cx="663.0" cy="270.0" r="1.45"/><circle cx="662.0" cy="275.9" r="1.45"/>
</g>
<rect x="578" y="287.3" width="43.5" height="3.2" fill="#000"/>
<rect x="629" y="287.3" width="43.5" height="3.2" fill="#000"/>
<g stroke="#333" stroke-width="1.1" fill="none">
<path d="M41.3,333.6 V410.4 H681.3"/>
<path d="M37.7,346.4 H41.3"/>
<path d="M37.7,366.6 H41.3"/>
<path d="M37.7,386.6 H41.3"/>
<path d="M37.7,407.0 H41.3"/>
</g>
<text x="33" y="350.7" font-size="12" text-anchor="end" fill="#222">3</text>
<text x="33" y="370.9" font-size="12" text-anchor="end" fill="#222">2</text>
<text x="33" y="390.9" font-size="12" text-anchor="end" fill="#222">1</text>
<text x="33" y="411.3" font-size="12" text-anchor="end" fill="#222">0</text>
<text transform="translate(20,370.5) rotate(-90)" font-size="13" text-anchor="middle" fill="#222"><tspan font-style="italic">Angpt1</tspan> exp.</text>
<path d="M56.0,410.4 V413.5" stroke="#333" stroke-width="1.1"/>
<text x="56.0" y="427.3" font-size="12" text-anchor="middle" fill="#222">1</text>
<path d="M44.4,407 H67.6" stroke="#666" stroke-width="1.5"/>
<path d="M56.0,407 V374.0" stroke="#333" stroke-width="0.9"/>
<path d="M81.4,410.4 V413.5" stroke="#333" stroke-width="1.1"/>
<text x="81.4" y="427.3" font-size="12" text-anchor="middle" fill="#222">2</text>
<path d="M69.8,407 H93.0" stroke="#666" stroke-width="1.5"/>
<path d="M81.4,407 V380.6" stroke="#333" stroke-width="0.9"/>
<path d="M106.8,410.4 V413.5" stroke="#333" stroke-width="1.1"/>
<text x="106.8" y="427.3" font-size="12" text-anchor="middle" fill="#222">3</text>
<path d="M95.2,407 H118.4" stroke="#666" stroke-width="1.5"/>
<path d="M132.3,410.4 V413.5" stroke="#333" stroke-width="1.1"/>
<text x="132.3" y="427.3" font-size="12" text-anchor="middle" fill="#222">4</text>
<path d="M120.7,407 H143.9" stroke="#666" stroke-width="1.5"/>
<path d="M132.3,407 V395.0" stroke="#333" stroke-width="0.9"/>
<path d="M157.7,410.4 V413.5" stroke="#333" stroke-width="1.1"/>
<text x="157.7" y="427.3" font-size="12" text-anchor="middle" fill="#222">5</text>
<path d="M146.1,407 H169.3" stroke="#666" stroke-width="1.5"/>
<path d="M157.7,407 V397.0" stroke="#333" stroke-width="0.9"/>
<path d="M183.1,410.4 V413.5" stroke="#333" stroke-width="1.1"/>
<text x="183.1" y="427.3" font-size="12" text-anchor="middle" fill="#222">6</text>
<path d="M171.5,407 H194.7" stroke="#666" stroke-width="1.5"/>
<path d="M183.1,407 V381.0" stroke="#333" stroke-width="0.9"/>
<path d="M208.5,410.4 V413.5" stroke="#333" stroke-width="1.1"/>
<text x="208.5" y="427.3" font-size="12" text-anchor="middle" fill="#222">7</text>
<path d="M196.9,407 H220.1" stroke="#666" stroke-width="1.5"/>
<path d="M208.5,407 V369.0" stroke="#333" stroke-width="0.9"/>
<path d="M233.9,410.4 V413.5" stroke="#333" stroke-width="1.1"/>
<text x="233.9" y="427.3" font-size="12" text-anchor="middle" fill="#222">8</text>
<path d="M222.3,407 H245.5" stroke="#666" stroke-width="1.5"/>
<path d="M233.9,407 V383.0" stroke="#333" stroke-width="0.9"/>
<path d="M259.3,410.4 V413.5" stroke="#333" stroke-width="1.1"/>
<text x="259.3" y="427.3" font-size="12" text-anchor="middle" fill="#222">9</text>
<path d="M247.7,407 H270.9" stroke="#666" stroke-width="1.5"/>
<path d="M259.3,407 V386.0" stroke="#333" stroke-width="0.9"/>
<path d="M284.8,410.4 V413.5" stroke="#333" stroke-width="1.1"/>
<text x="284.8" y="427.3" font-size="12" text-anchor="middle" fill="#222">10</text>
<path d="M273.2,407 H296.4" stroke="#666" stroke-width="1.5"/>
<path d="M284.8,407 V384.0" stroke="#333" stroke-width="0.9"/>
<path d="M310.2,410.4 V413.5" stroke="#333" stroke-width="1.1"/>
<text x="310.2" y="427.3" font-size="12" text-anchor="middle" fill="#222">11</text>
<path d="M310.2,337.0 L310.7,362.0 L311.1,372.0 L312.0,380.0 L313.2,386.0 L313.3,390.0 L312.4,393.0 L311.2,396.0 L311.2,398.0 L313.2,400.5 L317.7,403.5 L320.7,405.5 L321.8,406.5 L321.8,407.5 L298.6,407.5 L298.6,406.5 L299.7,405.5 L302.7,403.5 L307.2,400.5 L309.2,398.0 L309.2,396.0 L308.0,393.0 L307.1,390.0 L307.2,386.0 L308.4,380.0 L309.3,372.0 L309.7,362.0 L310.2,337.0Z" fill="#00B8E5" stroke="#333" stroke-width="0.7"/>
<path d="M335.6,410.4 V413.5" stroke="#333" stroke-width="1.1"/>
<text x="335.6" y="427.3" font-size="12" text-anchor="middle" fill="#222">12</text>
<path d="M324.0,407 H347.2" stroke="#666" stroke-width="1.5"/>
<path d="M335.6,407 V358.0" stroke="#333" stroke-width="0.9"/>
<path d="M361.0,410.4 V413.5" stroke="#333" stroke-width="1.1"/>
<text x="361.0" y="427.3" font-size="12" text-anchor="middle" fill="#222">13</text>
<path d="M349.4,407 H372.6" stroke="#666" stroke-width="1.5"/>
<path d="M361.0,407 V363.0" stroke="#333" stroke-width="0.9"/>
<path d="M386.4,410.4 V413.5" stroke="#333" stroke-width="1.1"/>
<text x="386.4" y="427.3" font-size="12" text-anchor="middle" fill="#222">14</text>
<path d="M374.8,407 H398.0" stroke="#666" stroke-width="1.5"/>
<path d="M386.4,407 V359.0" stroke="#333" stroke-width="0.9"/>
<path d="M411.8,410.4 V413.5" stroke="#333" stroke-width="1.1"/>
<text x="411.8" y="427.3" font-size="12" text-anchor="middle" fill="#222">15</text>
<path d="M411.8,345.0 L412.6,358.0 L413.6,368.0 L414.6,376.0 L415.1,382.0 L414.2,386.0 L412.8,391.0 L412.6,397.0 L414.8,400.0 L419.3,403.5 L422.3,405.5 L423.4,406.8 L423.4,407.5 L400.2,407.5 L400.2,406.8 L401.3,405.5 L404.3,403.5 L408.8,400.0 L411.0,397.0 L410.8,391.0 L409.4,386.0 L408.5,382.0 L409.0,376.0 L410.0,368.0 L411.0,358.0 L411.8,345.0Z" fill="#00BF7D" stroke="#333" stroke-width="0.7"/>
<path d="M437.3,410.4 V413.5" stroke="#333" stroke-width="1.1"/>
<text x="437.3" y="427.3" font-size="12" text-anchor="middle" fill="#222">16</text>
<path d="M437.3,347.6 L439.8,360.0 L441.8,375.0 L443.5,386.0 L441.8,392.0 L438.8,397.0 L438.5,399.0 L442.3,402.0 L447.3,405.0 L448.7,406.8 L448.9,407.5 L425.7,407.5 L425.9,406.8 L427.3,405.0 L432.3,402.0 L436.1,399.0 L435.8,397.0 L432.8,392.0 L431.1,386.0 L432.8,375.0 L434.8,360.0 L437.3,347.6Z" fill="#00BC59" stroke="#333" stroke-width="0.7"/>
<path d="M462.7,410.4 V413.5" stroke="#333" stroke-width="1.1"/>
<text x="462.7" y="427.3" font-size="12" text-anchor="middle" fill="#222">17</text>
<path d="M451.1,407 H474.3" stroke="#666" stroke-width="1.5"/>
<path d="M462.7,407 V340.6" stroke="#333" stroke-width="0.9"/>
<path d="M488.1,410.4 V413.5" stroke="#333" stroke-width="1.1"/>
<text x="488.1" y="427.3" font-size="12" text-anchor="middle" fill="#222">18</text>
<path d="M476.5,407 H499.7" stroke="#666" stroke-width="1.5"/>
<path d="M488.1,407 V380.4" stroke="#333" stroke-width="0.9"/>
<path d="M513.5,410.4 V413.5" stroke="#333" stroke-width="1.1"/>
<text x="513.5" y="427.3" font-size="12" text-anchor="middle" fill="#222">19</text>
<path d="M501.9,407 H525.1" stroke="#666" stroke-width="1.5"/>
<path d="M513.5,407 V359.0" stroke="#333" stroke-width="0.9"/>
<path d="M538.9,410.4 V413.5" stroke="#333" stroke-width="1.1"/>
<text x="538.9" y="427.3" font-size="12" text-anchor="middle" fill="#222">20</text>
<path d="M527.3,407 H550.5" stroke="#666" stroke-width="1.5"/>
<path d="M538.9,407 V351.0" stroke="#333" stroke-width="0.9"/>
<path d="M564.3,410.4 V413.5" stroke="#333" stroke-width="1.1"/>
<text x="564.3" y="427.3" font-size="12" text-anchor="middle" fill="#222">21</text>
<path d="M552.7,407 H575.9" stroke="#666" stroke-width="1.5"/>
<path d="M564.3,407 V366.0" stroke="#333" stroke-width="0.9"/>
<path d="M589.8,410.4 V413.5" stroke="#333" stroke-width="1.1"/>
<text x="589.8" y="427.3" font-size="12" text-anchor="middle" fill="#222">22</text>
<path d="M578.2,407 H601.4" stroke="#666" stroke-width="1.5"/>
<path d="M589.8,407 V371.9" stroke="#333" stroke-width="0.9"/>
<path d="M615.2,410.4 V413.5" stroke="#333" stroke-width="1.1"/>
<text x="615.2" y="427.3" font-size="12" text-anchor="middle" fill="#222">23</text>
<path d="M603.6,407 H626.8" stroke="#666" stroke-width="1.5"/>
<path d="M615.2,407 V361.0" stroke="#333" stroke-width="0.9"/>
<path d="M640.6,410.4 V413.5" stroke="#333" stroke-width="1.1"/>
<text x="640.6" y="427.3" font-size="12" text-anchor="middle" fill="#222">24</text>
<path d="M629.0,407 H652.2" stroke="#666" stroke-width="1.5"/>
<path d="M640.6,407 V379.8" stroke="#333" stroke-width="0.9"/>
<path d="M666.0,410.4 V413.5" stroke="#333" stroke-width="1.1"/>
<text x="666.0" y="427.3" font-size="12" text-anchor="middle" fill="#222">25</text>
<path d="M654.4,407 H677.6" stroke="#666" stroke-width="1.5"/>
<path d="M666.0,407 V368.6" stroke="#333" stroke-width="0.9"/>
<path d="M11.0,483.6 H151.6 M66.6,498.7 H151.6 M83.6,513.8 H151.6 M97.4,529.0 H151.6 M97.4,544.1 H151.6 M42.0,559.2 H151.6 M81.6,574.3 H151.6 M124.4,589.4 H151.6 M124.4,604.6 H151.6 M75.6,619.7 H151.6 M103.4,634.8 H151.6 M109.4,649.9 H151.6 M109.4,665.0 H151.6 M94.0,680.2 H151.6 M121.4,695.3 H151.6 M121.4,710.4 H151.6 M121.4,725.5 H151.6 M121.4,740.6 H151.6 M85.4,755.8 H151.6 M108.4,770.9 H151.6 M108.4,786.0 H151.6 M65.4,801.1 H151.6 M78.4,816.2 H151.6 M98.6,831.4 H151.6 M98.6,846.5 H151.6 M11.0,576.0 H33.6 M33.6,512.0 H66.6 M66.6,525.0 H83.6 M83.6,536.0 H97.4 M33.6,640.0 H42.0 M42.0,721.0 H54.0 M54.0,627.6 H73.4 M73.4,585.6 H81.6 M81.6,597.0 H124.4 M73.4,669.6 H75.6 M75.6,720.0 H80.4 M80.4,672.4 H91.4 M91.4,646.4 H103.4 M103.4,657.6 H109.4 M91.4,699.0 H94.0 M94.0,718.0 H105.4 M105.4,702.4 H121.4 M105.4,733.0 H121.4 M80.4,767.0 H85.4 M85.4,778.0 H108.4 M54.0,814.4 H65.4 M65.4,827.4 H78.4 M78.4,839.0 H98.6 M11.0,483.6 V576.0 M33.6,512.0 V640.0 M66.6,498.6 V525.0 M83.6,513.6 V536.0 M97.4,529.0 V544.0 M42.0,559.0 V721.0 M54.0,627.6 V814.4 M73.4,585.6 V669.6 M81.6,574.4 V597.0 M124.4,590.0 V604.0 M75.6,619.6 V720.0 M80.4,672.4 V767.0 M91.4,646.4 V699.0 M103.4,634.6 V657.6 M109.4,650.0 V665.0 M94.0,680.0 V718.0 M105.4,702.4 V733.0 M121.4,696.0 V710.0 M121.4,726.0 V740.0 M85.4,755.6 V778.0 M108.4,771.0 V786.0 M65.4,801.6 V827.4 M78.4,816.4 V839.0 M98.6,831.6 V846.4" stroke="#777" stroke-width="1" fill="none"/>
<text x="151" y="481.8" font-size="11" text-anchor="end" fill="#1a1a1a">RPE</text>
<text x="169" y="483.0" font-size="11.4" font-weight="bold" text-anchor="end" fill="#FF6C90">1</text>
<text x="151" y="496.9" font-size="11" text-anchor="end" fill="#1a1a1a">LSC</text>
<text x="169" y="498.1" font-size="11.4" font-weight="bold" text-anchor="end" fill="#FF65AE">2</text>
<text x="151" y="512.0" font-size="11" text-anchor="end" fill="#1a1a1a">Conj. ep</text>
<text x="169" y="513.2" font-size="11.4" font-weight="bold" text-anchor="end" fill="#FF61C9">3</text>
<text x="151" y="527.2" font-size="11" text-anchor="end" fill="#1a1a1a">Lim. ep</text>
<text x="169" y="528.4" font-size="11.4" font-weight="bold" text-anchor="end" fill="#F763E0">4</text>
<text x="151" y="542.3" font-size="11" text-anchor="end" fill="#1a1a1a">Cor. ep</text>
<text x="169" y="543.5" font-size="11.4" font-weight="bold" text-anchor="end" fill="#E76BF3">5</text>
<text x="151" y="557.4" font-size="11" text-anchor="end" fill="#1a1a1a">Endo</text>
<text x="169" y="558.6" font-size="11.4" font-weight="bold" text-anchor="end" fill="#CF78FF">6</text>
<text x="151" y="572.5" font-size="11" text-anchor="end" fill="#1a1a1a">PE/NPE</text>
<text x="169" y="573.7" font-size="11.4" font-weight="bold" text-anchor="end" fill="#AC88FF">7</text>
<text x="151" y="587.6" font-size="11" text-anchor="end" fill="#1a1a1a">Mela</text>
<text x="169" y="588.8" font-size="11.4" font-weight="bold" text-anchor="end" fill="#7997FF">8</text>
<text x="151" y="602.8" font-size="11" text-anchor="end" fill="#1a1a1a">Mela</text>
<text x="169" y="604.0" font-size="11.4" font-weight="bold" text-anchor="end" fill="#00A5FF">9</text>
<text x="151" y="617.9" font-size="11" text-anchor="end" fill="#1a1a1a">Astro</text>
<text x="169" y="619.1" font-size="11.4" font-weight="bold" text-anchor="end" fill="#00B0F6">10</text>
<text x="151" y="633.0" font-size="11" text-anchor="end" fill="#1a1a1a">TM</text>
<text x="169" y="634.2" font-size="11.4" font-weight="bold" text-anchor="end" fill="#00B8E5">11</text>
<text x="151" y="648.1" font-size="11" text-anchor="end" fill="#1a1a1a">Cor. str</text>
<text x="169" y="649.3" font-size="11.4" font-weight="bold" text-anchor="end" fill="#00BDD0">12</text>
<text x="151" y="663.2" font-size="11" text-anchor="end" fill="#1a1a1a">Cor. str</text>
<text x="169" y="664.4" font-size="11.4" font-weight="bold" text-anchor="end" fill="#00C0B8">13</text>
<text x="151" y="678.4" font-size="11" text-anchor="end" fill="#1a1a1a">Cor. str/TM</text>
<text x="169" y="679.6" font-size="11.4" font-weight="bold" text-anchor="end" fill="#00C19C">14</text>
<text x="151" y="693.5" font-size="11" text-anchor="end" fill="#1a1a1a">Uveal</text>
<text x="169" y="694.7" font-size="11.4" font-weight="bold" text-anchor="end" fill="#00BF7D">15</text>
<text x="151" y="708.6" font-size="11" text-anchor="end" fill="#1a1a1a">TM</text>
<text x="169" y="709.8" font-size="11.4" font-weight="bold" text-anchor="end" fill="#00BC59">16</text>
<text x="151" y="723.7" font-size="11" text-anchor="end" fill="#1a1a1a">Uveal</text>
<text x="169" y="724.9" font-size="11.4" font-weight="bold" text-anchor="end" fill="#00B81F">17</text>
<text x="151" y="738.8" font-size="11" text-anchor="end" fill="#1a1a1a">Uveal</text>
<text x="169" y="740.0" font-size="11.4" font-weight="bold" text-anchor="end" fill="#5BB300">18</text>
<text x="151" y="754.0" font-size="11" text-anchor="end" fill="#1a1a1a">SMC</text>
<text x="169" y="755.2" font-size="11.4" font-weight="bold" text-anchor="end" fill="#85AD00">19</text>
<text x="151" y="769.1" font-size="11" text-anchor="end" fill="#1a1a1a">Pericyte</text>
<text x="169" y="770.3" font-size="11.4" font-weight="bold" text-anchor="end" fill="#A3A500">20</text>
<text x="151" y="784.2" font-size="11" text-anchor="end" fill="#1a1a1a">vSMC</text>
<text x="169" y="785.4" font-size="11.4" font-weight="bold" text-anchor="end" fill="#BB9D00">21</text>
<text x="151" y="799.3" font-size="11" text-anchor="end" fill="#1a1a1a">B/T cell</text>
<text x="169" y="800.5" font-size="11.4" font-weight="bold" text-anchor="end" fill="#CF9400">22</text>
<text x="151" y="814.4" font-size="11" text-anchor="end" fill="#1a1a1a">Mono</text>
<text x="169" y="815.6" font-size="11.4" font-weight="bold" text-anchor="end" fill="#E08B00">23</text>
<text x="151" y="829.6" font-size="11" text-anchor="end" fill="#1a1a1a">Mono</text>
<text x="169" y="830.8" font-size="11.4" font-weight="bold" text-anchor="end" fill="#ED8141">24</text>
<text x="151" y="844.7" font-size="11" text-anchor="end" fill="#1a1a1a">Mono</text>
<text x="169" y="845.9" font-size="11.4" font-weight="bold" text-anchor="end" fill="#F8766D">25</text>
<path d="M174.2,493.1 H179.2 M174.2,508.3 H182.2 M174.2,523.4 H178.2 M174.2,538.6 H180.2 M174.2,553.7 H181.2 M174.2,568.8 H178.2 M174.2,584.0 H177.2 M174.2,599.1 H181.2 M174.2,614.3 H179.2 M174.2,629.4 H182.2 M174.2,644.5 H179.2 M174.2,659.7 H179.2 M174.2,674.8 H181.2 M174.2,690.0 H182.2 M174.2,705.1 H182.2 M174.2,720.2 H181.2 M174.2,735.4 H180.2 M174.2,750.5 H178.2 M174.2,765.7 H179.2 M174.2,780.8 H178.2 M174.2,795.9 H182.2 M174.2,811.1 H180.2 M174.2,826.2 H177.2 M174.2,841.4 H178.2" stroke="#888" stroke-width="1" fill="none"/>
<path d="M174.2,475.0 L177.2,476.0 L180.2,477.0 L182.2,476.0 L184.2,473.0 L186.7,471.0 L188.2,471.5 L189.2,474.0 L189.6,478.0 L189.6,478.0 L189.2,482.0 L188.2,484.5 L186.7,485.0 L184.2,483.0 L182.2,480.0 L180.2,479.0 L177.2,480.0 L174.2,481.0 Z" fill="#FF6C90" stroke="#333" stroke-width="0.6" stroke-linejoin="round"/>
<path d="M174.2,468 V850.3 H190.6" stroke="#111" stroke-width="1.6" fill="none"/>
<text transform="translate(174.7,862.8) rotate(45)" font-size="13.6" fill="#1a1a1a">Rpe65</text>
<path d="M200.9,478.0 H204.9 M200.9,523.4 H203.9 M200.9,538.6 H205.9 M200.9,553.7 H203.9 M200.9,568.8 H205.9 M200.9,584.0 H207.9 M200.9,599.1 H206.9 M200.9,614.3 H206.9 M200.9,629.4 H206.9 M200.9,644.5 H207.9 M200.9,659.7 H204.9 M200.9,674.8 H206.9 M200.9,690.0 H204.9 M200.9,705.1 H203.9 M200.9,720.2 H204.9 M200.9,735.4 H207.9 M200.9,750.5 H205.9 M200.9,765.7 H205.9 M200.9,780.8 H206.9 M200.9,795.9 H205.9 M200.9,811.1 H206.9 M200.9,826.2 H208.9 M200.9,841.4 H206.9" stroke="#888" stroke-width="1" fill="none"/>
<path d="M200.9,489.6 L201.9,490.6 L203.4,492.1 L205.9,492.7 L213.9,493.1 L213.9,493.1 L205.9,493.5 L203.4,494.1 L201.9,495.6 L200.9,496.6 Z" fill="#FF65AE" stroke="#333" stroke-width="0.6" stroke-linejoin="round"/>
<path d="M200.9,502.3 L202.9,503.8 L205.9,505.3 L209.9,506.5 L212.9,507.5 L215.9,508.3 L215.9,508.3 L212.9,509.1 L209.9,510.1 L205.9,511.3 L202.9,512.8 L200.9,514.3 Z" fill="#FF61C9" stroke="#333" stroke-width="0.6" stroke-linejoin="round"/>
<path d="M200.9,468 V850.3 H217.3" stroke="#111" stroke-width="1.6" fill="none"/>
<text transform="translate(201.4,862.8) rotate(45)" font-size="13.6" fill="#1a1a1a">Krt13</text>
<path d="M227.6,478.0 H233.6 M227.6,553.7 H235.6 M227.6,568.8 H233.6 M227.6,584.0 H232.6 M227.6,599.1 H233.6 M227.6,614.3 H230.6 M227.6,629.4 H232.6 M227.6,644.5 H231.6 M227.6,659.7 H233.6 M227.6,674.8 H235.6 M227.6,690.0 H231.6 M227.6,705.1 H232.6 M227.6,720.2 H232.6 M227.6,735.4 H232.6 M227.6,750.5 H231.6 M227.6,765.7 H231.6 M227.6,780.8 H234.6 M227.6,795.9 H234.6 M227.6,811.1 H231.6 M227.6,826.2 H233.6 M227.6,841.4 H231.6" stroke="#888" stroke-width="1" fill="none"/>
<path d="M227.6,492.7 L232.6,492.6 L234.6,490.1 L237.1,486.1 L238.6,489.1 L240.6,493.1 L240.6,493.1 L238.6,497.1 L237.1,500.1 L234.6,496.1 L232.6,493.6 L227.6,493.5 Z" fill="#FF65AE" stroke="#333" stroke-width="0.6" stroke-linejoin="round"/>
<path d="M227.6,507.8 L231.6,507.3 L233.6,505.3 L237.6,501.3 L240.6,504.3 L243.0,508.3 L243.0,508.3 L240.6,512.3 L237.6,515.3 L233.6,511.3 L231.6,509.3 L227.6,508.8 Z" fill="#FF61C9" stroke="#333" stroke-width="0.6" stroke-linejoin="round"/>
<path d="M227.6,521.9 L230.6,520.4 L235.1,516.4 L237.6,518.4 L240.0,523.4 L240.0,523.4 L237.6,528.4 L235.1,530.4 L230.6,526.4 L227.6,524.9 Z" fill="#F763E0" stroke="#333" stroke-width="0.6" stroke-linejoin="round"/>
<path d="M227.6,535.6 L228.6,537.1 L231.6,538.1 L241.6,538.6 L241.6,538.6 L231.6,539.1 L228.6,540.1 L227.6,541.6 Z" fill="#E76BF3" stroke="#333" stroke-width="0.6" stroke-linejoin="round"/>
<path d="M227.6,468 V850.3 H244.0" stroke="#111" stroke-width="1.6" fill="none"/>
<text transform="translate(228.1,862.8) rotate(45)" font-size="13.6" fill="#1a1a1a">Krt15</text>
<path d="M254.2,478.0 H260.2 M254.2,553.7 H258.2 M254.2,568.8 H257.2 M254.2,584.0 H259.2 M254.2,599.1 H260.2 M254.2,614.3 H260.2 M254.2,629.4 H258.2 M254.2,644.5 H257.2 M254.2,659.7 H257.2 M254.2,674.8 H260.2 M254.2,690.0 H260.2 M254.2,705.1 H262.2 M254.2,720.2 H259.2 M254.2,735.4 H262.2 M254.2,750.5 H259.2 M254.2,765.7 H257.2 M254.2,780.8 H259.2 M254.2,795.9 H257.2 M254.2,811.1 H258.2 M254.2,826.2 H258.2 M254.2,841.4 H262.2" stroke="#888" stroke-width="1" fill="none"/>
<path d="M254.2,489.1 L255.2,490.6 L257.2,491.6 L260.2,492.5 L264.2,493.1 L264.2,493.1 L260.2,493.7 L257.2,494.6 L255.2,495.6 L254.2,497.1 Z" fill="#FF65AE" stroke="#333" stroke-width="0.6" stroke-linejoin="round"/>
<path d="M254.2,502.3 L256.2,505.3 L259.2,506.5 L263.2,507.1 L267.8,508.3 L267.8,508.3 L263.2,509.5 L259.2,510.1 L256.2,511.3 L254.2,514.3 Z" fill="#FF61C9" stroke="#333" stroke-width="0.6" stroke-linejoin="round"/>
<path d="M254.2,517.4 L256.2,520.4 L259.2,521.6 L263.2,522.2 L266.4,523.4 L266.4,523.4 L263.2,524.6 L259.2,525.2 L256.2,526.4 L254.2,529.4 Z" fill="#F763E0" stroke="#333" stroke-width="0.6" stroke-linejoin="round"/>
<path d="M254.2,538.3 L257.2,538.1 L259.2,536.1 L264.8,531.6 L267.2,534.6 L269.2,538.6 L269.2,538.6 L267.2,542.6 L264.8,545.6 L259.2,541.1 L257.2,539.1 L254.2,538.9 Z" fill="#E76BF3" stroke="#333" stroke-width="0.6" stroke-linejoin="round"/>
<path d="M254.2,468 V850.3 H270.6" stroke="#111" stroke-width="1.6" fill="none"/>
<text transform="translate(254.7,862.8) rotate(45)" font-size="13.6" fill="#1a1a1a">Krt12</text>
<path d="M280.9,478.0 H283.9 M280.9,493.1 H285.9 M280.9,508.3 H286.9 M280.9,523.4 H285.9 M280.9,538.6 H285.9 M280.9,568.8 H284.9 M280.9,584.0 H283.9 M280.9,599.1 H286.9 M280.9,614.3 H286.9 M280.9,629.4 H286.9 M280.9,644.5 H284.9 M280.9,659.7 H286.9 M280.9,674.8 H286.9 M280.9,690.0 H287.9 M280.9,705.1 H288.9 M280.9,720.2 H286.9 M280.9,735.4 H288.9 M280.9,750.5 H284.9 M280.9,765.7 H288.9 M280.9,780.8 H285.9 M280.9,795.9 H286.9 M280.9,811.1 H285.9 M280.9,826.2 H285.9 M280.9,841.4 H286.9" stroke="#888" stroke-width="1" fill="none"/>
<path d="M280.9,553.4 L284.4,553.2 L286.9,550.2 L290.4,547.0 L292.9,550.2 L295.5,553.7 L295.5,553.7 L292.9,557.2 L290.4,560.4 L286.9,557.2 L284.4,554.2 L280.9,554.0 Z" fill="#CF78FF" stroke="#333" stroke-width="0.6" stroke-linejoin="round"/>
<path d="M280.9,468 V850.3 H297.3" stroke="#111" stroke-width="1.6" fill="none"/>
<text transform="translate(281.4,862.8) rotate(45)" font-size="13.6" fill="#1a1a1a">Cdh5</text>
<path d="M307.6,478.0 H312.6 M307.6,493.1 H315.6 M307.6,508.3 H312.6 M307.6,523.4 H315.6 M307.6,538.6 H313.6 M307.6,553.7 H310.6 M307.6,584.0 H313.6 M307.6,599.1 H313.6 M307.6,614.3 H310.6 M307.6,629.4 H313.6 M307.6,644.5 H311.6 M307.6,659.7 H310.6 M307.6,674.8 H313.6 M307.6,690.0 H314.6 M307.6,705.1 H313.6 M307.6,720.2 H313.6 M307.6,735.4 H312.6 M307.6,750.5 H314.6 M307.6,765.7 H310.6 M307.6,780.8 H310.6 M307.6,795.9 H310.6 M307.6,811.1 H313.6 M307.6,826.2 H312.6 M307.6,841.4 H314.6" stroke="#888" stroke-width="1" fill="none"/>
<path d="M307.6,565.8 L309.6,566.8 L311.6,567.3 L313.6,566.3 L316.2,562.0 L318.6,563.8 L321.1,565.8 L322.6,568.8 L322.6,568.8 L321.1,571.8 L318.6,573.8 L316.2,575.6 L313.6,571.3 L311.6,570.3 L309.6,570.8 L307.6,571.8 Z" fill="#AC88FF" stroke="#333" stroke-width="0.6" stroke-linejoin="round"/>
<path d="M307.6,468 V850.3 H324.0" stroke="#111" stroke-width="1.6" fill="none"/>
<text transform="translate(308.1,862.8) rotate(45)" font-size="13.6" fill="#1a1a1a">Pcp4</text>
<path d="M334.3,493.1 H339.3 M334.3,508.3 H340.3 M334.3,523.4 H338.3 M334.3,538.6 H340.3 M334.3,553.7 H338.3 M334.3,614.3 H340.3 M334.3,629.4 H340.3 M334.3,644.5 H339.3 M334.3,659.7 H339.3 M334.3,674.8 H340.3 M334.3,690.0 H338.3 M334.3,705.1 H337.3 M334.3,720.2 H338.3 M334.3,735.4 H339.3 M334.3,750.5 H342.3 M334.3,765.7 H339.3 M334.3,780.8 H339.3 M334.3,795.9 H339.3 M334.3,811.1 H340.3 M334.3,826.2 H338.3 M334.3,841.4 H340.3" stroke="#888" stroke-width="1" fill="none"/>
<path d="M334.3,477.0 L336.3,475.0 L339.1,471.0 L341.3,474.0 L343.7,478.0 L343.7,478.0 L341.3,482.0 L339.1,485.0 L336.3,481.0 L334.3,479.0 Z" fill="#FF6C90" stroke="#333" stroke-width="0.6" stroke-linejoin="round"/>
<path d="M334.3,566.3 L336.3,567.3 L338.3,566.8 L340.3,564.8 L342.7,562.3 L345.3,565.8 L347.7,568.8 L347.7,568.8 L345.3,571.8 L342.7,575.3 L340.3,572.8 L338.3,570.8 L336.3,570.3 L334.3,571.3 Z" fill="#AC88FF" stroke="#333" stroke-width="0.6" stroke-linejoin="round"/>
<path d="M342.7,584.0 L345.7,577.0 L347.3,580.0 L349.1,584.0 L349.1,584.0 L347.3,588.0 L345.7,591.0 L342.7,584.0 Z" fill="#7997FF" stroke="#333" stroke-width="0.6" stroke-linejoin="round"/>
<path d="M334.3,598.8 L340.3,598.5 L342.3,596.1 L344.7,592.1 L346.7,596.1 L348.7,599.1 L348.7,599.1 L346.7,602.1 L344.7,606.1 L342.3,602.1 L340.3,599.7 L334.3,599.4 Z" fill="#00A5FF" stroke="#333" stroke-width="0.6" stroke-linejoin="round"/>
<path d="M334.3,468 V850.3 H350.7" stroke="#111" stroke-width="1.6" fill="none"/>
<text transform="translate(334.8,862.8) rotate(45)" font-size="13.6" fill="#1a1a1a">Mlana</text>
<path d="M361.0,478.0 H365.0 M361.0,493.1 H365.0 M361.0,508.3 H367.0 M361.0,523.4 H367.0 M361.0,538.6 H366.0 M361.0,553.7 H368.0 M361.0,568.8 H365.0 M361.0,584.0 H365.0 M361.0,599.1 H367.0 M361.0,629.4 H366.0 M361.0,644.5 H368.0 M361.0,659.7 H366.0 M361.0,674.8 H366.0 M361.0,690.0 H365.0 M361.0,705.1 H364.0 M361.0,720.2 H369.0 M361.0,735.4 H366.0 M361.0,750.5 H367.0 M361.0,765.7 H365.0 M361.0,780.8 H366.0 M361.0,795.9 H367.0 M361.0,811.1 H365.0 M361.0,826.2 H367.0 M361.0,841.4 H365.0" stroke="#888" stroke-width="1" fill="none"/>
<path d="M361.0,607.8 L362.5,610.3 L365.0,611.8 L369.0,612.8 L373.0,613.6 L376.0,614.3 L376.0,614.3 L373.0,615.0 L369.0,615.8 L365.0,616.8 L362.5,618.3 L361.0,620.8 Z" fill="#00B0F6" stroke="#333" stroke-width="0.6" stroke-linejoin="round"/>
<path d="M361.0,468 V850.3 H377.4" stroke="#111" stroke-width="1.6" fill="none"/>
<text transform="translate(361.5,862.8) rotate(45)" font-size="13.6" fill="#1a1a1a">Gfap</text>
<path d="M387.6,478.0 H393.6 M387.6,493.1 H392.6 M387.6,508.3 H395.6 M387.6,523.4 H392.6 M387.6,538.6 H394.6 M387.6,553.7 H393.6 M387.6,568.8 H393.6 M387.6,584.0 H392.6 M387.6,599.1 H393.6 M387.6,614.3 H393.6 M387.6,659.7 H390.6 M387.6,690.0 H393.6 M387.6,720.2 H391.6 M387.6,735.4 H392.6 M387.6,750.5 H390.6 M387.6,765.7 H394.6 M387.6,780.8 H395.6 M387.6,795.9 H393.6 M387.6,811.1 H395.6 M387.6,826.2 H392.6 M387.6,841.4 H390.6" stroke="#888" stroke-width="1" fill="none"/>
<path d="M387.6,623.4 L389.6,625.4 L392.6,625.9 L396.6,624.9 L399.6,625.4 L401.6,626.9 L403.0,629.4 L403.0,629.4 L401.6,631.9 L399.6,633.4 L396.6,633.9 L392.6,632.9 L389.6,633.4 L387.6,635.4 Z" fill="#00B8E5" stroke="#333" stroke-width="0.6" stroke-linejoin="round"/>
<path d="M387.6,639.5 L388.6,642.0 L390.6,643.5 L393.6,643.9 L402.0,644.5 L402.0,644.5 L393.6,645.1 L390.6,645.5 L388.6,647.0 L387.6,649.5 Z" fill="#00BDD0" stroke="#333" stroke-width="0.6" stroke-linejoin="round"/>
<path d="M387.6,668.3 L389.1,671.8 L391.6,673.0 L395.6,673.3 L400.0,674.8 L400.0,674.8 L395.6,676.3 L391.6,676.6 L389.1,677.8 L387.6,681.3 Z" fill="#00C19C" stroke="#333" stroke-width="0.6" stroke-linejoin="round"/>
<path d="M387.6,698.1 L389.1,701.6 L391.6,703.1 L396.6,703.6 L403.0,705.1 L403.0,705.1 L396.6,706.6 L391.6,707.1 L389.1,708.6 L387.6,712.1 Z" fill="#00BC59" stroke="#333" stroke-width="0.6" stroke-linejoin="round"/>
<path d="M387.6,468 V850.3 H404.0" stroke="#111" stroke-width="1.6" fill="none"/>
<text transform="translate(388.1,862.8) rotate(45)" font-size="13.6" fill="#1a1a1a">Myoc</text>
<path d="M414.3,493.1 H421.3 M414.3,508.3 H422.3 M414.3,523.4 H419.3 M414.3,538.6 H422.3 M414.3,553.7 H420.3 M414.3,568.8 H419.3 M414.3,584.0 H418.3 M414.3,599.1 H419.3 M414.3,614.3 H418.3 M414.3,674.8 H419.3 M414.3,690.0 H417.3 M414.3,720.2 H417.3 M414.3,735.4 H422.3 M414.3,750.5 H419.3 M414.3,765.7 H420.3 M414.3,780.8 H417.3 M414.3,795.9 H417.3 M414.3,811.1 H421.3 M414.3,826.2 H418.3 M414.3,841.4 H418.3" stroke="#888" stroke-width="1" fill="none"/>
<path d="M414.3,473.0 L417.3,475.0 L420.3,477.4 L420.7,478.0 L420.7,478.0 L420.3,478.6 L417.3,481.0 L414.3,483.0 Z" fill="#FF6C90" stroke="#333" stroke-width="0.6" stroke-linejoin="round"/>
<path d="M414.3,624.4 L416.3,624.9 L420.3,626.4 L424.3,627.9 L428.7,629.4 L428.7,629.4 L424.3,630.9 L420.3,632.4 L416.3,633.9 L414.3,634.4 Z" fill="#00B8E5" stroke="#333" stroke-width="0.6" stroke-linejoin="round"/>
<path d="M414.3,638.5 L416.3,640.5 L420.3,642.0 L424.3,643.3 L427.7,644.5 L427.7,644.5 L424.3,645.7 L420.3,647.0 L416.3,648.5 L414.3,650.5 Z" fill="#00BDD0" stroke="#333" stroke-width="0.6" stroke-linejoin="round"/>
<path d="M414.3,655.7 L415.3,658.2 L417.3,659.1 L427.7,659.7 L427.7,659.7 L417.3,660.3 L415.3,661.2 L414.3,663.7 Z" fill="#00C0B8" stroke="#333" stroke-width="0.6" stroke-linejoin="round"/>
<path d="M414.3,698.1 L416.3,700.6 L420.3,701.1 L424.3,700.6 L427.3,702.1 L428.7,705.1 L428.7,705.1 L427.3,708.1 L424.3,709.6 L420.3,709.1 L416.3,709.6 L414.3,712.1 Z" fill="#00BC59" stroke="#333" stroke-width="0.6" stroke-linejoin="round"/>
<path d="M414.3,468 V850.3 H430.7" stroke="#111" stroke-width="1.6" fill="none"/>
<text transform="translate(414.8,862.8) rotate(45)" font-size="13.6" fill="#1a1a1a">Chil1</text>
<path d="M441.0,478.0 H449.0 M441.0,493.1 H446.0 M441.0,508.3 H446.0 M441.0,523.4 H444.0 M441.0,538.6 H449.0 M441.0,553.7 H449.0 M441.0,568.8 H447.0 M441.0,584.0 H444.0 M441.0,599.1 H445.0 M441.0,614.3 H447.0 M441.0,629.4 H445.0 M441.0,674.8 H446.0 M441.0,690.0 H449.0 M441.0,705.1 H448.0 M441.0,720.2 H444.0 M441.0,735.4 H447.0 M441.0,750.5 H446.0 M441.0,765.7 H446.0 M441.0,780.8 H445.0 M441.0,795.9 H449.0 M441.0,811.1 H445.0 M441.0,826.2 H445.0 M441.0,841.4 H446.0" stroke="#888" stroke-width="1" fill="none"/>
<path d="M441.0,638.5 L443.0,641.0 L445.0,643.0 L447.0,643.5 L450.0,641.5 L452.0,641.5 L454.0,643.0 L456.0,644.5 L456.0,644.5 L454.0,646.0 L452.0,647.5 L450.0,647.5 L447.0,645.5 L445.0,646.0 L443.0,648.0 L441.0,650.5 Z" fill="#00BDD0" stroke="#333" stroke-width="0.6" stroke-linejoin="round"/>
<path d="M441.0,658.7 L444.0,657.2 L447.0,654.7 L449.5,652.7 L452.0,655.7 L454.6,659.7 L454.6,659.7 L452.0,663.7 L449.5,666.7 L447.0,664.7 L444.0,662.2 L441.0,660.7 Z" fill="#00C0B8" stroke="#333" stroke-width="0.6" stroke-linejoin="round"/>
<path d="M441.0,468 V850.3 H457.4" stroke="#111" stroke-width="1.6" fill="none"/>
<text transform="translate(441.5,862.8) rotate(45)" font-size="13.6" fill="#1a1a1a">Kera</text>
<path d="M467.7,478.0 H472.7 M467.7,493.1 H471.7 M467.7,508.3 H470.7 M467.7,523.4 H474.7 M467.7,538.6 H473.7 M467.7,568.8 H470.7 M467.7,584.0 H472.7 M467.7,599.1 H472.7 M467.7,614.3 H472.7 M467.7,629.4 H475.7 M467.7,690.0 H475.7 M467.7,720.2 H473.7 M467.7,735.4 H470.7 M467.7,750.5 H474.7 M467.7,765.7 H473.7 M467.7,780.8 H470.7 M467.7,795.9 H470.7 M467.7,811.1 H471.7 M467.7,826.2 H470.7 M467.7,841.4 H471.7" stroke="#888" stroke-width="1" fill="none"/>
<path d="M467.7,551.7 L469.7,552.2 L471.7,551.2 L474.1,546.7 L476.7,549.7 L480.7,553.7 L480.7,553.7 L476.7,557.7 L474.1,560.7 L471.7,556.2 L469.7,555.2 L467.7,555.7 Z" fill="#CF78FF" stroke="#333" stroke-width="0.6" stroke-linejoin="round"/>
<path d="M467.7,640.5 L468.7,643.0 L470.7,643.9 L476.7,644.5 L476.7,644.5 L470.7,645.1 L468.7,646.0 L467.7,648.5 Z" fill="#00BDD0" stroke="#333" stroke-width="0.6" stroke-linejoin="round"/>
<path d="M467.7,653.7 L469.7,656.7 L472.7,657.2 L476.7,658.2 L482.1,659.7 L482.1,659.7 L476.7,661.2 L472.7,662.2 L469.7,662.7 L467.7,665.7 Z" fill="#00C0B8" stroke="#333" stroke-width="0.6" stroke-linejoin="round"/>
<path d="M467.7,671.8 L470.7,670.3 L476.1,667.8 L479.2,671.3 L482.7,674.8 L482.7,674.8 L479.2,678.3 L476.1,681.8 L470.7,679.3 L467.7,677.8 Z" fill="#00C19C" stroke="#333" stroke-width="0.6" stroke-linejoin="round"/>
<path d="M467.7,699.6 L469.2,703.1 L471.7,703.9 L475.7,704.3 L479.1,705.1 L479.1,705.1 L475.7,705.9 L471.7,706.3 L469.2,707.1 L467.7,710.6 Z" fill="#00BC59" stroke="#333" stroke-width="0.6" stroke-linejoin="round"/>
<path d="M467.7,468 V850.3 H484.1" stroke="#111" stroke-width="1.6" fill="none"/>
<text transform="translate(468.2,862.8) rotate(45)" font-size="13.6" fill="#1a1a1a">Cd34</text>
<path d="M494.4,553.7 H497.4 M494.4,568.8 H498.4 M494.4,584.0 H501.4 M494.4,599.1 H497.4 M494.4,614.3 H498.4 M494.4,644.5 H502.4 M494.4,659.7 H502.4 M494.4,735.4 H501.4 M494.4,780.8 H500.4 M494.4,795.9 H498.4 M494.4,811.1 H500.4 M494.4,826.2 H498.4 M494.4,841.4 H500.4" stroke="#888" stroke-width="1" fill="none"/>
<path d="M494.4,476.0 L496.4,474.0 L498.4,471.0 L500.4,473.0 L502.4,475.0 L503.4,477.0 L505.8,478.0 L505.8,478.0 L503.4,479.0 L502.4,481.0 L500.4,483.0 L498.4,485.0 L496.4,482.0 L494.4,480.0 Z" fill="#FF6C90" stroke="#333" stroke-width="0.6" stroke-linejoin="round"/>
<path d="M494.4,489.1 L496.4,486.6 L498.4,488.1 L499.9,491.1 L500.4,493.1 L500.4,493.1 L499.9,495.1 L498.4,498.1 L496.4,499.6 L494.4,497.1 Z" fill="#FF65AE" stroke="#333" stroke-width="0.6" stroke-linejoin="round"/>
<path d="M494.4,503.3 L496.4,502.3 L499.4,504.3 L501.4,506.3 L502.8,508.3 L502.8,508.3 L501.4,510.3 L499.4,512.3 L496.4,514.3 L494.4,513.3 Z" fill="#FF61C9" stroke="#333" stroke-width="0.6" stroke-linejoin="round"/>
<path d="M494.4,519.4 L496.4,518.4 L499.4,520.4 L501.8,523.4 L501.8,523.4 L499.4,526.4 L496.4,528.4 L494.4,527.4 Z" fill="#F763E0" stroke="#333" stroke-width="0.6" stroke-linejoin="round"/>
<path d="M494.4,535.1 L497.4,534.1 L499.4,536.1 L500.8,538.6 L500.8,538.6 L499.4,541.1 L497.4,543.1 L494.4,542.1 Z" fill="#E76BF3" stroke="#333" stroke-width="0.6" stroke-linejoin="round"/>
<path d="M494.4,625.4 L496.4,627.4 L499.4,625.9 L501.4,626.4 L505.8,629.4 L505.8,629.4 L501.4,632.4 L499.4,632.9 L496.4,631.4 L494.4,633.4 Z" fill="#00B8E5" stroke="#333" stroke-width="0.6" stroke-linejoin="round"/>
<path d="M494.4,671.8 L495.4,673.8 L498.4,674.0 L504.4,674.8 L504.4,674.8 L498.4,675.6 L495.4,675.8 L494.4,677.8 Z" fill="#00C19C" stroke="#333" stroke-width="0.6" stroke-linejoin="round"/>
<path d="M494.4,685.0 L496.4,684.5 L501.8,683.5 L505.4,686.0 L508.8,690.0 L508.8,690.0 L505.4,694.0 L501.8,696.5 L496.4,695.5 L494.4,695.0 Z" fill="#00BF7D" stroke="#333" stroke-width="0.6" stroke-linejoin="round"/>
<path d="M494.4,700.1 L496.4,699.1 L501.8,698.1 L505.4,700.6 L508.8,705.1 L508.8,705.1 L505.4,709.6 L501.8,712.1 L496.4,711.1 L494.4,710.1 Z" fill="#00BC59" stroke="#333" stroke-width="0.6" stroke-linejoin="round"/>
<path d="M494.4,717.2 L496.4,719.2 L498.4,719.0 L500.4,719.2 L504.8,720.2 L504.8,720.2 L500.4,721.2 L498.4,721.4 L496.4,721.2 L494.4,723.2 Z" fill="#00B81F" stroke="#333" stroke-width="0.6" stroke-linejoin="round"/>
<path d="M494.4,747.5 L496.4,749.0 L499.4,748.5 L501.4,749.5 L503.8,750.5 L503.8,750.5 L501.4,751.5 L499.4,752.5 L496.4,752.0 L494.4,753.5 Z" fill="#85AD00" stroke="#333" stroke-width="0.6" stroke-linejoin="round"/>
<path d="M494.4,761.7 L496.4,763.7 L499.4,763.2 L503.4,764.7 L507.8,765.7 L507.8,765.7 L503.4,766.7 L499.4,768.2 L496.4,767.7 L494.4,769.7 Z" fill="#A3A500" stroke="#333" stroke-width="0.6" stroke-linejoin="round"/>
<path d="M494.4,468 V850.3 H510.8" stroke="#111" stroke-width="1.6" fill="none"/>
<text transform="translate(494.9,862.8) rotate(45)" font-size="13.6" fill="#1a1a1a">Gpc3</text>
<path d="M521.0,478.0 H527.0 M521.0,493.1 H527.0 M521.0,508.3 H526.0 M521.0,523.4 H527.0 M521.0,538.6 H526.0 M521.0,553.7 H526.0 M521.0,584.0 H527.0 M521.0,599.1 H527.0 M521.0,614.3 H525.0 M521.0,629.4 H525.0 M521.0,644.5 H529.0 M521.0,659.7 H524.0 M521.0,674.8 H527.0 M521.0,705.1 H525.0 M521.0,750.5 H525.0 M521.0,765.7 H524.0 M521.0,780.8 H527.0 M521.0,795.9 H528.0 M521.0,811.1 H529.0 M521.0,826.2 H527.0 M521.0,841.4 H524.0" stroke="#888" stroke-width="1" fill="none"/>
<path d="M521.0,564.8 L522.0,567.3 L523.0,568.2 L532.0,568.8 L532.0,568.8 L523.0,569.4 L522.0,570.3 L521.0,572.8 Z" fill="#AC88FF" stroke="#333" stroke-width="0.6" stroke-linejoin="round"/>
<path d="M521.0,686.0 L522.0,688.5 L524.0,689.2 L534.6,690.0 L534.6,690.0 L524.0,690.8 L522.0,691.5 L521.0,694.0 Z" fill="#00BF7D" stroke="#333" stroke-width="0.6" stroke-linejoin="round"/>
<path d="M521.0,716.2 L523.0,716.2 L526.0,715.2 L529.0,716.7 L532.0,718.7 L536.0,720.2 L536.0,720.2 L532.0,721.7 L529.0,723.7 L526.0,725.2 L523.0,724.2 L521.0,724.2 Z" fill="#00B81F" stroke="#333" stroke-width="0.6" stroke-linejoin="round"/>
<path d="M521.0,730.9 L523.0,730.4 L526.0,729.4 L529.0,731.4 L532.0,733.4 L536.0,735.4 L536.0,735.4 L532.0,737.4 L529.0,739.4 L526.0,741.4 L523.0,740.4 L521.0,739.9 Z" fill="#5BB300" stroke="#333" stroke-width="0.6" stroke-linejoin="round"/>
<path d="M521.0,468 V850.3 H537.4" stroke="#111" stroke-width="1.6" fill="none"/>
<text transform="translate(521.5,862.8) rotate(45)" font-size="13.6" fill="#1a1a1a">Col23a1</text>
<path d="M547.7,478.0 H553.7 M547.7,493.1 H550.7 M547.7,508.3 H553.7 M547.7,523.4 H554.7 M547.7,538.6 H553.7 M547.7,553.7 H553.7 M547.7,568.8 H553.7 M547.7,584.0 H554.7 M547.7,599.1 H550.7 M547.7,614.3 H552.7 M547.7,629.4 H552.7 M547.7,644.5 H555.7 M547.7,659.7 H552.7 M547.7,674.8 H551.7 M547.7,690.0 H553.7 M547.7,720.2 H552.7 M547.7,735.4 H553.7 M547.7,795.9 H551.7 M547.7,811.1 H550.7 M547.7,826.2 H553.7 M547.7,841.4 H553.7" stroke="#888" stroke-width="1" fill="none"/>
<path d="M547.7,701.6 L549.7,702.1 L553.7,700.6 L556.7,701.6 L559.1,704.1 L560.7,705.1 L560.7,705.1 L559.1,706.1 L556.7,708.6 L553.7,709.6 L549.7,708.1 L547.7,708.6 Z" fill="#00BC59" stroke="#333" stroke-width="0.6" stroke-linejoin="round"/>
<path d="M547.7,745.5 L549.7,746.5 L552.7,748.0 L556.7,749.5 L559.7,750.5 L559.7,750.5 L556.7,751.5 L552.7,753.0 L549.7,754.5 L547.7,755.5 Z" fill="#85AD00" stroke="#333" stroke-width="0.6" stroke-linejoin="round"/>
<path d="M547.7,765.4 L553.7,765.2 L555.7,761.7 L557.7,759.2 L559.7,761.7 L561.7,765.7 L561.7,765.7 L559.7,769.7 L557.7,772.2 L555.7,769.7 L553.7,766.2 L547.7,766.0 Z" fill="#A3A500" stroke="#333" stroke-width="0.6" stroke-linejoin="round"/>
<path d="M547.7,778.8 L550.7,776.8 L554.7,773.8 L558.7,776.8 L562.4,780.8 L562.4,780.8 L558.7,784.8 L554.7,787.8 L550.7,784.8 L547.7,782.8 Z" fill="#BB9D00" stroke="#333" stroke-width="0.6" stroke-linejoin="round"/>
<path d="M547.7,468 V850.3 H564.1" stroke="#111" stroke-width="1.6" fill="none"/>
<text transform="translate(548.2,862.8) rotate(45)" font-size="13.6" fill="#1a1a1a">Rgs5</text>
<path d="M574.4,508.3 H582.4 M574.4,523.4 H579.4 M574.4,538.6 H578.4 M574.4,553.7 H581.4 M574.4,584.0 H578.4 M574.4,599.1 H582.4 M574.4,614.3 H580.4 M574.4,659.7 H578.4 M574.4,674.8 H580.4 M574.4,690.0 H582.4 M574.4,735.4 H578.4 M574.4,795.9 H577.4 M574.4,811.1 H581.4 M574.4,826.2 H578.4 M574.4,841.4 H579.4" stroke="#888" stroke-width="1" fill="none"/>
<path d="M574.4,472.0 L576.4,472.0 L578.9,473.5 L580.4,476.5 L581.4,477.4 L583.4,478.0 L583.4,478.0 L581.4,478.6 L580.4,479.5 L578.9,482.5 L576.4,484.0 L574.4,484.0 Z" fill="#FF6C90" stroke="#333" stroke-width="0.6" stroke-linejoin="round"/>
<path d="M574.4,492.1 L575.9,491.6 L577.4,492.6 L585.4,493.1 L585.4,493.1 L577.4,493.6 L575.9,494.6 L574.4,494.1 Z" fill="#FF65AE" stroke="#333" stroke-width="0.6" stroke-linejoin="round"/>
<path d="M574.4,562.3 L576.4,563.3 L579.4,564.8 L582.4,565.3 L584.4,563.8 L586.9,562.3 L588.4,564.8 L588.7,568.8 L588.7,568.8 L588.4,572.8 L586.9,575.3 L584.4,573.8 L582.4,572.3 L579.4,572.8 L576.4,574.3 L574.4,575.3 Z" fill="#AC88FF" stroke="#333" stroke-width="0.6" stroke-linejoin="round"/>
<path d="M574.4,624.4 L576.4,625.9 L579.4,627.4 L582.4,628.2 L585.4,629.4 L585.4,629.4 L582.4,630.6 L579.4,631.4 L576.4,632.9 L574.4,634.4 Z" fill="#00B8E5" stroke="#333" stroke-width="0.6" stroke-linejoin="round"/>
<path d="M574.4,641.5 L575.4,643.5 L577.4,644.0 L584.9,644.5 L584.9,644.5 L577.4,645.0 L575.4,645.5 L574.4,647.5 Z" fill="#00BDD0" stroke="#333" stroke-width="0.6" stroke-linejoin="round"/>
<path d="M574.4,702.1 L575.4,704.1 L577.4,704.6 L586.4,705.1 L586.4,705.1 L577.4,705.6 L575.4,706.1 L574.4,708.1 Z" fill="#00BC59" stroke="#333" stroke-width="0.6" stroke-linejoin="round"/>
<path d="M574.4,715.2 L576.4,716.7 L579.4,717.7 L582.4,719.0 L586.4,720.2 L586.4,720.2 L582.4,721.4 L579.4,722.7 L576.4,723.7 L574.4,725.2 Z" fill="#00B81F" stroke="#333" stroke-width="0.6" stroke-linejoin="round"/>
<path d="M578.4,750.2 L582.9,750.0 L584.4,746.5 L586.4,743.5 L587.9,746.5 L589.1,750.5 L589.1,750.5 L587.9,754.5 L586.4,757.5 L584.4,754.5 L582.9,751.0 L578.4,750.8 Z" fill="#85AD00" stroke="#333" stroke-width="0.6" stroke-linejoin="round"/>
<path d="M574.4,760.7 L576.4,762.7 L579.4,764.2 L582.4,764.9 L586.4,765.7 L586.4,765.7 L582.4,766.5 L579.4,767.2 L576.4,768.7 L574.4,770.7 Z" fill="#A3A500" stroke="#333" stroke-width="0.6" stroke-linejoin="round"/>
<path d="M574.4,779.8 L578.4,779.8 L581.4,777.8 L585.4,773.3 L587.4,776.8 L588.4,780.8 L588.4,780.8 L587.4,784.8 L585.4,788.3 L581.4,783.8 L578.4,781.8 L574.4,781.8 Z" fill="#BB9D00" stroke="#333" stroke-width="0.6" stroke-linejoin="round"/>
<path d="M574.4,468 V850.3 H590.8" stroke="#111" stroke-width="1.6" fill="none"/>
<text transform="translate(574.9,862.8) rotate(45)" font-size="13.6" fill="#1a1a1a">Acta2</text>
<path d="M601.1,478.0 H607.1 M601.1,493.1 H604.1 M601.1,508.3 H609.1 M601.1,523.4 H605.1 M601.1,538.6 H605.1 M601.1,553.7 H607.1 M601.1,568.8 H605.1 M601.1,584.0 H604.1 M601.1,599.1 H607.1 M601.1,614.3 H605.1 M601.1,629.4 H604.1 M601.1,644.5 H605.1 M601.1,659.7 H608.1 M601.1,674.8 H606.1 M601.1,690.0 H606.1 M601.1,705.1 H605.1 M601.1,720.2 H604.1 M601.1,735.4 H609.1 M601.1,750.5 H609.1 M601.1,765.7 H606.1 M601.1,780.8 H605.1 M601.1,811.1 H609.1 M601.1,826.2 H605.1 M601.1,841.4 H609.1" stroke="#888" stroke-width="1" fill="none"/>
<path d="M601.1,789.9 L602.6,792.4 L604.1,794.4 L606.1,794.1 L609.1,792.4 L612.1,792.9 L614.1,793.9 L615.7,795.9 L615.7,795.9 L614.1,797.9 L612.1,798.9 L609.1,799.4 L606.1,797.7 L604.1,797.4 L602.6,799.4 L601.1,801.9 Z" fill="#CF9400" stroke="#333" stroke-width="0.6" stroke-linejoin="round"/>
<path d="M601.1,468 V850.3 H617.5" stroke="#111" stroke-width="1.6" fill="none"/>
<text transform="translate(601.6,862.8) rotate(45)" font-size="13.6" fill="#1a1a1a">Trbc2</text>
<path d="M627.8,478.0 H630.8 M627.8,493.1 H635.8 M627.8,508.3 H633.8 M627.8,523.4 H631.8 M627.8,538.6 H631.8 M627.8,553.7 H632.8 M627.8,568.8 H631.8 M627.8,584.0 H632.8 M627.8,599.1 H634.8 M627.8,614.3 H633.8 M627.8,629.4 H632.8 M627.8,644.5 H633.8 M627.8,659.7 H633.8 M627.8,674.8 H633.8 M627.8,690.0 H635.8 M627.8,705.1 H633.8 M627.8,720.2 H631.8 M627.8,735.4 H633.8 M627.8,750.5 H635.8 M627.8,765.7 H632.8 M627.8,780.8 H633.8 M627.8,811.1 H631.8 M627.8,826.2 H633.8 M627.8,841.4 H635.8" stroke="#888" stroke-width="1" fill="none"/>
<path d="M627.8,789.9 L629.3,792.4 L630.8,794.9 L633.8,795.1 L635.8,793.4 L639.8,793.1 L641.8,793.7 L643.0,795.9 L643.0,795.9 L641.8,798.1 L639.8,798.7 L635.8,798.4 L633.8,796.7 L630.8,796.9 L629.3,799.4 L627.8,801.9 Z" fill="#CF9400" stroke="#333" stroke-width="0.6" stroke-linejoin="round"/>
<path d="M627.8,468 V850.3 H644.2" stroke="#111" stroke-width="1.6" fill="none"/>
<text transform="translate(628.3,862.8) rotate(45)" font-size="13.6" fill="#1a1a1a">Cd79a</text>
<path d="M654.4,478.0 H661.4 M654.4,523.4 H658.4 M654.4,538.6 H660.4 M654.4,553.7 H658.4 M654.4,568.8 H658.4 M654.4,584.0 H658.4 M654.4,599.1 H661.4 M654.4,614.3 H661.4 M654.4,629.4 H662.4 M654.4,644.5 H661.4 M654.4,659.7 H658.4 M654.4,674.8 H658.4 M654.4,690.0 H659.4 M654.4,705.1 H659.4 M654.4,720.2 H658.4 M654.4,735.4 H662.4 M654.4,750.5 H660.4 M654.4,765.7 H659.4 M654.4,780.8 H662.4 M654.4,795.9 H659.4" stroke="#888" stroke-width="1" fill="none"/>
<path d="M654.4,491.6 L656.4,492.1 L657.4,493.1 L657.4,493.1 L656.4,494.1 L654.4,494.6 Z" fill="#FF65AE" stroke="#333" stroke-width="0.6" stroke-linejoin="round"/>
<path d="M654.4,507.3 L656.4,507.8 L663.9,508.3 L663.9,508.3 L656.4,508.8 L654.4,509.3 Z" fill="#FF61C9" stroke="#333" stroke-width="0.6" stroke-linejoin="round"/>
<path d="M654.4,803.6 L656.4,804.1 L659.6,803.6 L662.4,806.1 L664.4,809.1 L667.1,811.1 L667.1,811.1 L664.4,813.1 L662.4,816.1 L659.6,818.6 L656.4,818.1 L654.4,818.6 Z" fill="#E08B00" stroke="#333" stroke-width="0.6" stroke-linejoin="round"/>
<path d="M654.4,824.2 L656.4,825.2 L658.4,823.2 L663.1,819.2 L665.4,822.2 L668.9,826.2 L668.9,826.2 L665.4,830.2 L663.1,833.2 L658.4,829.2 L656.4,827.2 L654.4,828.2 Z" fill="#ED8141" stroke="#333" stroke-width="0.6" stroke-linejoin="round"/>
<path d="M654.4,835.9 L656.4,837.9 L658.4,839.4 L660.4,838.9 L664.1,835.9 L666.4,838.4 L670.1,841.4 L670.1,841.4 L666.4,844.4 L664.1,846.9 L660.4,843.9 L658.4,843.4 L656.4,844.9 L654.4,846.9 Z" fill="#F8766D" stroke="#333" stroke-width="0.6" stroke-linejoin="round"/>
<path d="M654.4,468 V850.3 H670.8" stroke="#111" stroke-width="1.6" fill="none"/>
<text transform="translate(654.9,862.8) rotate(45)" font-size="13.6" fill="#1a1a1a">Cd68</text>
</svg>
</body></html>
